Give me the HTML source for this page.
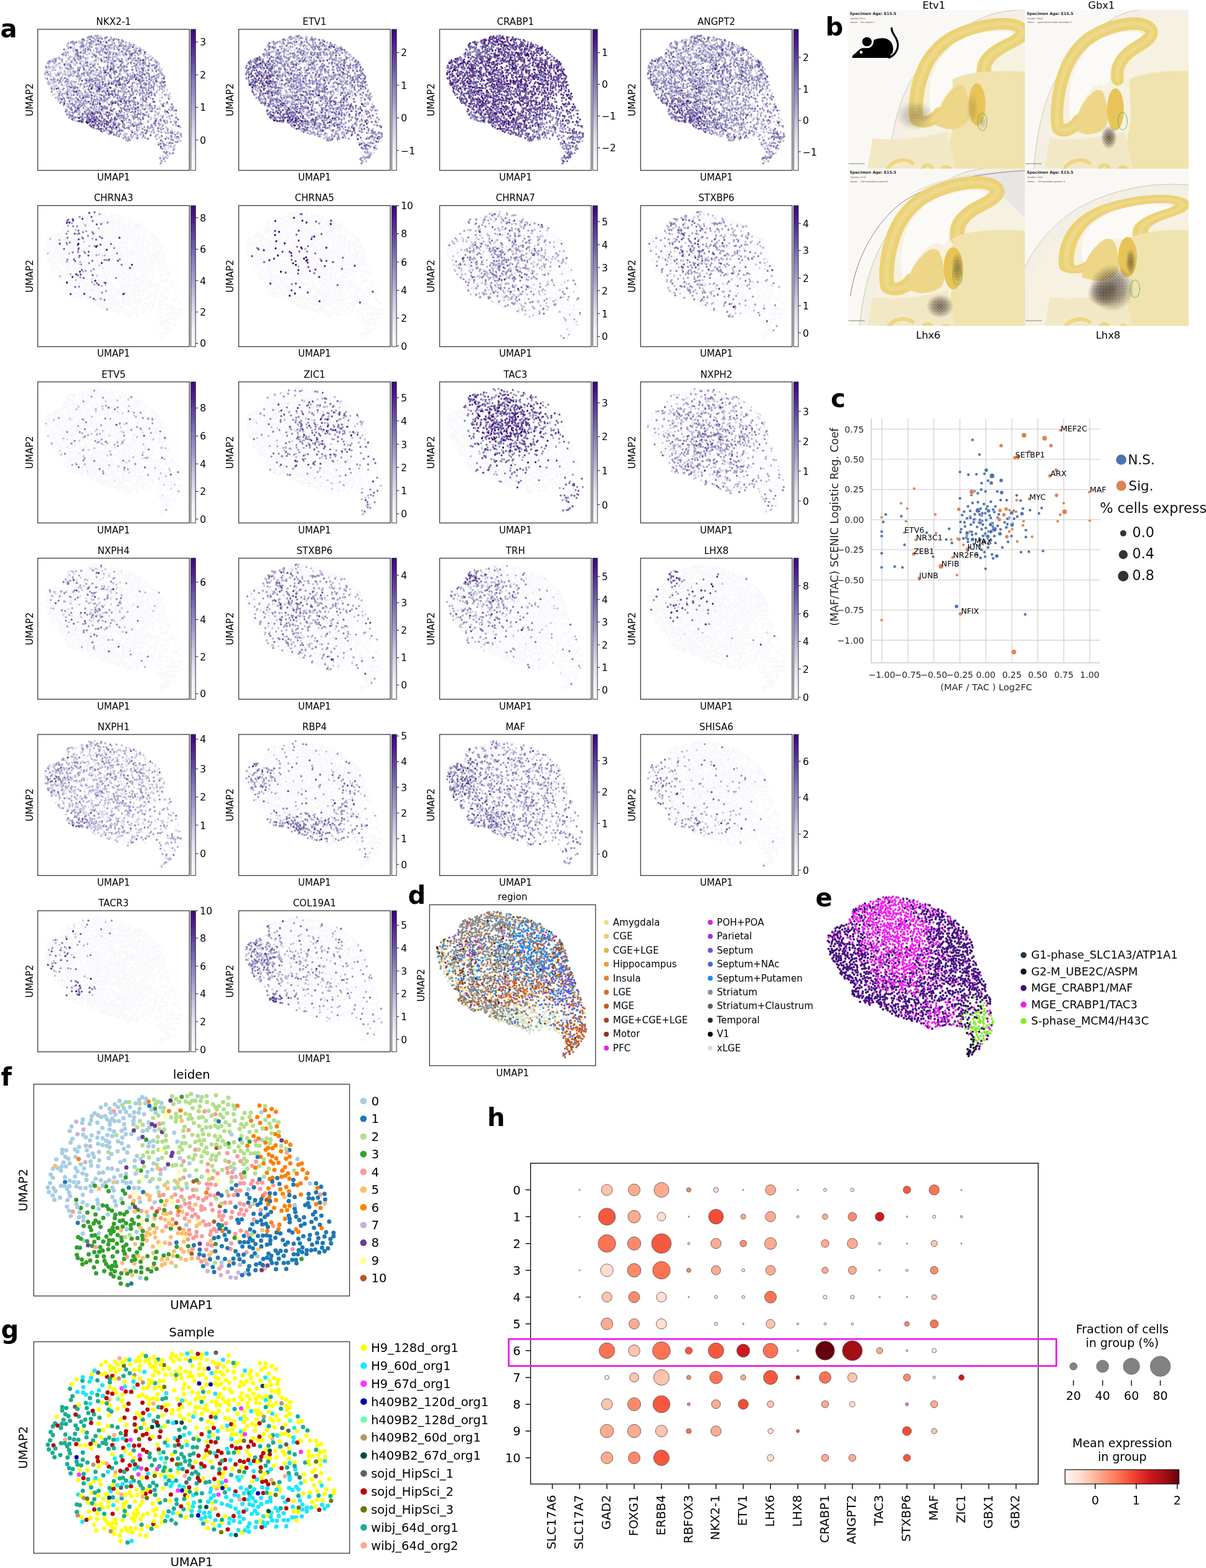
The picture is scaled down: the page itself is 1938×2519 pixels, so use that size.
<!DOCTYPE html><html><head><meta charset="utf-8"><style>html,body{margin:0;padding:0;background:#fff}svg{display:block}</style></head><body><svg width="1938" height="2519" viewBox="0 0 1938 2519" font-family="'DejaVu Sans', 'Liberation Sans', sans-serif"><rect width="100%" height="100%" fill="#fff"/><defs><linearGradient id="gP" x1="0" y1="1" x2="0" y2="0"><stop offset="0.000" stop-color="#fcfbfd"/><stop offset="0.125" stop-color="#efedf5"/><stop offset="0.250" stop-color="#dadaeb"/><stop offset="0.375" stop-color="#bcbddc"/><stop offset="0.500" stop-color="#9e9ac8"/><stop offset="0.625" stop-color="#807cba"/><stop offset="0.750" stop-color="#6950a3"/><stop offset="0.875" stop-color="#53268f"/><stop offset="1.000" stop-color="#3f007d"/></linearGradient><path id="cA" d="M173 23h0m10-2h0m4-1h0m2 3h0m5-2h0m9 2h0m91 21h0m-10-2h0m-10-3h0m-4-4h0m-2 8h0m-2 3h0m-4-1h0m0-4h0m-3-7h0m-6-2h0m-7 12h0m-1-13h0m-2 3h0m-4 7h0m-1-9h0m-1 4h0m-2-10h0m-3 6h0m-3 4h0m-5 10h0m-2-20h0m-2 16h0m-2-6h0m-1-8h0m0 4h0m-1-8h0m-4 16h0m-5-9h0m0 11h0m-4-14h0m-1 16h0m-1-4h0m-2-13h0m-2 12h0m0-9h0m-1 17h0m-2-10h0m-3-8h0m-1 18h0m-1-13h0m-3 7h0m-2-7h0m-2-6h0m0 11h0m-1 5h0m-3-17h0m-1 13h0m-3-10h0m-1 6h0m-1 11h0m-1-21h0m-2 16h0m-1-10h0m-3-8h0m0 20h0m-3-12h0m0 7h0m-1-12h0m-2 11h0m-1 6h0m0-10h0m-8 1h0m-4-3h0m0 4h0m-1 11h0m-1-5h0m-2-8h0m-1 13h0m-1-6h0m-4 4h0m-1-9h0m-3 4h0m-9 2h0m-5 3h0m-2-4h0m-3 3h0m-1-4h0m-5 2h0m-9 3h0m-13 19h0m4 5h0m4-18h0m1 5h0m2-8h0m1 16h0m1-8h0m1 4h0m3-5h0m4 4h0m4 12h0m0-15h0m3 5h0m0 5h0m1-18h0m2 15h0m0 8h0m1-14h0m1-7h0m5 15h0m1 6h0m3-5h0m6-10h0m4 7h0m1-5h0m2-4h0m0 17h0m2-14h0m4-5h0m1 16h0m0-5h0m1-5h0m1-6h0m4 17h0m1-17h0m0 11h0m2-15h0m3 9h0m0 13h0m2-5h0m4-3h0m2-6h0m1-5h0m0 14h0m2 4h0m3-13h0m3-6h0m4 0h0m0 18h0m5-7h0m3-11h0m1 11h0m1 5h0m1 4h0m5-6h0m2-10h0m2-4h0m2 19h0m2-10h0m1-10h0m0 17h0m3-11h0m1-4h0m0 20h0m2-8h0m2-12h0m2 7h0m3-4h0m1 8h0m2 3h0m3-11h0m2 12h0m0-17h0m2 9h0m3-6h0m1 8h0m2-3h0m1-7h0m2 13h0m1-4h0m2-11h0m0 8h0m2 10h0m3-10h0m1 3h0m0 5h0m3-12h0m4 4h0m3 4h0m2-10h0m1 7h0m0 8h0m4 3h0m0-14h0m1 10h0m0-14h0m4 4h0m4-5h0m1 16h0m1-4h0m3-8h0m1 13h0m2-4h0m2-7h0m1 9h0m0-15h0m3 21h0m3-3h0m1-5h0m1-5h0m1-7h0m3 21h0m1-11h0m0-11h0m0 5h0m4-5h0m0 4h0m5 4h0m4-8h0m1 16h0m3-4h0m1 9h0m1-16h0m3 15h0m0-7h0m5-2h0m2 3h0m0 6h0m3-6h0m1-5h0m1 10h0m3-3h0m7 1h0m28 26h0m-7-5h0m-6-6h0m-1 11h0m-5-19h0m-1 20h0m-2-4h0m0-10h0m-3-6h0m-2 9h0m-9-6h0m-4 1h0m0 16h0m-5 0h0m0-10h0m-4-6h0m-6-3h0m-1 10h0m0 8h0m-4 2h0m-2-17h0m-3-4h0m-1 12h0m0-5h0m-3 13h0m-1-13h0m-1 5h0m-1 5h0m-2-15h0m-1 3h0m-2 16h0m-5-8h0m-1-6h0m-3 13h0m0-16h0m-1 6h0m-4-3h0m0 4h0m-3-10h0m-1 7h0m-3-9h0m-4 19h0m-1-13h0m-2 4h0m-1-7h0m-2 4h0m-1 12h0m-2-5h0m-1-4h0m-2 9h0m0-16h0m-1 9h0m-2-5h0m-3 9h0m-1-13h0m-3 0h0m-2 6h0m-1 9h0m-2-6h0m-3-9h0m-2 7h0m-2 9h0m0-18h0m0 6h0m-4 4h0m0 9h0m-1-3h0m-2-8h0m-2-7h0m-3 11h0m0 6h0m0-14h0m-4-4h0m-2 17h0m-1 4h0m-1-21h0m0 9h0m-4 5h0m0-9h0m-3 5h0m0 8h0m-3 3h0m-2-18h0m-1-3h0m0 8h0m-4-7h0m-1 18h0m-2-12h0m-2 14h0m0-10h0m-1-10h0m-3 13h0m0-5h0m0 12h0m-5-9h0m-1-4h0m-1 10h0m-1-14h0m-2 4h0m0 4h0m-1 4h0m-2-11h0m-6 11h0m-1-11h0m-2 16h0m-2-7h0m-2 6h0m-1-12h0m-4 1h0m-1 11h0m-1-3h0m-1-18h0m-2 5h0m-2 13h0m-2-13h0m-1-5h0m0 14h0m-4 2h0m-2 7h0m-2-21h0m0 18h0m-1-5h0m-3-12h0m0 19h0m-1-5h0m-1-9h0m-1-3h0m-1 8h0m-1-12h0m-2 18h0m0-11h0m-2 8h0m-2-9h0m-1 6h0m0 9h0m-1-19h0m-1 15h0m-3 4h0m0-12h0m-6 8h0m-5-17h0m0 15h0m-4 5h0m-2-15h0m-1 5h0m-1-9h0m-4 17h0m-1-13h0m-1 6h0m-1-9h0m-6 7h0m-1-5h0m-1 11h0m-3-7h0m-9 12h0m-4-3h0m-5 3h0m-4 1h0m-6 1h0m-25 22h0m5-8h0m2-3h0m2 5h0m3-12h0m1 8h0m0-4h0m2 12h0m5-13h0m3 16h0m1-14h0m4 4h0m1-7h0m2 3h0m0-7h0m0 17h0m4 3h0m0-20h0m0 16h0m4-1h0m3-14h0m0 18h0m1-6h0m1-8h0m5 5h0m1 8h0m0-15h0m2 4h0m1-7h0m3 11h0m4 9h0m0-5h0m4-4h0m2-5h0m3 9h0m1-8h0m3 11h0m0-18h0m2 12h0m1 10h0m2-4h0m2-13h0m3 4h0m1 9h0m2-16h0m2 10h0m1 10h0m2-8h0m1-8h0m2-3h0m0 14h0m4 3h0m0-13h0m1 4h0m3 2h0m2-14h0m2 12h0m2-9h0m3 5h0m0 6h0m4 6h0m2-14h0m3 3h0m2 6h0m1 5h0m3-13h0m2 5h0m2 9h0m1-19h0m1 15h0m1-12h0m1 6h0m1 10h0m0-20h0m6 11h0m1 4h0m4-7h0m1 7h0m2-6h0m3 12h0m1-5h0m3-12h0m1 10h0m2 4h0m2-6h0m0-9h0m6 12h0m2-9h0m1-6h0m3 4h0m1 8h0m5-9h0m2 4h0m3-5h0m4 6h0m2 13h0m2-16h0m3 5h0m3-7h0m0 12h0m1-6h0m2-9h0m3 17h0m2-14h0m2 8h0m0 11h0m2-18h0m0 12h0m2-5h0m3-2h0m1-10h0m1 4h0m0 11h0m0 5h0m2-13h0m2 16h0m3-18h0m2 11h0m2-15h0m5 0h0m3 6h0m1-6h0m4 18h0m1-12h0m1 7h0m2-14h0m1 5h0m1 5h0m2 10h0m6 1h0m4-17h0m2 13h0m2-12h0m2 8h0m8 7h0m1-5h0m0-14h0m0 10h0m3-3h0m3-6h0m3 10h0m1 9h0m0-18h0m4 20h0m0-4h0m1-15h0m1 12h0m2 3h0m2-7h0m1-6h0m3 3h0m1-7h0m3 16h0m0-7h0m3-8h0m1 13h0m5 4h0m2-18h0m0 10h0m1-5h0m0 9h0m5-2h0m0-5h0m0-8h0m3 19h0m6 2h0m4-18h0m1 15h0m0-6h0m0 10h0m6-21h0m3 18h0m2-15h0m4 14h0m0-11h0m2 14h0m1-5h0m0-15h0m1 4h0m2 4h0m2 11h0m1-6h0m2-6h0m3 10h0m1-4h0m10 18h0m-1 13h0m-3-7h0m-1 6h0m-2-13h0m0-6h0m-2 10h0m-4-2h0m-6 5h0m0-14h0m0 10h0m-4-6h0m-2 17h0m-2-4h0m-4-5h0m0-12h0m-2 5h0m-7-2h0m-2 19h0m-2-12h0m-2-7h0m0 12h0m-3 4h0m-3-7h0m-5-8h0m-2 18h0m-1-23h0m-1 13h0m-1-4h0m-1 11h0m-1-15h0m-3 12h0m-2-14h0m-2 19h0m-1-6h0m-1-16h0m-1 8h0m-1 4h0m-2-10h0m-1 17h0m-3-6h0m0-12h0m-2 5h0m-10 4h0m-1 9h0m-1-18h0m-2 9h0m-12 2h0m-1-12h0m-1 19h0m-2 4h0m0-10h0m-1-12h0m-3 14h0m-1-3h0m-2 7h0m-1-3h0m-1-4h0m0-12h0m0 8h0m-6-5h0m-1-3h0m-2 8h0m0 4h0m-4 7h0m-1-5h0m0-14h0m-1 9h0m-4-6h0m-4 9h0m-1 6h0m-1 5h0m-2-8h0m-4 6h0m0-14h0m-1 10h0m-1-14h0m-1 9h0m-3-5h0m-1 12h0m0-16h0m-4 0h0m0 6h0m-2 4h0m-1-6h0m-5 14h0m-2-21h0m0 6h0m-3 16h0m0-11h0m-4 0h0m0 6h0m-3-4h0m-2 7h0m-2-9h0m0-8h0m-8 16h0m-2-14h0m0 10h0m-1 8h0m-2-22h0m-2 20h0m0-11h0m-5 0h0m-1 7h0m-3-5h0m-2 6h0m-1-14h0m-2 6h0m-3 4h0m-2 9h0m-2-14h0m0-7h0m-2 11h0m-1 3h0m-2 7h0m0-20h0m-1 16h0m-2-14h0m-1 5h0m-3-10h0m-2 17h0m0 4h0m-4-2h0m-2-9h0m-4 6h0m-2-6h0m-1-4h0m0-4h0m0 19h0m-4-21h0m-2 22h0m-7-14h0m0-6h0m-3 15h0m0-6h0m-1-8h0m-1 19h0m-1-9h0m0-7h0m-3 10h0m-6-4h0m-1 5h0m-3 5h0m-1-7h0m-1-9h0m-4 16h0m0-5h0m-2-16h0m-1 4h0m0 5h0m-2 8h0m-2-4h0m0-6h0m0-4h0m-4 3h0m-1 4h0m-1 5h0m-2 3h0m0-13h0m-2-5h0m-3 4h0m-2 15h0m-1-6h0m-2 5h0m-4-14h0m-2 5h0m-1-7h0m-3-3h0m0 18h0m-2-11h0m-3 16h0m0-21h0m0 13h0m-4 2h0m-2 3h0m-3-18h0m-2 15h0m-2-6h0m-1-9h0m-2 20h0m-2-19h0m-2 9h0m-2-5h0m-2-5h0m-1 9h0m-3 4h0m-2 7h0m-1-20h0m-3-2h0m0 6h0m-3 10h0m-2-9h0m-1 12h0m-2-17h0m-2 12h0m-2-10h0m0 17h0m0 4h0m1 12h0m6 1h0m1-4h0m2 12h0m0-21h0m6 8h0m1-7h0m2 16h0m2-12h0m2 13h0m3-1h0m0-6h0m4 11h0m1-7h0m2-16h0m1 7h0m2 13h0m1-15h0m3 14h0m2-17h0m0 10h0m6 8h0m2-15h0m0 10h0m3-5h0m4-5h0m0-5h0m1 20h0m1-5h0m4-2h0m2-11h0m1 21h0m1-16h0m1 6h0m3 4h0m2-12h0m1 18h0m1-21h0m0 17h0m2-8h0m1 12h0m0-16h0m4-5h0m0 7h0m4 7h0m0 7h0m0-19h0m3 2h0m3-1h0m5 8h0m3-9h0m2 4h0m0 8h0m4-5h0m0-6h0m3 18h0m1-17h0m1 11h0m0-15h0m2 10h0m2 7h0m2-15h0m2 17h0m6-18h0m3 5h0m1 10h0m4 2h0m0-6h0m2-12h0m2 20h0m1-6h0m2-11h0m1-5h0m1 21h0m1-7h0m2-6h0m1 9h0m2 6h0m2-5h0m2-12h0m0 17h0m2-11h0m2 10h0m0-20h0m4 12h0m1-12h0m1 19h0m2-6h0m1-13h0m0 7h0m1 10h0m2-4h0m3-11h0m2 15h0m0-6h0m3-6h0m0 16h0m5-14h0m0-4h0m1 11h0m3-3h0m5-7h0m1 10h0m1-6h0m1 12h0m3-19h0m7 16h0m3 3h0m2-19h0m0 4h0m0 3h0m4 3h0m0-9h0m1 16h0m8-11h0m0 14h0m2-22h0m1 11h0m1 6h0m0 4h0m5 1h0m1-14h0m3-6h0m0 19h0m1-15h0m3 11h0m1-18h0m1 14h0m2-6h0m1-6h0m3 14h0m3-6h0m1 6h0m1 3h0m4-9h0m0 12h0m4-8h0m3 6h0m1-12h0m0 5h0m2-11h0m2 3h0m3 13h0m2-10h0m1-8h0m3 14h0m0-4h0m2-4h0m2 9h0m0-4h0m3-11h0m0 5h0m3 6h0m2-5h0m0-5h0m4 16h0m1-6h0m1-10h0m4 11h0m1 8h0m1-18h0m1 4h0m0 10h0m4 1h0m1-11h0m2 2h0m3-6h0m0 10h0m1 7h0m3-11h0m1 6h0m1 7h0m2-19h0m6 9h0m0-11h0m1 20h0m2-14h0m6 0h0m0 11h0m1-5h0m5 8h0m2-8h0m2-3h0m0 8h0m5 4h0m1-15h0m1 4h0m2 4h0m1 4h0m2 5h0m1-14h0m0-5h0m1 15h0m0-4h0m4-12h0m1 6h0m1-9h0m3 4h0m2 11h0m6-12h0m1 11h0m2 5h0m1-16h0m2 11h0m2-6h0m5 26h0m-4 2h0m0-11h0m-1 21h0m-1-5h0m-1-14h0m-6-3h0m0 16h0m-1-12h0m-1 8h0m-1-5h0m-2-3h0m-2 19h0m0-6h0m-2-5h0m-2-11h0m-4 14h0m-2-13h0m0 9h0m-8-5h0m0 5h0m-2 6h0m-1-15h0m0 19h0m-6-9h0m0 5h0m-2 4h0m-1-17h0m-4 4h0m0-6h0m-1 13h0m0 6h0m-8-12h0m-2 12h0m0-15h0m-1 6h0m0-11h0m-4 4h0m-1 15h0m-5-9h0m-1-11h0m-1 19h0m-2-3h0m0-6h0m-2-4h0m-1 14h0m-1-20h0m-2 8h0m-4-1h0m-2 8h0m-1-6h0m0 14h0m-3-20h0m-1 18h0m-6-19h0m-2 15h0m-2-11h0m-2 7h0m-1 10h0m-1-7h0m-6 2h0m-2-18h0m-4 4h0m-5 19h0m-2-9h0m0-4h0m-4 9h0m-1-14h0m-1 17h0m0-11h0m-3-3h0m0 8h0m-1-4h0m-3 10h0m-3-13h0m-1 10h0m-2-14h0m0-4h0m-2 10h0m-1-9h0m-1 16h0m-2-9h0m-4 7h0m0 5h0m-1-15h0m-1 6h0m-1 7h0m-6-16h0m-1 5h0m-3-7h0m-2 6h0m-2-4h0m-2 17h0m-5-15h0m-1 12h0m0-16h0m-2 7h0m-5 8h0m0-10h0m-4 3h0m-2 5h0m-1-8h0m-3 14h0m-2-18h0m-1 7h0m-1-9h0m-1 20h0m0-3h0m-3-9h0m-1 12h0m-2-6h0m-2-11h0m0 6h0m-1 9h0m-3-14h0m-1 12h0m-2 4h0m0-11h0m-1-8h0m-3 13h0m0 5h0m-3 3h0m0-17h0m-1 5h0m-3 13h0m-2-9h0m-3 3h0m0-7h0m-2 13h0m-3-6h0m0-10h0m-3 5h0m-1-11h0m-1 16h0m-3-14h0m-3 11h0m-4-9h0m-4 2h0m-1 9h0m-3-5h0m0 11h0m-8-14h0m0 13h0m-3-8h0m-3 8h0m-3-13h0m-2 12h0m-5-19h0m-1 19h0m-2-9h0m0 6h0m-2 5h0m-1-8h0m0-13h0m0 18h0m-1-13h0m-3-3h0m-2 15h0m-1-7h0m-2-4h0m-2 11h0m-1-14h0m-3 10h0m-3-7h0m-1 10h0m-2-11h0m-2 5h0m0 5h0m-2-11h0m-1 16h0m-3-20h0m-2 10h0m-2 11h0m-2-8h0m-2-8h0m0 15h0m-3-21h0m0 11h0m-1-4h0m-2 10h0m0-15h0m-4-2h0m-3 22h0m0-16h0m-1 11h0m-5 6h0m-2-11h0m-1-12h0m-3 18h0m-2-6h0m-1-8h0m-4 12h0m-1-6h0m-1-8h0m-1 21h0m-2-6h0m-1-14h0m0 4h0m-3 4h0m-1-7h0m-2 3h0m-1 4h0m-1-9h0m-1 4h0m11 24h0m1 3h0m3 4h0m2 6h0m3-18h0m3 15h0m3-11h0m4 4h0m6 12h0m0-6h0m1-11h0m1 7h0m1-3h0m4 11h0m3-4h0m1 8h0m1-21h0m5 12h0m4 1h0m1-7h0m2 5h0m2 8h0m1-3h0m0-18h0m0 6h0m4 8h0m1-7h0m0 16h0m1-22h0m3 9h0m1 6h0m2 5h0m1-15h0m2 6h0m3-12h0m0 7h0m1 12h0m3-6h0m1-4h0m3-3h0m1 9h0m2-6h0m2-6h0m1 16h0m2-6h0m3-8h0m2 9h0m1 7h0m0-14h0m5 7h0m3 6h0m6-1h0m1-9h0m1-5h0m2 13h0m2-7h0m1 10h0m4-6h0m1-14h0m2 21h0m2-20h0m1 6h0m5 3h0m0 7h0m2 3h0m3 2h0m0-16h0m3 6h0m1 8h0m4-2h0m1-8h0m1-8h0m3 4h0m2 9h0m0-13h0m1 7h0m4-4h0m0-6h0m2 17h0m4-17h0m1 19h0m1-13h0m4 3h0m0 11h0m3-16h0m4 17h0m0-12h0m2 4h0m0-13h0m2 19h0m1-3h0m2-11h0m1-5h0m2 9h0m2 10h0m1-6h0m2-7h0m4 11h0m4-11h0m0 9h0m1 4h0m3-19h0m3 5h0m0 8h0m0-3h0m2-8h0m2 14h0m1 3h0m3-13h0m0 15h0m3-19h0m1 18h0m0-6h0m1-9h0m0 5h0m6-4h0m3 2h0m4-8h0m1 4h0m1 5h0m0 13h0m3-6h0m0-14h0m3 8h0m5 6h0m2-5h0m5-4h0m2 5h0m3 5h0m0-9h0m3 13h0m2-16h0m2 14h0m1-9h0m3 5h0m4-14h0m1 6h0m5 10h0m0-12h0m4 5h0m6 8h0m0-14h0m1 9h0m3-1h0m3 2h0m1-14h0m1 6h0m1 16h0m1-13h0m3 4h0m4 7h0m1-17h0m4 8h0m0 5h0m5-12h0m1 13h0m2-5h0m4-6h0m2 6h0m1 7h0m7-18h0m1 15h0m2 5h0m6-12h0m3-6h0m5 1h0m1 13h0m6 3h0m3-8h0m0-12h0m5 5h0m3 12h0m3 5h0m3-4h0m1-15h0m0 5h0m5 14h0m3-7h0m3 9h0m-4 10h0m-1-4h0m-2-3h0m-3 2h0m-1 14h0m-9-9h0m0 12h0m-7-18h0m-6 9h0m0-8h0m-18 12h0m-4-1h0m-1-8h0m-7-4h0m-7-3h0m-5 20h0m-2-18h0m-1 6h0m-1 7h0m-4-15h0m-2 13h0m-2-3h0m-1-5h0m-1 13h0m-4-7h0m-1-5h0m-3 7h0m-1 4h0m-6 5h0m-2-5h0m-6-14h0m-2 15h0m-2-7h0m-1-7h0m-2 12h0m-5-4h0m-4-11h0m-1 13h0m-2 3h0m-1-17h0m-1 6h0m0 15h0m-1-8h0m-5 0h0m-3-8h0m0 12h0m0 4h0m-1-21h0m-3 5h0m-1 8h0m0 8h0m-1-22h0m-4 4h0m-1 16h0m-1-11h0m-3-6h0m-1 13h0m0-8h0m-4 6h0m-1-14h0m0 5h0m-4 9h0m-2-6h0m-1 13h0m0-17h0m-4 13h0m-2 3h0m-2-4h0m-1-15h0m-4 0h0m0 19h0m-4 2h0m0-8h0m-5 4h0m-1-11h0m-2-5h0m-4 2h0m-1 5h0m-2 12h0m-1-5h0m-1-8h0m-5 5h0m0-8h0m-3 13h0m-1-12h0m0 6h0m0-10h0m-4 19h0m-1-7h0m-3-2h0m-1-5h0m-4 6h0m0-10h0m-1 17h0m-4-10h0m-3 3h0m0 6h0m-1-10h0m-1-7h0m-3 9h0m-3 4h0m-1-14h0m-1 9h0m-2 4h0m-2 4h0m-1-11h0m-4 12h0m0-13h0m-1 7h0m-2-11h0m-1 21h0m-5-20h0m-1 14h0m-4 4h0m-1-20h0m-1 14h0m-2 7h0m0-19h0m-3 12h0m0-6h0m-1-9h0m-3 23h0m0-7h0m-1-16h0m-2 4h0m-2 18h0m-2-11h0m-2 12h0m-1-5h0m0-13h0m-2 10h0m-1-14h0m-3 12h0m-2 6h0m-1-4h0m-1-7h0m-1 10h0m-3-14h0m-2 7h0m-1 4h0m-1 4h0m-2-10h0m-5-2h0m-1 7h0m-1 9h0m-3-13h0m-2 4h0m0-9h0m-4 4h0m-1 5h0m0 4h0m-1 5h0m-2-18h0m-3-2h0m0 20h0m-7-8h0m-2-6h0m-1 14h0m0-5h0m-2-13h0m-2 16h0m-3-13h0m-1 12h0m-1-3h0m-4-12h0m-1 15h0m0-9h0m-3 4h0m-1-4h0m-2-10h0m0 6h0m-8-3h0m27 24h0m7 13h0m2 3h0m0-13h0m4 3h0m1-6h0m4 6h0m3 5h0m0-15h0m3 12h0m2-6h0m0 13h0m4-14h0m4-2h0m0 5h0m2 13h0m1-10h0m2 8h0m0-19h0m3 5h0m2 7h0m0 6h0m2-12h0m1 7h0m1 8h0m3-20h0m1 8h0m1-4h0m4 15h0m1-15h0m5 7h0m1-9h0m1 13h0m2-10h0m2 16h0m2-11h0m1 9h0m4 0h0m1-6h0m3 4h0m2 4h0m0-14h0m3 11h0m2-7h0m0-10h0m3 3h0m1 6h0m3-10h0m0 16h0m3-12h0m1 16h0m0-7h0m2-3h0m1-10h0m3 15h0m1-7h0m1-8h0m5 14h0m2 7h0m2-7h0m0-15h0m1 8h0m3-1h0m2 11h0m2-9h0m2 5h0m4 4h0m0-11h0m0 5h0m4 2h0m1-5h0m4 7h0m1-4h0m4 10h0m3-21h0m4 11h0m1 9h0m0-4h0m2-8h0m1-6h0m2 20h0m1-4h0m4-3h0m14-15h0m2 4h0m2 18h0m2-12h0m3 7h0m0-16h0m2 13h0m4-2h0m4-2h0m0 7h0m3-12h0m1 15h0m2-2h0m0-16h0m4 14h0m2-9h0m0 11h0m4-5h0m0 4h0m1-15h0m3 2h0m3 8h0m3 3h0m3-6h0m0-8h0m1 16h0m2-18h0m3 18h0m0-15h0m1 11h0m4-2h0m0 4h0m1-15h0m4 20h0m0-11h0m3 7h0m4-9h0m0 14h0m0-19h0m2 12h0m3-10h0m2-3h0m0 12h0m2-8h0m4 11h0m3-2h0m1-10h0m2 7h0m3-9h0m3 13h0m2-7h0m3 6h0m0-11h0m1-4h0m1 23h0m2-16h0m3 15h0m0-11h0m1 5h0m8-3h0m0-7h0m1 17h0m7-7h0m7-7h0m1 6h0m4 6h0m0-21h0m4 4h0m2 3h0m1-6h0m5 7h0m1 12h0m3-19h0m5-1h0m4 17h0m6-7h0m0 10h0m3-19h0m1 9h0m0 7h0m3-9h0m2 4h0m3 9h0m6 0h0m-1 23h0m-1-12h0m-12 4h0m-7 10h0m-2-7h0m-2-10h0m-4-4h0m0 17h0m-4-10h0m-3-7h0m-7 14h0m-1 5h0m-5-6h0m-6-10h0m-4 10h0m0-6h0m-5-7h0m-3 6h0m-1 6h0m-3 7h0m-9-2h0m-8-2h0m-1-7h0m-5 5h0m0-12h0m-4 2h0m-3 7h0m-3 2h0m-2-5h0m-1 12h0m-6-15h0m-2 8h0m-1-5h0m-1 14h0m-5-14h0m0-5h0m-1 19h0m-2-5h0m-1-6h0m-5-11h0m-1 9h0m0 10h0m-2-6h0m-2 9h0m-1-17h0m-1 12h0m-2-16h0m-3 21h0m0-10h0m-2-10h0m-6-2h0m0 13h0m-4-7h0m0 11h0m-2 4h0m-1-11h0m0-10h0m-6 22h0m-2-3h0m-1-7h0m0-7h0m-1 10h0m-3 5h0m-3-7h0m-2-13h0m-1 19h0m-1-6h0m-1-9h0m-2 17h0m-2-8h0m-2 8h0m-1-14h0m0 8h0m-3 7h0m-2-13h0m0 6h0m-2-12h0m-3 16h0m-1 3h0m-5-20h0m-2 8h0m-4 12h0m-2-13h0m-3 3h0m-2-8h0m-2 9h0m-1 8h0m-4-19h0m-1 13h0m-2-5h0m-1-7h0m-6 6h0m-4-8h0m0 22h0m-2-7h0m-1 5h0m-2-11h0m-2-3h0m-2-5h0m-1 14h0m-3-12h0m-3 1h0m0 18h0m-3-23h0m0 19h0m-3-4h0m-1-14h0m-2 21h0m0-17h0m-2 3h0m-2 11h0m0-8h0m-1-7h0m-3 3h0m-2-5h0m0 13h0m0 6h0m-4-9h0m0-3h0m-2-5h0m-1 12h0m-3 4h0m-1-11h0m0-5h0m-3 19h0m0-7h0m-1-5h0m-2-3h0m-1 11h0m-1-17h0m-1 6h0m-3-7h0m-2 19h0m-2-12h0m-3-1h0m-1 4h0m0 4h0m-1 6h0m-4-5h0m-2-14h0m-2 10h0m-1-6h0m0 15h0m-2-11h0m-4 9h0m-1-14h0m-1-4h0m-4 17h0m-3-16h0m-1 20h0m-2-5h0m0-11h0m-4 12h0m0-6h0m0-9h0m-3 13h0m-2-3h0m-1 7h0m-2-10h0m-1-9h0m-2 17h0m0 4h0m-2-16h0m-3 5h0m-3-3h0m-3-8h0m22 25h0m2 3h0m7 0h0m4 3h0m6-1h0m3 2h0m2-3h0m5 3h0m0-4h0m4 6h0m0-5h0m1-4h0m12 9h0m0-5h0m3 8h0m2-6h0m2-5h0m1 9h0m3-9h0m0 17h0m0-12h0m4-5h0m0 12h0m4-5h0m1 11h0m2-9h0m1-10h0m1 20h0m2-16h0m1 5h0m2 5h0m0-13h0m1 6h0m3 13h0m2-13h0m1 11h0m3-18h0m1 4h0m0 8h0m3 4h0m3-11h0m0 5h0m1 11h0m3-5h0m2-6h0m1-5h0m5-4h0m0 6h0m0 7h0m6-8h0m0 7h0m2-4h0m0 9h0m4 0h0m2-7h0m3-3h0m1-4h0m3-3h0m0 8h0m1 7h0m3-11h0m1 17h0m0-21h0m3 10h0m0 5h0m0 4h0m3-14h0m1-4h0m0 11h0m1 4h0m4 4h0m0-20h0m3 12h0m4 9h0m0-4h0m1-4h0m3 2h0m5-12h0m3 13h0m0-10h0m1 4h0m0 10h0m3-18h0m0-4h0m1 17h0m2 4h0m3-16h0m3-4h0m1 11h0m5 10h0m1-11h0m1-8h0m4 6h0m1 5h0m1 8h0m1-18h0m5 14h0m3-15h0m0 20h0m1-9h0m4-3h0m0-7h0m2 16h0m1-5h0m2 8h0m0-5h0m5-16h0m1 17h0m0-5h0m3 3h0m3-14h0m0 8h0m2 5h0m5 1h0m2-17h0m5 12h0m10-5h0m1 4h0m6-7h0m2-4h0m3 20h0m7-4h0m3-6h0m1-9h0m2 20h0m0-7h0m1-8h0m2-6h0m6 15h0m1-7h0m1 15h0m2-4h0m3-17h0m1 4h0m0 11h0m7 3h0m3-16h0m2 4h0m4 7h0m0-11h0m3 2h0m2 5h0m11-1h0m8 9h0m4-11h0m2 5h0m3 7h0m1-10h0m5-8h0m2 21h0m4 0h0m4 23h0m-3-19h0m-1 19h0m-6-3h0m-3 3h0m-9-4h0m-3 4h0m-4-14h0m0 8h0m0 5h0m-4-2h0m-1 4h0m0-11h0m-8 9h0m-1-13h0m-1 5h0m-5-10h0m0 18h0m-6-3h0m-2-10h0m-4-6h0m-3 17h0m-1-9h0m-2-4h0m-2 11h0m-5-3h0m0-9h0m-14 14h0m-1-11h0m0-4h0m-1 9h0m-3-6h0m0-6h0m-3 17h0m-2-17h0m-3 5h0m-2 9h0m-4-14h0m-1 4h0m-3 17h0m0-5h0m0-4h0m-4 9h0m-2-11h0m-1-9h0m-5 18h0m-1-12h0m-3 10h0m-1-18h0m-1 21h0m-7-18h0m0 7h0m-4 4h0m-2-10h0m-1 6h0m-3 7h0m-4 0h0m-7 2h0m0-7h0m-5 2h0m-6-5h0m-1-5h0m-6 0h0m-6 3h0m-1 15h0m-1-19h0m-3 10h0m0-11h0m-4 0h0m0 12h0m-3-4h0m-1 5h0m-2 5h0m-1-8h0m-3 3h0m0-9h0m-3-3h0m-3 16h0m-1-8h0m-2-8h0m-1 4h0m-4 0h0m-2 15h0m-3-19h0m-2 16h0m-1-9h0m-1-5h0m-2 13h0m0 5h0m-3-22h0m-1 19h0m-1-4h0m-2-13h0m-2 10h0m-5 8h0m0-17h0m-1 8h0m-2-5h0m-2 4h0m-1-7h0m-2 10h0m-1-14h0m-2 11h0m-2-4h0m0 10h0m-6-9h0m0 6h0m-6-5h0m-2-9h0m0 4h0m-3 3h0m-6 1h0m-8-4h0m-7-4h0m57 24h0m17 2h0m5 1h0m4-2h0m2 7h0m5-5h0m0 5h0m5-7h0m9 0h0m0 13h0m3-9h0m4 6h0m1-11h0m1 20h0m0-13h0m3 8h0m0-15h0m2 22h0m3-11h0m1 6h0m3 3h0m3-13h0m1-4h0m0 13h0m2-5h0m3-1h0m3-3h0m4-7h0m3 12h0m2 6h0m1-18h0m2 14h0m1-9h0m0 5h0m2 6h0m7-14h0m5 10h0m4-9h0m1 4h0m4 6h0m10 3h0m9-11h0m1-4h0m15 7h0m3 9h0m1-14h0m3 2h0m6 7h0m4 8h0m2-13h0m13 9h0m4-5h0m4 4h0m3-5h0m4-2h0m2 10h0m2-11h0m0 5h0m5 8h0m2-8h0m2-12h0m3 2h0m0 8h0m4 4h0m2-4h0m3 0h0m1 6h0m5-4h0m2 10h0m1-20h0m1 5h0m-12 18h0m-3 2h0m-3 20h0m-1-22h0m-2 20h0m0-8h0m-3 2h0m-1 6h0m-3-15h0m-4 0h0m-1 10h0m-3-13h0m-2 2h0m0 11h0m-3 5h0m-2-8h0m-2-8h0m-4 7h0m-4 4h0m0 4h0m-2-8h0m-1-5h0m-2 8h0m-2-10h0m-1-4h0m-4 16h0m-1-9h0m0 12h0m-6-15h0m0 5h0m11 14h0m1 23h0m4-13h0m3-10h0m2 14h0m3-7h0m1-5h0m0 17h0m1-8h0m3 11h0m1-5h0m3-8h0m1 12h0m0-7h0m4 2h0m7-2h0m3-11h0m-17 24h0m-5 3h0m-2-3h0m-3 13h0m-2-12h0m-3 5h0m-3-6h0m-3 14h0m-2-12h0m-1 9h0m-1 9h0m-2-17h0m-3 4h0"/><radialGradient id="gSt"><stop offset="0" stop-color="#4a3c36" stop-opacity=".6"/><stop offset=".6" stop-color="#6a5a48" stop-opacity=".3"/><stop offset="1" stop-color="#8a7a60" stop-opacity="0"/></radialGradient><radialGradient id="gW"><stop offset="0" stop-color="#fff"/><stop offset=".5" stop-color="#fff" stop-opacity=".8"/><stop offset="1" stop-color="#fff" stop-opacity="0"/></radialGradient><mask id="mSp" maskContentUnits="objectBoundingBox"><rect width="1" height="1" fill="url(#gW)"/></mask><pattern id="pSp" width="5" height="5" patternUnits="userSpaceOnUse"><path d="M1 1h.9M3.4 2.2h.9M.6 3.6h.9M2.6 4.3h.8M4 .2h.8" stroke="#2a1e1c" stroke-width="1" stroke-linecap="round"/></pattern><linearGradient id="gR" x1="0" y1="0" x2="1" y2="0"><stop offset="0.000" stop-color="#fff5f0"/><stop offset="0.125" stop-color="#fee0d2"/><stop offset="0.250" stop-color="#fcbba1"/><stop offset="0.375" stop-color="#fc9272"/><stop offset="0.500" stop-color="#fb694a"/><stop offset="0.625" stop-color="#ee3a2c"/><stop offset="0.750" stop-color="#ca181d"/><stop offset="0.875" stop-color="#a30f15"/><stop offset="1.000" stop-color="#67000d"/></linearGradient></defs><g transform="scale(.5)" fill="none" stroke-width="6.6" stroke-linecap="round"><path stroke="#fcfbfd" d="M284 133h0m-53 33h0m124-15h0m-28 34h0m-13-10h0m-31 16h0m-92 5h0m5 6h0m41 11h0m114-5h0m69 2h0m-116 14h0m-79-6h0m-22 1h0m-22 12h0m-27 17h0m33 3h0m45 3h0m86-3h0m-123 28h0m-31-14h0m5 34h0m282 25h0m-227-5h0m-25 12h0m255 18h0m-20 37h0m84 121h0"/><path stroke="#f7f5f9" d="M338 126h0m-43-2h0m-72 25h0m75-5h0m83 29h0m-46 15h0m-6-16h0m-146 20h0m14 22h0m7-12h0m27 7h0m263 24h0m-311-17h0m211 71h0m-133-4h0m-59-15h0m-22 23h0m273 7h0m83-4h0m-19 61h0m43 75h0m-48 82h0"/><path stroke="#f1f0f6" d="M279 128h0m167 30h0m-68 23h0m-37-2h0m-55 9h0m-3-7h0m-28-12h0m-93 40h0m27 1h0m9-1h0m19-11h0m32 6h0m48-4h0m24-5h0m1 8h0m21-2h0m67 14h0m38 0h0m42 0h0m-44 11h0m-46 8h0m-27 3h0m-148-9h0m-37 3h0m-43-13h0m50 25h0m17 2h0m2 6h0m14-4h0m15 4h0m224 12h0m48-10h0m18 20h0m-21 2h0m-277-10h0m-22 2h0m-1 17h0m-11 0h0m-41-11h0m-4 0h0m76 25h0m143-6h0m162 23h0m-72 79h0m82 44h0m-7 57h0m4 4h0"/><path stroke="#eae8f1" d="M215 150h0m172 35h0m-27-7h0m-26-2h0m-4 5h0m-19-3h0m-14 1h0m-9 4h0m-46-14h0m-22 3h0m-6 13h0m-11-3h0m-17 24h0m49-3h0m4-6h0m14 5h0m25-10h0m214 3h0m3 42h0m-56-21h0m-207 15h0m-26 2h0m-31 3h0m-8 8h0m57 17h0m36-3h0m98 1h0m9-12h0m20-1h0m73 1h0m-80 33h0m-6 3h0m-50-12h0m-86-3h0m34 37h0m35-8h0m212 9h0m8 14h0m-173-3h0m-110 4h0m44 21h0m61 15h0m74 23h0m-7-9h0m-35 8h0m-133-16h0m285 23h0m-43 27h0m-84 24h0m33 11h0m6-2h0m119 32h0m-21 9h0m-2 18h0"/><path stroke="#e1e1ed" d="M345 140h0m-34-12h0m-55 2h0m-39 12h0m2 17h0m7 8h0m28-17h0m79 17h0m26-10h0m3-7h0m2 10h0m16-16h0m70 8h0m20 15h0m7 8h0m-75 2h0m-16-5h0m-6 13h0m-69 3h0m-11-3h0m-3-10h0m-20 1h0m-3 8h0m-36-8h0m-48 16h0m55 19h0m22-12h0m18 16h0m4-13h0m20 1h0m7-6h0m22 15h0m161-16h0m-24 35h0m-100-5h0m-58-2h0m-89 1h0m-28-1h0m-33-8h0m2 42h0m10-13h0m66-3h0m11-2h0m17 6h0m25-2h0m110 2h0m20-3h0m96 14h0m-76 13h0m-8 15h0m-3-2h0m-66-2h0m-116 2h0m-17-6h0m-34-1h0m-35-3h0m47 35h0m82 2h0m1-17h0m79-5h0m135 15h0m28 11h0m-8 21h0m-19-20h0m-109 2h0m-107 1h0m-70 6h0m-26 8h0m-9-11h0m38 20h0m61-5h0m137 16h0m70 13h0m-47 6h0m-87-11h0m-109 10h0m173 15h0m149 20h0m-25 9h0m-5 5h0m-62 12h0m-50-8h0m-14 24h0m5-7h0m117 0h0m14 2h0m20 0h0m-33 29h0m-10 9h0"/><path stroke="#d7d7e8" d="M325 117h0m33 13h0m-10 13h0m-41-8h0m-5 3h0m-91 25h0m28-11h0m20 5h0m22 8h0m20-20h0m18 4h0m2-5h0m93 0h0m10 23h0m13-19h0m-23 25h0m-6 7h0m-32-10h0m-21 6h0m-37 15h0m-24-19h0m-48 10h0m-3 6h0m-3-4h0m-8 0h0m-13-7h0m-72 34h0m31-2h0m36 6h0m67-20h0m12 4h0m7 8h0m32-14h0m21 1h0m9 6h0m48-5h0m35 4h0m50-1h0m4 9h0m11 2h0m-22 11h0m-8-2h0m-6 0h0m-4 20h0m-19-21h0m-8 16h0m-34 0h0m-23 0h0m-2-10h0m-72 9h0m-13 5h0m-2-13h0m-1-8h0m-8 3h0m-35 13h0m-6-1h0m-16 5h0m-15-2h0m-16-17h0m-9 13h0m-13-14h0m-9 6h0m-3 3h0m-3 4h0m-6-9h0m-5 2h0m29 36h0m18 4h0m3-19h0m19 14h0m1-8h0m25 6h0m65 8h0m40-3h0m28-19h0m17 17h0m100-10h0m3 8h0m9 7h0m20 21h0m-72-11h0m-92 13h0m-29-17h0m-21-3h0m-14 19h0m-9-6h0m-48 3h0m-2-9h0m-34 0h0m-38 5h0m-7-9h0m14 34h0m45-3h0m5-3h0m12 2h0m6 3h0m123-3h0m47 0h0m92-9h0m25 18h0m16 3h0m-5 9h0m-4 14h0m-90-5h0m-119 3h0m-70 1h0m-39 0h0m-31-8h0m57 14h0m16 15h0m27 0h0m122-1h0m39-11h0m62 2h0m16-2h0m-21 30h0m-21 5h0m-76-13h0m-2 15h0m-182-1h0m134 10h0m16 8h0m77 11h0m28-21h0m96 42h0m-17-4h0m-33 0h0m-14-1h0m-35-2h0m-8 7h0m-39-5h0m-7-5h0m-25 10h0m-8-19h0m-48 18h0m52 5h0m41 10h0m70-7h0m54 40h0m-19 1h0m-13-2h0m0 4h0m-6 23h0m17-1h0m-16 6h0"/><path stroke="#cbcce1" d="M304 116h0m34 3h0m67 24h0m-22-4h0m-44-9h0m-10 6h0m-9-15h0m-17 12h0m-19-7h0m-64 24h0m11 1h0m3 4h0m1 5h0m2-3h0m25 8h0m4 1h0m51-8h0m13-9h0m10 7h0m35-6h0m5 1h0m4 11h0m1-4h0m16-2h0m33-1h0m10-1h0m11 5h0m6 2h0m-39 30h0m-18-4h0m-29-2h0m-6-16h0m-12 0h0m-10 6h0m-26-4h0m-13 17h0m-6-9h0m-22-4h0m-13 5h0m-6 10h0m-13-4h0m-35-13h0m-61 30h0m7-9h0m23 17h0m1-4h0m14-13h0m15 9h0m1-6h0m7 12h0m18-3h0m8-8h0m18-2h0m42 13h0m88-14h0m2 15h0m25-5h0m10-11h0m4 15h0m62 4h0m8-8h0m8 11h0m-12 9h0m-140-7h0m-1 16h0m-7-13h0m-44 6h0m-2 6h0m-21 5h0m-9-14h0m-5 6h0m-30-3h0m-23-2h0m-1 5h0m-9 4h0m-7 4h0m-23 1h0m-33 13h0m9 8h0m7-13h0m41 11h0m1-5h0m14-9h0m13-2h0m7 2h0m44 16h0m2-6h0m15-4h0m7-10h0m20 3h0m12 17h0m10-2h0m9-16h0m5 21h0m26-23h0m59 4h0m15 8h0m12-8h0m20 15h0m10-1h0m9-16h0m-7 36h0m-2-14h0m0 9h0m-67-7h0m-4 21h0m-91-18h0m-33 12h0m-3 3h0m-7-7h0m-78-8h0m-24 0h0m-10 11h0m-12-6h0m-7-10h0m-2 28h0m5 13h0m13-10h0m7-5h0m21 4h0m11 15h0m7-17h0m79-3h0m4 13h0m77-8h0m4-4h0m12 12h0m12-7h0m93-5h0m26-1h0m-20 45h0m-45-3h0m-18-9h0m-13 13h0m-50-22h0m-46 18h0m-9-3h0m-23-5h0m-12 1h0m-9-11h0m-42 12h0m-11-6h0m-6 5h0m-4-4h0m-14 21h0m43-2h0m13 12h0m63 2h0m25-10h0m89 8h0m22-5h0m6 4h0m73 5h0m16 11h0m-28 10h0m-4-10h0m-16 6h0m-6-10h0m-15 17h0m-52-18h0m-69 12h0m-99-13h0m-11 9h0m-28 6h0m-18-11h0m22 22h0m4 3h0m113 11h0m4 5h0m13-1h0m19-4h0m6 3h0m7-8h0m6 9h0m8-18h0m9 10h0m7 2h0m22 1h0m40-15h0m12 21h0m71 24h0m-34 0h0m-27-21h0m-28 3h0m-40 17h0m-6-12h0m-38 14h0m-13-10h0m-6-4h0m-2 5h0m-2 5h0m-47-9h0m-1-7h0m-22 0h0m104 28h0m147 7h0m-9 25h0m-18-2h0m-3-9h0m-8 11h0m-7-11h0m-12 0h0m25 26h0"/><path stroke="#bebfda" d="M416 138h0m-22 5h0m-6-2h0m-27-5h0m-7-10h0m-21 8h0m-15-1h0m-7 8h0m-8-19h0m-10-1h0m-13 18h0m-2 3h0m-10-11h0m-7 4h0m-3 4h0m-5-5h0m-18 8h0m-20 3h0m22 20h0m2-21h0m29 14h0m3-12h0m4 1h0m26 15h0m6-7h0m24-10h0m3 0h0m25 9h0m8-4h0m28 10h0m10-2h0m12-4h0m4-6h0m1-4h0m17 19h0m44 18h0m-21-4h0m-13 10h0m-31-8h0m-3-10h0m-20-1h0m-1 7h0m-9 2h0m-2-8h0m-7 22h0m-2-13h0m-75-7h0m-18 16h0m-26 1h0m-3-14h0m-64 10h0m-27 17h0m9 11h0m1-13h0m62-5h0m9 15h0m13-15h0m4 4h0m3 12h0m3 4h0m4-8h0m5-9h0m5 10h0m16-1h0m50-11h0m10 18h0m3-18h0m16 12h0m50-9h0m30 8h0m5 4h0m2-13h0m0 17h0m50-9h0m9 18h0m-7-1h0m-94 16h0m-12-1h0m-40-16h0m-24 15h0m-25-1h0m-66-18h0m-56 16h0m-2-12h0m-23 5h0m-10 10h0m-13-8h0m29 26h0m57-10h0m18 5h0m2 12h0m8-18h0m28 4h0m20-6h0m11 20h0m10-10h0m54 12h0m41-9h0m63 2h0m13-9h0m5-6h0m12 25h0m-1 3h0m-35-3h0m-30 6h0m-11 6h0m-2-7h0m-12 8h0m-29-12h0m-2 6h0m-4 1h0m-7 7h0m-46 5h0m-7-4h0m-50-17h0m-15 19h0m-39-15h0m-14 4h0m-20-8h0m-14 10h0m-5 5h0m-11 0h0m-5-14h0m-4-2h0m-2 4h0m38 30h0m19 3h0m11-8h0m2-5h0m4 14h0m20-12h0m8 10h0m19 4h0m3-7h0m9-9h0m16 19h0m23-14h0m16 13h0m10-14h0m24 15h0m3-6h0m142-3h0m15 6h0m9-3h0m-17 31h0m-44-17h0m-20-3h0m-6 17h0m-39-17h0m-4 20h0m-71-6h0m-49 3h0m-15 2h0m-28-2h0m-4-1h0m-4 6h0m-21-6h0m-7 5h0m-30-16h0m90 28h0m20-6h0m9 6h0m25 14h0m76-22h0m9 11h0m7-1h0m38-7h0m8-1h0m6-2h0m5 6h0m19 14h0m50-13h0m-46 16h0m-30 12h0m-3-10h0m-69 8h0m0 7h0m-23 3h0m-88-5h0m-67 5h0m13 7h0m169 0h0m14 4h0m16 2h0m12 3h0m64-6h0m7 9h0m20-11h0m20 13h0m15 24h0m-38-16h0m-41 6h0m-38 9h0m-8-15h0m-8 21h0m-18-10h0m-46-3h0m-9 11h0m-15-18h0m-19 7h0m-2 7h0m-23-10h0m70 24h0m52-1h0m14 4h0m14 1h0m79-1h0m27-1h0m11 7h0m-12 20h0m-5 8h0m-10-18h0m-22 12h0m12 39h0m-6 10h0m-2-12h0"/><path stroke="#b2b1d1" d="M359 126h0m-2-6h0m-31 23h0m-46-11h0m-17-4h0m-1 13h0m-25-6h0m-3 3h0m35 14h0m17 4h0m25 4h0m1 4h0m11-1h0m29-17h0m16 12h0m31 2h0m13-9h0m19 9h0m38 27h0m-15-17h0m-20 8h0m-5 10h0m-31-9h0m0-4h0m-49 3h0m-23-1h0m-11 9h0m-28-14h0m-20 0h0m-4 10h0m-9 1h0m-11-10h0m0 6h0m-23 12h0m-16-20h0m-22 17h0m-4 0h0m-6 2h0m-16 15h0m19-2h0m1-8h0m32 16h0m8-4h0m6-3h0m6-8h0m42 14h0m33-14h0m43 11h0m9-5h0m3 5h0m6-13h0m21 20h0m17-3h0m4-17h0m3 13h0m19-15h0m7 22h0m2-8h0m5-3h0m5-11h0m32 2h0m1 20h0m19-21h0m7 6h0m10 30h0m-1 6h0m-4-8h0m-43 0h0m-14 4h0m-5 5h0m-3-14h0m-3-6h0m-15 22h0m-1-5h0m-25-7h0m-4 0h0m-58-1h0m-8 0h0m-50 6h0m-26-9h0m-19 14h0m-11-4h0m-2-9h0m-4-2h0m-9-2h0m-3 9h0m-16 9h0m-6-2h0m-8-10h0m-5-7h0m-12-1h0m-7 13h0m-9 9h0m17 2h0m10 9h0m3 12h0m4 1h0m3-20h0m16 5h0m22-8h0m3 5h0m8 16h0m47-8h0m9 10h0m15-23h0m8 14h0m1-7h0m2 6h0m24-4h0m32-9h0m26 14h0m6-6h0m21 1h0m21 1h0m2-10h0m1 14h0m75-13h0m0 11h0m3-11h0m-10 44h0m-29-1h0m-6-7h0m-48-13h0m-9 14h0m-22 3h0m-3 4h0m-47-5h0m-46-8h0m-31-3h0m-5 4h0m-10 3h0m-6-6h0m-25-4h0m-8 13h0m-1 7h0m-1-18h0m-2 10h0m-6-14h0m-21 4h0m-15-2h0m-15 4h0m36 24h0m3 11h0m5 4h0m5-9h0m23 7h0m28-14h0m8 13h0m27-2h0m14 2h0m8-10h0m22 11h0m28 4h0m31-16h0m2-6h0m1 21h0m9-13h0m21 4h0m10 2h0m4-7h0m18-1h0m12 7h0m12-9h0m41-1h0m16 16h0m-21 6h0m-7 10h0m-61-7h0m-22 5h0m-37 9h0m-16-13h0m0 13h0m-31-12h0m-9-3h0m-3 0h0m-19 4h0m-4-8h0m-4 9h0m-2 4h0m-21-12h0m-9 19h0m-11 0h0m-6-17h0m-1 10h0m-24-8h0m-46 4h0m-2-9h0m-7 2h0m33 37h0m7-13h0m4 6h0m49-4h0m3 17h0m3-3h0m18-8h0m3 5h0m4 4h0m0-7h0m14 1h0m4 0h0m18-6h0m16 3h0m1 5h0m59 7h0m14-22h0m23 20h0m15-7h0m15 0h0m31 0h0m8-11h0m35 4h0m-10 38h0m-48-9h0m-13 11h0m-41-1h0m-14-18h0m-6 8h0m-18 12h0m-7-20h0m-2 19h0m-24-21h0m-11 7h0m-87-2h0m-6 1h0m-12-7h0m-43 6h0m143 27h0m5-9h0m7 5h0m44 4h0m27 7h0m4-16h0m5 16h0m26-11h0m1 4h0m37 8h0m20-4h0m28-7h0m18 19h0m-22 19h0m-4-6h0m-20 5h0m-18-15h0m-29 12h0m-81 6h0m-22-18h0m-3-3h0m-12 4h0m-6 12h0m20 8h0m18 2h0m5 15h0m3-5h0m5-4h0m5 10h0m42-18h0m44 0h0m0 14h0m9-5h0m38 0h0m12 13h0m17-2h0m3-15h0m-47 59h0m9-5h0m3 2h0m-14 11h0m-16 11h0"/><path stroke="#a4a2c8" d="M308 115h0m3 3h0m4-3h0m103 28h0m-13-7h0m-22-1h0m-22 8h0m-36-21h0m-13 1h0m-46 18h0m-46-2h0m39 13h0m4-1h0m6 11h0m12-10h0m8 7h0m22-4h0m10 12h0m4-13h0m2 6h0m3 5h0m16-17h0m2 12h0m2-8h0m17 2h0m10 0h0m33 7h0m7-12h0m22 7h0m11 1h0m40 29h0m-23-13h0m0 18h0m0-8h0m-17-11h0m-5 5h0m-65 14h0m-2-15h0m-9 6h0m-4-13h0m-2 21h0m-1-6h0m-8 1h0m-5 1h0m-28-11h0m-11-7h0m-3 9h0m-11 6h0m-21 5h0m-3-17h0m-3 13h0m-43-2h0m-4 5h0m-11-18h0m-54 45h0m43-16h0m90 9h0m14-1h0m11 0h0m4 9h0m9-17h0m11-2h0m25 9h0m4 8h0m16-21h0m6 13h0m1 9h0m21-11h0m13 12h0m7-4h0m17-10h0m13 5h0m8 5h0m10-2h0m29 29h0m-2-14h0m-45 13h0m-35-13h0m-24 6h0m-3 0h0m-2-8h0m-5-5h0m-4 5h0m-4 6h0m-21-2h0m-20-1h0m-19 8h0m-2-14h0m-2 18h0m-16-19h0m-15 15h0m-12 0h0m-28-6h0m0-7h0m-15 0h0m-7 0h0m-36-4h0m-46 19h0m45 28h0m19-23h0m28 23h0m13-20h0m34 0h0m6 12h0m3 6h0m8-1h0m5 0h0m20-13h0m1 15h0m7-18h0m14 19h0m5-15h0m16 8h0m6-9h0m28 5h0m5-1h0m47 11h0m6-3h0m18-9h0m7 0h0m11 3h0m5-11h0m24 37h0m-6 7h0m-2-12h0m-24 0h0m-2 9h0m-1-19h0m-23 19h0m-11 3h0m-14-17h0m-38 17h0m-2-9h0m-30-9h0m-10 2h0m-6-5h0m-15 13h0m-15 4h0m-1-3h0m-3 7h0m-1-4h0m-4-11h0m-7 0h0m-21-2h0m-11 7h0m-36-12h0m-8 23h0m-13-10h0m-18 7h0m-6-11h0m-25 14h0m-8 8h0m78-2h0m7 6h0m6 8h0m6-7h0m10 10h0m1-19h0m5 16h0m3-5h0m19-3h0m30 8h0m54 3h0m10-2h0m24-5h0m84-7h0m27 8h0m-88 25h0m-34-5h0m-2 8h0m-5-15h0m-21 7h0m-11 3h0m-16-15h0m-5 2h0m-18 10h0m-3-2h0m-6-9h0m-15 22h0m-27-9h0m-5-6h0m-5 6h0m-6-5h0m-4 7h0m-16-2h0m-1 3h0m-16 5h0m-19-15h0m-14-3h0m26 28h0m21-1h0m5 10h0m9 2h0m4-12h0m11-6h0m40 14h0m2-8h0m10-1h0m75 5h0m7 8h0m5 3h0m9-21h0m3 3h0m19 10h0m0-4h0m13-9h0m6 11h0m25 9h0m3-16h0m2 4h0m9 2h0m34 8h0m21-10h0m5 1h0m-13 27h0m-41 9h0m-26-14h0m-24-5h0m-32-2h0m-31 16h0m-9-12h0m-46 2h0m-4 14h0m-13-19h0m-1 21h0m-12-3h0m-21-18h0m-7 15h0m-23-13h0m-25 10h0m37 13h0m154 17h0m0-8h0m16 6h0m102-9h0m32 36h0m-30-2h0m-1-13h0m-20 11h0m-27-6h0m-7-11h0m-3 4h0m-42-2h0m-25 5h0m-19-7h0m-9 23h0m-37 0h0m-8-12h0m-11-5h0m92 27h0m19-6h0m9-3h0m15 11h0m56 12h0m19-10h0m26 12h0m-12 3h0m-6 10h0m-16-4h0m-13 53h0"/><path stroke="#9895c0" d="M391 129h0m-1 8h0m-16-11h0m-7 12h0m0-13h0m-44 13h0m-17-10h0m-6-6h0m-6 9h0m0 10h0m-12-20h0m-11 8h0m-6 7h0m-26 3h0m-19 15h0m54 9h0m0 4h0m1-10h0m13-7h0m1-5h0m2 18h0m4-12h0m58 3h0m17-8h0m20 2h0m6 7h0m38 31h0m-14 1h0m-3-3h0m-25 6h0m-43-7h0m-14 1h0m-11 5h0m-73 1h0m0-19h0m-33-3h0m-6 10h0m-7-2h0m-5 15h0m-8-3h0m-37 12h0m36 4h0m33 9h0m22-11h0m36 10h0m26-18h0m28 5h0m11 1h0m84 3h0m11-7h0m7 12h0m17-9h0m1 6h0m13-2h0m15 6h0m25 27h0m-57-17h0m-14 11h0m-12-10h0m-26 6h0m-65-6h0m-13-2h0m-10 11h0m-23-1h0m-6-1h0m0 4h0m-3 6h0m-4-13h0m-5 12h0m-13-20h0m-12 1h0m-21 12h0m-81 11h0m64 22h0m36-18h0m1 11h0m3-5h0m11-8h0m4 14h0m7-16h0m17 22h0m14-5h0m16-2h0m8-1h0m17-13h0m13 20h0m4-11h0m10-4h0m32-3h0m6 3h0m8 3h0m28-2h0m18 12h0m13-1h0m18-5h0m6-5h0m12 14h0m7-16h0m-15 33h0m-27-5h0m-7-10h0m-27 4h0m-1 14h0m-27-7h0m-30 4h0m-3 6h0m-12-14h0m-4 7h0m-9-13h0m-46 0h0m-7 17h0m-27-3h0m-54 1h0m-1-7h0m-31 28h0m2-13h0m15 5h0m39 18h0m17-15h0m13 12h0m18 3h0m17-7h0m12-13h0m5 4h0m1 4h0m9-4h0m20 1h0m1 15h0m2-9h0m9-6h0m7-3h0m29 18h0m10-6h0m8-12h0m15-3h0m1 9h0m9 10h0m9-3h0m1-17h0m25-1h0m-11 46h0m-51 0h0m-8-11h0m-9-6h0m-15 15h0m-4-17h0m-62 7h0m-13 1h0m-7 6h0m-2-10h0m-19 4h0m-17-10h0m-2 12h0m-20-2h0m-9-9h0m-29-1h0m-7 12h0m-12 2h0m18 28h0m11-5h0m42-4h0m13 8h0m2-6h0m2 4h0m3 4h0m15-16h0m15 16h0m16-10h0m10 4h0m15-13h0m3 16h0m25-7h0m2-10h0m1 16h0m1 6h0m1-9h0m8-3h0m6 7h0m3-2h0m16-1h0m4-6h0m15 11h0m14-19h0m48 14h0m24 9h0m13-7h0m17 3h0m-36 18h0m-2 5h0m-14-12h0m-36-6h0m-10 11h0m-11-4h0m-2 13h0m-15-13h0m-1 4h0m-22 4h0m-2-7h0m-6 12h0m-5-6h0m-11-12h0m-2 18h0m-28-13h0m-16-6h0m-32 13h0m-3-11h0m-15 7h0m-2-8h0m-10 4h0m-8 12h0m-6-5h0m-12-5h0m-5 9h0m-12-13h0m-3 12h0m-10-16h0m-1 16h0m-6-7h0m41 18h0m36-2h0m1 11h0m7-3h0m23 0h0m6 0h0m24-2h0m16 5h0m11 9h0m1-8h0m3 2h0m10 5h0m3-18h0m53 7h0m49 10h0m24 0h0m42 0h0m1-11h0m-28 27h0m-14-5h0m-7 2h0m-9 5h0m-14 5h0m-5-18h0m-15 3h0m-10 7h0m-1-10h0m-22 12h0m-3-4h0m-38-3h0m-26 18h0m-3-18h0m-15 16h0m-8-10h0m23 15h0m25 10h0m24-11h0m79 5h0m50 10h0m13-15h0m18 0h0m-49 59h0m-16 33h0"/><path stroke="#8b88b9" d="M287 118h0m51 5h0m-10 2h0m-10-1h0m-1 18h0m-30-4h0m-54-4h0m-5 2h0m21 31h0m104 0h0m3-22h0m30 0h0m12 3h0m14 8h0m18-12h0m5 20h0m41 22h0m-35-15h0m-13 0h0m-64 4h0m-11-2h0m-5 18h0m-3-23h0m-28 0h0m-117 7h0m-32 21h0m11-4h0m0 6h0m47 11h0m3 6h0m1-15h0m48 11h0m86-1h0m20-13h0m10 4h0m108 28h0m-12-2h0m-18 7h0m-14 0h0m-34-10h0m-17 3h0m-23 11h0m-19-21h0m-8 0h0m-88 3h0m-18 16h0m-35-16h0m-64 13h0m12 23h0m8 0h0m21 3h0m3-6h0m31-13h0m62 12h0m29 5h0m3-11h0m21-5h0m59 20h0m10-21h0m5 16h0m5-3h0m3-9h0m9-4h0m6 9h0m1-9h0m10 16h0m20-6h0m19-3h0m41 16h0m-9 15h0m-28 1h0m-14-9h0m0 13h0m-12-9h0m-73-4h0m-13-6h0m-60 12h0m-7 2h0m-6-2h0m-11-4h0m-20-5h0m-35 12h0m-52 28h0m0-6h0m46-8h0m18-2h0m15 19h0m24-13h0m18-3h0m8-1h0m11 2h0m12 7h0m14 1h0m14-15h0m11 4h0m17 10h0m29-5h0m12-6h0m10 14h0m7-5h0m7-1h0m15 4h0m9 3h0m11 1h0m26 28h0m-32-8h0m-22-13h0m-7 10h0m-29 5h0m-16-4h0m-5-1h0m-20-5h0m-9-4h0m-7-1h0m-17 11h0m-4 4h0m-13-11h0m-31 17h0m-56 0h0m-29-20h0m-21 13h0m-1-13h0m-12 16h0m12 7h0m30 1h0m4-2h0m13 3h0m56 19h0m17-18h0m36 16h0m21-18h0m52 13h0m22-13h0m34 11h0m63 1h0m-12 12h0m-100 6h0m-13 6h0m-32 3h0m-7-7h0m-5 0h0m-31-1h0m-12-2h0m-16 0h0m-4-8h0m-21 3h0m-19 18h0m-22-6h0m-17 2h0m-2-17h0m-2 20h0m-6-19h0m29 26h0m18 0h0m4 2h0m26 1h0m2 13h0m2-13h0m8 9h0m11-10h0m4 1h0m22-6h0m32 3h0m9 13h0m40 5h0m13-20h0m23 22h0m12-5h0m8-4h0m2-6h0m3 4h0m10 1h0m7-9h0m10-1h0m22 5h0m15 3h0m-11 33h0m-81-5h0m-13 3h0m-1-12h0m-25 16h0m-25-19h0m-32 14h0m-32-15h0m-9 10h0m48 18h0m20 3h0m8 11h0m4-5h0m156 8h0m2-15h0m-22 20h0m-25 2h0m-4 16h0m-5-3h0m10 13h0m31-6h0m-32 29h0m-11-3h0"/><path stroke="#7f7cb2" d="M294 117h0m102 16h0m-53-13h0m-44 14h0m-8 3h0m-2-11h0m-44 10h0m-39 23h0m40 6h0m15-17h0m48-4h0m23 14h0m5-6h0m5 7h0m49 7h0m13-17h0m3 15h0m9 1h0m28 22h0m-10-18h0m-11 10h0m-20-8h0m-30 2h0m-71 3h0m-43 11h0m-1-6h0m-11-7h0m-9 14h0m-78 9h0m81-3h0m17 10h0m18-2h0m5-1h0m86-4h0m4-1h0m17 13h0m19 6h0m14-14h0m16-7h0m2 15h0m47-17h0m3 18h0m13-10h0m2 12h0m-2 4h0m-24 21h0m-39-10h0m-50-1h0m-22 9h0m-5-13h0m-8 6h0m-19 6h0m-23-10h0m-20-7h0m-22 18h0m-6 2h0m-23-5h0m-89 21h0m34 4h0m23-6h0m3 10h0m4-6h0m31-9h0m59 6h0m10-10h0m42 9h0m12 9h0m21-6h0m41-5h0m25-9h0m1 18h0m22-14h0m0 11h0m50 19h0m-15-8h0m-19 2h0m-9 12h0m-16-9h0m-3-3h0m-5 0h0m0 14h0m-7-1h0m-30-13h0m-23 4h0m-57 14h0m-74-7h0m-12-9h0m-20 14h0m-2-3h0m-50 3h0m-22 1h0m49 14h0m22 6h0m12 0h0m31 6h0m8-17h0m91 12h0m23-10h0m2 15h0m9-18h0m8 14h0m3-16h0m34 1h0m14 5h0m24 5h0m56 33h0m-9-18h0m-83 4h0m-1-5h0m-31 11h0m-39-8h0m-16 8h0m-35-4h0m-18 7h0m-17-10h0m-13 13h0m-21 0h0m-46-9h0m-3-9h0m-9 43h0m18-11h0m13-1h0m4 13h0m4-7h0m13-13h0m49 20h0m18-11h0m5-7h0m4 7h0m28 2h0m59 9h0m9-22h0m53 20h0m10-17h0m54 31h0m-74 4h0m-12-6h0m-7 9h0m-24-1h0m-5 4h0m-37-10h0m-23 6h0m-12 3h0m-44 1h0m-12-11h0m-11-3h0m-11 3h0m-17 9h0m-30-8h0m-6 0h0m-3-3h0m81 24h0m60 7h0m1 4h0m3-18h0m12 16h0m34-16h0m30 16h0m71-17h0m13 7h0m20 34h0m-150-16h0m-14 9h0m-22-9h0m-3 7h0m6 17h0m75 11h0m20-7h0m59 0h0m31 0h0m5 13h0m13-10h0m-25 20h0m-16 6h0m-12-4h0m-6 3h0m26 24h0m20 3h0"/><path stroke="#7569a8" d="M381 128h0m-16 1h0m-15 1h0m-27 4h0m-56-8h0m-23 34h0m4 1h0m19-14h0m16 12h0m101-11h0m67 15h0m-32 11h0m-6 15h0m-7-14h0m-65-3h0m-4-4h0m-78 1h0m100 34h0m40 11h0m77-2h0m22 7h0m-21 6h0m-17 2h0m-80-10h0m-6 15h0m-2-3h0m-5 2h0m-19 4h0m-12-8h0m-66-3h0m-121-8h0m39 24h0m99 19h0m98-7h0m9-4h0m57-4h0m6 6h0m8-10h0m30 5h0m-42 33h0m-29 7h0m-39-18h0m-37 4h0m-9 0h0m-2 5h0m-7-5h0m-41 3h0m-5 13h0m-35-5h0m77 24h0m46-1h0m105-15h0m1 21h0m3-13h0m6 0h0m50 31h0m-46-11h0m-23 8h0m-24 7h0m-14-18h0m-45 9h0m-5 11h0m-15-5h0m-31-18h0m-34 16h0m-5-12h0m-63 17h0m-1 20h0m18-7h0m43 0h0m36-2h0m16 2h0m7-10h0m49 16h0m2-12h0m9 2h0m5 10h0m19 7h0m29-7h0m17-14h0m85 40h0m-106 4h0m0-16h0m-15 0h0m-4 10h0m-93 3h0m-4-6h0m-16 1h0m-1 5h0m-23-13h0m-3 17h0m-16-5h0m-1-11h0m-12-7h0m-6 32h0m19-8h0m39 5h0m2 15h0m22-3h0m17-7h0m10-10h0m20 10h0m59 4h0m118-14h0m-64 28h0m-36 7h0m-58-9h0m-22 10h0m-10 1h0m-29 1h0m-40-9h0m162 33h0m9-11h0m33 16h0m15-5h0"/><path stroke="#6b579e" d="M339 148h0m42 12h0m66 4h0m-23 10h0m-82 11h0m-34-4h0m-57-2h0m-44 28h0m93 5h0m26-18h0m63 3h0m63-3h0m8 8h0m-1 21h0m-3-3h0m-202 6h0m10 33h0m14 0h0m18-3h0m58-11h0m22 16h0m3-1h0m4-3h0m24 1h0m7 4h0m19-18h0m17 18h0m77-10h0m-111 28h0m-29-8h0m-36-4h0m-20-4h0m-13 17h0m-12-14h0m-10 13h0m-69 1h0m-10 23h0m23-9h0m55 12h0m19-17h0m36 10h0m10-7h0m0 8h0m2 4h0m5-13h0m129 35h0m-26-8h0m-35-5h0m-19 14h0m-45 3h0m-46-14h0m-83 39h0m142 1h0m51-9h0m131 7h0m-215 8h0m-2 8h0m-29 3h0m-9 3h0m-15-4h0m-1-13h0m-14 14h0m-16-8h0m-33 17h0m54 10h0m3 8h0m18-4h0m7 4h0m3 6h0m1-11h0m10 3h0m8-15h0m6 5h0m84 11h0m42 28h0m-109-17h0m-5 16h0m-13-14h0m176 58h0"/><path stroke="#614594" d="M315 131h0m-88 22h0m200-2h0m38 17h0m-119 46h0m99 44h0m81 7h0m-116 2h0m-27 6h0m-11 1h0m-13-5h0m-177 16h0m223 44h0m-106 6h0m-14-8h0m-35-8h0m-43 14h0m-8-14h0m128 34h0m29 2h0m88-10h0m80-4h0m-144 32h0m-5-6h0m-30-6h0m-22 4h0m-9-2h0m-12 14h0m-7 3h0m-43 9h0m3 1h0m11-6h0m24 5h0m13 14h0m5-19h0m11 3h0m17 11h0m6-1h0m2 4h0m6-7h0m5-7h0m15 13h0m23-10h0m108-2h0m73 17h0m-149 20h0m-100-11h0m0 7h0m-6-6h0"/><path stroke="#58348b" d="M342 136h0m160 125h0m-256 34h0m99-3h0m5 13h0m50 19h0m-133-9h0m-14 33h0m284 11h0m-168 22h0m-107 10h0m27-7h0m10 18h0m36 4h0m10-14h0m9 15h0m76-2h0m-72 19h0m-58-14h0"/><path stroke="#4e2382" d="M460 193h0m-121 39h0m98 23h0m-48 71h0m-28 6h0m-68 74h0m11-19h0"/><path stroke="#44137a" d="M356 223h0m-62 62h0m3 80h0m-43 14h0"/><path stroke="#3b0472" d="M355 282h0m-36 4h0m2 48h0m-43 58h0m3 3h0m16-4h0m77 18h0"/></g><rect x="60.7" y="47.1" width="243.6" height="226.6" fill="none" stroke="#3a3a3a" stroke-width="1.3"/><rect x="306.7" y="47.1" width="7.6" height="226.6" fill="url(#gP)" stroke="#3a3a3a" stroke-width="1"/><text x="321.3" y="73.2" font-size="15.5">3</text><text x="321.3" y="126" font-size="15.5">2</text><text x="321.3" y="178.4" font-size="15.5">1</text><text x="321.3" y="230.8" font-size="15.5">0</text><path d="M314.3 67.4h4M314.3 120.2h4M314.3 172.6h4M314.3 225h4" stroke="#222" stroke-width="1"/><text x="182.5" y="40.2" font-size="15" text-anchor="middle">NKX2-1</text><text x="182.5" y="290.1" font-size="15" text-anchor="middle">UMAP1</text><text transform="translate(52.5 160.4) rotate(-90)" text-anchor="middle" font-size="15">UMAP2</text><g transform="scale(.5)" fill="none" stroke-width="6.6" stroke-linecap="round"><path stroke="#fcfbfd" d="M929 133h0m6 12h0m36 9h0m78 33h0m-54-9h0m-3-3h0m48 26h0m-97 23h0m65 181h0m165 19h0m-8 13h0"/><path stroke="#f7f5f9" d="M940 131h0m-27 16h0m83 5h0m-1 34h0m61 9h0m-83 52h0m170 1h0m4 13h0m-78 24h0m-20-13h0m-141 28h0m248 97h0m-101 33h0m134 57h0"/><path stroke="#f1f0f6" d="M970 117h0m-13 24h0m-55-11h0m-19 5h0m32 17h0m5 15h0m23-23h0m78 47h0m-97 1h0m229 32h0m-271 63h0m133 40h0m154 46h0m-151 61h0"/><path stroke="#eae8f1" d="M957 128h0m-8-6h0m42 26h0m51 7h0m11 9h0m9 1h0m-54 19h0m-33-3h0m-15-6h0m-52 7h0m137 32h0m47-22h0m32 45h0m-111-2h0m-218-19h0m235 47h0m3-17h0m92 37h0m-161-2h0m-50 3h0m45 18h0m20-11h0m56 35h0m-160 21h0m168 35h0m79 11h0m-37 23h0m82 39h0"/><path stroke="#e1e1ed" d="M940 117h0m111 26h0m-17-2h0m-14-15h0m-36-3h0m-10 2h0m-2 18h0m-8-10h0m-15 0h0m-19-7h0m-13 20h0m20 17h0m62-9h0m84-6h0m12 24h0m-142 5h0m-24 4h0m-12-10h0m71 30h0m3-6h0m10 18h0m54-6h0m23 4h0m48 3h0m29 24h0m-61-8h0m-41 7h0m-95-5h0m-6 1h0m-13 28h0m64-19h0m18 19h0m64-12h0m57 19h0m-29 6h0m-185 28h0m85-6h0m72 7h0m87-11h0m-83 41h0m-65-15h0m-13 12h0m-60-5h0m-61 28h0m30 4h0m60-4h0m78 0h0m3-1h0m14-8h0m-34 60h0m1 16h0m-10 6h0m-28-2h0m159 27h0m32-3h0m0 22h0m7 22h0"/><path stroke="#d7d7e8" d="M989 120h0m-28 11h0m-3-8h0m-45 8h0m-32 29h0m2-3h0m26-6h0m12 6h0m11-1h0m3 3h0m20-15h0m17 16h0m10-8h0m20-7h0m51 35h0m-38-11h0m-32-1h0m-61 8h0m-18-7h0m-20 19h0m0-12h0m0 30h0m11-2h0m18-5h0m14 2h0m16-1h0m24 3h0m17 9h0m19-17h0m45 16h0m33 3h0m14-13h0m17 4h0m26-10h0m-32 32h0m-11 9h0m-7-3h0m-23 5h0m-12-11h0m-40 4h0m-13-3h0m-22-3h0m-76 15h0m0 15h0m8 4h0m26-12h0m143-3h0m18 0h0m48 12h0m20 10h0m-51 17h0m-31 0h0m-13-8h0m-69 7h0m-26-11h0m-16 11h0m-1-11h0m-100 13h0m-52-18h0m115 38h0m18 0h0m22-8h0m45 5h0m55 10h0m14-10h0m14-5h0m41 19h0m-14-1h0m-30 21h0m-9-13h0m-54-8h0m-34 4h0m-93 7h0m-11 12h0m57 2h0m113 12h0m20 1h0m6-15h0m122 9h0m-35 32h0m-20-18h0m-18 22h0m-12-10h0m-44 3h0m-19-7h0m112 40h0m-31 0h0m-91 27h0m6 2h0m46-5h0m112 8h0m17 13h0m-38 23h0m-25-5h0m18 14h0m1 12h0"/><path stroke="#cbcce1" d="M950 116h0m25 20h0m-51 6h0m-16-1h0m-1-6h0m-3 4h0m-30-3h0m9 29h0m2-21h0m7 21h0m13-13h0m2 13h0m20-13h0m1 7h0m19 3h0m10-7h0m0 5h0m28-12h0m45 0h0m0 14h0m1-17h0m10 15h0m27-16h0m40 33h0m-33 11h0m-6-9h0m-21-2h0m-4 2h0m-6 11h0m-6-18h0m-6 13h0m-39-6h0m-34 9h0m-10-9h0m-12 9h0m-43-9h0m-2 5h0m-36-13h0m115 44h0m45-10h0m25-8h0m31 13h0m4-12h0m55-4h0m31 11h0m-34 20h0m-5 9h0m-107-8h0m-4-8h0m-38 11h0m-18-5h0m-5 13h0m-6-6h0m-11 0h0m-13-15h0m-38 15h0m-3-6h0m10 19h0m43-4h0m3 14h0m22-14h0m15 6h0m32-5h0m55 5h0m38 8h0m4 2h0m8 2h0m2-11h0m19 8h0m42 31h0m-37-2h0m-5-7h0m-63 3h0m-23-6h0m-7 7h0m-22-11h0m-18 16h0m-19-7h0m-70-3h0m1 17h0m121 8h0m34-8h0m13 12h0m8-12h0m15-3h0m12 5h0m26 3h0m46 37h0m-61-4h0m-92-7h0m0 11h0m-46-19h0m-9 1h0m-5 13h0m-40 1h0m-88-10h0m20 30h0m258-5h0m18 11h0m-23 12h0m-16 11h0m-26-9h0m-8 0h0m-32 0h0m-3-6h0m-5 2h0m-58 16h0m-11-20h0m147 35h0m22 9h0m73 22h0m-67-17h0m-10 16h0m-46-3h0m-10-10h0m-10 15h0m31 12h0m64-4h0m62 29h0m-22 28h0m18-13h0"/><path stroke="#bebfda" d="M954 115h0m75 20h0m-33-5h0m-48 8h0m-7-14h0m-16 4h0m-45 10h0m-19 12h0m12 3h0m22 14h0m12-19h0m58 1h0m13 9h0m20-12h0m28-2h0m11 22h0m12-17h0m8 7h0m2-12h0m33 20h0m21 9h0m-26-2h0m-21 16h0m-51-5h0m-21 9h0m-6-6h0m-25 6h0m-20-16h0m-39 12h0m-7-8h0m-40-10h0m-20 27h0m32 17h0m3-4h0m64-2h0m14-1h0m4-12h0m39 6h0m21 13h0m16-21h0m4 17h0m60 6h0m14-9h0m4-7h0m23 16h0m10-19h0m2 29h0m-7 8h0m-6-13h0m-49-4h0m-11 22h0m-26-12h0m-2 8h0m-29-5h0m-15-6h0m-32 10h0m-15-6h0m-21-8h0m-32-2h0m-4 0h0m-1 19h0m-33-6h0m-18-6h0m-9 6h0m-19 26h0m82 5h0m31-18h0m2 20h0m4-8h0m20 2h0m2-4h0m56-3h0m40 1h0m36 7h0m17 1h0m2-19h0m56 1h0m9 33h0m-11 0h0m-23 0h0m-42-2h0m-1-4h0m-11 10h0m-1 7h0m-56-18h0m-3-3h0m-16 22h0m-18-15h0m-8 15h0m-2-10h0m-66 3h0m-53 7h0m-62-22h0m28 31h0m27 6h0m10-1h0m44 6h0m7-1h0m0 5h0m1-14h0m25-3h0m10-4h0m29 18h0m8-15h0m23 19h0m26-21h0m4 12h0m6 9h0m2-9h0m33-11h0m29-2h0m10 14h0m9 3h0m24-16h0m25 14h0m1-15h0m14 46h0m-15-6h0m-12 6h0m-3-21h0m-25 13h0m-96 5h0m-4-17h0m-2 16h0m-1-12h0m-46 0h0m-17 5h0m-4-2h0m-12 7h0m-1-6h0m-14 5h0m-1-10h0m-5 5h0m-8-10h0m-34 16h0m-10 0h0m-23 15h0m8 6h0m62 6h0m73 1h0m1-4h0m22 4h0m60-2h0m99-3h0m9-1h0m-44 21h0m-36-12h0m-32 9h0m-7 2h0m-22-7h0m-34 16h0m-19 0h0m-7-17h0m-16 4h0m13 34h0m33 0h0m53-8h0m63-1h0m39-4h0m2 5h0m29-1h0m-7 38h0m-20-3h0m-32-15h0m-66 8h0m-10 3h0m-45 8h0m-33-4h0m-4-17h0m-2 9h0m29 19h0m46 3h0m3-1h0m39 3h0m71-2h0m25 34h0m-39 26h0m9-9h0m17 2h0"/><path stroke="#b2b1d1" d="M984 119h0m7 21h0m-12-6h0m-16 8h0m-12-14h0m-5-6h0m-6 19h0m-2-20h0m-10 0h0m-2 11h0m-63 10h0m-3 3h0m12 22h0m5-1h0m13-6h0m30 3h0m27-18h0m30 0h0m2 22h0m15-7h0m5 7h0m6-13h0m0 3h0m9 1h0m49-4h0m17 1h0m12 3h0m5 5h0m19 4h0m12 14h0m-6 5h0m-27 1h0m-5 0h0m-25-13h0m-21 1h0m-4 0h0m-7 10h0m-6-12h0m-1 18h0m-2-10h0m-15 9h0m-19-22h0m-9 16h0m-14-9h0m-19 4h0m-22-4h0m-5 13h0m-8-16h0m-13 11h0m-40 2h0m-11-3h0m-6 32h0m45-5h0m17-11h0m16 4h0m5-7h0m23 1h0m23-2h0m10 5h0m10 15h0m64 1h0m26-21h0m6 9h0m0-7h0m11 10h0m27-3h0m15 6h0m18 13h0m-45 5h0m-5-8h0m-36 5h0m-41 9h0m-21-16h0m-12 4h0m-10 15h0m-4-4h0m-4 2h0m-43-17h0m-15 7h0m-7 11h0m-17-9h0m-3 1h0m-8 0h0m-7-7h0m-4 16h0m-62-14h0m41 18h0m17 7h0m25 2h0m7 1h0m53 13h0m6-12h0m3 10h0m7-6h0m25-7h0m13 13h0m17-4h0m8-3h0m4 0h0m12 4h0m4-18h0m3 22h0m7-13h0m3-5h0m8 5h0m11 1h0m13 0h0m0 12h0m5-10h0m28-5h0m5 12h0m15 4h0m12-11h0m12 21h0m-20 6h0m-45-11h0m-11 5h0m-60 0h0m-10-1h0m-13 6h0m-9-13h0m-61 7h0m-13-3h0m-5 10h0m-34-9h0m-21 3h0m-12 6h0m-37 6h0m-28-17h0m26 23h0m36 17h0m1-4h0m13-12h0m47 5h0m2 10h0m9-13h0m10 16h0m28-17h0m41-1h0m52 11h0m2 4h0m5-10h0m30 3h0m2-8h0m19-2h0m41 16h0m30 5h0m-8 3h0m-2 20h0m-10-2h0m-14-8h0m-51 0h0m-21 5h0m-12-14h0m-22 9h0m-3 5h0m-28 2h0m-24-19h0m-63 21h0m-5-6h0m-11-2h0m-1-5h0m-16 5h0m-13 9h0m-35-9h0m14 19h0m64-2h0m3 12h0m21 5h0m24-18h0m71-4h0m2 21h0m18 1h0m27-10h0m76-7h0m35 24h0m-47 6h0m-49-10h0m-9 16h0m-53 5h0m-25-4h0m-6-6h0m-26-2h0m-1 8h0m-7-18h0m-40 22h0m-48-15h0m30 21h0m71 2h0m65 5h0m1 8h0m17-6h0m9-2h0m3 4h0m51-4h0m1-8h0m9 2h0m1 15h0m46-4h0m6-6h0m15 10h0m-25 9h0m-38-2h0m-1 11h0m-21-8h0m-34 11h0m-1-12h0m-3 10h0m-19-1h0m-40-15h0m-7 8h0m-7 5h0m-7-4h0m-2-8h0m-7 19h0m-3-19h0m-3 7h0m-10 15h0m-32-16h0m64 18h0m14 11h0m7-3h0m10 0h0m7-3h0m131 4h0m16 15h0m-9 13h0m-4-10h0m-8-3h0m-9 2h0m-15 0h0m-12 0h0m30 41h0m5-8h0m-8 16h0m-6 10h0m-5-7h0m-2-5h0m-4 13h0m-2-12h0"/><path stroke="#a4a2c8" d="M1064 143h0m-13-7h0m-41-7h0m-4 7h0m-21-6h0m-21-6h0m-47 5h0m-61 34h0m10-9h0m3-5h0m71 2h0m18 13h0m8 3h0m1-23h0m13 1h0m6 11h0m2 3h0m24-9h0m35 6h0m9 5h0m34-7h0m-20 20h0m-10-1h0m-40 5h0m-2-5h0m-24 10h0m-14-7h0m-10 13h0m-13-11h0m0 10h0m-3-7h0m-20 2h0m-14 1h0m-5 0h0m-14-15h0m-3 5h0m-1 16h0m-4-16h0m-1 8h0m-3-9h0m-51 15h0m-33 6h0m8 2h0m30-2h0m16 3h0m17 3h0m9-3h0m2-3h0m4 17h0m10-17h0m9 2h0m18 16h0m2 3h0m30-9h0m44 1h0m6 3h0m0-16h0m9 13h0m64-1h0m8-7h0m58 13h0m7-3h0m-64 13h0m-43 8h0m-4 0h0m-10-4h0m-5 12h0m0-10h0m-9-2h0m-2 11h0m-29-12h0m-22-6h0m-22 9h0m-10 5h0m-18-3h0m-9 7h0m-16-6h0m-31-11h0m-7 14h0m-13-1h0m-17 6h0m-25-9h0m8 11h0m36 21h0m5-4h0m17-1h0m35-13h0m52 16h0m3-6h0m27-5h0m1 11h0m13 0h0m3-15h0m3 6h0m19-4h0m9 5h0m3-12h0m12 21h0m12-18h0m13 6h0m22-5h0m24 15h0m24-14h0m7 2h0m-19 19h0m-4 4h0m-8 1h0m-20 11h0m-3-12h0m-26 8h0m-28-8h0m0 17h0m-36-22h0m-7 3h0m-9 1h0m-3 2h0m-15 0h0m-1 11h0m-9-4h0m-6-2h0m-7 9h0m-5-5h0m-2 5h0m-5-11h0m-12-7h0m-33 15h0m-27-14h0m-10 5h0m-19 11h0m-14 3h0m-5 12h0m8 4h0m20 2h0m25 4h0m2-21h0m8 10h0m3-5h0m1 12h0m7-12h0m6 12h0m7-5h0m1 7h0m11 3h0m5-19h0m20 6h0m37 10h0m9-8h0m2 7h0m7-11h0m16 16h0m7-9h0m4-10h0m6 0h0m3 18h0m2-17h0m15 3h0m7 1h0m7 2h0m9-8h0m39 8h0m17-1h0m4-5h0m19 3h0m11 19h0m-60 7h0m-1-5h0m-39 15h0m-25-13h0m-28 13h0m-7-15h0m-33 6h0m0-10h0m-9 22h0m-11-11h0m-32 2h0m-7-5h0m-35-6h0m-8 0h0m-20 4h0m-6-3h0m-3 9h0m21 33h0m47-19h0m11-2h0m2 14h0m68-8h0m16 3h0m12 4h0m24-1h0m4-2h0m5-1h0m15 12h0m7-11h0m12 5h0m24-16h0m23 13h0m49 6h0m18 0h0m4-10h0m14 10h0m-20 25h0m-95-13h0m-10 9h0m-56 4h0m-104 1h0m-9-21h0m-32 0h0m-7 16h0m-1 7h0m-10-3h0m-6-11h0m95 34h0m25-19h0m14 10h0m4 13h0m16-7h0m5 4h0m2-8h0m16-6h0m10-3h0m12-2h0m14 0h0m5 1h0m25 13h0m41 4h0m27-16h0m55 42h0m-108-18h0m-21 17h0m-14 2h0m-26-20h0m-12 3h0m-19-1h0m-6 13h0m-17-14h0m-2 18h0m-5-7h0m-28-1h0m-25-11h0m97 22h0m18 15h0m28-12h0m3 11h0m137-8h0m-18 40h0m-38-16h0"/><path stroke="#9895c0" d="M961 115h0m76 14h0m-2 8h0m-22 1h0m-6 5h0m-5-23h0m-8 23h0m-25-9h0m-3-13h0m-30 16h0m-24 4h0m-1-5h0m-12-2h0m-14 5h0m-4 3h0m24 15h0m7 9h0m14-1h0m8-15h0m41-1h0m26 2h0m30 7h0m5-10h0m27 1h0m13-5h0m9 12h0m38 19h0m-10 8h0m-1 8h0m-39-20h0m-9 8h0m-1 5h0m-2-15h0m-9 6h0m-3-4h0m-28-1h0m-15 8h0m-3-9h0m-2 7h0m-14-4h0m-6 16h0m-8-3h0m-12 1h0m-19-3h0m-39-2h0m-15 7h0m0-19h0m-24-1h0m-5 5h0m-1 5h0m-7-2h0m-5 15h0m-48 12h0m10 6h0m49-6h0m22-9h0m32 20h0m5-4h0m4-13h0m4 14h0m11-9h0m10 10h0m9-9h0m31-7h0m6 11h0m8-13h0m14 3h0m54 8h0m6-13h0m3 11h0m1-9h0m4 15h0m26 5h0m0-17h0m9 14h0m16-19h0m11 21h0m5-13h0m3 5h0m11 24h0m-1 6h0m-18-16h0m-2 18h0m-33 0h0m-11-20h0m-14 3h0m-26 6h0m-19-9h0m-3 5h0m-6 1h0m-3-6h0m-6 15h0m-7-11h0m-5 1h0m-26 5h0m-3-9h0m-12 19h0m-9-13h0m-26 14h0m-33-6h0m-16 4h0m-1-7h0m-10 3h0m-32-11h0m-11-5h0m-5 0h0m-26 37h0m29 5h0m23-5h0m12 2h0m18-11h0m13 2h0m26 0h0m5 13h0m9 0h0m9-3h0m30-13h0m10 11h0m13 9h0m9-4h0m4 4h0m5-16h0m12 13h0m15-12h0m10 4h0m17 1h0m4 1h0m15-14h0m13 7h0m50-5h0m24 37h0m-21-1h0m-13 5h0m-7-3h0m-7-16h0m-16 4h0m0 14h0m-8-1h0m-2-3h0m-22-14h0m-3 15h0m-38 6h0m-11-14h0m-7 3h0m-1 7h0m-28-3h0m-15 4h0m-9-11h0m-13-4h0m-46 16h0m-16-19h0m-6 13h0m-23 1h0m-20-13h0m-14 10h0m-18-6h0m29 29h0m10 11h0m20-16h0m18 2h0m14-4h0m2 20h0m39-4h0m6-8h0m3 12h0m7-17h0m2-4h0m6 3h0m49 6h0m82 0h0m22-2h0m35-7h0m25 18h0m-49 26h0m-15-8h0m-33-12h0m-11 9h0m-51 4h0m-13-2h0m-57-5h0m-4 15h0m-5-6h0m-15-3h0m-34-12h0m-11 3h0m-8 17h0m-5-1h0m-5 0h0m-11-18h0m-6 16h0m-2-4h0m8 11h0m26 3h0m20-1h0m1 8h0m16-2h0m8-1h0m23 6h0m4 4h0m13-6h0m2 7h0m9-3h0m3-5h0m0 11h0m8-11h0m6 2h0m12 1h0m3-14h0m28 9h0m2-10h0m2 22h0m8-6h0m12-10h0m5-5h0m19 11h0m16 8h0m5-17h0m4 1h0m8-1h0m21 11h0m8-3h0m44 16h0m-63 12h0m-18 7h0m-25-5h0m-46 0h0m0-6h0m-24-11h0m-22 13h0m-12 8h0m-6-13h0m-2-3h0m-2-5h0m-18 6h0m-6-1h0m-6 2h0m-7 0h0m-15 0h0m-27 10h0m13 13h0m10 2h0m1-8h0m27 12h0m14 1h0m1-7h0m20 9h0m2-6h0m27 0h0m18-9h0m22 2h0m24 0h0m18 19h0m26-11h0m17-8h0m5 16h0m12-18h0m18 15h0m0-11h0m55-4h0m-2 45h0m-10-5h0m-3 4h0m-8-3h0m-10-11h0m-21 11h0m-9-4h0m-16-10h0m-73 9h0m-28-11h0m-24 4h0m-25 14h0m-1-8h0m-17-5h0m41 19h0m44 19h0m11-19h0m20 11h0m19-11h0m1 4h0m14 9h0m32-11h0m49 15h0m7-17h0m7 22h0m3-8h0m5-5h0m3-9h0m-37 38h0m0-11h0m-17 28h0m8-8h0m9 19h0m-15 7h0m-12 10h0m-3-8h0"/><path stroke="#8b88b9" d="M1062 138h0m-49-13h0m-9 5h0m-17 6h0m-17-14h0m-25 12h0m-10-8h0m-9 13h0m-13-13h0m-34 8h0m5 18h0m16-2h0m14 12h0m0-4h0m39-3h0m54-5h0m2 10h0m7-14h0m4 4h0m24-2h0m6 10h0m20 9h0m7-7h0m8 3h0m11-11h0m-5 25h0m-11 9h0m-12 5h0m-38-14h0m-19-8h0m-39 8h0m-9-9h0m-7 0h0m-9 8h0m-1 9h0m-1-14h0m-16 20h0m-16-11h0m-7 10h0m-28-6h0m-12-12h0m-48 18h0m-11 11h0m22-9h0m6 18h0m8-1h0m34 0h0m4-6h0m2 10h0m9-11h0m0-4h0m33 9h0m21 0h0m55-5h0m7-2h0m9-4h0m14 18h0m5-9h0m16 10h0m6-12h0m86-10h0m3 23h0m-31 22h0m-61-5h0m-92 2h0m-12-17h0m-11 9h0m-25-7h0m-13 2h0m-32-4h0m-24-1h0m-29 9h0m-5-1h0m-18 3h0m43 35h0m4-10h0m37 1h0m19-11h0m19-1h0m8 11h0m4 7h0m15-16h0m2 6h0m11-3h0m31-6h0m29 19h0m47-14h0m11-3h0m5-3h0m23 0h0m14 10h0m3-6h0m7 6h0m18 3h0m5 0h0m1 5h0m3-17h0m7 12h0m6 9h0m3-5h0m1-16h0m5 43h0m-11-15h0m-3-3h0m-11 7h0m-1-9h0m-10 15h0m-67-11h0m-27-1h0m-19 13h0m-44-11h0m-4 13h0m-8 4h0m-5-21h0m-1 21h0m-3-20h0m-10 18h0m-6-7h0m-3-5h0m-12 15h0m-4-11h0m-12-3h0m-13 10h0m-16 1h0m-1-3h0m-3-16h0m-3 15h0m-3-11h0m-59 9h0m-4 7h0m5 20h0m80-6h0m29 12h0m6-3h0m1-20h0m63 12h0m22 5h0m6-17h0m17 20h0m4 2h0m50-5h0m10 4h0m39-2h0m32-3h0m6-10h0m5 14h0m3-7h0m-1 16h0m-6-2h0m-77 6h0m-10 3h0m-37 0h0m-8-7h0m-4 0h0m-57 9h0m-68 6h0m-7 1h0m-10-5h0m-10-9h0m-1 9h0m-15-4h0m-6 0h0m-3-5h0m-2 5h0m-20 8h0m-16-15h0m-8-3h0m36 27h0m17 12h0m15 6h0m3-7h0m9-9h0m34 3h0m11-6h0m18 2h0m37 1h0m24-4h0m24 14h0m22-17h0m7 23h0m4-13h0m9 5h0m3-14h0m7 11h0m6 4h0m21-11h0m21 9h0m15-12h0m2 3h0m25 3h0m12 11h0m6 23h0m-29-2h0m-38-11h0m-3 14h0m-10-2h0m-24-6h0m-2-5h0m-7-3h0m-10 18h0m-44-18h0m-7 8h0m-19-10h0m-20 9h0m-8-9h0m-4 7h0m-39 9h0m-22-7h0m-15-4h0m-6 9h0m-4-5h0m-7 7h0m-12-13h0m0 11h0m25 12h0m17 5h0m3 3h0m8 6h0m29-5h0m3 3h0m10-10h0m3 17h0m10-5h0m38-4h0m3 2h0m14 1h0m31-4h0m6 6h0m9-1h0m30-12h0m38 12h0m61 4h0m-2 20h0m-19-3h0m-5-3h0m-15 8h0m-38-1h0m-9-2h0m-14-1h0m-7-5h0m-19-9h0m-46 19h0m-12-7h0m-3-3h0m-13-5h0m-10 12h0m-27-5h0m-19-10h0m89 40h0m3-5h0m9 6h0m22-3h0m3-7h0m127-1h0m-40 34h0m-1-8h0m8 23h0m-2 16h0m-22 7h0"/><path stroke="#7f7cb2" d="M933 118h0m96 21h0m-24-13h0m-5 0h0m-16 0h0m-52 12h0m-23-10h0m-18 8h0m-39 23h0m12 0h0m16-4h0m89 8h0m7 2h0m37-11h0m10 0h0m3 6h0m0-9h0m55 13h0m15-7h0m40 29h0m-26-18h0m-10 2h0m-20-1h0m-21 20h0m-30-20h0m-6 7h0m-13-1h0m-43-4h0m-27 1h0m-7 0h0m-6 15h0m-27 1h0m-3-17h0m-29 16h0m-2 4h0m-42-3h0m-31 23h0m10 3h0m3-17h0m11 2h0m8-1h0m3 13h0m4-5h0m10-4h0m7 0h0m17 7h0m2-5h0m31-2h0m5 2h0m4 6h0m58-15h0m129 13h0m3-14h0m24 18h0m13-2h0m6-12h0m11 1h0m14 24h0m-40-5h0m-6 13h0m0-13h0m-18 2h0m-3 11h0m-7-5h0m-3-10h0m-4 11h0m-16-3h0m-25 2h0m-38 8h0m-3-17h0m-9 18h0m-61-11h0m-5 12h0m-32-16h0m-30 1h0m-18 17h0m-21-7h0m-18-2h0m-3-12h0m-3 3h0m-5 13h0m-6 2h0m-1 4h0m1 13h0m9 8h0m47-17h0m10 18h0m31-10h0m4 4h0m27 1h0m27-16h0m4 12h0m5-11h0m8 16h0m62-11h0m36 10h0m34 6h0m29-18h0m34-2h0m16 21h0m-89 8h0m-3-5h0m-34 11h0m-6 8h0m-3-6h0m-20 4h0m-15-14h0m-28-5h0m-10 12h0m-80 3h0m0-6h0m-3-5h0m-12-2h0m-11 7h0m-14 11h0m0-16h0m-2 5h0m-12 7h0m-11 0h0m-11 12h0m25 9h0m22-7h0m34 1h0m61 11h0m43-1h0m2-13h0m9 13h0m9-17h0m5 19h0m21-12h0m98-7h0m18 15h0m31 17h0m-51 7h0m-1-9h0m-27-6h0m-45 0h0m-34 12h0m-1-9h0m-46 8h0m-4-1h0m0-10h0m-4 20h0m-18-13h0m0-7h0m-18 4h0m-18-3h0m-9 2h0m-7 18h0m-1-18h0m-16 11h0m-11 7h0m-3-13h0m-13-7h0m-10 15h0m-13 3h0m-5-10h0m47 18h0m37 1h0m20-4h0m4 10h0m9-1h0m4 6h0m19-7h0m6 2h0m14 11h0m67-9h0m5-8h0m19 10h0m5-5h0m29-8h0m15 8h0m10 12h0m14-13h0m18 15h0m7 0h0m18-17h0m-48 24h0m-104 14h0m-5-6h0m-18-1h0m-11 8h0m-58-4h0m-2-3h0m-9-11h0m-9 7h0m-2 5h0m-60-1h0m-10-10h0m-5 2h0m47 25h0m25 2h0m6 13h0m32-13h0m12 5h0m6-1h0m12-10h0m4 13h0m4-16h0m7 12h0m12 9h0m13-5h0m6 3h0m13 1h0m5-13h0m26-7h0m7 9h0m1-8h0m64-1h0m50 19h0m12 25h0m-25 0h0m-15-9h0m-4-10h0m-48 22h0m-7-10h0m-12 7h0m-3-20h0m-18 8h0m-13 14h0m-53-21h0m-42 8h0m-1-7h0m45 28h0m47-1h0m115 3h0m3-2h0m11 4h0m15-2h0m-22 20h0m-22 18h0m0-8h0m-4-1h0m-4 9h0m20 27h0m-25 20h0"/><path stroke="#7569a8" d="M956 118h0m70 10h0m-57 10h0m-16-3h0m-87 4h0m-1 11h0m12 1h0m44-4h0m42 11h0m82 2h0m55-1h0m7 2h0m-66 7h0m-41 17h0m-1-12h0m-24-1h0m-103 10h0m-7-5h0m-19-2h0m-44 30h0m19-2h0m4-11h0m3 15h0m34 0h0m77-8h0m2 7h0m33-8h0m63 16h0m3-19h0m2 15h0m29 5h0m14-6h0m41 0h0m19-2h0m20 29h0m-8-9h0m-9 2h0m-13-2h0m-91-5h0m-52-2h0m-50-4h0m-72 12h0m0-5h0m-5 2h0m-3 9h0m-5-15h0m-5 14h0m-3-14h0m-11 18h0m-17-1h0m-30-18h0m16 29h0m3 9h0m24-16h0m32 0h0m11 21h0m7 2h0m24-20h0m40 17h0m14-18h0m14 9h0m18 7h0m22-2h0m31-8h0m44-8h0m22 23h0m18-5h0m2-8h0m2 6h0m39-10h0m-14 39h0m-2-10h0m-54 11h0m-14-17h0m-11 18h0m-23-20h0m-11 14h0m-17-8h0m-32 7h0m-41 1h0m-18-2h0m-8-14h0m-11 4h0m-12 1h0m-33 11h0m-22 3h0m-38-20h0m-4 1h0m27 42h0m4-13h0m34 8h0m17 0h0m3-12h0m54 17h0m5-10h0m23-2h0m26 8h0m24-7h0m18-7h0m20 6h0m35 3h0m20 4h0m4 9h0m44-13h0m-89 36h0m-16-6h0m-10 4h0m-6-8h0m-62-8h0m-22 4h0m-10 15h0m-67-16h0m-16 9h0m-16-9h0m33 24h0m2 13h0m7-10h0m4 9h0m28-1h0m4-2h0m18-4h0m7-5h0m11 6h0m4-8h0m100 9h0m26-8h0m16 7h0m9 1h0m37-1h0m39 22h0m-9 2h0m-10-7h0m-89-5h0m-10 6h0m-5-4h0m-29 14h0m0-7h0m-4 8h0m-34-10h0m-60 2h0m-13-8h0m-14 4h0m-11 7h0m-38 5h0m-3-18h0m33 27h0m29-3h0m4 0h0m24 6h0m1 11h0m5-14h0m23 2h0m2 3h0m17-4h0m4 15h0m3-14h0m1-4h0m60 20h0m25 2h0m41-9h0m29 5h0m9-17h0m16 6h0m12-2h0m-36 24h0m-8 2h0m-32-8h0m-45 2h0m-33 1h0m-32 20h0m-32-21h0m-3 3h0m-10 1h0m0 10h0m183 18h0m27 3h0m11-8h0m-12 31h0m-23 7h0"/><path stroke="#6b579e" d="M1042 133h0m-2 10h0m-146 18h0m173-13h0m48 39h0m-281-3h0m-33 16h0m21-5h0m2 14h0m29-2h0m7 8h0m13-19h0m42 10h0m47-9h0m35 11h0m8-5h0m24-6h0m38 4h0m39-8h0m0 9h0m53 14h0m-55 7h0m-118 2h0m-23-1h0m-39 9h0m-8-9h0m-30 8h0m-49-16h0m-3 15h0m-3 4h0m-7-10h0m-11-9h0m-14 32h0m15 10h0m4-8h0m4 4h0m3 9h0m6-6h0m24-6h0m9-7h0m4 5h0m5-9h0m4 2h0m58 10h0m9 10h0m37-18h0m34-4h0m11 1h0m57 14h0m90-3h0m-1 13h0m-34-1h0m-243 18h0m-26-5h0m-35-9h0m-28 5h0m6 22h0m34 6h0m39-2h0m81 5h0m17-9h0m5 7h0m125 4h0m60 14h0m-58-1h0m-11 10h0m-9 0h0m-16 0h0m-15-4h0m-3-8h0m-25-4h0m-19 18h0m-16-2h0m-19-1h0m-15 6h0m-13-13h0m-17-8h0m-37 10h0m-11-2h0m-57-9h0m61 27h0m104-3h0m52 19h0m76-12h0m4 14h0m15-17h0m5 42h0m-5-11h0m-46 0h0m-31-10h0m-12 18h0m-39-2h0m-43 2h0m-7-5h0m-3-12h0m-40 15h0m-12-8h0m-2 10h0m-6-19h0m-3 4h0m-16 16h0m-11-9h0m14 15h0m48 3h0m8 2h0m1 11h0m2-9h0m5-1h0m3-8h0m18 20h0m39-5h0m25-12h0m5 7h0m12 1h0m33 5h0m139 9h0m-87 10h0m-20 0h0m-47-1h0m-26-9h0m-67 8h0m-19-4h0m143 29h0m28-7h0m20-2h0m28 13h0m31 9h0m-6 20h0m-24-9h0m-17-4h0"/><path stroke="#614594" d="M1058 151h0m22 27h0m-59 7h0m-128 1h0m-58 6h0m10 6h0m30 17h0m103-22h0m74 1h0m53 16h0m-2 24h0m-31-1h0m-135 4h0m-63-17h0m-20 8h0m-35-10h0m6 27h0m8 6h0m11-3h0m21 14h0m26-20h0m15 16h0m68 4h0m180-14h0m-22 26h0m-81 12h0m-32-18h0m-178 11h0m-21-5h0m-18-1h0m35 17h0m11-2h0m5 12h0m10-7h0m173 1h0m105 8h0m-67 25h0m-80-13h0m-3 17h0m-89 4h0m-49-2h0m7 22h0m49-16h0m14 15h0m125-14h0m79-2h0m-4 30h0m-66 7h0m-24-13h0m-31 5h0m-42 14h0m0-18h0m-18 10h0m-1 7h0m0-20h0m-11 2h0m-3 12h0m-3-8h0m-2-6h0m-22 19h0m-22-18h0m0 10h0m-8-3h0m-2 8h0m95 31h0m41-23h0m7 10h0m61 6h0m103-9h0m4 6h0m-43 16h0m-183 1h0m115 33h0m145-2h0m-57 20h0"/><path stroke="#58348b" d="M828 188h0m-12 24h0m38-1h0m9-13h0m89 11h0m-154 13h0m3 18h0m11 4h0m16-1h0m11 16h0m19-14h0m2 6h0m9-6h0m173 13h0m124 20h0m-300-9h0m-7-2h0m-16 2h0m-24-3h0m-5 7h0m-10-3h0m57 29h0m12-2h0m2 10h0m96-1h0m-60 26h0m-46 6h0m23 8h0m21 8h0m44 5h0m37-13h0m12 9h0m33-3h0m128 3h0m-6 7h0m-67 4h0m-14 15h0m-7-1h0m-95-6h0m-23 6h0m-60 9h0m7 0h0m13-2h0m71 3h0m56 30h0m112 27h0"/><path stroke="#4e2382" d="M1073 151h0m-266 85h0m14 26h0m20-19h0m29 18h0m-15 3h0m-6 12h0m-38 4h0m195 13h0m99 23h0m-174 62h0m-38-15h0m46 22h0m120 8h0"/><path stroke="#44137a" d="M837 204h0m326 130h0m-235 14h0m-12 30h0m32 25h0m22-14h0"/><path stroke="#3b0472" d="M1025 306h0m-144 81h0m44 0h0m25 0h0"/></g><rect x="383.6" y="47.1" width="243.6" height="226.6" fill="none" stroke="#3a3a3a" stroke-width="1.3"/><rect x="629.6" y="47.1" width="7.6" height="226.6" fill="url(#gP)" stroke="#3a3a3a" stroke-width="1"/><text x="644.2" y="90.3" font-size="15.5">2</text><text x="644.2" y="142.7" font-size="15.5">1</text><text x="644.2" y="195.1" font-size="15.5">0</text><text x="644.2" y="247.5" font-size="15.5">−1</text><path d="M637.2 84.5h4M637.2 136.9h4M637.2 189.3h4M637.2 241.7h4" stroke="#222" stroke-width="1"/><text x="505.4" y="40.2" font-size="15" text-anchor="middle">ETV1</text><text x="505.4" y="290.1" font-size="15" text-anchor="middle">UMAP1</text><text transform="translate(375.4 160.4) rotate(-90)" text-anchor="middle" font-size="15">UMAP2</text><g transform="scale(.5)" fill="none" stroke-width="6.6" stroke-linecap="round"><path stroke="#d7d7e8" d="M1836 499h0"/><path stroke="#cbcce1" d="M1540 377h0m-14 10h0m277 125h0"/><path stroke="#bebfda" d="M1746 159h0m-243 10h0m251 155h0m42 109h0m40 38h0"/><path stroke="#b2b1d1" d="M1615 163h0m-59 206h0m-38 9h0m-13-12h0m300 35h0m16-10h0m-43 33h0m-21-6h0m-23 2h0m-9 10h0m-41-10h0m175 25h0m13 8h0m-36 7h0m-34 5h0m24 20h0m-20 23h0"/><path stroke="#a4a2c8" d="M1600 115h0m-98 48h0m24-8h0m15 12h0m68 24h0m-75-3h0m-64 21h0m11 1h0m179 30h0m88 10h0m-225 23h0m20 26h0m-45 34h0m36 13h0m79-4h0m156 26h0m-85 3h0m-160 5h0m-11 0h0m177 24h0m15-7h0m32 8h0m6-16h0m7 14h0m40-15h0m19 32h0m-9-4h0m-19 1h0m-8-1h0m-10 7h0m0 9h0m-30 16h0m24-1h0m42-8h0m10 16h0m12 19h0m-2-4h0m-10 5h0m-1 4h0m10 13h0m0 23h0"/><path stroke="#9895c0" d="M1529 135h0m-11 32h0m5-1h0m49-14h0m81-2h0m106 33h0m-18 4h0m-34-18h0m-12 18h0m-88-1h0m-2-11h0m-46-3h0m-20 14h0m-27-14h0m-64 33h0m234 0h0m1 9h0m95-22h0m27 24h0m-140 21h0m-2-8h0m-65 4h0m-15-16h0m-73 13h0m-27 33h0m252-13h0m52-5h0m26 41h0m-122-5h0m-67 1h0m-72-12h0m-53 3h0m50 20h0m25 9h0m43 4h0m125-7h0m47 8h0m-104 12h0m-80 4h0m-40 2h0m-32 4h0m0 27h0m103-10h0m222 9h0m-14 16h0m-66 6h0m-106-4h0m-148 10h0m-3-9h0m56 10h0m17 19h0m5-6h0m74 4h0m38-5h0m10-11h0m22 8h0m2 5h0m29-12h0m5 16h0m7-4h0m63 3h0m21 27h0m-18 2h0m-27-21h0m-8 5h0m-10-2h0m-7 9h0m-14 5h0m-15-5h0m-5-10h0m-3 12h0m-32-7h0m0 14h0m-82-6h0m-25-7h0m97 20h0m9 11h0m6-2h0m17-9h0m71 9h0m4-5h0m15-4h0m12 3h0m0-7h0m-2 42h0m-4 0h0m-24-9h0m-9 3h0m11 28h0m8-10h0m5 7h0m7-2h0m-37 15h0"/><path stroke="#8b88b9" d="M1596 116h0m6 2h0m48 12h0m-114 6h0m-9 6h0m-12 7h0m14 16h0m17-15h0m12 16h0m1-19h0m82 5h0m55 6h0m-78 27h0m-72-16h0m-9 13h0m-2-9h0m-6 3h0m-32 0h0m-14 12h0m0 8h0m36 0h0m3 4h0m37-1h0m12 8h0m104-10h0m42 18h0m11-21h0m61 19h0m-94 17h0m-19-2h0m-41 8h0m-11-18h0m-15 6h0m-61-2h0m-19 14h0m-61 18h0m9 3h0m19-4h0m27 8h0m51-1h0m15 2h0m21-11h0m18 3h0m64-6h0m25 1h0m67 34h0m-87 3h0m-55-18h0m-138 16h0m-25-4h0m-19-7h0m3 32h0m19 2h0m1-17h0m2 4h0m46 5h0m128-7h0m37 19h0m11-12h0m24-8h0m104 29h0m-16 12h0m-179-18h0m-13 14h0m-32-8h0m-70 4h0m-10-5h0m-4 19h0m4 6h0m21 9h0m59-5h0m0 7h0m56-18h0m7 13h0m33-4h0m27 13h0m38-7h0m33-12h0m26 1h0m29 4h0m8 10h0m-76 27h0m-12-22h0m-19 3h0m-23 18h0m-31-11h0m-135 3h0m-40-5h0m-3 12h0m24 9h0m9 1h0m2-3h0m5 4h0m17-4h0m125 0h0m23 13h0m28 7h0m21 0h0m22-15h0m3 11h0m0-7h0m1-8h0m8 9h0m7-13h0m63 25h0m-22 19h0m-9 1h0m-27-21h0m-29 11h0m-28-11h0m-6 6h0m-3 10h0m-9-8h0m-32-1h0m-64-5h0m-13 0h0m-2 10h0m42 18h0m26 3h0m17-3h0m1-5h0m35 9h0m19 4h0m38-4h0m34-4h0m9 12h0m17-3h0m-12 20h0m-3 3h0m-29 4h0m-3-12h0m-16-3h0m48 23h0m-22 26h0m-13-2h0"/><path stroke="#7f7cb2" d="M1709 143h0m-12-7h0m-62-16h0m-41 18h0m-19-5h0m-6 9h0m-16-7h0m-22 4h0m-21 20h0m16 1h0m4-8h0m7 13h0m23-3h0m21-17h0m5 6h0m16 4h0m11-11h0m24 4h0m8 6h0m77-10h0m40 23h0m-26 20h0m-11-1h0m-55-5h0m-3 4h0m-13-1h0m-5-15h0m-4 4h0m-12 12h0m-47-13h0m-14 3h0m-18 7h0m-4-13h0m-7 2h0m-10-2h0m-19 18h0m-2 4h0m-17-9h0m-3-7h0m-43 39h0m3-17h0m15 6h0m7-11h0m7 0h0m18 19h0m15-7h0m14 9h0m5-4h0m5-7h0m96-1h0m20-1h0m2-6h0m0 11h0m9 2h0m48-2h0m55 20h0m-130-5h0m-10 7h0m-28 0h0m-8 1h0m-31 7h0m-33-6h0m-36-5h0m-25 12h0m-23-14h0m-5 6h0m-2-10h0m50 25h0m42 1h0m10 11h0m4-12h0m34 0h0m25-2h0m0 6h0m41 13h0m59-20h0m11 13h0m23 5h0m2-14h0m3 18h0m38-12h0m22 13h0m12-11h0m7 32h0m-9-18h0m-33 8h0m-19 0h0m-10 12h0m-7-4h0m-26-7h0m-119 9h0m-64-11h0m0 6h0m-6 8h0m-6-18h0m-14 4h0m-41 1h0m-18-1h0m55 28h0m16 1h0m22 3h0m77-12h0m4 14h0m17-12h0m5-3h0m8 9h0m7-2h0m1 12h0m16-1h0m50-17h0m15-3h0m45-2h0m9 8h0m18 2h0m-30 20h0m-23 8h0m-38-11h0m-16 17h0m-14-8h0m-62-1h0m-9 1h0m-45 3h0m-50-10h0m-7 7h0m-29 7h0m-10-10h0m17 17h0m24 9h0m43-7h0m5 14h0m4 0h0m15-8h0m34 2h0m13 2h0m43-4h0m25-4h0m4 6h0m20 11h0m54-9h0m9 7h0m15-8h0m39 2h0m-30 27h0m-11-16h0m-4 4h0m-9 5h0m-20 4h0m-10-13h0m-17 9h0m-7-10h0m-10 16h0m-19-6h0m-6 8h0m-20-2h0m-4 3h0m-4-1h0m-37-18h0m-14 20h0m-13-19h0m-3 19h0m-3-4h0m-6-14h0m-10-3h0m-4 7h0m-2-5h0m-14 4h0m-10 0h0m-11 13h0m-22-8h0m0-10h0m-5 10h0m-4-11h0m-4 4h0m32 25h0m30 6h0m2-6h0m6 12h0m9 1h0m50-1h0m14 4h0m3-6h0m4-14h0m1 15h0m11 5h0m40-19h0m8 19h0m16-9h0m3 4h0m28-7h0m34-3h0m1 15h0m22-19h0m5 7h0m29-1h0m7 13h0m-5 24h0m-16-7h0m-14-8h0m-12 10h0m-9 1h0m-33 6h0m-1-23h0m-17 20h0m-14 0h0m-17-5h0m-11-5h0m-37 3h0m-1 10h0m-5-19h0m-29 15h0m-11-8h0m-2-6h0m56 19h0m3 3h0m6 15h0m16-3h0m2-6h0m19 0h0m77-4h0m21 8h0m18-3h0m12 13h0m2-15h0m-5 17h0m-30 2h0m-8 19h0m-7-19h0m-1 19h0"/><path stroke="#7569a8" d="M1687 133h0m-2 10h0m-13-15h0m-6-2h0m-29 14h0m-19 3h0m-8-10h0m-23-9h0m-9 14h0m-24 3h0m-5-2h0m-4-5h0m-34 16h0m8 3h0m4-2h0m6 6h0m7 3h0m14-3h0m17 0h0m11-1h0m15-11h0m5 10h0m61 3h0m7-8h0m17 16h0m8-6h0m11 1h0m1-5h0m5 9h0m10-14h0m20 13h0m5-1h0m31 18h0m-6-6h0m-1 11h0m-46 2h0m-6-14h0m-2 17h0m-2-17h0m-7 15h0m-18-14h0m-10 2h0m-15 5h0m-4-13h0m-2 6h0m-17 0h0m-2-7h0m-9 16h0m-1 4h0m-1-12h0m-13-1h0m-9 13h0m-1-20h0m-13 7h0m-9 8h0m-19 1h0m-11 3h0m-6-13h0m-12 10h0m-21-7h0m-1-9h0m-6 10h0m-30 10h0m-15 8h0m9-1h0m2 3h0m0-6h0m18 22h0m20-7h0m4 2h0m18-3h0m3-12h0m4 17h0m0-13h0m4 6h0m15-8h0m36 11h0m16-10h0m55-1h0m35 19h0m2-8h0m2 8h0m2-12h0m48-10h0m9 18h0m10-17h0m12 1h0m7 12h0m3-7h0m-12 27h0m-2-7h0m-30 14h0m-8 2h0m-3-14h0m-3-6h0m-6 4h0m-30 17h0m-5-11h0m-4-4h0m-9 4h0m-5 12h0m-1-15h0m-17 8h0m-32 3h0m-2-9h0m-44-6h0m-1 5h0m-18-8h0m-13 1h0m-3 9h0m-3 1h0m-10 5h0m-32-4h0m-6-9h0m-8 2h0m-7 10h0m-2 4h0m-5-4h0m-3-15h0m-10 0h0m4 34h0m41-5h0m8-5h0m11 14h0m11-3h0m13-7h0m3 6h0m2 8h0m27 1h0m8-3h0m18-3h0m8 8h0m32-16h0m4-3h0m22-1h0m6 11h0m6 2h0m3-6h0m20 14h0m1-6h0m2-10h0m22-6h0m7 14h0m10 8h0m45-1h0m2-3h0m4-17h0m16 16h0m-30 22h0m-1-15h0m-13 0h0m-28 4h0m-11 3h0m-4 12h0m-50-2h0m-59-2h0m-3-8h0m-25 6h0m-13 2h0m-3 8h0m-44-3h0m-16-7h0m-6 9h0m-54-21h0m21 30h0m33 9h0m4-4h0m8 7h0m36-1h0m3 4h0m7-6h0m3 3h0m9-19h0m27 8h0m28 6h0m7 3h0m1-5h0m10-7h0m9-5h0m6 19h0m3-19h0m1 18h0m1-14h0m21 4h0m25 1h0m34-2h0m7 11h0m5-9h0m5 14h0m59-22h0m5 19h0m6 3h0m-33 13h0m-22 3h0m-32-6h0m-1-5h0m-6 1h0m-4 12h0m-8 0h0m-1 6h0m-9-13h0m-13 3h0m-4-8h0m-6 7h0m-28 0h0m-28-12h0m-61 1h0m-31 20h0m-7-10h0m-11 3h0m-23-11h0m-15 0h0m-18-3h0m28 43h0m4-11h0m17-5h0m4-2h0m8 2h0m5 9h0m1 7h0m15-9h0m1-9h0m18 19h0m12-5h0m12 8h0m15-6h0m8-7h0m24-3h0m3 14h0m23 0h0m15-5h0m16 6h0m13-22h0m7 12h0m4-2h0m5 9h0m7 1h0m5-17h0m4 1h0m18 3h0m5 14h0m5-12h0m33-7h0m36 8h0m-16 17h0m-4 13h0m-30-4h0m-5-12h0m-7 19h0m-30-10h0m-37 6h0m-7-14h0m-10 14h0m-3-7h0m-6 12h0m-2-3h0m-3 5h0m-20-2h0m-2-7h0m-35-12h0m-12 13h0m-1 5h0m-26 4h0m-6-3h0m-7-5h0m-11 2h0m-7 1h0m-11-3h0m-17 2h0m-6-2h0m5 11h0m24 6h0m0-5h0m1-3h0m38 3h0m10 14h0m48-17h0m3 19h0m4-7h0m5-12h0m11 15h0m9 5h0m18 0h0m2-19h0m20 8h0m2 9h0m29-8h0m10-5h0m42 10h0m16-2h0m20 31h0m-15-9h0m-25 4h0m-67-14h0m-6 1h0m-15 15h0m-5-5h0m-13-9h0m-7 17h0m-8-19h0m-6 17h0m-4-5h0m-10-8h0m-4 0h0m-5-4h0m-4 2h0m-2 18h0m-14-2h0m-13-13h0m-31-4h0m83 23h0m26 12h0m34-10h0m18-2h0m24 2h0m16 3h0m3 9h0m66-7h0m9 2h0m3-9h0m-27 27h0m-4 0h0m-9 16h0m-2-8h0m-8 24h0m4-12h0m1 9h0m5 16h0m-10 13h0m-15 7h0"/><path stroke="#6b579e" d="M1607 115h0m100 23h0m-26-1h0m-2 4h0m-28-15h0m-47-3h0m-1 18h0m-17-10h0m-2-10h0m-2 16h0m-11-9h0m-12-2h0m-34 8h0m-5 2h0m-22 23h0m14-5h0m28 7h0m13 4h0m2-14h0m5 7h0m12 7h0m2-6h0m6-9h0m38 10h0m4 5h0m6-13h0m4 4h0m12-10h0m1 21h0m2-16h0m3 6h0m1-3h0m25 8h0m14-14h0m9 16h0m6-20h0m23 4h0m3 15h0m5-9h0m23 19h0m-1 18h0m-22-14h0m-4-6h0m-7 7h0m-10 1h0m-5 0h0m-37-6h0m-18 17h0m-8-14h0m-6 2h0m-12-10h0m-8 4h0m-22 5h0m-8-6h0m-12 1h0m-6 15h0m-5-11h0m-1 12h0m-1-4h0m-3-13h0m-5 9h0m-12 8h0m-1-5h0m-3-4h0m-8 0h0m-11 5h0m-18-11h0m-26 11h0m-40 27h0m50-17h0m0 15h0m10-2h0m22 8h0m29-11h0m4 6h0m13-8h0m14 5h0m19-4h0m0-9h0m6 12h0m6-11h0m15 4h0m11 15h0m13-11h0m5 7h0m25-13h0m9 17h0m4-3h0m22-13h0m7-4h0m0 17h0m4-2h0m6-6h0m1-7h0m11 10h0m7-4h0m6 3h0m14 9h0m9-4h0m6-1h0m14 0h0m6 26h0m-2-13h0m-43 16h0m-17-7h0m-25 7h0m-2-5h0m-15-7h0m-36 0h0m-1 6h0m-10-6h0m-8-3h0m-2 5h0m-11-3h0m-31-1h0m-1 8h0m-29-1h0m-58-8h0m-13-4h0m-5 14h0m-7-16h0m-3 16h0m-5 4h0m-9-21h0m-31 17h0m-2-17h0m12 31h0m10 9h0m16-16h0m6 19h0m2-6h0m15-13h0m12 9h0m1 12h0m0-16h0m15 18h0m13-14h0m3 12h0m24-8h0m2-13h0m7 23h0m12-13h0m2-10h0m5 0h0m10 2h0m2 15h0m9-2h0m3-4h0m11-10h0m12 7h0m4 3h0m18 10h0m4-1h0m9-20h0m7 14h0m9-2h0m4-1h0m20-8h0m5 1h0m18 0h0m2 3h0m3-7h0m5 12h0m3-12h0m7 19h0m2-15h0m6 11h0m15 4h0m2-11h0m2 5h0m1 3h0m3-9h0m27 27h0m-9 4h0m-3-9h0m-2-3h0m-2 13h0m-10-6h0m-8-5h0m-12-2h0m-5 17h0m-10-15h0m-5 0h0m-1 14h0m-7-1h0m-33-3h0m-19-6h0m-13 13h0m-3-13h0m-9-1h0m-4 12h0m-1-15h0m-9 2h0m-15 10h0m-11-9h0m-8-7h0m-3 18h0m-8-11h0m-1 10h0m0 5h0m-3-20h0m-3 5h0m0 11h0m-4-1h0m-28-5h0m-9 3h0m-3 5h0m-25-2h0m-5-1h0m0-4h0m-12-11h0m-6 3h0m-19 15h0m-4-15h0m-2 10h0m-15-4h0m-4 5h0m-2 7h0m-5-9h0m-2-14h0m-12 0h0m-1 4h0m11 24h0m1 3h0m3 4h0m8 4h0m13-2h0m10 0h0m1 8h0m16-16h0m5 0h0m0 16h0m4-12h0m4-5h0m10 3h0m16 5h0m1 7h0m22 4h0m6-3h0m13 2h0m3-11h0m1 8h0m2 4h0m3-14h0m1-8h0m10 4h0m21 6h0m2 7h0m15-3h0m5 2h0m14-13h0m5 4h0m38-1h0m3 12h0m2-16h0m2 14h0m14-2h0m33-1h0m14-4h0m20-8h0m34 24h0m-4 15h0m-3 6h0m-37-8h0m-14 7h0m-18-22h0m-36 15h0m-9-15h0m-14 17h0m-16-10h0m0 7h0m-12-12h0m-8 13h0m-9-2h0m-26-9h0m-14 18h0m-7-5h0m-2 6h0m-5 0h0m-1-10h0m-7-7h0m-8 15h0m-10-2h0m-4-18h0m0 19h0m-7 1h0m-12-8h0m-12-11h0m-13 19h0m-10-5h0m-23-9h0m-2 8h0m-5 4h0m18 27h0m21-5h0m15 6h0m28-2h0m16-3h0m15-9h0m2 14h0m2-8h0m30-8h0m17 12h0m35-6h0m4-2h0m10 6h0m6 0h0m8-13h0m9 4h0m6-7h0m5 13h0m8 1h0m4-14h0m0 5h0m22-5h0m12 4h0m20 9h0m12 5h0m12-13h0m1 17h0m12-7h0m13-10h0m-10 38h0m-2-7h0m-10-7h0m-34-1h0m-37 6h0m-3 7h0m-9-11h0m-7 14h0m-2-5h0m-35 7h0m-7-20h0m-1 11h0m-25-13h0m-11 7h0m-42 6h0m-19 3h0m0-7h0m-6 3h0m-4-3h0m-7-3h0m-3 14h0m-3-15h0m-6-6h0m-15 0h0m-10 3h0m-9 17h0m-2-16h0m53 25h0m8 2h0m3 2h0m7-9h0m4 19h0m2-13h0m5 6h0m3 3h0m10-10h0m27 11h0m32-13h0m4 7h0m13 1h0m27-9h0m3 12h0m7-14h0m92 4h0m27 7h0m15 10h0m4 24h0m-10-4h0m-19-11h0m-4 11h0m-9 2h0m-7 0h0m-40-12h0m0-4h0m-4-3h0m-85 22h0m-8-22h0m-7 8h0m-4 2h0m-10-1h0m-14 8h0m-9-3h0m-9-12h0m23 23h0m5 1h0m34 3h0m5 15h0m7-1h0m134-9h0m12 13h0m19-17h0m-18 40h0m-18-21h0m-30 5h0m6 39h0m18-6h0m4-3h0m-10 13h0m-5 1h0m-12 10h0"/><path stroke="#614594" d="M1578 118h0m38-1h0m13 2h0m46 20h0m0-4h0m-16 3h0m-3-9h0m-8-9h0m-3 6h0m-12 10h0m-3-10h0m0-3h0m-5 11h0m-15-10h0m-3 7h0m-16-9h0m-28 7h0m-5 12h0m-51 9h0m44 2h0m2-4h0m8 4h0m4 15h0m1-4h0m1-16h0m14 12h0m8-15h0m23 23h0m5-13h0m7 4h0m1 9h0m14-7h0m16 0h0m4-6h0m3-8h0m7 8h0m2-10h0m1 16h0m5-2h0m0-13h0m4 3h0m6 7h0m6 1h0m16-2h0m4-10h0m0 4h0m3 19h0m7-7h0m58 26h0m-25-18h0m-37 3h0m-10 13h0m-19-5h0m-12-7h0m-6 19h0m-3-15h0m-2-6h0m0 21h0m-27-8h0m-7-4h0m-20-8h0m-5-3h0m-9 13h0m0 7h0m-7-3h0m-3-6h0m-1 4h0m-11 5h0m-2-7h0m-23 9h0m-3-9h0m-10-7h0m-21 8h0m-26 9h0m-18 20h0m4-5h0m17-4h0m11 13h0m17-6h0m2-15h0m2 9h0m4-6h0m16-3h0m10 20h0m17-2h0m6-10h0m43-9h0m14 14h0m1-7h0m5 8h0m33 6h0m10-13h0m2 9h0m34-7h0m15-4h0m4 9h0m0-7h0m17-2h0m9 13h0m5-9h0m9 12h0m6-17h0m3-5h0m13 34h0m-2 11h0m-2-14h0m-29 13h0m-7-3h0m-3-7h0m-5-8h0m-7 1h0m-17 7h0m0-11h0m-21 22h0m-9-5h0m-2-6h0m-7 7h0m-15-1h0m-6-16h0m-14 0h0m-17 18h0m-9-3h0m-17-3h0m-1 8h0m-4-2h0m-21-19h0m-3 15h0m-2 6h0m-1-4h0m-4 5h0m-10-14h0m-4 6h0m-2-6h0m-7 13h0m-10-5h0m-1-15h0m-21 14h0m0 5h0m-3-11h0m-8-4h0m-29 9h0m0-14h0m-13 23h0m-5-21h0m-12 18h0m-1-19h0m-8 36h0m3 7h0m9-4h0m4 2h0m7 4h0m23 0h0m5-4h0m5-7h0m8 4h0m4 2h0m11-15h0m16 4h0m15-3h0m11 3h0m10 8h0m5-2h0m9-8h0m4 16h0m4-8h0m2 8h0m2-6h0m12-8h0m5 1h0m2 15h0m7-18h0m18-3h0m13 20h0m3-11h0m7-3h0m24 14h0m7-3h0m38-18h0m12 18h0m28 0h0m4-11h0m19 1h0m4-6h0m8-1h0m6 11h0m7 21h0m-6 6h0m-9-5h0m-15-10h0m-50 14h0m-13 7h0m-10-21h0m-32 3h0m-4 3h0m-1 4h0m0 13h0m-9-20h0m-4 13h0m-9 1h0m-14-16h0m-10 6h0m-8 15h0m-3-10h0m-12 10h0m-1-4h0m-2-6h0m-7 2h0m-13 7h0m-29-16h0m-21 1h0m-7-6h0m-10 1h0m-19 13h0m-20-13h0m-13 20h0m-9-19h0m-9 14h0m-5-14h0m38 39h0m5-17h0m10 6h0m2 5h0m9-11h0m12 5h0m58 11h0m0-7h0m2 10h0m38-16h0m4 16h0m7-15h0m20 19h0m3-15h0m4 6h0m15-9h0m8-3h0m4 12h0m1 8h0m7-8h0m2-5h0m41 8h0m4-7h0m3 2h0m21-10h0m1 13h0m2-5h0m4-5h0m3 13h0m42-2h0m6 0h0m16 31h0m-24-15h0m-7-6h0m-48 17h0m-18-9h0m-23 12h0m-15-6h0m-11-11h0m-4 0h0m-1 15h0m-5-17h0m-1 16h0m-17 0h0m-6 0h0m-7-1h0m-4 2h0m-5-3h0m-11-3h0m-10-4h0m0-10h0m-4 20h0m-4-10h0m-1-5h0m-4 6h0m-10-11h0m-3 9h0m-30 5h0m-5-6h0m-7-5h0m-16 10h0m-24 9h0m-4-10h0m-1 9h0m-5 0h0m-9-14h0m-1 9h0m-17-3h0m-3-8h0m-8-3h0m34 37h0m14-1h0m23-4h0m14-7h0m24 3h0m15-2h0m8 3h0m6 6h0m22-1h0m13-12h0m5 15h0m33 1h0m14 3h0m2-18h0m3 21h0m1-7h0m6 1h0m7-5h0m3 3h0m9 2h0m19-3h0m5-13h0m12 10h0m6 4h0m5-1h0m0-11h0m7 19h0m49 2h0m28 19h0m-42-5h0m-51-1h0m-12-6h0m0 16h0m-11-2h0m-5-14h0m-12 5h0m-3-8h0m-41 8h0m-13-4h0m-5 10h0m-1 4h0m-13-14h0m-15 1h0m-24 15h0m-12-3h0m-20-2h0m-1-16h0m-4 8h0m-4-10h0m-13 19h0m-8-9h0m-3-2h0m-36 1h0m89 23h0m11 15h0m2-20h0m6 2h0m1 15h0m11-14h0m0-6h0m14 10h0m3-3h0m1-4h0m7 1h0m7 1h0m14 8h0m11 3h0m37-4h0m97-9h0m22 5h0m-90 34h0m-27-3h0m-19-13h0m-14-1h0m-3 11h0m-17-11h0m-3 16h0m-1 6h0m-9-3h0m-17 3h0m-1-12h0m-32-9h0m-3 3h0m69 25h0m31 3h0m1 6h0m12-7h0m123 8h0m0 22h0m-10 30h0m-19 19h0"/><path stroke="#58348b" d="M1696 143h0m-13-14h0m-30 14h0m-1-7h0m-21-6h0m-11 6h0m0-11h0m-5 13h0m-6 4h0m-7-14h0m-7 5h0m0-11h0m-5 12h0m-5 7h0m-4-15h0m-6 0h0m-4 13h0m-23-9h0m-22 8h0m-15 1h0m-2 3h0m-3 3h0m56 1h0m39-2h0m10 5h0m23 10h0m38-8h0m4-3h0m33 1h0m17 6h0m1 9h0m26-3h0m8 26h0m-63-12h0m-11-7h0m-8 17h0m-4-16h0m-30 16h0m-4 1h0m-20-5h0m-28-5h0m-64 12h0m-33-17h0m-26 17h0m-18 13h0m2 8h0m8 3h0m12-5h0m35-9h0m6 15h0m46-7h0m1 4h0m10-15h0m13 4h0m6 13h0m5-6h0m2 3h0m13 6h0m9-17h0m11-2h0m6-1h0m8-1h0m2 19h0m2-18h0m0 12h0m11 6h0m16-21h0m4 17h0m22-14h0m11 6h0m6-9h0m19 0h0m1 23h0m5-21h0m9 3h0m38-1h0m4 16h0m1-7h0m6 0h0m-17 28h0m-19-2h0m-13 6h0m-3-14h0m-7-6h0m-24 7h0m-29 2h0m-6-9h0m-31 5h0m-8-1h0m-55 16h0m-20-4h0m-28-13h0m-9 7h0m-15 5h0m-2-4h0m0-10h0m-5 7h0m-3 9h0m0-14h0m-14 18h0m-24-13h0m-15 4h0m-6-9h0m-12 19h0m1 13h0m9-12h0m7 1h0m4 3h0m13 19h0m8-12h0m11-3h0m13 13h0m2-10h0m14-4h0m0-7h0m18 2h0m19 17h0m10-3h0m4 3h0m13-4h0m2 6h0m18-4h0m59-1h0m0 4h0m14 3h0m12-5h0m12-12h0m25-6h0m17 16h0m17 7h0m3-13h0m10 0h0m23 3h0m11 0h0m6 9h0m4-21h0m4 5h0m1 17h0m-3 2h0m-13 20h0m-2-10h0m-16-1h0m-11 10h0m-5-14h0m-1 7h0m-10 6h0m-11-10h0m-4-1h0m-12 6h0m-15-10h0m-3 17h0m-7-5h0m-22-1h0m-12-6h0m-17-8h0m-1 21h0m-5-17h0m-4 13h0m-20-13h0m-27 7h0m-3-9h0m-11 18h0m-3-6h0m0-10h0m-8-4h0m-7 2h0m-22 16h0m-17-15h0m-20 0h0m-4-1h0m-8 17h0m-2-8h0m-2-8h0m-3 5h0m-10-5h0m-28 5h0m20 18h0m12 7h0m15 2h0m9 8h0m20-3h0m7-12h0m1 9h0m18-2h0m9 5h0m1 5h0m0-14h0m16-2h0m10-1h0m13 1h0m2 8h0m7 2h0m10-9h0m42 10h0m17-11h0m6 14h0m0-13h0m20 16h0m44-2h0m4-10h0m48-9h0m7 16h0m18-12h0m6 23h0m-4 17h0m-21 0h0m-3-19h0m-30 0h0m-26 14h0m-15 4h0m-8-19h0m-22 10h0m-8 8h0m-15-19h0m-6 2h0m-41 3h0m-23 12h0m-4-10h0m-4-1h0m-11 5h0m-2 4h0m-5-12h0m-46 12h0m-5-7h0m-14-1h0m-2-5h0m-18 10h0m-7 7h0m-9-16h0m-1 5h0m22 20h0m17 0h0m18 11h0m8-9h0m25 5h0m10-12h0m3 3h0m25 10h0m10 10h0m25-13h0m7 7h0m20-14h0m7-3h0m1 22h0m26-21h0m13 15h0m38-3h0m1-10h0m80 16h0m-45 27h0m-63-13h0m-17 11h0m-12-16h0m-16 14h0m-8-16h0m-7 3h0m-59-5h0m-7 3h0m-6 11h0m-8-11h0m-32 4h0m10 25h0m8 1h0m7 3h0m15-6h0m16 3h0m10 13h0m2-8h0m6-9h0m12 18h0m3-14h0m8 1h0m12 2h0m20-10h0m3 17h0m18-12h0m21 9h0m0 5h0m85-2h0m42 0h0m6-19h0m-12 40h0m-12-5h0m-147-6h0m-41 3h0m-22 1h0m-8 7h0m-6-10h0m72 30h0m40-2h0m15-10h0m70 23h0m22-15h0"/><path stroke="#4e2382" d="M1586 117h0m72 8h0m-19 18h0m-23-21h0m-4-1h0m-15 7h0m-23-7h0m-2 11h0m-13-1h0m-2 5h0m-2-8h0m-24 16h0m62 18h0m11 2h0m17-15h0m5-4h0m5 3h0m17-3h0m10 5h0m37-1h0m9 2h0m27 5h0m23 21h0m-9-7h0m-4 2h0m-15-3h0m-20 4h0m-7 7h0m-4-9h0m-5 4h0m-6 15h0m-18-12h0m-14 0h0m-19-6h0m-15 5h0m-3 12h0m-21-10h0m-20 12h0m-31-1h0m-37-5h0m-60 15h0m5-6h0m12 5h0m42-2h0m12 12h0m28-7h0m5-4h0m19 13h0m4-10h0m3 14h0m10-9h0m2-6h0m7-4h0m23-2h0m40 3h0m27-2h0m13-1h0m29 20h0m2-8h0m23 8h0m46-15h0m14 24h0m-4 6h0m-15 0h0m-6 8h0m-21-19h0m-15 9h0m-11 3h0m-3-4h0m-78 9h0m0-14h0m-11-4h0m-32 16h0m-2-14h0m-26 5h0m-27-4h0m-18 16h0m-42-2h0m-43-9h0m-12 5h0m-9 5h0m8 13h0m26-3h0m2 13h0m1-15h0m20 0h0m16 1h0m1 18h0m15-18h0m22-4h0m0 15h0m14-13h0m20 5h0m58 11h0m18-11h0m14-1h0m32-3h0m9 6h0m10 0h0m6 6h0m1-6h0m24 10h0m27-3h0m13-14h0m3 36h0m-58-8h0m-19 9h0m-18-12h0m-13 6h0m0 12h0m-52 1h0m-26-21h0m-23 15h0m-8-6h0m-20-1h0m-8 10h0m-3-7h0m-25 4h0m-23-16h0m-43 21h0m-9-15h0m91 20h0m8 21h0m21-14h0m29 9h0m7-16h0m24 5h0m42 6h0m34-8h0m30 3h0m15-4h0m10-3h0m27 13h0m17 1h0m14-11h0m-2 43h0m-74-11h0m-27-1h0m-43 12h0m-2-17h0m-5 9h0m-19-10h0m-16-1h0m-17-3h0m-22 22h0m-5-6h0m-1-6h0m-29 9h0m-2-11h0m-6 14h0m-5-6h0m-2-10h0m-10 0h0m-23-6h0m23 30h0m19-4h0m18 6h0m16 1h0m26 10h0m6-15h0m10 12h0m0-12h0m124 7h0m39-1h0m15-3h0m52 22h0m-47 6h0m-83-5h0m-51 4h0m-32-8h0m-3 16h0m-5-6h0m-20-8h0m-42 9h0m8 10h0m3 22h0m1-21h0m51 7h0m0 9h0m13-17h0m17 20h0m143-16h0m44 2h0m-153 40h0m-84-9h0m-17-7h0"/><path stroke="#44137a" d="M1614 134h0m-15 1h0m-16 28h0m20-3h0m6-2h0m13-13h0m64 15h0m52-2h0m4-6h0m-30 35h0m-40-2h0m-8-12h0m-4-4h0m-20 22h0m-37-13h0m-139 12h0m39 13h0m62-6h0m5-5h0m43 11h0m16 9h0m18-10h0m65 8h0m19-1h0m19 1h0m3-4h0m19 3h0m39 27h0m-18-20h0m0 9h0m-4-6h0m-17-1h0m-38 15h0m-19-9h0m-24 6h0m-94-12h0m-2 6h0m-75-4h0m-57 6h0m-2-4h0m142 41h0m15-20h0m35 20h0m99-16h0m19-3h0m7 36h0m-16-9h0m-33-5h0m-34 11h0m-22-13h0m-7 14h0m-45-7h0m-25 1h0m-55 10h0m-22-1h0m-8-2h0m-56-10h0m69 29h0m14-3h0m152-6h0m20 14h0m126-2h0m-75 18h0m-36 10h0m-86-10h0m-2 12h0m-76-5h0m-10-11h0m0 13h0m-15 6h0m7 6h0m19 11h0m15 1h0m117-12h0m42 5h0m86 10h0m18-11h0m-125 27h0m-59-11h0m-11 10h0m-4 1h0m-15-4h0m-31-1h0m-6-1h0m-43-1h0m-15-4h0m22 27h0m67 12h0m92 5h0m-47 5h0m-55 6h0"/><path stroke="#3b0472" d="M1642 130h0m99 27h0m-47 20h0m-250 26h0m38 1h0m6-2h0m3-4h0m190 24h0m-29 12h0m0-16h0m-21 7h0m-45 2h0m-12 9h0m-35-5h0m-12-11h0m102 29h0m1 11h0m11 3h0m9-4h0m25-2h0m4-11h0m36-2h0m2 10h0m18 15h0m-10 18h0m-61-13h0m-30 4h0m0-9h0m-46 3h0m-108 12h0m66 7h0m19 0h0m156 10h0m103 7h0m5 7h0m-67-1h0m-85 10h0m-100-11h0m-23 41h0m66-10h0m20 13h0m10 23h0m-33-12h0m5 25h0m12 4h0m51-7h0"/></g><rect x="706.5" y="47.1" width="243.6" height="226.6" fill="none" stroke="#3a3a3a" stroke-width="1.3"/><rect x="952.5" y="47.1" width="7.6" height="226.6" fill="url(#gP)" stroke="#3a3a3a" stroke-width="1"/><text x="967.1" y="90.3" font-size="15.5">1</text><text x="967.1" y="141.2" font-size="15.5">0</text><text x="967.1" y="192.2" font-size="15.5">−1</text><text x="967.1" y="243.3" font-size="15.5">−2</text><path d="M960.1 84.5h4M960.1 135.4h4M960.1 186.4h4M960.1 237.5h4" stroke="#222" stroke-width="1"/><text x="828.3" y="40.2" font-size="15" text-anchor="middle">CRABP1</text><text x="828.3" y="290.1" font-size="15" text-anchor="middle">UMAP1</text><text transform="translate(698.3 160.4) rotate(-90)" text-anchor="middle" font-size="15">UMAP2</text><g transform="scale(.5)" fill="none" stroke-width="6.6" stroke-linecap="round"><path stroke="#fcfbfd" d="M2248 141h0m-40 5h0m-47 115h0m233-21h0m-229 62h0m229-2h0m-223 24h0m242 122h0"/><path stroke="#f7f5f9" d="M2298 136h0m-111 31h0m145-7h0m24 19h0m-73 28h0m152 12h0m-70 5h0m-228 0h0m226 30h0m110 50h0"/><path stroke="#f1f0f6" d="M2290 173h0m-55 2h0m-31 5h0m-9 1h0m-16-12h0m165 25h0m54-1h0m-42 45h0m-86-20h0m-32 10h0m-30-4h0m-62 27h0m161 5h0m-210 10h0m319 37h0m-30 26h0m-7 0h0m44 12h0m12 6h0m35 19h0m-57 23h0m26-1h0m77 40h0m-86-9h0m-60 11h0m-57-13h0m181 33h0m-40 25h0"/><path stroke="#eae8f1" d="M2250 123h0m-24 3h0m-60 10h0m-10 23h0m27 6h0m156-9h0m2 31h0m-77-2h0m-15 3h0m-74 0h0m-59 0h0m323 37h0m-289 20h0m10 0h0m12-1h0m157 10h0m53 4h0m76 20h0m-122-11h0m-5 12h0m-152-6h0m-61 2h0m237 20h0m115 13h0m4 21h0m-65 2h0m-12-15h0m-82 15h0m61 15h0m1 54h0m61 3h0m-104 41h0m0-12h0m145 44h0m-14-10h0m13 29h0m-23 21h0"/><path stroke="#e1e1ed" d="M2262 117h0m23 26h0m-67-11h0m0 33h0m11-2h0m98-15h0m100 38h0m-56-8h0m-56-2h0m-12-7h0m-107 0h0m-11 5h0m-34-1h0m-24 19h0m30 17h0m89-15h0m76-2h0m69 14h0m36 21h0m-12 10h0m-272-4h0m-6-16h0m-17-1h0m79 27h0m46 17h0m23-9h0m91-2h0m2-5h0m97-3h0m-1 25h0m-66 6h0m-20 15h0m-280-19h0m27 23h0m3 4h0m211-5h0m49 6h0m17-1h0m20 3h0m4-5h0m37 5h0m-39 36h0m-13-15h0m-135-3h0m-76 23h0m98 16h0m46 0h0m17-15h0m59 3h0m3-5h0m39 0h0m22 14h0m-26 20h0m-14-12h0m-16 17h0m-52 0h0m-2-6h0m-47 9h0m184 49h0m-56-6h0m-5-2h0m-34-10h0m-10-3h0m43 27h0m14 20h0m3 14h0m34 13h0"/><path stroke="#d7d7e8" d="M2258 121h0m-43 21h0m-15-14h0m-5 11h0m-13-3h0m-13 30h0m3-6h0m60-9h0m17 9h0m21-2h0m6-10h0m23 2h0m45 14h0m34 7h0m-60 20h0m-93-8h0m0-11h0m-2 16h0m-10 0h0m-6-4h0m-2-12h0m-22 10h0m-74 17h0m11 8h0m15 2h0m14-6h0m12 10h0m9-19h0m45-2h0m164 11h0m53 34h0m-56-21h0m-55 7h0m-9 9h0m-11-6h0m-52 6h0m-76-12h0m-12 3h0m-21-4h0m-30-1h0m-12-1h0m8 41h0m83-15h0m19-1h0m2 4h0m34-6h0m4 1h0m66 6h0m127 11h0m23-6h0m-5 34h0m-7-20h0m-3 9h0m-20-11h0m-12 0h0m-1 13h0m-15-9h0m-12 0h0m-27 7h0m-54 6h0m-156 18h0m43-6h0m28 15h0m45-1h0m17-12h0m20 1h0m5 9h0m77-15h0m76 2h0m17 25h0m-9 18h0m-119-18h0m-62-5h0m-32 1h0m-17 7h0m-10 3h0m-77-10h0m-20 14h0m209 10h0m30 22h0m4-9h0m109-6h0m-3 36h0m-96 0h0m-47 0h0m-28 24h0m55 1h0m127-4h0m16-17h0m-83 24h0m-8 4h0m-90-3h0m-3 12h0m-31 3h0m14 10h0m148 3h0m17 4h0m-7 33h0m-13-3h0"/><path stroke="#cbcce1" d="M2331 143h0m-35-17h0m-5 0h0m-9 14h0m-16-4h0m-25-3h0m-24-5h0m-8 1h0m-4-3h0m-53 19h0m40 5h0m8 1h0m6 1h0m18 4h0m15-11h0m16 13h0m3-14h0m0 23h0m13 0h0m22-16h0m43-3h0m22 0h0m6 3h0m44 16h0m-50 20h0m-6-14h0m-11-2h0m-28 14h0m0-15h0m-31-2h0m-31 7h0m-61-1h0m-5 12h0m-5 2h0m0-9h0m-37-3h0m-6-1h0m-45 25h0m6 1h0m47 6h0m22 8h0m6-12h0m6-9h0m29 16h0m10-15h0m23 1h0m3 13h0m31 3h0m20-5h0m31-10h0m5-2h0m43-1h0m50-2h0m33 31h0m-26 10h0m-6-13h0m-13 11h0m-16-8h0m-102 0h0m-51-5h0m-14-1h0m-39 0h0m-3 3h0m-9 12h0m-3 4h0m-13-18h0m-28 15h0m-9-2h0m-9-6h0m-10-3h0m-12-2h0m-5 13h0m104 11h0m32 19h0m22-9h0m8 3h0m9-14h0m1 12h0m38 6h0m23-21h0m15 12h0m50-5h0m49 0h0m6 16h0m12-1h0m-34 18h0m-8-10h0m-39 1h0m-12 8h0m-34 8h0m-21-13h0m-17 8h0m-17-11h0m-11 11h0m-9 4h0m-92-20h0m51 31h0m16 0h0m84-9h0m3 4h0m38 11h0m45-4h0m9 3h0m14-4h0m9 4h0m23 4h0m17-12h0m9 7h0m-27 33h0m-55-10h0m-35 3h0m-8-15h0m-6 12h0m-8 8h0m-5-8h0m-22-6h0m-40-2h0m0 7h0m-44-7h0m-32 5h0m72 20h0m25-4h0m43 3h0m7 11h0m6 7h0m10 1h0m26-22h0m37 8h0m24-1h0m52 22h0m-42 12h0m-24-13h0m-38 17h0m-40-21h0m-23 21h0m-5-11h0m-23 10h0m-25-20h0m9 30h0m28 6h0m52-4h0m25 6h0m52 6h0m7-6h0m7 4h0m5-12h0m20 1h0m25 13h0m-26 20h0m-9-11h0m-12 10h0m-13-12h0m-20 14h0m-59-3h0m-3 0h0m-7 2h0m-26-16h0m-67 8h0m50 21h0m32 9h0m12-7h0m16-5h0m2 11h0m96-1h0m4 26h0m-16-1h0m-3-8h0m6 30h0m24 0h0m-35 27h0"/><path stroke="#bebfda" d="M2275 119h0m58 14h0m-54 3h0m-17-14h0m-32-1h0m-6 17h0m-3-12h0m-16 5h0m-33 7h0m-28 21h0m9-9h0m7-1h0m36 3h0m7 14h0m9-3h0m6-11h0m2 7h0m15-15h0m12 0h0m44 23h0m14-13h0m37 4h0m9-14h0m3 5h0m13-5h0m2 16h0m36 23h0m-5-6h0m-29 9h0m-27-11h0m-46 3h0m-3-9h0m-28 3h0m-13-4h0m-33 13h0m-10 3h0m-2-13h0m-34 5h0m-18 15h0m-9-22h0m-11 22h0m-21 18h0m4 2h0m8-7h0m5-2h0m34-2h0m2 9h0m14 2h0m8-9h0m13-3h0m12 8h0m14-8h0m11 7h0m5-3h0m10 12h0m21-19h0m18-1h0m26 2h0m13 13h0m25-5h0m14 9h0m10-15h0m4 2h0m42-6h0m18 14h0m-60 27h0m-26-12h0m-20 6h0m-6-4h0m-9-4h0m-32-5h0m-35 20h0m-13-10h0m-56 5h0m-107-14h0m33 27h0m2 13h0m7-18h0m23 0h0m3 11h0m14-4h0m4-5h0m7 21h0m4-12h0m5 4h0m12 3h0m51-11h0m8 4h0m8-4h0m27-6h0m34 5h0m6 2h0m32 1h0m3-6h0m101 31h0m-51 9h0m-10-15h0m0 15h0m-6-1h0m-7-1h0m-8-11h0m-42 16h0m-8-13h0m-3-3h0m-15 10h0m-14-15h0m-33 17h0m-3-11h0m-43 8h0m-10-12h0m-9 17h0m-13-1h0m-13-4h0m-3-2h0m-23 1h0m0-5h0m-3 11h0m-5-11h0m-38 5h0m-13-5h0m10 22h0m3 4h0m20 2h0m26 7h0m2-15h0m4 7h0m52-9h0m5 16h0m9-13h0m39-1h0m11 14h0m18-4h0m6 2h0m18-9h0m0 10h0m10-12h0m9 16h0m14-17h0m13 12h0m28-7h0m14 8h0m69-17h0m-40 38h0m-53 6h0m-25-8h0m-3 3h0m-10 1h0m-5 3h0m-11-6h0m-21 1h0m-4 3h0m-4-5h0m-14-6h0m-11 9h0m-60-15h0m-31 21h0m-3 22h0m7-10h0m91-3h0m19 0h0m53 10h0m17-9h0m16 11h0m6-13h0m33 15h0m40-16h0m29 10h0m14 4h0m-1 23h0m-58-12h0m-4 16h0m-6-11h0m-20 4h0m-5-3h0m0-12h0m-4 2h0m-35 5h0m-25 1h0m-3 15h0m-19-21h0m-154 9h0m-10-11h0m146 29h0m26 15h0m24-13h0m18 11h0m3 3h0m43-19h0m17 10h0m11-6h0m69 19h0m-26 13h0m-20-13h0m-16 7h0m-53 2h0m-11 10h0m-14-12h0m-39 12h0m-25 3h0m7 2h0m26 12h0m20-8h0m32-4h0m5 10h0m18-8h0m30 7h0m33 15h0m-10 2h0m-2 21h0m1 17h0m9-5h0"/><path stroke="#b2b1d1" d="M2248 118h0m79 19h0m-23 1h0m-8-8h0m-41-6h0m-1 18h0m-10-7h0m-24-14h0m-20 20h0m-1-6h0m-41 19h0m10-3h0m14 9h0m16-12h0m7 10h0m21-13h0m18 10h0m18-1h0m2 6h0m4-15h0m0 20h0m6-13h0m15-6h0m5-1h0m11 13h0m16-10h0m7 18h0m33 1h0m13-19h0m2 8h0m7 2h0m1 6h0m21 9h0m-1 18h0m-2-23h0m-11 2h0m-4 17h0m-26-13h0m-2 17h0m-52-9h0m-6 8h0m0-15h0m-15 11h0m-7-7h0m-7 5h0m0 4h0m-1-12h0m-26 1h0m-5 2h0m-3-8h0m-4 12h0m-41-14h0m-1 14h0m-3 7h0m-28-3h0m-31 1h0m-31 9h0m2 12h0m24-3h0m2 4h0m3-14h0m8 2h0m17 9h0m39-13h0m6 16h0m8-4h0m4-9h0m8 4h0m19 6h0m16-10h0m19 2h0m7 2h0m3 13h0m21-17h0m40 18h0m25-4h0m48-8h0m31 2h0m5 24h0m-3-7h0m-42 16h0m-43 0h0m-1-5h0m-59-12h0m-1 10h0m-20-11h0m-3 16h0m-4-4h0m-33 1h0m-10-17h0m-6 21h0m-4 1h0m-58-18h0m-43 15h0m-25 1h0m14 26h0m2-8h0m6-11h0m5 8h0m32 11h0m0-22h0m18 4h0m36 12h0m15-4h0m3 3h0m6-11h0m39 10h0m2 6h0m3-19h0m12 7h0m4 3h0m43-3h0m6 10h0m11-12h0m14 3h0m29-2h0m4-7h0m15 4h0m9 12h0m1-9h0m12 14h0m23-20h0m-12 38h0m-19 0h0m-43 3h0m-20-18h0m-9 14h0m-24 7h0m-4-11h0m-8 7h0m-3-8h0m-4-2h0m-4 7h0m-24-10h0m-3 3h0m-2 15h0m-6 0h0m-3-10h0m-6-12h0m-11 7h0m-5 7h0m-6-2h0m-40-3h0m-17-3h0m-24 11h0m-27 3h0m-27-18h0m-7 19h0m25 13h0m21-4h0m11-6h0m3 9h0m6 1h0m4 7h0m2-6h0m60-6h0m22 11h0m17-9h0m31 16h0m10-10h0m80-9h0m54 11h0m24 12h0m-9 5h0m-60 6h0m-32-12h0m-4 8h0m-30-5h0m-6-2h0m-1 16h0m-5-12h0m-18 12h0m-51-1h0m-9 5h0m-45-20h0m-25 14h0m-15 5h0m-41-17h0m64 35h0m8-9h0m59 6h0m68 8h0m5-21h0m2 13h0m8-3h0m11-4h0m24-5h0m13 14h0m6-2h0m7-9h0m4 12h0m3-3h0m76 24h0m-33-11h0m-26 20h0m-33-11h0m-23 4h0m-18 0h0m0-11h0m-15 14h0m-25-1h0m-22-6h0m-18 10h0m-33-16h0m-17 5h0m-64-1h0m40 18h0m32-3h0m36 9h0m12-9h0m12 17h0m13-13h0m19 13h0m10-14h0m4 7h0m12 1h0m6 9h0m7-8h0m25-12h0m4 16h0m49-8h0m12 5h0m23 0h0m39 28h0m-33-6h0m-13-5h0m-7 11h0m-10-13h0m-15-1h0m-26 17h0m-9-14h0m-17 6h0m-16-2h0m-5 2h0m-7-10h0m-12 3h0m-10 7h0m-30 5h0m-1-9h0m-7 11h0m-13-14h0m-5 7h0m31 13h0m11 5h0m28-1h0m8 4h0m23 1h0m2 6h0m125 7h0m17-2h0m1-20h0m-17 45h0m-4-3h0m-3-5h0m-24-4h0m-17-4h0m-7-3h0m13 42h0m17-1h0m4-1h0m-32 13h0"/><path stroke="#a4a2c8" d="M2232 117h0m66 26h0m-57-21h0m-1 16h0m-12-1h0m-11 2h0m-13 2h0m-14-7h0m-13 5h0m-20 11h0m7 3h0m11 12h0m0-8h0m1-5h0m10 9h0m13 4h0m12 2h0m86-13h0m20-10h0m19 16h0m14-9h0m21 4h0m10-1h0m39 27h0m-6-6h0m-64 14h0m-5-9h0m-14-5h0m-31 9h0m-8-8h0m-34-1h0m-11-7h0m-2 20h0m-10-9h0m-15 12h0m-2-16h0m-18 7h0m-4 5h0m-8-8h0m-10 5h0m-21-7h0m-16 5h0m-56 29h0m23 1h0m5-9h0m3-5h0m43 6h0m4 5h0m11 4h0m22-15h0m56 8h0m7-3h0m5-9h0m29 8h0m4 1h0m3-3h0m36 14h0m12-19h0m11 6h0m10-7h0m7 15h0m41 0h0m10 1h0m9-17h0m-27 41h0m-14 0h0m-12-12h0m-8-2h0m-30 7h0m-6-1h0m-2 8h0m-16 4h0m-24-4h0m-16-9h0m-49 2h0m-1 4h0m-24-15h0m-19 11h0m-30-6h0m-42 18h0m-3-3h0m-12-7h0m-2 18h0m1-6h0m9 9h0m14 7h0m6 6h0m2-4h0m2-6h0m2-5h0m7 5h0m12 2h0m1-11h0m10-4h0m31 10h0m25 4h0m16-4h0m17-8h0m20 7h0m21 10h0m18 2h0m4-1h0m5 3h0m37-10h0m11-9h0m5 11h0m1-6h0m11 13h0m37-12h0m16-8h0m31 31h0m-8-8h0m-8 4h0m-22-1h0m-3 15h0m-22-12h0m-13 15h0m-5-8h0m-11 0h0m-18 7h0m-8-5h0m-16 1h0m-25 2h0m-1-15h0m-31 10h0m-18 8h0m-9-20h0m-10 1h0m-9 13h0m-24-11h0m-35 12h0m0-13h0m-2 19h0m-12-10h0m-25-4h0m-34 7h0m13 23h0m40 1h0m13-12h0m16 3h0m19 11h0m14 5h0m24 0h0m3-5h0m19 0h0m8-15h0m6 8h0m27-7h0m18 18h0m24-13h0m7 2h0m6 8h0m5-10h0m3 4h0m20-2h0m27-9h0m10 16h0m8-18h0m3 19h0m44 1h0m-1 6h0m-2 20h0m-24-19h0m-30 0h0m-31 7h0m-13 13h0m-9-1h0m-8-11h0m-30-4h0m-38 10h0m-2-12h0m-20-5h0m-4 20h0m-4-15h0m-4 6h0m-6-3h0m-2 3h0m-2-11h0m-12 23h0m-10-2h0m-14-1h0m-2-12h0m-14 8h0m-6-5h0m-2 6h0m-22 18h0m10-10h0m30 0h0m7 8h0m6 3h0m10-12h0m11 12h0m2-3h0m4 6h0m46-5h0m11 4h0m23 2h0m6-5h0m13 11h0m7-10h0m6-1h0m7-11h0m0 16h0m5 0h0m18 4h0m7-8h0m15-11h0m15 20h0m9 0h0m16-8h0m4 6h0m11-13h0m9 17h0m14-14h0m-28 28h0m-64-7h0m-16 15h0m0-20h0m-3 8h0m-61 4h0m-4-6h0m-59 16h0m-15-6h0m-43-2h0m-24 12h0m52 6h0m28 8h0m2 6h0m14-14h0m13 8h0m57 2h0m53-5h0m60 3h0m14-14h0m11 6h0m2 34h0m-7 0h0m-47-3h0m-2-16h0m-13 11h0m-17 5h0m-46 6h0m-21 1h0m-1-5h0m-5-5h0m-2-12h0m-13 19h0m-7-17h0m-2 18h0m-7-19h0m-2 9h0m-5-9h0m-1 9h0m-4-2h0m-20-2h0m99 36h0m3-13h0m30-6h0m50 6h0m3 9h0m70 0h0m-19 13h0m-32-1h0m-1 19h0m13 7h0m2 4h0m6-2h0"/><path stroke="#9895c0" d="M2325 141h0m-4-2h0m-3-11h0m-6-2h0m-10 3h0m-8-9h0m-6 10h0m-8-10h0m-4 10h0m-5 4h0m-15-1h0m-13-5h0m-50 2h0m-19 5h0m-1 7h0m-3-8h0m-15 8h0m-7 21h0m78-4h0m12 3h0m10-7h0m8-6h0m16-4h0m24 12h0m12-11h0m10 14h0m15-5h0m21 10h0m5-21h0m47 43h0m-19-15h0m-6 15h0m-16-16h0m-11 13h0m-18-9h0m-6 15h0m-5-5h0m-1-13h0m-6 13h0m-2-4h0m-10-12h0m-20 14h0m-2-8h0m-6-3h0m-4-4h0m-10 9h0m-3 12h0m-3-18h0m-27 1h0m-33 18h0m-6-2h0m-23-4h0m-17 1h0m-43 5h0m-15 24h0m40 0h0m42-17h0m0 9h0m7-8h0m4 6h0m16 10h0m12-3h0m5 1h0m2 3h0m15-3h0m46-17h0m19 10h0m3 8h0m53-3h0m14-1h0m2-3h0m6-10h0m18 1h0m0 5h0m9 9h0m11 3h0m9 1h0m17-16h0m13 37h0m-4-1h0m-14-6h0m-25-4h0m-8 2h0m-5-8h0m-2 18h0m-2-10h0m-8-10h0m-9 16h0m-33 0h0m-43 2h0m-13-7h0m-17-1h0m-2 7h0m-18-10h0m-27 9h0m-1-14h0m-10 14h0m-2-9h0m-7 11h0m-38-4h0m-14-1h0m-8 4h0m-1-6h0m-17-12h0m0 21h0m-40-15h0m-4 6h0m-3 11h0m2 13h0m6 1h0m11 3h0m3-12h0m36-1h0m9 18h0m9-4h0m11-3h0m14-12h0m2 4h0m6 15h0m25-2h0m4 1h0m2-17h0m6 4h0m3 14h0m2-5h0m54 7h0m8-21h0m9 5h0m2-7h0m11 1h0m17 17h0m12-7h0m42 5h0m7 2h0m4-6h0m12-8h0m11 14h0m24-10h0m6 5h0m9 4h0m5 27h0m-1-5h0m-22-1h0m-21 6h0m-27-11h0m-67 12h0m-26 1h0m-15-6h0m-26 2h0m-3-6h0m-1-11h0m-14 19h0m-1-12h0m-8 0h0m-3 13h0m-10 2h0m-4-11h0m-30 6h0m-15-17h0m-37 4h0m-3-4h0m-7 19h0m19 16h0m37-7h0m1 9h0m5 3h0m6-5h0m1 11h0m12-1h0m4-14h0m30 11h0m11-17h0m17 5h0m11 7h0m0 4h0m10-14h0m18-4h0m17 5h0m9 2h0m3 7h0m6 9h0m19-20h0m11 2h0m34-4h0m42 1h0m41 45h0m-24-3h0m-36-5h0m-27-15h0m-4 9h0m-3 8h0m-5-12h0m-2 7h0m-20-9h0m-16 17h0m-7-8h0m-17-11h0m-13 1h0m-113 18h0m-15-13h0m-26 0h0m-16 0h0m-2 9h0m-7 3h0m12 27h0m8-20h0m17 1h0m50 13h0m11-6h0m6-6h0m5 19h0m44-23h0m31 3h0m8 19h0m9-6h0m17-15h0m39 2h0m12 0h0m63 16h0m18 0h0m4 16h0m-45 1h0m-12 7h0m-42-16h0m-12 13h0m-26-5h0m-6 8h0m-10-9h0m0 7h0m-1-14h0m-1 11h0m-21 6h0m-12-20h0m-6 20h0m-17-12h0m-1-7h0m-6 6h0m-10 1h0m-33-1h0m-21 11h0m-6-9h0m-37 2h0m-1 7h0m25 11h0m3 1h0m39 6h0m4-5h0m7 1h0m57 13h0m4-11h0m11 2h0m22 4h0m30-15h0m2 11h0m15 0h0m6-3h0m3 14h0m10-13h0m11 13h0m0-14h0m40-9h0m2 4h0m19 0h0m25 2h0m5 13h0m15 26h0m-25-1h0m-3 0h0m-60-13h0m-8 16h0m-14-8h0m-12 3h0m-20-16h0m-35 20h0m-19-12h0m-9 7h0m-3-16h0m-1 4h0m-23 18h0m-6-4h0m67 25h0m11-5h0m83-14h0m28 13h0m19-9h0m21 3h0m6 2h0m-11 15h0m-17 3h0m-7 0h0m-14 18h0m5 27h0m-3 13h0m-6-7h0m-2-5h0"/><path stroke="#8b88b9" d="M2246 115h0m109 28h0m-12-7h0m-1 7h0m-79 0h0m-2-5h0m-1-4h0m-55 13h0m8 0h0m67 12h0m3-11h0m4 4h0m14 8h0m11-10h0m11-5h0m18 4h0m6 12h0m2-5h0m23 8h0m4-1h0m11-11h0m-21 36h0m-13-19h0m-14 8h0m-3 2h0m-3-11h0m-12 1h0m-3 4h0m-5 18h0m-26-13h0m-42 3h0m-6-5h0m-1 9h0m-19 2h0m-5-11h0m-26-5h0m-32-3h0m-6 10h0m-60 25h0m30-11h0m32 23h0m2-17h0m25 11h0m23-13h0m30 10h0m26-11h0m33-1h0m18 2h0m13 18h0m10-13h0m7 10h0m9 4h0m1-12h0m14 12h0m2-23h0m31 18h0m2 4h0m1-8h0m4-7h0m1 6h0m9 7h0m19-14h0m1 11h0m18 7h0m-57 4h0m-17 7h0m-28-1h0m-12 4h0m-10-4h0m-14 0h0m-2 11h0m-8-20h0m-17 18h0m-9-10h0m-7 0h0m-10 4h0m-5 6h0m-6-11h0m-43-4h0m-5 17h0m-10-11h0m-18 3h0m-4 7h0m-7-8h0m-13-9h0m-21 11h0m-13-14h0m-11 9h0m13 38h0m107-4h0m15 1h0m4-8h0m6 11h0m10-2h0m6 1h0m24-2h0m10 3h0m9-3h0m25-6h0m5 7h0m14 1h0m25-22h0m6 14h0m11 8h0m6-3h0m7-9h0m2 9h0m8-9h0m15 9h0m1-14h0m3 8h0m1 3h0m4-3h0m9-11h0m17 21h0m-11 11h0m-5 11h0m-10-21h0m0 9h0m-21-7h0m-43 19h0m-3-2h0m-73-13h0m-21-1h0m-18 2h0m-36 3h0m-28 9h0m-21 1h0m-8-11h0m-11-4h0m-3 17h0m-4-19h0m-8 17h0m-2-8h0m-2-8h0m-13 0h0m-1 12h0m-24-11h0m-8-5h0m46 45h0m1-21h0m37 7h0m11 4h0m32 3h0m11 2h0m4 6h0m16-8h0m5-9h0m26-1h0m16 9h0m15 6h0m20 1h0m6-12h0m123 39h0m-11-11h0m-108-7h0m-21-2h0m-41 3h0m-9 4h0m-22-3h0m-11 5h0m-17-11h0m0 14h0m-6-1h0m-21-1h0m-9 3h0m-16 5h0m-17 0h0m-23-12h0m-6-9h0m19 26h0m9 17h0m4-11h0m24 2h0m20 8h0m12 3h0m13-15h0m0 14h0m31 0h0m2-7h0m4-8h0m9 5h0m0 7h0m28 0h0m25-7h0m39 4h0m10-2h0m9-3h0m14-9h0m12 10h0m6 4h0m29 0h0m35 13h0m-63 5h0m-27-1h0m-6-1h0m-21 14h0m-34-3h0m-1-6h0m-8 8h0m0-14h0m-28 5h0m-31-10h0m-13 14h0m-3-11h0m-20 15h0m-1-11h0m-8-7h0m-24 8h0m-15 12h0m-1-5h0m-12-7h0m-3 8h0m77 26h0m2-9h0m7-9h0m11 3h0m3 12h0m10-10h0m5 1h0m6 7h0m12 10h0m4-7h0m11-15h0m0 11h0m16 3h0m12-13h0m6 1h0m10 6h0m1-8h0m6 19h0m1-18h0m5 14h0m7-14h0m3 12h0m50 4h0m8-4h0m73-6h0m11 13h0m-18 19h0m-121 6h0m-87-8h0m-28-1h0m-9-11h0m89 40h0m17-17h0m125 5h0m5 4h0m19 13h0m-60 10h0m26 43h0m-7-2h0m-14 19h0"/><path stroke="#7f7cb2" d="M2241 116h0m80 19h0m-17-10h0m-28 1h0m-11-1h0m-12 6h0m-21 0h0m-1 10h0m-10-8h0m-64 6h0m7 28h0m12-23h0m30 18h0m7-5h0m13-7h0m35 13h0m6-14h0m10 7h0m8 4h0m5-6h0m24 0h0m4-3h0m37 3h0m33 9h0m25 23h0m-31-9h0m-60 0h0m-43 8h0m-24 6h0m-7-13h0m-68-5h0m-55 11h0m-9 8h0m18 2h0m31 2h0m19 6h0m42 0h0m1 5h0m39-9h0m18 2h0m4 8h0m5 5h0m9-19h0m9 13h0m17-2h0m18 2h0m15-9h0m23-6h0m1 23h0m1-7h0m31-14h0m18 19h0m7-8h0m7 22h0m-4-3h0m-6-8h0m-48 15h0m-8-5h0m-2-10h0m-36 21h0m-15-20h0m-32 1h0m-36 15h0m-21-9h0m-7 0h0m-9 0h0m-6 12h0m0-5h0m-9-1h0m-21 6h0m-10-9h0m-13-2h0m-12 9h0m-1-14h0m-13 18h0m-22-7h0m-9-5h0m-4-10h0m-18 0h0m46 27h0m7 15h0m29 3h0m20-12h0m13 10h0m47-2h0m2-4h0m34 5h0m22-8h0m41-10h0m1 3h0m21-3h0m11 10h0m13 0h0m23 5h0m17-7h0m-2 26h0m-8 0h0m-19 0h0m-83-7h0m-4-3h0m-21 5h0m-47 2h0m-21 8h0m-20 0h0m-12-9h0m-27 10h0m-13-1h0m-2-11h0m-8-4h0m-34 16h0m-1-6h0m-6-1h0m-1-9h0m-10 6h0m14 35h0m20-15h0m6 15h0m3-4h0m22 8h0m26-19h0m14 10h0m9 5h0m4-1h0m36-10h0m38 11h0m11-12h0m38-4h0m8 13h0m33-11h0m10 14h0m10 4h0m18 2h0m70 0h0m-5 9h0m-22-6h0m-50 0h0m-37 15h0m-49-5h0m-4 0h0m-7 3h0m-13 5h0m-16-6h0m-31 3h0m-8 6h0m-14-22h0m-47 1h0m-1 7h0m-4-2h0m-10 1h0m-2-5h0m0 9h0m-6 9h0m-2-18h0m-15 0h0m-5 4h0m-7 12h0m-5-10h0m59 18h0m5 1h0m21 0h0m19 6h0m4-7h0m15 4h0m28 5h0m17 3h0m6 6h0m54-5h0m66-3h0m16-9h0m33 19h0m26-13h0m-127 17h0m-54 10h0m-24-10h0m-29 2h0m-28 15h0m-18-3h0m-2-11h0m-9 0h0m-8-6h0m-15 17h0m-13-3h0m-8 6h0m-8-14h0m64 26h0m4 3h0m61-6h0m2 3h0m13-8h0m5 0h0m2 15h0m1 4h0m5-3h0m23-10h0m52 11h0m53-17h0m50 35h0m-59-6h0m-10 8h0m-8 7h0m-25-12h0m-51-8h0m7 33h0m39 3h0m116-2h0m5-2h0m1-7h0m5 7h0m-7 27h0m-35 21h0m22 6h0m-8 11h0m-22 2h0"/><path stroke="#7569a8" d="M2224 118h0m13 4h0m-1 12h0m-3-10h0m-62 31h0m25 2h0m54 7h0m54-14h0m68 19h0m-15 5h0m-66 11h0m-5 6h0m-19-10h0m-148 7h0m-25 17h0m20-10h0m31 16h0m89-11h0m35-7h0m57 16h0m42-6h0m21-9h0m47 13h0m1-11h0m9 42h0m-28-20h0m-7 0h0m-94-1h0m-27 4h0m-54 16h0m-52-6h0m-53-10h0m-40 9h0m-8 5h0m26 21h0m27 6h0m23-13h0m34 6h0m22-2h0m3-13h0m99 6h0m4 11h0m2-5h0m23-6h0m42-2h0m57-3h0m-64 28h0m-17-1h0m-17-1h0m-6 10h0m-46-12h0m-31 14h0m-14 3h0m-22-13h0m-7-4h0m-26 11h0m-13-12h0m-1 18h0m-14-13h0m-34 10h0m-22 8h0m-8 5h0m24 15h0m4-13h0m28-1h0m8 14h0m43 3h0m15-22h0m7 19h0m56-7h0m25-8h0m40 19h0m24-8h0m33-6h0m31-1h0m3-6h0m23 14h0m-39 14h0m-111 17h0m-32-21h0m-21 8h0m-6 12h0m-13-13h0m-9-3h0m-29 15h0m-10-18h0m-10 10h0m-47 7h0m-24-18h0m34 37h0m50-12h0m15 15h0m12 0h0m22 5h0m15-6h0m3-5h0m19 9h0m141-7h0m66-8h0m5 13h0m-101 23h0m-30 3h0m-6-10h0m-40 0h0m-21-3h0m-14 11h0m-31-17h0m-14 4h0m-2 4h0m-7-10h0m-6 2h0m-5 0h0m-5 4h0m-24-2h0m-22 19h0m-1-22h0m-12 3h0m22 22h0m24 1h0m24 14h0m0-12h0m4-4h0m11 2h0m9 3h0m14 9h0m8-1h0m15-4h0m7-1h0m17-9h0m6 21h0m13-5h0m58-15h0m81 1h0m21 28h0m-5 15h0m-27-21h0m-75 1h0m-32 6h0m-7-4h0m-40 2h0m-30-3h0m-13 4h0m-25-4h0m100 25h0m57 7h0m60 9h0m27-11h0m6 8h0m18-3h0m15-7h0m-26 37h0m-7-5h0m-10-2h0"/><path stroke="#6b579e" d="M2253 115h0m100 23h0m-77-15h0m-28 5h0m-45 8h0m184 21h0m12 4h0m-38 18h0m-51-6h0m-57 13h0m-95-14h0m-62 22h0m55 3h0m45 7h0m17-2h0m116 12h0m7 8h0m-13 11h0m-1-5h0m-62-9h0m-103 6h0m-66 23h0m2 12h0m101-20h0m41 22h0m24-16h0m14-2h0m80 12h0m30-16h0m21 23h0m-29 3h0m-35 6h0m-15 0h0m-70 9h0m-9 0h0m-9-4h0m-117 8h0m-22-12h0m51 28h0m24-8h0m22 14h0m50-10h0m1-8h0m6 7h0m50 15h0m7-9h0m-42 22h0m-24 1h0m-71-8h0m-25 8h0m-16-9h0m30 28h0m2 6h0m5 3h0m9-10h0m7 16h0m6-11h0m16-2h0m2 5h0m29 0h0m3 4h0m19-13h0m6 2h0m3 15h0m75-6h0m131 23h0m-71-7h0m-3 2h0m-106-4h0m-13 6h0m-15 1h0m-1 5h0m-26 4h0m-2-20h0m-11 12h0m-20-8h0m-5 12h0m-8-9h0m-1 9h0m-18-15h0m29 28h0m1-8h0m26 22h0m10-3h0m6-13h0m2 13h0m14-14h0m10 17h0m20-19h0m35 29h0m-26-7h0m-50 4h0m-6 1h0m135 27h0m18-4h0m54 71h0"/><path stroke="#614594" d="M2329 129h0m-7 33h0m-11 16h0m-148 4h0m-22-11h0m300 41h0m-55 18h0m-77-1h0m-115-7h0m-31 10h0m128 13h0m93-1h0m75 8h0m-186 17h0m-172-4h0m137 34h0m67 0h0m-68 29h0m-5 1h0m-14 2h0m-21 2h0m-17-7h0m-36 7h0m-17-8h0m25 16h0m67 13h0m63-8h0m29 15h0m-53 13h0m-6 7h0m-24-11h0m-18-10h0m-8 13h0m-32 3h0m29 11h0m0 4h0m22-2h0m35 7h0m7 8h0m238-9h0m-3 35h0m-165-10h0m-13-8h0m-52 2h0"/><path stroke="#58348b" d="M2322 158h0m-217 38h0m36 6h0m53 15h0m-102 23h0m147 0h0m227 6h0m-228 39h0m-47 6h0m92 40h0m-123-3h0m0-4h0m22 29h0m9 2h0m90-5h0m-30 13h0m-8 17h0m-57-3h0m-1-14h0m-3 26h0m40-5h0m23 13h0m22 27h0"/><path stroke="#4e2382" d="M2392 159h0m47 41h0m-270 141h0m64 32h0m-15 8h0m0-7h0m-41-14h0m39 27h0m145 54h0"/><path stroke="#44137a" d="M2301 210h0m-2 12h0m-92 104h0m-14 9h0"/><path stroke="#3b0472" d="M2211 325h0m38 52h0"/></g><rect x="1029.4" y="47.1" width="243.6" height="226.6" fill="none" stroke="#3a3a3a" stroke-width="1.3"/><rect x="1275.4" y="47.1" width="7.6" height="226.6" fill="url(#gP)" stroke="#3a3a3a" stroke-width="1"/><text x="1290" y="97.8" font-size="15.5">2</text><text x="1290" y="148.7" font-size="15.5">1</text><text x="1290" y="199.1" font-size="15.5">0</text><text x="1290" y="249.6" font-size="15.5">−1</text><path d="M1283 92h4M1283 142.9h4M1283 193.3h4M1283 243.8h4" stroke="#222" stroke-width="1"/><text x="1151.2" y="40.2" font-size="15" text-anchor="middle">ANGPT2</text><text x="1151.2" y="290.1" font-size="15" text-anchor="middle">UMAP1</text><text transform="translate(1021.2 160.4) rotate(-90)" text-anchor="middle" font-size="15">UMAP2</text><use href="#cA" transform="translate(60.7 330.3) scale(.5)" fill="none" stroke="#f8f7fb" stroke-width="6.6" stroke-linecap="round"/><g transform="scale(.5)" fill="none" stroke-width="6.6" stroke-linecap="round"><path stroke="#f1f0f6" d="M439 722h0m-113 38h0m-66 139h0"/><path stroke="#eae8f1" d="M330 862h0m-33 70h0m12-15h0"/><path stroke="#e1e1ed" d="M269 719h0m59 102h0"/><path stroke="#d7d7e8" d="M330 716h0m-115-4h0m40 137h0m40 47h0"/><path stroke="#cbcce1" d="M270 777h0m69 138h0"/><path stroke="#bebfda" d="M243 739h0m-82 29h0m-7 46h0m164 4h0m1 35h0m-7 33h0m-68 14h0m63 64h0"/><path stroke="#b2b1d1" d="M317 734h0m-126 37h0m96 20h0m-65 24h0m36 27h0m-31 39h0m-34 7h0m110 26h0m24 5h0"/><path stroke="#a4a2c8" d="M219 743h0m0-18h0m56-1h0m22 43h0m-49-15h0m-32 34h0m54 22h0m-16 19h0m56-7h0m26 1h0m-70 51h0m27-2h0m42 38h0m-39-2h0m-6 49h0"/><path stroke="#9895c0" d="M320 688h0m-89 29h0m46 26h0m27 47h0m63 7h0m-19 40h0m-87 13h0m-46-10h0m60 30h0m-17 21h0m83 44h0m-17 25h0m20 34h0"/><path stroke="#8b88b9" d="M346 715h0m-90-18h0m-36 8h0m15 22h0m13 0h0m16 36h0m-50-12h0m37 52h0m0 7h0m-34 24h0m119 1h0m6 0h0m43-2h0m-99 13h0m15 19h0m72 28h0m-119 28h0m146 22h0m-72-3h0"/><path stroke="#7f7cb2" d="M298 710h0m23 51h0m-21-10h0m-3-5h0m-14 12h0m-16-12h0m0 20h0m-53 15h0m10-2h0m152 35h0m-103-1h0m-39-2h0m157 40h0"/><path stroke="#7569a8" d="M304 682h0m-52 59h0m73-21h0m-108 44h0m92 6h0m48 14h0m-115 55h0m55-1h0m-47 47h0m13-18h0m48 43h0m-69 12h0m94 42h0"/><path stroke="#6b579e" d="M294 697h0m-77 12h0m94 12h0m17 44h0m-74-15h0m-14 1h0m83 35h0m-38 23h0m-32-11h0m-47 2h0m32 34h0m18-12h0m28-1h0m67 13h0m-53 50h0m-29 9h0m32 67h0"/><path stroke="#614594" d="M235 709h0m15 78h0m3-18h0m59 21h0m67 48h0m-120 44h0m58 33h0"/><path stroke="#58348b" d="M287 684h0m-22 19h0m-31 2h0m-42 78h0m226 78h0m-91-16h0m-82 36h0m12-8h0m82 36h0m-112 36h0"/><path stroke="#4e2382" d="M215 716h0m169 48h0m40 87h0m-191 39h0m163 55h0m-125-1h0"/><path stroke="#44137a" d="M223 715h0m120 88h0m-34-10h0m-3 109h0"/><path stroke="#3b0472" d="M252 783h0m-37 125h0"/></g><rect x="60.7" y="330.3" width="243.6" height="226.6" fill="none" stroke="#3a3a3a" stroke-width="1.3"/><rect x="306.7" y="330.3" width="7.6" height="226.6" fill="url(#gP)" stroke="#3a3a3a" stroke-width="1"/><text x="321.3" y="355.6" font-size="15.5">8</text><text x="321.3" y="406.2" font-size="15.5">6</text><text x="321.3" y="456.5" font-size="15.5">4</text><text x="321.3" y="507" font-size="15.5">2</text><text x="321.3" y="557.3" font-size="15.5">0</text><path d="M314.3 349.8h4M314.3 400.4h4M314.3 450.7h4M314.3 501.2h4M314.3 551.5h4" stroke="#222" stroke-width="1"/><text x="182.5" y="323.4" font-size="15" text-anchor="middle">CHRNA3</text><text x="182.5" y="573.3" font-size="15" text-anchor="middle">UMAP1</text><text transform="translate(52.5 443.6) rotate(-90)" text-anchor="middle" font-size="15">UMAP2</text><use href="#cA" transform="translate(383.6 330.3) scale(.5)" fill="none" stroke="#f8f7fb" stroke-width="6.6" stroke-linecap="round"/><g transform="scale(.5)" fill="none" stroke-width="6.6" stroke-linecap="round"><path stroke="#a4a2c8" d="M981 800h0m-22 56h0"/><path stroke="#9895c0" d="M1026 718h0m-23 43h0m27 72h0"/><path stroke="#8b88b9" d="M938 913h0"/><path stroke="#7f7cb2" d="M987 808h0"/><path stroke="#7569a8" d="M966 688h0m4 0h0m-17 66h0m37 37h0m23 23h0m-58-21h0m-128 4h0m110 38h0m165-7h0m-92 50h0m89-14h0"/><path stroke="#6b579e" d="M1016 712h0m17 40h0m-71 56h0m-12 31h0m41 19h0m-142-16h0m109 37h0m127 37h0"/><path stroke="#614594" d="M1064 709h0m-156 100h0m-77-8h0m-21 22h0m239 15h0m21 4h0m-152 34h0m78-5h0m-45 40h0m13 12h0m234 14h0"/><path stroke="#58348b" d="M884 742h0m76-1h0m0 32h0m10 26h0m-39 10h0m-50 22h0m56-9h0m96 16h0m11 17h0m-55-11h0m25 22h0m-77 67h0m52 7h0m168 32h0"/><path stroke="#4e2382" d="M972 709h0m-87 1h0m116 58h0m-65 45h0m52 22h0m152 19h0m-114 36h0m-157 21h0"/><path stroke="#44137a" d="M985 715h0m-40-15h0m-48 45h0m-13 10h0m4 20h0m-40 29h0m18 32h0m76 10h0m17 22h0m-11 75h0m79 25h0"/><path stroke="#3b0472" d="M1063 720h0m-53 40h0m-95 22h0m134 14h0m-81-1h0m-82 3h0m7 23h0m84 10h0m7-4h0m1 11h0m-34 13h0m-48 22h0m28 77h0"/></g><rect x="383.6" y="330.3" width="243.6" height="226.6" fill="none" stroke="#3a3a3a" stroke-width="1.3"/><rect x="629.6" y="330.3" width="7.6" height="226.6" fill="url(#gP)" stroke="#3a3a3a" stroke-width="1"/><text x="644.2" y="336.3" font-size="15.5">10</text><text x="644.2" y="381.2" font-size="15.5">8</text><text x="644.2" y="426.8" font-size="15.5">6</text><text x="644.2" y="472.2" font-size="15.5">4</text><text x="644.2" y="516.8" font-size="15.5">2</text><text x="644.2" y="561.5" font-size="15.5">0</text><path d="M637.2 330.5h4M637.2 375.4h4M637.2 421h4M637.2 466.4h4M637.2 511h4M637.2 555.7h4" stroke="#222" stroke-width="1"/><text x="505.4" y="323.4" font-size="15" text-anchor="middle">CHRNA5</text><text x="505.4" y="573.3" font-size="15" text-anchor="middle">UMAP1</text><text transform="translate(375.4 443.6) rotate(-90)" text-anchor="middle" font-size="15">UMAP2</text><use href="#cA" transform="translate(706.5 330.3) scale(.5)" fill="none" stroke="#f8f7fb" stroke-width="6.6" stroke-linecap="round"/><g transform="scale(.5)" fill="none" stroke-width="6.6" stroke-linecap="round"><path stroke="#f1f0f6" d="M1616 688h0m-26 12h0m126 33h0m-144 28h0m-25-1h0m-24-9h0m-15 22h0m252 20h0m-9 1h0m-38 21h0m-86-4h0m-173-4h0m-16 11h0m77 9h0m37-3h0m163 27h0m-191-5h0m-6 17h0m-5 3h0m243 12h0m57-14h0m3 38h0m-51 2h0m-225-10h0m55 39h0m136-20h0m-70 34h0m-137-4h0m60 29h0m166 9h0m66 55h0"/><path stroke="#eae8f1" d="M1597 695h0m-52 5h0m102 43h0m94 11h0m-138 1h0m-120 8h0m28 28h0m187-9h0m83-1h0m-44 26h0m16 12h0m10 6h0m-283 63h0m88 24h0m8 22h0m141-18h0m-45 24h0m-50 8h0m64 12h0m159 21h0m-114 16h0m-31-1h0m-32-4h0m-52-5h0"/><path stroke="#e1e1ed" d="M1648 711h0m-39-3h0m-23-11h0m83 23h0m15 37h0m-75 33h0m129 21h0m-86-11h0m-24-6h0m-109 19h0m-21-13h0m91 28h0m81 10h0m59-6h0m6 3h0m6-6h0m30 2h0m16 4h0m31-4h0m-15 10h0m-151 18h0m-143 0h0m-37-1h0m250 24h0m-30 8h0m-141 5h0m-37 0h0m-30 2h0m31 29h0m47-9h0m12-2h0m147 15h0m84-15h0m-37 44h0m-119 0h0m5 12h0m-20 14h0m222 59h0"/><path stroke="#d7d7e8" d="M1672 718h0m-19-1h0m-27-5h0m-51-12h0m46 38h0m46 13h0m-93 7h0m-3 16h0m148 16h0m36-4h0m-35 24h0m-19-10h0m-99 7h0m-147 29h0m95-19h0m2 20h0m51-7h0m159 7h0m-95 21h0m-3-18h0m-74 19h0m-132-8h0m24 23h0m72-7h0m23 13h0m79-2h0m51 0h0m63-8h0m45 38h0m-202 0h0m-89 20h0m42-5h0m4 9h0m25-10h0m88-7h0m24 10h0m7-11h0m130 23h0m-109 10h0m-119 8h0m-33-18h0m148 29h0m134 47h0m-12 20h0m-30 25h0"/><path stroke="#cbcce1" d="M1584 687h0m23-6h0m-18 29h0m-30-13h0m-33 24h0m87 16h0m59-11h0m21-4h0m51 38h0m-6-2h0m-28-12h0m-40 1h0m-16 20h0m-20 0h0m-19-12h0m-49-4h0m-35 13h0m-61 11h0m29-2h0m0 4h0m16 2h0m1 10h0m5-7h0m67 0h0m3-4h0m58-4h0m132 3h0m-71 28h0m-7-12h0m-1 13h0m-22 1h0m-14-8h0m-17 9h0m-16 0h0m-69-11h0m-10 12h0m-11-6h0m-20-6h0m-52 15h0m41 12h0m9 12h0m121-2h0m50-7h0m37-6h0m3 16h0m6-16h0m37 12h0m36-1h0m8 14h0m-94 8h0m-216-2h0m-12-2h0m-31 4h0m-5 12h0m21 2h0m59 17h0m22-14h0m135-2h0m29 12h0m15-15h0m64 15h0m-29 26h0m-17-1h0m-130-17h0m-33 22h0m-11-15h0m-52 16h0m120 22h0m105-19h0m50 40h0m-58-10h0m-18-3h0m-64 5h0m-3 4h0m-21-14h0m-132 9h0m68 22h0m53-5h0m23 2h0m17 13h0m112-14h0m-27 31h0m-2-11h0m-90 14h0m35 20h0m11-5h0m119-2h0"/><path stroke="#bebfda" d="M1602 695h0m2-6h0m41 4h0m13-2h0m23 13h0m-10 7h0m-61-12h0m-32 6h0m-73 34h0m32-8h0m6 6h0m102-17h0m74 18h0m17 5h0m23-3h0m-25 22h0m-25-12h0m-71 17h0m-39-13h0m-29 4h0m-3-4h0m-17 11h0m-7-9h0m-55 12h0m1 7h0m31 16h0m24-8h0m56-13h0m131 12h0m68 25h0m-46-3h0m-107-10h0m-1 13h0m-31-12h0m-95 11h0m-36-3h0m-27 20h0m56 13h0m11-8h0m78-8h0m4-1h0m15 9h0m86 0h0m33 8h0m45-6h0m-14 13h0m-16 6h0m-7-1h0m-31-6h0m-27 9h0m-17 11h0m-33 0h0m-29-15h0m-10 0h0m-3 4h0m-64-6h0m-3 2h0m-67 24h0m21-7h0m12 17h0m13-11h0m59 9h0m54-6h0m11-1h0m9-6h0m2 13h0m23-5h0m50-2h0m28 11h0m91-15h0m-11 34h0m-125-12h0m-28 0h0m-20 8h0m-21 11h0m-82 0h0m-7-18h0m-7-3h0m101 24h0m22 5h0m84 16h0m10 0h0m4-15h0m6-5h0m37 19h0m-105 14h0m-40 4h0m-4-4h0m-10-1h0m-6 10h0m-78-16h0m-5 2h0m-11 2h0m80 22h0m108 4h0m3 2h0m7 11h0m18-8h0m29 7h0m-22 5h0m-79 0h0m-5 11h0m-2-13h0m11 26h0m125 12h0m-10 57h0m25-4h0"/><path stroke="#b2b1d1" d="M1574 687h0m55-2h0m61 29h0m-11-7h0m-2 4h0m-62-7h0m-4 11h0m-39 3h0m-9-22h0m-6 7h0m-3 5h0m-25 34h0m10-2h0m66 1h0m10-12h0m42 6h0m2-15h0m5 19h0m12-10h0m62 1h0m-10 31h0m-26 0h0m-30-4h0m-193-6h0m-16 14h0m-9 11h0m13-7h0m53 17h0m18-17h0m16 7h0m7 11h0m35-15h0m63 15h0m21-12h0m14 3h0m10-8h0m108 37h0m-31-14h0m-29 20h0m-12-16h0m-15 14h0m-65-5h0m-68-12h0m-20 12h0m-29 9h0m-11-17h0m-20 8h0m-18-2h0m24 28h0m15 7h0m31-3h0m16-17h0m30 4h0m46 13h0m9-1h0m11-6h0m26 4h0m40-11h0m7 2h0m28 1h0m14-2h0m4 16h0m0-20h0m10 27h0m-64 10h0m-6 6h0m-20-5h0m-7-10h0m-8 16h0m-34-18h0m-3 2h0m-22-1h0m-31 7h0m-4 10h0m-6-8h0m-12-9h0m-3 17h0m-5-3h0m-2-14h0m-13 11h0m-19-8h0m-72 2h0m-4 30h0m15 1h0m34-14h0m22 4h0m23 4h0m32 1h0m3-13h0m18 19h0m29 1h0m64-15h0m3 5h0m23 37h0m-16-17h0m-28 4h0m-65-3h0m-34-5h0m-8 0h0m-13 8h0m-2-6h0m-47 15h0m-15-8h0m75 34h0m18-16h0m32 18h0m58-17h0m9 6h0m45 5h0m-13 7h0m-55 10h0m-31 7h0m-1 4h0m-25-17h0m-27-4h0m-16 8h0m29 23h0m49 8h0m2-14h0m5 6h0m163-4h0m-26 39h0m-65-1h0m-46-3h0m-25 2h0m183 26h0"/><path stroke="#a4a2c8" d="M1587 690h0m108 26h0m-58-9h0m-68 1h0m-16 7h0m-41 24h0m38-16h0m41 14h0m11-3h0m43-1h0m0 7h0m53 1h0m64-8h0m-106 27h0m-2-10h0m-62 1h0m-19 16h0m-114 15h0m115-4h0m2 3h0m99 8h0m54-2h0m0-15h0m4-3h0m-38 27h0m-3 19h0m-25-23h0m-9 22h0m0-17h0m-55 1h0m-64-1h0m-16 11h0m0-6h0m-21 5h0m-1-6h0m-12 35h0m102-20h0m6 3h0m2 7h0m23 5h0m40-4h0m13-4h0m4 15h0m4-17h0m126 15h0m1 5h0m-61 11h0m-21-3h0m-33-6h0m-5 12h0m-9 6h0m-20-7h0m-24-2h0m-18-3h0m-6-7h0m-9 6h0m-21-3h0m-31 5h0m-17 9h0m-4-8h0m-38-1h0m-3-10h0m-11 6h0m69 32h0m17 8h0m20-16h0m41 12h0m38-10h0m44 23h0m-105 6h0m-5 1h0m-1-11h0m-72-1h0m52 28h0m4 10h0m10-11h0m17-2h0m2 8h0m7 11h0m19-7h0m17-4h0m44-4h0m84-3h0m47 38h0m-121-17h0m-34 8h0m-50 10h0m-23-15h0m-30 14h0m-8-10h0m126 30h0m11-13h0m58-1h0m22 8h0m2 11h0m74-17h0m-110 32h0m-28-3h0m-5-5h0m-34 7h0m140 35h0"/><path stroke="#9895c0" d="M1630 689h0m21 3h0m67 26h0m-42-4h0m-118-7h0m-47-2h0m-5 7h0m-14 30h0m68-14h0m123 5h0m15 28h0m-12 6h0m-46-9h0m-9 5h0m-102-8h0m-1 24h0m120 11h0m54-9h0m48-4h0m17 2h0m-58 34h0m-10-19h0m-40 7h0m-41 9h0m-5-6h0m-24 7h0m-6-7h0m-6 5h0m-3-7h0m-64-5h0m-14 22h0m7 8h0m6 7h0m17-3h0m95 6h0m22-10h0m6-10h0m8 15h0m14-6h0m6-7h0m53-3h0m18 12h0m21 29h0m-19 1h0m-57 5h0m-46-14h0m-32-1h0m-22 4h0m-36 20h0m37 1h0m45 13h0m20-20h0m17 10h0m86 4h0m81 21h0m-118-5h0m-28 3h0m-46 4h0m-75-10h0m-15 7h0m-7-12h0m-64 9h0m-9-5h0m23 25h0m27 9h0m5-7h0m24-7h0m0 21h0m62-8h0m4-13h0m22 5h0m43 13h0m45-8h0m113-9h0m10 45h0m-50-20h0m-129-1h0m-52 14h0m-25 19h0m29 10h0m10-20h0m62 11h0m46-5h0m35 11h0m-51 30h0m-110-23h0m188 102h0"/><path stroke="#8b88b9" d="M1581 692h0m47 26h0m-10-9h0m-24-5h0m-63 1h0m-24 11h0m179 10h0m1-4h0m16 0h0m8 19h0m20-19h0m12 7h0m-110 23h0m-189 36h0m170-2h0m33-7h0m5 5h0m38-4h0m63-8h0m35 42h0m-47-11h0m-10 3h0m-60 1h0m-6-4h0m-30 0h0m-90-11h0m-6 21h0m-5 5h0m70 20h0m6-20h0m6 19h0m11-2h0m26-6h0m5-2h0m28 10h0m9 1h0m60-4h0m66-5h0m-199 33h0m-19-2h0m-17-9h0m-11 2h0m-60-10h0m0 11h0m-39 7h0m-10-21h0m48 36h0m1 10h0m28-20h0m34 9h0m9 8h0m27-4h0m4-7h0m9 7h0m3-5h0m5-6h0m77 11h0m40 4h0m23 17h0m-59-11h0m-68 6h0m-11-2h0m-45 9h0m-12 7h0m-18-5h0m-55 4h0m-9-3h0m8 28h0m98-8h0m64 8h0m147 12h0m-99 1h0m-55 9h0m-61-4h0m-24 5h0m-5 3h0m-15-13h0m-12 9h0m-13-8h0m116 26h0m5 4h0m18-14h0m195 43h0m-117-15h0"/><path stroke="#7f7cb2" d="M1591 688h0m46 27h0m-6 0h0m-6-14h0m-95 17h0m10 9h0m85 7h0m42 2h0m2 7h0m-14 13h0m-150 7h0m63 27h0m43-9h0m26-8h0m44 16h0m19-16h0m105 10h0m-85 22h0m-28-5h0m-11-7h0m-41 8h0m-27 11h0m-20-5h0m-3-3h0m-5-7h0m-11 1h0m11 29h0m11 12h0m7-15h0m10 4h0m9-11h0m95-1h0m0 4h0m-30 41h0m-28-3h0m-110-16h0m-17 20h0m-2-19h0m44 25h0m16 16h0m5 2h0m10-18h0m3 19h0m62-2h0m1-13h0m16 9h0m-15 21h0m-16-6h0m-107-5h0m30 32h0m69-2h0m28 2h0m146 3h0m-20 30h0m-90 14h0m36 38h0"/><path stroke="#7569a8" d="M1583 730h0m84 28h0m-119 25h0m33-10h0m75-1h0m62 27h0m-110 9h0m-75-15h0m-23 17h0m-20 18h0m21 0h0m35-1h0m42 11h0m46-3h0m42-2h0m122 23h0m-167-3h0m-3-11h0m-10 17h0m-60 22h0m25-2h0m58-8h0m22-3h0m30 15h0m-169 17h0m85 28h0"/><path stroke="#6b579e" d="M1653 709h0m-15 32h0m103-18h0m-134 30h0m-80 34h0m129-10h0m-58 22h0m115 20h0m-108 37h0m-125-6h0m172 41h0m-40 9h0m-93-9h0m176 31h0m-108 18h0"/><path stroke="#614594" d="M1677 891h0m-72 5h0m60 32h0m-24 10h0"/><path stroke="#58348b" d="M1542 745h0m-55 86h0m135 67h0"/></g><rect x="706.5" y="330.3" width="243.6" height="226.6" fill="none" stroke="#3a3a3a" stroke-width="1.3"/><rect x="952.5" y="330.3" width="7.6" height="226.6" fill="url(#gP)" stroke="#3a3a3a" stroke-width="1"/><text x="967.1" y="361.9" font-size="15.5">5</text><text x="967.1" y="398.8" font-size="15.5">4</text><text x="967.1" y="435.7" font-size="15.5">3</text><text x="967.1" y="472.6" font-size="15.5">2</text><text x="967.1" y="509.5" font-size="15.5">1</text><text x="967.1" y="546.4" font-size="15.5">0</text><path d="M960.1 356.1h4M960.1 393h4M960.1 429.9h4M960.1 466.8h4M960.1 503.7h4M960.1 540.6h4" stroke="#222" stroke-width="1"/><text x="828.3" y="323.4" font-size="15" text-anchor="middle">CHRNA7</text><text x="828.3" y="573.3" font-size="15" text-anchor="middle">UMAP1</text><text transform="translate(698.3 443.6) rotate(-90)" text-anchor="middle" font-size="15">UMAP2</text><use href="#cA" transform="translate(1029.4 330.3) scale(.5)" fill="none" stroke="#f8f7fb" stroke-width="6.6" stroke-linecap="round"/><g transform="scale(.5)" fill="none" stroke-width="6.6" stroke-linecap="round"><path stroke="#f1f0f6" d="M2317 711h0m-35-4h0m19 34h0m-195 47h0m101-6h0m138 12h0m-114 69h0m-5-23h0m67 77h0m43 13h0"/><path stroke="#eae8f1" d="M2262 688h0m-6 11h0m-104 13h0m44 23h0m62 7h0m125-18h0m65 47h0m-107 25h0m-24 16h0m-11-6h0m-44-7h0m132 29h0m65 24h0m-78 10h0m-241-8h0m319 10h0m-197 44h0m-77 21h0m71 52h0m242 9h0"/><path stroke="#e1e1ed" d="M2244 701h0m143 53h0m-21 1h0m-53 3h0m-137 6h0m215 34h0m-236 36h0m146 2h0m37-9h0m-181 18h0m262 60h0m-155 14h0m99-3h0m-98 49h0"/><path stroke="#d7d7e8" d="M2287 718h0m-111-8h0m-16 5h0m90 15h0m53 5h0m68-14h0m21 5h0m-151 36h0m-53-6h0m115 27h0m32 9h0m-166 16h0m-40 21h0m151 6h0m187 6h0m-98 47h0m-126 23h0m24 4h0m213 3h0m-172 25h0m-34 8h0m-104-8h0m285 39h0m-75 25h0"/><path stroke="#cbcce1" d="M2298 702h0m-66-5h0m-4 6h0m-55 6h0m-25 26h0m148-11h0m53-2h0m33 21h0m22 15h0m-102 2h0m-135 7h0m-26-18h0m-41 27h0m53 10h0m50-5h0m23 5h0m191-11h0m-140 23h0m-3-4h0m-46 19h0m-119-20h0m8 36h0m80-5h0m98 8h0m2 4h0m160-4h0m-16 30h0m-177-17h0m-12 0h0m-6 10h0m-37-10h0m-55 35h0m185 3h0m-91 27h0m-97 23h0m108-6h0m35 7h0m8-7h0m22-15h0m48 31h0m-51-6h0m-40 3h0m-95 3h0m73 23h0m105 41h0"/><path stroke="#bebfda" d="M2200 695h0m50-6h0m3-8h0m38 12h0m-147 32h0m20 8h0m7-12h0m32 11h0m68 2h0m146 26h0m-19-1h0m-39-2h0m-9-2h0m-39-10h0m-13-1h0m-53 10h0m-85-1h0m62 28h0m136-4h0m87 14h0m-68 15h0m-64-14h0m-168 47h0m52-2h0m79-10h0m83-8h0m16 2h0m83 24h0m-28 5h0m-184-3h0m-65 12h0m-14 27h0m20-1h0m48-9h0m36 3h0m16-8h0m29 14h0m43-11h0m38 9h0m-45 15h0m-94 2h0m-99-1h0m-16 6h0m63 7h0m87 1h0m44-1h0m-183 24h0m138 37h0m104 8h0m27 17h0m-128-7h0m53 27h0"/><path stroke="#b2b1d1" d="M2243 695h0m33-6h0m49 18h0m-2 4h0m-2-9h0m-118 1h0m-3 15h0m-23-13h0m-24 11h0m19 11h0m16 10h0m11-5h0m13-3h0m50-9h0m48 19h0m51 1h0m38-13h0m-1 36h0m-68-6h0m-169 22h0m15-7h0m94 12h0m11 7h0m18-3h0m12-15h0m10 16h0m15-1h0m8-6h0m52-5h0m39 8h0m18 11h0m-84 19h0m-48-10h0m-10-2h0m-103 5h0m-53 2h0m-46 6h0m49 8h0m9 12h0m82-12h0m50 5h0m42-10h0m6 14h0m16-17h0m32 8h0m-16 20h0m-24 17h0m-243-21h0m81 26h0m29 14h0m19-3h0m4-13h0m4 15h0m9-9h0m35-1h0m63 0h0m124 18h0m-15 12h0m-56-2h0m-30-2h0m-136 7h0m-12-12h0m-34 5h0m-53 5h0m4 25h0m20-6h0m67 13h0m12-15h0m11-1h0m24-4h0m126 1h0m96 9h0m-163 32h0m-13-1h0m-42-8h0m-47-2h0m-72-2h0m121 35h0m63 0h0m12 15h0m-17 21h0"/><path stroke="#a4a2c8" d="M2246 681h0m72 37h0m-25-1h0m-88-20h0m-1 10h0m-36 10h0m-2-14h0m-29 39h0m11-13h0m35 2h0m41-8h0m15 19h0m5-21h0m5 6h0m15-1h0m20 15h0m37-5h0m32-1h0m35-6h0m-23 29h0m-7-4h0m-2-8h0m-38 11h0m-18 10h0m-46-3h0m-29-14h0m-10 8h0m-32-9h0m-46 16h0m0 26h0m109-21h0m59 9h0m63-10h0m26 17h0m19-7h0m28-1h0m5 36h0m-19-1h0m-100-20h0m-10 14h0m-13-6h0m-13 10h0m-72-13h0m-1 8h0m-27-14h0m-3 2h0m-70 31h0m31 2h0m40 10h0m44-14h0m24 8h0m11 0h0m5 4h0m3 3h0m35-3h0m7-5h0m4 3h0m11-13h0m3 13h0m17-11h0m69 3h0m-79 27h0m-11 5h0m-4-6h0m-15 7h0m-15 1h0m-123-12h0m-48 27h0m93-6h0m30 18h0m29-18h0m30 0h0m48 11h0m33 4h0m18-3h0m54 22h0m-122 5h0m-44 3h0m-51-22h0m-2 3h0m-32 1h0m-32 4h0m31 30h0m4-14h0m11 11h0m16-9h0m63 3h0m42 18h0m64-8h0m-84 10h0m-40 1h0m-58-1h0m-2 13h0m-8-9h0m-19 16h0m73 16h0m55 9h0m2-7h0m48 1h0m50 3h0m-72 38h0m86-4h0m55 35h0m-10 13h0"/><path stroke="#9895c0" d="M2205 693h0m122 22h0m-137-15h0m-33 17h0m28 23h0m184-14h0m37 27h0m-1-4h0m-2 17h0m-19-8h0m-58 5h0m-25-7h0m-28 9h0m-73-16h0m-20-3h0m-28 5h0m-28 21h0m25-3h0m20 7h0m4-7h0m41 21h0m46-4h0m24 1h0m4-12h0m38 14h0m33-17h0m13 4h0m2-4h0m27 14h0m-24 8h0m-7 12h0m-9 4h0m-23 5h0m-12-8h0m-22-10h0m-119 16h0m-93-7h0m104 11h0m71 20h0m21-3h0m94-10h0m3 12h0m19-7h0m2 5h0m37 10h0m-131 1h0m-7 17h0m-18-16h0m-4 6h0m-13-3h0m-15-2h0m-21-1h0m-9 14h0m-4-7h0m-4-11h0m-74 8h0m-16 18h0m2-4h0m16 21h0m10-15h0m49 11h0m6-5h0m13-1h0m58 9h0m24-18h0m5 6h0m6-5h0m11 18h0m46-4h0m113 29h0m-51-4h0m-24-2h0m-147-15h0m-15 12h0m-12 1h0m-5-6h0m17 29h0m13 9h0m140-16h0m18 35h0m-54-2h0m-71 0h0m-21 5h0m-56-20h0m34 31h0m16 13h0m89-18h0m39 4h0m42 39h0"/><path stroke="#8b88b9" d="M2299 717h0m-127-12h0m-21 34h0m7 0h0m100-2h0m24-3h0m15-14h0m9 16h0m-39 11h0m-158 18h0m-22 18h0m65-2h0m31-4h0m30-9h0m7 10h0m50 13h0m28-7h0m63 6h0m4 0h0m18-1h0m11 17h0m-24 5h0m-56 3h0m-13-21h0m-37 21h0m-10-6h0m-6 5h0m-17-16h0m-3 7h0m-39-1h0m-20-6h0m-44 10h0m14 27h0m12-16h0m18 21h0m78-19h0m40 10h0m16-3h0m26-6h0m108 2h0m37 32h0m-137-7h0m-66 9h0m-42-12h0m-18 12h0m-100-3h0m63 17h0m39-1h0m0 9h0m19-6h0m53 7h0m32-8h0m5 4h0m11 5h0m63 21h0m-114-9h0m-49 13h0m-77-2h0m35 17h0m25 11h0m38-17h0m4 25h0m-88 9h0m61 13h0m101 9h0m159 10h0m-35 10h0m-93-6h0m-26 17h0m-42-7h0m47 21h0"/><path stroke="#7f7cb2" d="M2241 682h0m71 35h0m-64-10h0m-16 10h0m-76 8h0m8-5h0m32 3h0m15 10h0m27-5h0m67-8h0m27 6h0m9 12h0m-83 23h0m-62 4h0m-17-4h0m232 49h0m-132-2h0m-33-15h0m-2 14h0m-22 2h0m-49-14h0m2 39h0m68 0h0m2-8h0m130 6h0m-14 25h0m-130-6h0m146 19h0m25 8h0m65-8h0m-124 34h0m-182 7h0m13 19h0m13-11h0m25 14h0m7-13h0m152-1h0m-28 30h0m-36-2h0m-41-7h0m-4 15h0m-6 7h0"/><path stroke="#7569a8" d="M2158 720h0m32 21h0m61 0h0m3-7h0m-16 17h0m-40 5h0m-7-6h0m-29 34h0m54-10h0m9 17h0m69-1h0m3-21h0m-87 67h0m5-17h0m40 4h0m162 8h0m-21 27h0m-198-8h0m-3 23h0m82-7h0m-77 40h0m0 15h0m145 56h0"/><path stroke="#6b579e" d="M2215 708h0m-35 31h0m11 30h0m43 13h0m10-7h0m84-4h0m-37 44h0m-43-8h0m-29-5h0m-25 5h0m-16-9h0m79 40h0m38-21h0m-59 42h0m-41 0h0m-4-2h0m162 21h0m-42 50h0m154 104h0"/><path stroke="#614594" d="M2226 711h0m8 56h0m-38-14h0m126 28h0m-63 23h0m-66 6h0m42 18h0m82 19h0m-74 4h0m239 17h0"/><path stroke="#58348b" d="M2195 706h0m48 79h0m-50 37h0"/><path stroke="#3b0472" d="M2358 986h0"/></g><rect x="1029.4" y="330.3" width="243.6" height="226.6" fill="none" stroke="#3a3a3a" stroke-width="1.3"/><rect x="1275.4" y="330.3" width="7.6" height="226.6" fill="url(#gP)" stroke="#3a3a3a" stroke-width="1"/><text x="1290" y="364.8" font-size="15.5">4</text><text x="1290" y="408.4" font-size="15.5">3</text><text x="1290" y="452.7" font-size="15.5">2</text><text x="1290" y="496.9" font-size="15.5">1</text><text x="1290" y="540.5" font-size="15.5">0</text><path d="M1283 359h4M1283 402.6h4M1283 446.9h4M1283 491.1h4M1283 534.7h4" stroke="#222" stroke-width="1"/><text x="1151.2" y="323.4" font-size="15" text-anchor="middle">STXBP6</text><text x="1151.2" y="573.3" font-size="15" text-anchor="middle">UMAP1</text><text transform="translate(1021.2 443.6) rotate(-90)" text-anchor="middle" font-size="15">UMAP2</text><use href="#cA" transform="translate(60.7 613.5) scale(.5)" fill="none" stroke="#f8f7fb" stroke-width="6.6" stroke-linecap="round"/><g transform="scale(.5)" fill="none" stroke-width="6.6" stroke-linecap="round"><path stroke="#f1f0f6" d="M347 1333h0m-53 27h0m27 10h0m192 42h0m-274 20h0m300 35h0"/><path stroke="#eae8f1" d="M229 1348h0m239 91h0m-203 63h0"/><path stroke="#e1e1ed" d="M380 1324h0m-165 87h0m216-14h0m-59 41h0m-155-1h0m37 19h0m-12 32h0m39 26h0m87 32h0m154 46h0"/><path stroke="#d7d7e8" d="M458 1390h0m-152-5h0m-37 58h0m191 30h0m91 97h0"/><path stroke="#cbcce1" d="M340 1289h0m-10 25h0m159 29h0m-58-8h0m-37-7h0m-170 18h0m176 17h0m-9 24h0m-3-14h0m-57 11h0m-177 17h0m197-1h0m49 14h0m-10 13h0m-60 1h0m-75-12h0m-62 32h0m92-2h0m175 8h0m-54 32h0m-61-22h0m199 42h0m2 7h0m-131 5h0m96 20h0m17 19h0m33 0h0"/><path stroke="#bebfda" d="M412 1284h0m-35 3h0m-131 28h0m6-8h0m77-2h0m85 0h0m-106 16h0m-13 18h0m-147 22h0m25-11h0m224 40h0m-193 19h0m90-15h0m146 10h0m53 8h0m-32 16h0m-135-3h0m-129 35h0m106-20h0m51 10h0m178-9h0m-3 34h0m-100-6h0m-14 12h0m-146-15h0m112 32h0m19 12h0m98-6h0m35 26h0m-16-9h0"/><path stroke="#b2b1d1" d="M308 1314h0m129 25h0m-168 10h0m86-3h0m99 33h0m-143 1h0m-43 26h0m53-12h0m198 45h0m-125-16h0m-26 6h0m-23-5h0m-26-5h0m32 76h0m223 84h0"/><path stroke="#a4a2c8" d="M294 1274h0m47 30h0m90 22h0m-242 17h0m76 4h0m60 19h0m82-6h0m83 0h0m-5 31h0m-5-14h0m-29 0h0m-29 4h0m-171-12h0m13 23h0m19 6h0m29-2h0m15 16h0m67 7h0m-16 2h0m-212 4h0m190 36h0m118 9h0m-6 2h0m-236 22h0m40-2h0m139 16h0m65 18h0m-145-12h0m203 124h0"/><path stroke="#9895c0" d="M303 1255h0m28 23h0m-63 12h0m110 19h0m81 34h0m-7-17h0m-12 46h0m-184 16h0m143 12h0m-20 33h0m-65-11h0m-8-5h0m-39 30h0m191 15h0m-186 11h0m-26 19h0"/><path stroke="#8b88b9" d="M422 1276h0m-9 45h0m-136 36h0m61-12h0m47 16h0m91-16h0m14 3h0m25 38h0m-299 2h0m57 14h0m-33 15h0m-10 8h0m-21 33h0m187 22h0m-128-1h0m167 12h0m-103 30h0"/><path stroke="#7f7cb2" d="M369 1315h0m-96 64h0m67 40h0m181 52h0m-218 10h0m17 26h0m80-4h0m172 14h0"/><path stroke="#7569a8" d="M349 1310h0m181 97h0m-52 37h0m-225 57h0m213 1h0m83 23h0"/><path stroke="#6b579e" d="M374 1365h0m89 35h0"/></g><rect x="60.7" y="613.5" width="243.6" height="226.6" fill="none" stroke="#3a3a3a" stroke-width="1.3"/><rect x="306.7" y="613.5" width="7.6" height="226.6" fill="url(#gP)" stroke="#3a3a3a" stroke-width="1"/><text x="321.3" y="661.2" font-size="15.5">8</text><text x="321.3" y="706.4" font-size="15.5">6</text><text x="321.3" y="751" font-size="15.5">4</text><text x="321.3" y="795.3" font-size="15.5">2</text><text x="321.3" y="839.7" font-size="15.5">0</text><path d="M314.3 655.4h4M314.3 700.6h4M314.3 745.2h4M314.3 789.5h4M314.3 833.9h4" stroke="#222" stroke-width="1"/><text x="182.5" y="606.6" font-size="15" text-anchor="middle">ETV5</text><text x="182.5" y="856.5" font-size="15" text-anchor="middle">UMAP1</text><text transform="translate(52.5 726.8) rotate(-90)" text-anchor="middle" font-size="15">UMAP2</text><use href="#cA" transform="translate(383.6 613.5) scale(.5)" fill="none" stroke="#f8f7fb" stroke-width="6.6" stroke-linecap="round"/><g transform="scale(.5)" fill="none" stroke-width="6.6" stroke-linecap="round"><path stroke="#f1f0f6" d="M1153 1357h0m-26 125h0m-16 68h0m95 13h0"/><path stroke="#eae8f1" d="M1034 1273h0m-89 110h0m-87 101h0m23 35h0m113 33h0"/><path stroke="#e1e1ed" d="M1092 1296h0m-7 64h0m76 8h0m-135 6h0m-50 10h0m64 39h0"/><path stroke="#d7d7e8" d="M926 1297h0m77 53h0m101 40h0m-67-3h0m-86-2h0m-14 60h0m168-4h0m11 38h0m-31 0h0m-54 53h0m-20 4h0m178 84h0m-12 5h0"/><path stroke="#cbcce1" d="M1096 1290h0m-76-7h0m-2 23h0m73 4h0m-53 13h0m-84 4h0m-57-4h0m-73 35h0m267 15h0m-78-5h0m-122 7h0m173 52h0m-124-9h0m100 45h0m-13 49h0m39 58h0m108 29h0m11 1h0m-4 18h0"/><path stroke="#bebfda" d="M902 1263h0m76 27h0m49 16h0m13 2h0m12-1h0m99 31h0m-74-12h0m-19 10h0m-37-12h0m-1 41h0m128-3h0m-7 7h0m-210 7h0m-58-3h0m-46 34h0m36-6h0m27 14h0m68-19h0m6 17h0m201-14h0m8 13h0m-182 12h0m-78 23h0m187 8h0m-65 14h0m-84 9h0m130 32h0m-28 33h0m13 10h0m26-4h0m132 12h0m-59 9h0"/><path stroke="#b2b1d1" d="M1076 1276h0m-40 5h0m8 26h0m82 29h0m-71 4h0m-140 9h0m69-4h0m27 5h0m61 16h0m17-17h0m77 7h0m-41 32h0m-23-5h0m-128 4h0m-2-11h0m-7 28h0m9 11h0m4 0h0m154-8h0m8-15h0m-98 36h0m-22-12h0m-4 5h0m-105 18h0m-44-6h0m84 25h0m31 3h0m-30 7h0m-52 29h0m99 6h0m155 2h0m-62 24h0m71 75h0m20-12h0m-19 48h0m2 12h0"/><path stroke="#a4a2c8" d="M883 1268h0m65 3h0m22-16h0m1 31h0m-111-8h0m-11 37h0m150-15h0m74 4h0m32 39h0m-111-19h0m-65 0h0m-80 11h0m136 29h0m59-5h0m9 1h0m109 2h0m-205 28h0m25 11h0m11 2h0m75 8h0m6 1h0m3-15h0m76 25h0m-23 3h0m-12 5h0m-94-9h0m-48 18h0m-6-20h0m-17 19h0m-35 0h0m-27-4h0m40 26h0m150-13h0m48 20h0m-51 0h0m-30 6h0m-20-1h0m-47 2h0m-113 35h0m161-5h0m128-9h0m26 14h0m-55 10h0m-107-2h0m84 42h0"/><path stroke="#9895c0" d="M926 1265h0m2-11h0m21 1h0m14 46h0m58 1h0m59 17h0m32 5h0m-24 5h0m-22-9h0m-30 17h0m-2 5h0m-26-9h0m-38-12h0m-19 30h0m7 13h0m98-17h0m38 0h0m65 8h0m-9 35h0m-48-17h0m-35 8h0m-12 3h0m-42-4h0m-10 4h0m-4-10h0m-12 0h0m-51 5h0m-95 18h0m98-3h0m21 17h0m25-7h0m75-9h0m98 12h0m-126 18h0m-19 4h0m-7-4h0m-10 13h0m-32-19h0m-11 11h0m-8 31h0m13-16h0m66 6h0m106-4h0m30 9h0m-63 14h0m-29 10h0m-6-10h0m-86 11h0m-104-14h0m70 39h0m69-13h0m-23 29h0m-64 3h0m276 68h0m-10 39h0"/><path stroke="#8b88b9" d="M964 1257h0m56 2h0m29 23h0m-4 11h0m-133-19h0m-34 43h0m117-7h0m117 27h0m-60-10h0m-80 0h0m-12 12h0m-8 3h0m-17-7h0m-98-6h0m32 17h0m33 3h0m40 0h0m8 8h0m18-5h0m22 6h0m130-7h0m-13 34h0m-14-8h0m-1 10h0m-1 4h0m-8-3h0m-53-17h0m-15 1h0m-48 6h0m-3 6h0m-8-4h0m-36 9h0m-22-7h0m25 18h0m94 14h0m10-17h0m72 14h0m3-16h0m6-3h0m18 39h0m-19-3h0m-3-9h0m-18-1h0m-60 11h0m-8 9h0m-88-18h0m-34 38h0m29 0h0m37-5h0m73 6h0m44 3h0m-66 21h0m-123 3h0m31 13h0m28 0h0m199-7h0m64 43h0m-22 38h0m-27 10h0m29 7h0m12 24h0m-22 16h0"/><path stroke="#7f7cb2" d="M1013 1258h0m-91 51h0m65-5h0m34 14h0m8-16h0m27 26h0m-103-7h0m-51 34h0m90-8h0m18 12h0m35-12h0m29 24h0m-21 20h0m-27-13h0m-10 11h0m-138-2h0m-62 24h0m138-2h0m21-5h0m14 7h0m7 1h0m29-19h0m5 7h0m-34 32h0m-11 0h0m-13-7h0m-40 16h0m58 18h0m71-15h0m49 0h0m74 23h0m-15 7h0m-59 10h0m-39-1h0m-63 3h0m-86-21h0m202 42h0m59-15h0m-72 35h0m102 50h0m-31 45h0m-1-9h0"/><path stroke="#7569a8" d="M1037 1262h0m48 27h0m-95 12h0m72-3h0m8 9h0m78 26h0m-42 2h0m-103-7h0m-99 9h0m-40 26h0m99-6h0m50 7h0m70-11h0m5 13h0m11-2h0m-13 8h0m-23 7h0m-30 0h0m-29 12h0m-37-21h0m16 39h0m28-11h0m7 9h0m28-14h0m130 43h0m-18 0h0m-145-12h0m-19 4h0m-75-4h0m-40 33h0m162-16h0m74 11h0m86 23h0m-155-10h0m-91 18h0m-49-17h0m300 22h0m-274 38h0m270 57h0m-30 61h0"/><path stroke="#6b579e" d="M1005 1290h0m102 40h0m-15-5h0m-25 13h0m-93-7h0m-61 1h0m-110 15h0m165 15h0m2 4h0m65-7h0m20 7h0m42 11h0m-165-6h0m154 33h0m63-7h0m-113 20h0m-117 35h0m91-8h0m9 16h0m55 0h0m-98 4h0m-2 12h0m-71 17h0m88 0h0m16-3h0"/><path stroke="#614594" d="M1044 1280h0m-50 13h0m-90 26h0m169 6h0m-33 8h0m95 55h0m-64-6h0m-31-1h0m-67-1h0m-15 24h0m43 11h0m19-4h0m163 11h0m-139 13h0m-8-8h0m26 34h0m37-11h0m24-6h0m-93 46h0m169 57h0m-24 60h0"/><path stroke="#58348b" d="M895 1300h0m62 11h0m134 21h0m-38 38h0m-76 27h0m-28 84h0m3 15h0"/><path stroke="#4e2382" d="M1116 1371h0m-66 14h0m-56-17h0"/><path stroke="#44137a" d="M1031 1347h0m21 1h0m26 34h0m51 17h0"/></g><rect x="383.6" y="613.5" width="243.6" height="226.6" fill="none" stroke="#3a3a3a" stroke-width="1.3"/><rect x="629.6" y="613.5" width="7.6" height="226.6" fill="url(#gP)" stroke="#3a3a3a" stroke-width="1"/><text x="644.2" y="644.7" font-size="15.5">5</text><text x="644.2" y="681.9" font-size="15.5">4</text><text x="644.2" y="719.5" font-size="15.5">3</text><text x="644.2" y="756.7" font-size="15.5">2</text><text x="644.2" y="793.9" font-size="15.5">1</text><text x="644.2" y="831.3" font-size="15.5">0</text><path d="M637.2 638.9h4M637.2 676.1h4M637.2 713.7h4M637.2 750.9h4M637.2 788.1h4M637.2 825.5h4" stroke="#222" stroke-width="1"/><text x="505.4" y="606.6" font-size="15" text-anchor="middle">ZIC1</text><text x="505.4" y="856.5" font-size="15" text-anchor="middle">UMAP1</text><text transform="translate(375.4 726.8) rotate(-90)" text-anchor="middle" font-size="15">UMAP2</text><use href="#cA" transform="translate(706.5 613.5) scale(.5)" fill="none" stroke="#f8f7fb" stroke-width="6.6" stroke-linecap="round"/><g transform="scale(.5)" fill="none" stroke-width="6.6" stroke-linecap="round"><path stroke="#e1e1ed" d="M1504 1311h0m101 75h0"/><path stroke="#d7d7e8" d="M1675 1302h0m-167 86h0m168 8h0m-28 40h0m0 52h0"/><path stroke="#cbcce1" d="M1727 1342h0m-47 0h0m29 37h0m-87 18h0m14 62h0m24 87h0"/><path stroke="#bebfda" d="M1746 1292h0m-191-8h0m168 98h0m-182 69h0m1 7h0m34 42h0m17 16h0m223 86h0"/><path stroke="#b2b1d1" d="M1687 1266h0m-63 24h0m-50 2h0m-29 24h0m96-6h0m45-2h0m30 23h0m-4-11h0m-45 4h0m-94-4h0m-29 30h0m124 30h0m110 27h0m20 15h0m-249 18h0m51 14h0m13-8h0m-100 20h0m60 41h0m16 17h0m249 66h0"/><path stroke="#a4a2c8" d="M1709 1287h0m-14-5h0m-115 1h0m-29 2h0m-15 7h0m-39 17h0m9 9h0m33 0h0m10-4h0m23-17h0m97 12h0m85 0h0m-26 18h0m-16 16h0m-116-5h0m-22 26h0m14-15h0m70 15h0m17-8h0m40 1h0m16 3h0m37-2h0m13 22h0m-10-3h0m-18-7h0m-126 7h0m-98-1h0m23 27h0m121-6h0m-39 38h0m-34-13h0m131 57h0m-50-10h0m-3 9h0m-65-3h0m-5 7h0m33 22h0m15-11h0m-59 32h0m8 21h0m226 1h0m-32 21h0"/><path stroke="#9895c0" d="M1525 1267h0m1 4h0m27-3h0m38-14h0m11-4h0m57 21h0m7-12h0m47 17h0m-187 12h0m42 21h0m26 3h0m39 0h0m50-13h0m46 40h0m-7-4h0m-9 3h0m-9-2h0m-53-1h0m-13-2h0m-38-6h0m-30-2h0m-8 18h0m-29-16h0m-4-6h0m119 29h0m146 30h0m-49-1h0m-7-2h0m-36-4h0m-22 0h0m-77 17h0m-29-22h0m-12 6h0m-23 13h0m24 24h0m47 2h0m5 2h0m1-12h0m132-8h0m6-3h0m33 43h0m-131-16h0m-4 6h0m-67 5h0m-33-14h0m-6 8h0m31 22h0m58 5h0m11-1h0m23-3h0m31 10h0m45-7h0m-108 14h0m63 37h0m141 24h0m32 40h0m-62 5h0m-3 37h0m13 4h0"/><path stroke="#8b88b9" d="M1563 1262h0m23-12h0m66 18h0m57 13h0m-37 11h0m-3-5h0m-18-1h0m-19 3h0m-72 1h0m89 12h0m58 0h0m4 5h0m34-4h0m13 34h0m-70 6h0m-16-19h0m-60 4h0m-39 6h0m-68-4h0m16 18h0m43 15h0m36-4h0m66 6h0m28-21h0m5 16h0m3-13h0m15 1h0m0 34h0m-13-6h0m-4 3h0m-38 10h0m-12 2h0m-31-4h0m-32 2h0m-10-13h0m-34-7h0m-38 15h0m10 25h0m142-11h0m35-5h0m83 6h0m22 11h0m4-14h0m27 26h0m-87 15h0m-26-13h0m0-6h0m-5 9h0m-40-6h0m-11 11h0m-28 0h0m-21-7h0m-5 10h0m-38 2h0m-3 6h0m23-3h0m9 4h0m21 6h0m59-7h0m44 17h0m22-3h0m9-16h0m93 43h0m-208-5h0m-16-3h0m-8 6h0m-33-7h0m-46 13h0m11 13h0m147 2h0m1 7h0m65-8h0m42-3h0m-138 30h0m-15-9h0m-1 4h0m-22-3h0m232 44h0m-5 10h0m-29 32h0m38-17h0m-38 49h0"/><path stroke="#7f7cb2" d="M1594 1271h0m16-5h0m5 5h0m10-4h0m5-8h0m12 4h0m81 29h0m-48-20h0m-3 12h0m-13 2h0m-22-5h0m-9 4h0m-10 8h0m-29-16h0m-43 6h0m-31-1h0m-5 9h0m22 26h0m5-19h0m35 10h0m11-12h0m16 18h0m13-14h0m1 3h0m9-5h0m3 11h0m2 8h0m33-15h0m56-2h0m46 0h0m-1 43h0m-20-2h0m-28-7h0m-31 3h0m-7-7h0m-20-7h0m-18 4h0m-11-6h0m-13 15h0m-4-12h0m-9 12h0m-86-16h0m-11 15h0m-9 17h0m22 9h0m4-4h0m13 2h0m29-2h0m29-12h0m7 20h0m6-8h0m12 9h0m47-4h0m71 4h0m4-11h0m47 10h0m10 21h0m-16-3h0m-7 0h0m-24-10h0m-5 4h0m-23-6h0m-13 18h0m-11-4h0m-8 5h0m-78-6h0m-20-14h0m-7 0h0m-62 32h0m2-8h0m0 12h0m33-14h0m19 6h0m29 6h0m85 2h0m25 5h0m-28 12h0m-8 2h0m-6-1h0m-1 15h0m-53-14h0m-13-3h0m-2 4h0m-84 9h0m-6-2h0m45 14h0m35 10h0m54 4h0m5-4h0m172-16h0m-155 23h0m-19 12h0m-7-8h0m-55 10h0m52 34h0m0 22h0m-110-21h0m80 35h0m64-3h0m58-2h0m93 56h0m11-7h0"/><path stroke="#7569a8" d="M1545 1267h0m62-3h0m41-11h0m74 23h0m-74 1h0m-67 1h0m-9 6h0m-11 1h0m-30-8h0m-2 13h0m-10-4h0m-12-3h0m-1-5h0m28 34h0m1-6h0m18-8h0m5 1h0m3 18h0m5-21h0m25 8h0m8 5h0m46-3h0m21 5h0m7-5h0m14-5h0m12-4h0m14 27h0m-93 7h0m-49 9h0m-38 1h0m-14-12h0m4 35h0m25-15h0m38 11h0m11-9h0m14-3h0m15 19h0m5-9h0m21-8h0m1 4h0m23-7h0m113 5h0m4 6h0m12-3h0m-203 18h0m-30 0h0m-2 12h0m-4 4h0m-5-21h0m-52 33h0m59-1h0m11-4h0m24 0h0m18 8h0m20-8h0m6 19h0m20-21h0m11 20h0m7-7h0m5-7h0m81-3h0m42 22h0m-95 10h0m-36-12h0m-23 7h0m-74 13h0m-10-17h0m-11 9h0m-10 25h0m106-10h0m31-1h0m-44 36h0m-17 2h0m-4 4h0m-65-15h0m0-4h0m11 36h0m4-7h0m105 15h0m149 42h0m29 25h0m-57 15h0m12 0h0m5 7h0m34 1h0m2-12h0m-45 52h0"/><path stroke="#6b579e" d="M1620 1258h0m61 12h0m26 1h0m-48 20h0m-48-10h0m-9 7h0m-44-14h0m-18 19h0m-28-6h0m-1-4h0m-19 25h0m4-4h0m47 0h0m16 0h0m20 1h0m1 11h0m9-8h0m40-8h0m26 8h0m6 7h0m54-3h0m83 20h0m-26 10h0m-34-17h0m-82 2h0m-19 12h0m-6-10h0m-16-8h0m-35 14h0m-28-13h0m-24 24h0m48 1h0m52 13h0m20-4h0m4 10h0m8-20h0m7 13h0m4-9h0m5 11h0m5-6h0m10 8h0m3-4h0m57 1h0m9 0h0m-35 12h0m-42 15h0m-7-16h0m-16 1h0m-11 3h0m-36 3h0m0-8h0m-5 5h0m-85 0h0m37 31h0m20 1h0m13-14h0m3 12h0m3-13h0m29 17h0m2-16h0m0 11h0m26-1h0m8 4h0m54-6h0m21 2h0m6 2h0m-47 30h0m-8 0h0m-38-1h0m-8-9h0m-2 7h0m-115-6h0m41 20h0m29 12h0m8-2h0m13-1h0m8-6h0m13 3h0m47 11h0m7-14h0m14-5h0m18 18h0m2-15h0m-136 37h0m-35-19h0m-22 44h0m138-3h0m144 29h0m-127-16h0m-35-2h0m165 40h0m22 1h0m29-20h0m-25 22h0m1 33h0m-6 34h0m-9 6h0"/><path stroke="#614594" d="M1520 1269h0m16 0h0m19-8h0m128 1h0m-33 28h0m-19-9h0m-62-6h0m-38-3h0m-13 28h0m32 1h0m0 18h0m16-2h0m20-12h0m3 7h0m16-5h0m10-11h0m6 9h0m31 6h0m2 6h0m10-11h0m15 12h0m16-14h0m14 13h0m18-20h0m11-1h0m34 40h0m-19-6h0m-30-4h0m-21 2h0m-18-5h0m-8 1h0m-20 19h0m-7-3h0m-22-8h0m-9-5h0m-23 1h0m-10 4h0m-67 33h0m14-1h0m13-6h0m16-9h0m7 8h0m1-13h0m11 8h0m8 4h0m7 1h0m14 0h0m22 7h0m7-11h0m9-7h0m37 4h0m6 9h0m0-4h0m60 1h0m-30 20h0m-34 5h0m-15-7h0m-10 9h0m-21 7h0m-11-9h0m-20-13h0m-16 5h0m-13 12h0m-16 17h0m25-8h0m24 15h0m11 6h0m34-21h0m4-1h0m9 0h0m24 16h0m114-7h0m-84 18h0m-18 11h0m-2-5h0m-20-7h0m-4 8h0m-40 11h0m-31-19h0m-17 13h0m-55-4h0m-3-3h0m77 38h0m177 17h0m-27-1h0m-167 2h0m-45-9h0m186 27h0m109 56h0m-18 58h0m-1 25h0"/><path stroke="#58348b" d="M1620 1269h0m25 18h0m-122-4h0m-13 18h0m19-3h0m73 3h0m6 0h0m13 13h0m19 2h0m1 3h0m142 9h0m-38 11h0m-26-14h0m-63 13h0m-11-11h0m-37 3h0m-5-9h0m-17 18h0m-12-15h0m-13 14h0m-24-7h0m8 33h0m38-14h0m9 11h0m22 1h0m15-17h0m9 2h0m18 12h0m21 7h0m13-19h0m5 15h0m3-14h0m40 39h0m-39 4h0m-22-6h0m-18-17h0m-1 12h0m-13-6h0m-12 0h0m-15 2h0m-20-3h0m-9 4h0m-11-6h0m-13 8h0m-11-4h0m-17 0h0m51 37h0m0-7h0m31 7h0m15-1h0m8-11h0m1-7h0m20 21h0m2-13h0m63 15h0m-41 12h0m-48 0h0m-49 14h0m66 2h0m14 7h0m-73 45h0m46-1h0m19 15h0m-109 9h0m114 31h0m-4 16h0"/><path stroke="#4e2382" d="M1612 1254h0m21 15h0m72 8h0m-64 8h0m-2 8h0m-5-1h0m-8-14h0m-5 4h0m-94-7h0m106 29h0m24-2h0m77 27h0m-3 13h0m-45-9h0m-5-3h0m-18-2h0m-20 13h0m-116 12h0m10-9h0m66 20h0m21-6h0m21-4h0m1 6h0m35-1h0m11 7h0m9 0h0m22-22h0m72 46h0m-78-4h0m-38-7h0m-30 5h0m-4-6h0m0 3h0m-5-13h0m-5 1h0m-63 40h0m47 6h0m20-12h0m147-11h0m-31 40h0m-162-14h0m-33 25h0m31 18h0m96-14h0m34 38h0m-152 25h0"/><path stroke="#44137a" d="M1511 1272h0m28 35h0m36 7h0m17 4h0m78-5h0m6-4h0m60 1h0m-82 23h0m-5-5h0m-26-2h0m-42 13h0m-35-18h0m-5 16h0m16 10h0m25 19h0m3-3h0m39-13h0m111-1h0m1 42h0m-64-13h0m-50 6h0m-20-4h0m-50 10h0m27 2h0m4 20h0m8-3h0m50 3h0m12-16h0m107 20h0m-97 19h0m4 5h0m55 8h0m-25 38h0"/><path stroke="#3b0472" d="M1603 1274h0m0 19h0m-77 0h0m77 18h0m103-6h0m-11 15h0m-30 19h0m-7-9h0m-59-9h0m-27 7h0m-34 7h0m36 9h0m40 8h0m21 6h0m22-8h0m30 37h0m-12 2h0m-10-19h0m-37 17h0m-18 3h0m-19-7h0m-9-4h0m-12 12h0m-36-7h0m15 24h0m64-14h0m14 7h0m7 0h0m42-1h0m-59 38h0m23 9h0"/></g><rect x="706.5" y="613.5" width="243.6" height="226.6" fill="none" stroke="#3a3a3a" stroke-width="1.3"/><rect x="952.5" y="613.5" width="7.6" height="226.6" fill="url(#gP)" stroke="#3a3a3a" stroke-width="1"/><text x="967.1" y="653" font-size="15.5">3</text><text x="967.1" y="707.2" font-size="15.5">2</text><text x="967.1" y="761.8" font-size="15.5">1</text><text x="967.1" y="816.5" font-size="15.5">0</text><path d="M960.1 647.2h4M960.1 701.4h4M960.1 756h4M960.1 810.7h4" stroke="#222" stroke-width="1"/><text x="828.3" y="606.6" font-size="15" text-anchor="middle">TAC3</text><text x="828.3" y="856.5" font-size="15" text-anchor="middle">UMAP1</text><text transform="translate(698.3 726.8) rotate(-90)" text-anchor="middle" font-size="15">UMAP2</text><use href="#cA" transform="translate(1029.4 613.5) scale(.5)" fill="none" stroke="#f8f7fb" stroke-width="6.6" stroke-linecap="round"/><g transform="scale(.5)" fill="none" stroke-width="6.6" stroke-linecap="round"><path stroke="#f1f0f6" d="M2220 1254h0m179 39h0m-30-1h0m-57-9h0m-32 9h0m-67-13h0m-38 30h0m4-7h0m69 9h0m23-2h0m35-7h0m7 22h0m-22 3h0m-32 9h0m25 17h0m10 3h0m-14 55h0m56 10h0m-122 72h0m85 45h0m157 20h0m-110 5h0m117 31h0"/><path stroke="#eae8f1" d="M2241 1266h0m115 46h0m-198 42h0m114 13h0m-154 40h0m99 2h0m39 16h0m-120 38h0m166-19h0m126 7h0m30-4h0m20-1h0m-87 36h0m-199 15h0m45-2h0m140 38h0m-58-3h0m-20 28h0"/><path stroke="#e1e1ed" d="M2327 1281h0m-43 27h0m160 24h0m-7-3h0m-191-2h0m-111 15h0m90 15h0m4-7h0m228 19h0m-12 5h0m-97-1h0m-69 1h0m-125 14h0m-21-2h0m4 65h0m254 4h0m9 2h0m-63 28h0m-61-4h0m-87-8h0m313 26h0m-195 30h0m-108-6h0m134 18h0m18 33h0"/><path stroke="#d7d7e8" d="M2332 1292h0m-18-5h0m-106-8h0m-64 12h0m52 10h0m18 8h0m4-1h0m73 10h0m63-1h0m7-5h0m53-4h0m-30 17h0m-25-1h0m-10 12h0m-21 1h0m-87 1h0m-62 21h0m58-14h0m100 21h0m10 0h0m30-6h0m6-5h0m12 12h0m46-23h0m16 12h0m-150 27h0m-43-3h0m-21 5h0m-54-3h0m-43 2h0m118 28h0m23 0h0m10-10h0m75 24h0m-5 8h0m-55-18h0m-163 18h0m16 14h0m72 13h0m81-4h0m162-8h0m-99 17h0m-127 16h0m86 6h0m75 12h0m-92 12h0m-78 5h0m-10 7h0m-4 5h0m-15-9h0m-22 0h0m59 23h0m71 16h0m117 21h0m52 45h0m-30 19h0"/><path stroke="#cbcce1" d="M2166 1269h0m16 0h0m130-10h0m9 22h0m-25 9h0m-121 8h0m8 17h0m38-1h0m14-2h0m66-4h0m10 3h0m22-10h0m103 39h0m-53-8h0m-57-2h0m-31 10h0m-34-19h0m-6 3h0m-25 8h0m-12-4h0m-48-2h0m-33-2h0m53 40h0m37 2h0m33-4h0m10-4h0m33-8h0m19 11h0m43-4h0m16 26h0m-28 6h0m-79-8h0m-1-4h0m-58 8h0m-60-9h0m-15 15h0m-24-13h0m113 34h0m107-12h0m88 31h0m-29-12h0m-77 5h0m-55 14h0m-19 0h0m-8-12h0m-5-8h0m-44 20h0m-10-10h0m-48-5h0m25 23h0m6-4h0m162 1h0m0 14h0m97 14h0m-37 6h0m-19 6h0m-136-17h0m-8 21h0m-11-4h0m-13 10h0m17-4h0m48 9h0m68-7h0m50 11h0m76 3h0m49 6h0m-112 20h0m-73-19h0m-36 13h0m-28-9h0m-9 14h0m-19-13h0m-67-4h0m71 26h0m65 18h0m28-6h0m194-9h0m-79 29h0m-58-3h0m-43 0h0m-3-4h0m114 33h0"/><path stroke="#bebfda" d="M2392 1292h0m-18-11h0m-69 10h0m-28-2h0m-7 1h0m-22-2h0m-48-4h0m-4 1h0m-4-2h0m-40 35h0m6-13h0m5 10h0m28 1h0m8-18h0m46 16h0m19-4h0m10-10h0m36 6h0m15 12h0m51-22h0m-18 24h0m-8 1h0m-6 6h0m-14-4h0m-72 5h0m-32 7h0m-69-11h0m-6 6h0m15 27h0m41-8h0m90 17h0m1-16h0m43 12h0m3-14h0m1 12h0m86 5h0m30 25h0m-46-20h0m-13 3h0m-41 4h0m-66 14h0m-9-23h0m-57 20h0m-8-1h0m-52 0h0m-4-14h0m-82-5h0m-1 4h0m35 23h0m15 2h0m35 5h0m12 10h0m18-9h0m27-11h0m1 4h0m1 11h0m2-5h0m37 13h0m55-9h0m2-6h0m3 4h0m37 4h0m2-7h0m11-3h0m12-3h0m2 6h0m6 5h0m44-12h0m28 2h0m-37 20h0m-8 9h0m-26 0h0m-61-8h0m-122 20h0m-25-5h0m-24-3h0m8 21h0m59 6h0m1 6h0m19 0h0m31-3h0m24-15h0m7-4h0m3 11h0m26-7h0m1 17h0m8-4h0m128-16h0m-102 42h0m-30 1h0m-48 2h0m-18-3h0m-58 2h0m-21-20h0m-15 20h0m-5-18h0m-29-1h0m-1 21h0m73 2h0m10 9h0m51 6h0m8-4h0m6 1h0m46 0h0m7-10h0m26 17h0m19 7h0m-90 18h0m-8-16h0m-4-4h0m-5 11h0m-60-7h0m-52 2h0m198 30h0m94-7h0m-112 24h0m95 38h0"/><path stroke="#b2b1d1" d="M2232 1250h0m59 9h0m50 23h0m-73-4h0m-14-4h0m-22 9h0m-75-11h0m43 43h0m58-12h0m28 13h0m0 3h0m1-9h0m26-8h0m3 11h0m97 6h0m-10 13h0m-102 11h0m-24-14h0m-36-1h0m-42 15h0m-8-8h0m-7 0h0m-55-6h0m-20-7h0m45 44h0m8-15h0m12-5h0m9-2h0m7 6h0m4 5h0m28-8h0m12 2h0m47 9h0m41-11h0m5 12h0m2-12h0m19 0h0m15 1h0m90 14h0m-36 21h0m-35 8h0m-26-20h0m-15 14h0m-16-6h0m-4-8h0m-17 9h0m-57 6h0m-8-13h0m-64-4h0m-69 21h0m41 6h0m23 17h0m21-19h0m59 10h0m43 11h0m18-14h0m7-4h0m61 13h0m2-8h0m24 5h0m11 3h0m1-13h0m15 23h0m-51 9h0m-4-5h0m-34-6h0m-19 7h0m-9-4h0m-8 0h0m-2 11h0m-26 6h0m-2-6h0m-6-9h0m-15-4h0m-25 18h0m-81-21h0m-7 1h0m-4 25h0m21 15h0m26 4h0m21-2h0m28-17h0m1 8h0m45 1h0m41-3h0m9 4h0m14 5h0m24-2h0m125 24h0m-32-11h0m-42-1h0m-15 5h0m-81 6h0m-75-10h0m-16 4h0m-33 15h0m-10-7h0m-10-2h0m-17 4h0m11 15h0m47-2h0m30 1h0m11 5h0m51 5h0m9-16h0m24 1h0m24 13h0m21-8h0m87 0h0m-41 33h0m-78-10h0m-12-7h0m-12 7h0m-4 14h0m-28-6h0m-47-7h0m-20 15h0m-4-23h0m97 41h0m8-11h0m26 16h0m10-2h0m51 1h0m14-21h0m25 11h0m11 27h0m-104-11h0m-24 15h0m-12-1h0m-19-6h0m167 54h0m-4 13h0"/><path stroke="#a4a2c8" d="M2236 1267h0m14-11h0m83 10h0m26 10h0m-5 5h0m-7 13h0m-54-10h0m-26-2h0m-87 30h0m78-12h0m40 11h0m59-4h0m34 32h0m-25-18h0m-82 12h0m-20-6h0m-49-2h0m-11 7h0m-17 5h0m-71-16h0m33 31h0m54-5h0m29 13h0m14-1h0m3 5h0m21-14h0m39 12h0m60-18h0m45 14h0m26 22h0m-53-11h0m-10 3h0m-28 4h0m-16 11h0m-10-2h0m-6-7h0m-3 2h0m-3-10h0m-131 14h0m-51-14h0m-25 7h0m41 29h0m4-12h0m2 6h0m36 15h0m55-10h0m8 10h0m12-12h0m11-2h0m12 2h0m18-9h0m7 13h0m81-2h0m3-10h0m63 4h0m6 25h0m-57-2h0m-5 10h0m-10-1h0m-4-8h0m-16-3h0m-38 8h0m-23 10h0m-23 0h0m-62-11h0m-4-7h0m-16-3h0m-35 14h0m-5 4h0m-40 19h0m35 7h0m11-4h0m26 4h0m7-14h0m9-1h0m19-6h0m21 13h0m5 10h0m27-16h0m21 12h0m5 1h0m22-19h0m89 6h0m64 30h0m-25-3h0m-102 6h0m-66-1h0m-22 0h0m-31-7h0m-26 6h0m-37-8h0m-4 2h0m6 16h0m17 19h0m6-1h0m12 4h0m64-16h0m21-4h0m34 21h0m25-18h0m48 2h0m98 40h0m-37-12h0m-100-10h0m-6 0h0m-21 0h0m-170 3h0m200 40h0m39 0h0m8-2h0m5-14h0m9 7h0m15-3h0m-48 22h0m-58 8h0m8 11h0m139 18h0m-28 8h0"/><path stroke="#9895c0" d="M2221 1266h0m77 2h0m69 8h0m-31 4h0m-125 19h0m14 6h0m66-5h0m31 9h0m76 21h0m-129-4h0m-42 13h0m-29-17h0m-22 16h0m-1-17h0m-10 8h0m-31-2h0m0 20h0m54 13h0m89 4h0m103 2h0m29 25h0m-10-21h0m-40 15h0m-52 4h0m-3-21h0m-13 6h0m-6 16h0m-4-21h0m-44 14h0m-27-4h0m-2-5h0m-39-5h0m-34 33h0m41 7h0m5 6h0m28-4h0m5-11h0m20 5h0m15-9h0m4 3h0m4 5h0m31-4h0m15-2h0m10-4h0m19 9h0m20-8h0m1 18h0m40 1h0m65-3h0m-52 5h0m-45 2h0m-17 17h0m-27-6h0m-8 6h0m-10 3h0m-6-2h0m-5-4h0m-5-13h0m-25 17h0m-43-6h0m-5-1h0m-28 5h0m-27-9h0m12 15h0m27 4h0m17 14h0m28-1h0m2-4h0m10 3h0m64-9h0m17 16h0m54-2h0m2-4h0m47-17h0m-86 46h0m-20-4h0m-2-13h0m-10-1h0m-21 8h0m-19 0h0m-43 2h0m-65-5h0m-7 28h0m3 3h0m9 4h0m11-12h0m5 5h0m32-1h0m24 6h0m26-6h0m131 2h0m18-12h0m84 35h0m-35 5h0m-88-13h0m-70 0h0m-6 5h0m-11-5h0m-73 0h0m-23 2h0m91 36h0m55-12h0m133 35h0m-55-14h0m-29 11h0m65 13h0"/><path stroke="#8b88b9" d="M2255 1257h0m11 12h0m10-14h0m13 24h0m-13 2h0m-70 14h0m-30-18h0m12 35h0m59-11h0m97-4h0m21 7h0m-43 20h0m-13 4h0m-5 2h0m-52 9h0m-6-3h0m-26-12h0m-7 11h0m-5 8h0m-29-16h0m-12 6h0m-57 17h0m52 11h0m76 0h0m22-9h0m121-3h0m28 18h0m40-8h0m-61 18h0m-5 10h0m-45-6h0m-70 3h0m-3 3h0m-10-19h0m-1 7h0m-5 15h0m-25-19h0m-5-3h0m26 24h0m78 22h0m106-17h0m-19 38h0m-57-4h0m-14-2h0m-3 6h0m-19 4h0m-72-9h0m-141-2h0m87 28h0m9-2h0m6-11h0m5 9h0m21-3h0m31 1h0m9-1h0m37 14h0m19-17h0m24 4h0m7-10h0m31 10h0m62-2h0m-79 33h0m-4-14h0m-102-3h0m-9 18h0m-90 4h0m-7-9h0m84 15h0m4-1h0m45-3h0m73 8h0m4 4h0m17-1h0m57 6h0m-43 22h0m-15-14h0m-21 5h0m-31-3h0m-21 14h0m-7-16h0m-51 15h0m-81-15h0m92 43h0m1-10h0m251 19h0m-194-1h0m137 38h0m30-9h0m-20 20h0"/><path stroke="#7f7cb2" d="M2294 1253h0m-9 23h0m-2 5h0m-59 8h0m7 16h0m48 7h0m16-10h0m87 8h0m16 25h0m-40 8h0m-12-3h0m-20 2h0m-43-3h0m-29-9h0m-43 0h0m-82-10h0m91 24h0m23 7h0m1 14h0m50-15h0m11 4h0m113-3h0m46 34h0m-120 6h0m-13-10h0m-67-5h0m-75 0h0m-25 23h0m60 13h0m44-15h0m2 18h0m10-14h0m28-8h0m69 11h0m8-1h0m5 8h0m11-11h0m40 28h0m-64-10h0m-27 8h0m-52 8h0m-13-6h0m-33 1h0m-1 6h0m-53-19h0m69 41h0m4-12h0m4-5h0m15 5h0m46-2h0m30 42h0m-14-20h0m-70 14h0m-39-1h0m-18-3h0m-39 4h0m17 19h0m25 5h0m15-7h0m110 8h0m15 25h0m-61-11h0m-92 7h0m55 25h0m31-8h0m37-6h0m54 21h0m27-12h0m97 30h0m-47 50h0"/><path stroke="#7569a8" d="M2322 1295h0m-4-11h0m-69 9h0m-112 15h0m130 6h0m101 21h0m-185-4h0m79 35h0m42-2h0m8 1h0m114 23h0m-81-18h0m-80 25h0m11 9h0m19-6h0m22 15h0m20 1h0m27 15h0m-115-3h0m-11-8h0m-7 12h0m-70-10h0m84 34h0m59 29h0m-94 9h0m31 7h0m-20 23h0m155 59h0m-67-15h0m-5-5h0"/><path stroke="#6b579e" d="M2278 1304h0m139 73h0m-19 2h0m-155 21h0m56-4h0m13 15h0m-37 17h0m-7 11h0m-138 24h0m223-2h0m-5 14h0m-90-8h0m-50 44h0m4-12h0m170 0h0"/><path stroke="#614594" d="M2210 1402h0m45 11h0m4-19h0m57 10h0m-27 21h0m-51 7h0m-43-6h0"/><path stroke="#58348b" d="M2315 1309h0m-50 203h0"/></g><rect x="1029.4" y="613.5" width="243.6" height="226.6" fill="none" stroke="#3a3a3a" stroke-width="1.3"/><rect x="1275.4" y="613.5" width="7.6" height="226.6" fill="url(#gP)" stroke="#3a3a3a" stroke-width="1"/><text x="1290" y="666.6" font-size="15.5">3</text><text x="1290" y="714.6" font-size="15.5">2</text><text x="1290" y="762.6" font-size="15.5">1</text><text x="1290" y="810.6" font-size="15.5">0</text><path d="M1283 660.8h4M1283 708.8h4M1283 756.8h4M1283 804.8h4" stroke="#222" stroke-width="1"/><text x="1151.2" y="606.6" font-size="15" text-anchor="middle">NXPH2</text><text x="1151.2" y="856.5" font-size="15" text-anchor="middle">UMAP1</text><text transform="translate(1021.2 726.8) rotate(-90)" text-anchor="middle" font-size="15">UMAP2</text><use href="#cA" transform="translate(60.7 896.7) scale(.5)" fill="none" stroke="#f8f7fb" stroke-width="6.6" stroke-linecap="round"/><g transform="scale(.5)" fill="none" stroke-width="6.6" stroke-linecap="round"><path stroke="#f1f0f6" d="M269 1861h0m-21-1h0m68 37h0m-65 46h0m67-8h0m140-2h0m-88 23h0m-42 117h0"/><path stroke="#eae8f1" d="M219 1858h0m13 25h0m5 29h0m-62 24h0m137 35h0m36-1h0m-104 51h0m48 14h0m104 42h0"/><path stroke="#e1e1ed" d="M352 1845h0m38-9h0m-67 26h0m35 45h0m-132 24h0m68-1h0m134 13h0m-43 19h0m-83-3h0m-70 20h0m82-2h0m73 15h0m-88 0h0m-6 4h0m11 91h0m80-17h0"/><path stroke="#d7d7e8" d="M220 1838h0m69-13h0m40 10h0m57 36h0m-54-14h0m-86 7h0m35 30h0m7-12h0m51 13h0m-82 21h0m-57-18h0m-22 10h0m99 15h0m14 14h0m65-14h0m20 23h0m-41-2h0m-114 13h0m37 18h0m75 7h0m85 108h0"/><path stroke="#cbcce1" d="M228 1835h0m11 8h0m55-13h0m12-3h0m3 17h0m2-16h0m-52 28h0m-46 16h0m38 17h0m4-2h0m14-4h0m80 3h0m27 4h0m-76 16h0m-36-10h0m-9 47h0m39-17h0m22 15h0m5-5h0m36 5h0m-63 19h0m-130-5h0m40 20h0m87-7h0m6 3h0m4 13h0m20-9h0m9-5h0m6-2h0m14 11h0m-129 53h0m180-16h0"/><path stroke="#bebfda" d="M339 1829h0m11 22h0m-69 13h0m-58-16h0m38 41h0m66-5h0m8 4h0m10 6h0m13 0h0m16-16h0m93 26h0m-112-3h0m-46 2h0m-9 8h0m-4 4h0m-43-14h0m-44 32h0m18 6h0m90-16h0m180 24h0m-5 16h0m-101-9h0m-130 29h0m139-2h0m-32 14h0m-15 17h0m-65-19h0m-16 11h0m-21-5h0m-29 0h0m172 31h0m-92 46h0"/><path stroke="#b2b1d1" d="M325 1821h0m-91 16h0m11-2h0m89 9h0m-23 10h0m-37 8h0m-39-2h0m-17 8h0m117 15h0m29-9h0m27 39h0m-17-7h0m-146 13h0m-16-17h0m74 36h0m14-11h0m6 12h0m38-15h0m42 8h0m2 7h0m-3 27h0m-58-20h0m-12 19h0m-4-19h0m-5 6h0m-134 3h0m40 28h0m111-2h0m1 4h0m-5 7h0m-21 17h0m40 13h0m86 0h0m-63 34h0m-98 23h0m203 64h0"/><path stroke="#a4a2c8" d="M367 1837h0m1 20h0m-4 2h0m-110-10h0m-20 5h0m-23 8h0m47 19h0m19-5h0m49 17h0m185 11h0m-222-3h0m-54 1h0m-39-1h0m-21 1h0m-8 13h0m-7-19h0m3 32h0m43 4h0m72 0h0m24 8h0m108 26h0m-58-6h0m-120-6h0m-9 22h0m66-3h0m41 22h0m-64 10h0m-50 8h0m133 43h0m-48 26h0"/><path stroke="#9895c0" d="M261 1834h0m38-1h0m-73 33h0m71 9h0m14 12h0m95-13h0m43 26h0m-103 13h0m-121 4h0m-33-1h0m-31-15h0m81 25h0m94 0h0m39-1h0m-63 38h0m-38-8h0m-65 8h0m20 6h0m65 15h0m2-5h0m63-11h0m25 47h0m-8-8h0m-16-15h0m-4 10h0m-71 10h0m-16 20h0m39-11h0m112 82h0m35 20h0"/><path stroke="#8b88b9" d="M325 1817h0m32 52h0m-137 3h0m88 15h0m-13 18h0m-56-8h0m-32 9h0m177 31h0m59 13h0m-63-5h0m-49 5h0m-13 6h0m-12 11h0m-107-6h0m81 14h0m19 1h0m29 5h0m14-13h0m52 18h0m-55 12h0m-24-2h0m-40 7h0m-63-9h0m67 31h0m64-8h0m-32 26h0m-19 2h0m183 65h0"/><path stroke="#7f7cb2" d="M311 1840h0m-107 30h0m43 3h0m39 15h0m46 4h0m-28 13h0m-116 25h0m62-10h0m96 0h0m43 2h0m-82 37h0m136 36h0m-174 31h0m56-10h0m81 16h0m-109 32h0"/><path stroke="#7569a8" d="M283 1890h0m-1 21h0m39 49h0m-91 31h0m30-22h0m49 11h0m-72 24h0m66 35h0"/><path stroke="#6b579e" d="M237 1864h0m-18 12h0m-40 62h0m94 31h0m0 27h0m43 24h0m65 58h0m-31 15h0"/><path stroke="#614594" d="M317 1841h0m-12 77h0m-59-21h0"/><path stroke="#58348b" d="M364 1893h0"/></g><rect x="60.7" y="896.7" width="243.6" height="226.6" fill="none" stroke="#3a3a3a" stroke-width="1.3"/><rect x="306.7" y="896.7" width="7.6" height="226.6" fill="url(#gP)" stroke="#3a3a3a" stroke-width="1"/><text x="321.3" y="941" font-size="15.5">6</text><text x="321.3" y="1001.2" font-size="15.5">4</text><text x="321.3" y="1060.7" font-size="15.5">2</text><text x="321.3" y="1120.4" font-size="15.5">0</text><path d="M314.3 935.2h4M314.3 995.4h4M314.3 1054.9h4M314.3 1114.6h4" stroke="#222" stroke-width="1"/><text x="182.5" y="889.8" font-size="15" text-anchor="middle">NXPH4</text><text x="182.5" y="1139.7" font-size="15" text-anchor="middle">UMAP1</text><text transform="translate(52.5 1010) rotate(-90)" text-anchor="middle" font-size="15">UMAP2</text><use href="#cA" transform="translate(383.6 896.7) scale(.5)" fill="none" stroke="#f8f7fb" stroke-width="6.6" stroke-linecap="round"/><g transform="scale(.5)" fill="none" stroke-width="6.6" stroke-linecap="round"><path stroke="#f1f0f6" d="M991 1840h0m35 3h0m-16 31h0m-95 41h0m-100 6h0m238 6h0m-118 46h0m4 23h0m106 67h0m-43-13h0"/><path stroke="#eae8f1" d="M970 1821h0m-110 24h0m104-13h0m128 25h0m-188 11h0m63 6h0m189 30h0m-186 28h0m45 7h0m34-10h0m53 32h0m-76-16h0m-178 42h0m319-2h0m0 12h0m-78-2h0m-118 45h0m-78 22h0m71 52h0m242 9h0"/><path stroke="#e1e1ed" d="M953 1834h0m68 56h0m54-2h0m20-2h0m-210 11h0m214 33h0m-53 30h0m-183 7h0m2 11h0m145-9h0m117 69h0m-56 11h0m-98 3h0m1 46h0"/><path stroke="#d7d7e8" d="M885 1843h0m215 16h0m-20-5h0m-69 14h0m-15-17h0m-38 12h0m-89-15h0m28 41h0m52 6h0m62 21h0m-134 25h0m167-16h0m-207 37h0m151 6h0m187 6h0m-98 47h0m112 30h0m-213-3h0m-25-4h0m-72 31h0m103 8h0m34-7h0m147 39h0m-75 25h0"/><path stroke="#cbcce1" d="M881 1842h0m55-6h0m4-6h0m66 5h0m51 20h0m-52 1h0m-148 12h0m-8 14h0m161 11h0m81-17h0m21 14h0m14 18h0m-192 10h0m-23-5h0m-35-13h0m-14 19h0m-54-11h0m9 18h0m165 0h0m3 5h0m180 34h0m-161 0h0m-68-19h0m-30 11h0m-81 5h0m92 16h0m37 10h0m6-11h0m13 1h0m32-10h0m144 27h0m-287 18h0m185 3h0m-14 29h0m-22 14h0m-44 1h0m-11-17h0m-96 22h0m34 11h0m95-3h0m13-6h0m27 3h0m52 6h0m-114 23h0m105 40h0"/><path stroke="#bebfda" d="M961 1814h0m-3 8h0m-49 6h0m91-2h0m-21 41h0m-67-2h0m-32-11h0m-8 12h0m-20-8h0m16 28h0m85 1h0m53-10h0m14 1h0m39 10h0m9 2h0m38 2h0m19 1h0m-59 17h0m-136 4h0m91 11h0m65 14h0m67-15h0m-70 30h0m-16-2h0m-83 8h0m-131 12h0m53-3h0m49 11h0m184 2h0m27-4h0m-99 29h0m-71-3h0m-16 8h0m-36-3h0m-55-17h0m-38 46h0m16-6h0m8-13h0m20-1h0m72 15h0m57-15h0m36 13h0m45-15h0m-59 29h0m-45 1h0m-87-1h0m-52 23h0m138 38h0m4 18h0m100-11h0m28 17h0m-76 21h0"/><path stroke="#b2b1d1" d="M984 1822h0m-99 16h0m26-3h0m40-8h0m78 7h0m2 10h0m3-4h0m73 20h0m-136-7h0m-51 9h0m-11-12h0m-2 14h0m-10 6h0m-16-10h0m-20-11h0m157 23h0m20 18h0m32-17h0m73 45h0m-36-22h0m-2 13h0m-53 5h0m-33-8h0m-40 11h0m-95-12h0m-15 7h0m-5 31h0m52-2h0m74-17h0m18-3h0m11 15h0m10-14h0m1 15h0m14-16h0m118 8h0m-58 28h0m-26-9h0m-7 0h0m-15 18h0m-6-14h0m-42 10h0m-51-5h0m-91 0h0m-48-8h0m2 24h0m55-4h0m212 8h0m-22 25h0m-1-8h0m-62 8h0m-36 1h0m-8 8h0m-5-15h0m-3 14h0m-19 2h0m-29-13h0m-49 34h0m52-6h0m34-5h0m13 12h0m136-6h0m30 2h0m56 2h0m15-12h0m23 35h0m-96-10h0m-126 0h0m-23 4h0m-12 1h0m-78 2h0m-20 5h0m18 16h0m68-9h0m5 12h0m46 2h0m42 8h0m13 1h0m10 22h0m-63 0h0m75 15h0m-17 20h0"/><path stroke="#a4a2c8" d="M954 1814h0m-80 21h0m38 5h0m1-10h0m184 32h0m-36 6h0m-32 0h0m-3-18h0m-25 0h0m-29 9h0m-15 1h0m-4-6h0m-21 2h0m-40 8h0m-15-14h0m-21 12h0m-10 13h0m46 7h0m32 9h0m10-9h0m13-7h0m45-1h0m34 16h0m38-11h0m2 8h0m7 4h0m76 20h0m-27 1h0m-20 7h0m-26-17h0m-62 10h0m-6-12h0m-46-3h0m-8 6h0m-109-5h0m1 25h0m50 4h0m3-2h0m28 14h0m1-9h0m85 4h0m13 6h0m9-14h0m119 21h0m-19-1h0m-4 12h0m-69-3h0m-17 11h0m-4-13h0m-11 13h0m-3-3h0m-27-19h0m-23 19h0m-12 1h0m-23-9h0m-84 5h0m-31-3h0m57 23h0m14-10h0m84-2h0m3 3h0m34-3h0m2 23h0m15-7h0m4 5h0m11-4h0m65 28h0m-51-2h0m-48-10h0m-11-9h0m-18 9h0m-60 0h0m-92 5h0m51 23h0m33-5h0m31 0h0m3-3h0m4-2h0m141-3h0m71 18h0m-52 25h0m-70-19h0m-35 10h0m-9-7h0m-55 4h0m-15 9h0m-12-11h0m-4 14h0m9 15h0m8 9h0m2-13h0m58 0h0m40 0h0m20-2h0m31 41h0m-48-1h0m-58-2h0m-73-16h0m128 25h0m101-3h0m14 34h0m-87 4h0m141 31h0m-10 13h0"/><path stroke="#9895c0" d="M899 1833h0m14-8h0m123 22h0m41 12h0m-212-9h0m-5 34h0m28-6h0m5-5h0m15 8h0m101 8h0m83 2h0m21-9h0m2 4h0m-3 12h0m-3 21h0m-26-14h0m-2 4h0m-14-5h0m-32-8h0m-38 12h0m-15-10h0m-14 21h0m-87-17h0m-4 6h0m-20-6h0m-25 3h0m-31 34h0m122-16h0m69-3h0m21 10h0m21 9h0m1-17h0m35 21h0m9-4h0m6-12h0m29 40h0m-1-5h0m-22-5h0m-44-9h0m-50 19h0m-92-18h0m-12-3h0m-42 37h0m75-8h0m4 11h0m12-7h0m22 1h0m11-10h0m3 12h0m14 3h0m4-6h0m24-1h0m74-9h0m58 8h0m-71 36h0m-56-13h0m-7 5h0m-4-6h0m-1-4h0m-79-2h0m-2 14h0m-14 2h0m-5 5h0m-50-11h0m-25-6h0m-2 4h0m17 17h0m87 11h0m5 6h0m13-1h0m14-13h0m17-4h0m46 1h0m84 19h0m25 2h0m50 4h0m-84 8h0m-153 7h0m-31 11h0m45-2h0m33 17h0m71 0h0m53 2h0m-23 12h0m-40-3h0m-83-6h0m-22 11h0m16 13h0m170 24h0"/><path stroke="#8b88b9" d="M880 1837h0m135 31h0m-8-18h0m-2 3h0m-15 14h0m-23 3h0m-108 2h0m7 0h0m109 8h0m31 37h0m-78-6h0m-7-10h0m-30 9h0m-31 4h0m-43-16h0m-22 18h0m39 24h0m43-10h0m20 6h0m40 1h0m2-7h0m23 11h0m16-17h0m32 1h0m59-2h0m4 0h0m19-1h0m10 17h0m43 16h0m-66-11h0m-42 10h0m-15-8h0m-10 14h0m-17 3h0m-22-17h0m-17 7h0m0-7h0m-96 5h0m-13 16h0m-27 19h0m57-14h0m42 18h0m18-12h0m42 12h0m66-9h0m138 7h0m-141 26h0m-12-5h0m-5-4h0m-31 8h0m-53-7h0m-19 6h0m-1-9h0m-39 1h0m-17 33h0m77 1h0m48-13h0m114 10h0m-142 13h0m-63 6h0m-21 28h0m46-17h0m42 8h0m75 30h0m-102-8h0m64 33h0m42 6h0m26-16h0m93 6h0m35-11h0m-148 36h0"/><path stroke="#7f7cb2" d="M950 1815h0m7 25h0m92 30h0m-8-11h0m-21-9h0m-7 3h0m-66 8h0m-7-11h0m-20 16h0m-15-10h0m-32-4h0m-9 6h0m23 35h0m79 1h0m-61 3h0m-23 31h0m49 14h0m21-3h0m3-13h0m32 15h0m132 2h0m-36 22h0m-130-6h0m-1 8h0m-68 0h0m56 17h0m130 6h0m106 13h0m-66 8h0m-25-9h0m-33 34h0m28 16h0m-153 1h0m-32-2h0m-13 12h0m-13-20h0m52 22h0m53 8h0m41 7h0m37 2h0m-82 6h0m-6 7h0"/><path stroke="#7569a8" d="M963 1867h0m-97-14h0m32 21h0m2 8h0m6 7h0m40-5h0m14-10h0m45 28h0m-80 5h0m-55 10h0m63 6h0m69 0h0m123 40h0m-161-7h0m-40-4h0m-18 31h0m12-14h0m186 22h0m-119 7h0m-82 8h0m6 32h0m0 16h0m144 56h0"/><path stroke="#6b579e" d="M924 1841h0m-35 31h0m147 32h0m-84 4h0m-10 7h0m-43-14h0m-13 30h0m16 9h0m26-5h0m28 5h0m47 10h0m-4-2h0m-99 42h0m65-20h0m96 41h0m-117-19h0m-40 0h0m115 68h0m155 105h0"/><path stroke="#614594" d="M935 1844h0m-31 42h0m127 27h0m-88-14h0m-42 44h0m66-7h0m-23 25h0m7 23h0m75-4h0m164 21h0"/><path stroke="#58348b" d="M904 1839h0m47 79h0m-49 36h0"/><path stroke="#3b0472" d="M1066 2119h0"/></g><rect x="383.6" y="896.7" width="243.6" height="226.6" fill="none" stroke="#3a3a3a" stroke-width="1.3"/><rect x="629.6" y="896.7" width="7.6" height="226.6" fill="url(#gP)" stroke="#3a3a3a" stroke-width="1"/><text x="644.2" y="929.9" font-size="15.5">4</text><text x="644.2" y="974.2" font-size="15.5">3</text><text x="644.2" y="1018.3" font-size="15.5">2</text><text x="644.2" y="1062.4" font-size="15.5">1</text><text x="644.2" y="1106.4" font-size="15.5">0</text><path d="M637.2 924.1h4M637.2 968.4h4M637.2 1012.5h4M637.2 1056.6h4M637.2 1100.6h4" stroke="#222" stroke-width="1"/><text x="505.4" y="889.8" font-size="15" text-anchor="middle">STXBP6</text><text x="505.4" y="1139.7" font-size="15" text-anchor="middle">UMAP1</text><text transform="translate(375.4 1010) rotate(-90)" text-anchor="middle" font-size="15">UMAP2</text><use href="#cA" transform="translate(706.5 896.7) scale(.5)" fill="none" stroke="#f8f7fb" stroke-width="6.6" stroke-linecap="round"/><g transform="scale(.5)" fill="none" stroke-width="6.6" stroke-linecap="round"><path stroke="#f1f0f6" d="M1571 1838h0m-10 82h0m133 5h0m-65 23h0m-182 15h0m286 14h0m-202 60h0m16 33h0"/><path stroke="#eae8f1" d="M1572 1831h0m119 28h0m-131-2h0m-13 36h0m52-17h0m56 13h0m-118 8h0m64 56h0m34 64h0m-38 62h0m25 14h0"/><path stroke="#e1e1ed" d="M1603 1840h0m150 20h0m-178 21h0m138 23h0m-75 9h0m-110-1h0m51 46h0m-83-6h0m45 29h0m83 1h0m-37 56h0m104 31h0m-134 22h0"/><path stroke="#d7d7e8" d="M1591 1821h0m-36 29h0m-41 36h0m30-12h0m2 13h0m21 0h0m1-11h0m73 1h0m-14 21h0m-89 3h0m-18 18h0m-50 6h0m42-5h0m27 10h0m22 5h0m13-5h0m78 3h0m129 13h0m-89 2h0m-49 12h0m-64 2h0m-61 3h0m-52 21h0m2-6h0m145-5h0m143 36h0m-248 2h0m-30 4h0m63 1h0m45 11h0m9-10h0m-49 60h0m188 40h0m68 45h0"/><path stroke="#cbcce1" d="M1549 1839h0m14-11h0m34-1h0m-4 34h0m-2 9h0m-31-9h0m-6 20h0m12 2h0m27-8h0m186 44h0m-123-10h0m-43-7h0m-32 4h0m-12 4h0m-48 5h0m-9-7h0m-29 8h0m-13-8h0m128 24h0m183 23h0m-151 5h0m-101 7h0m-24 0h0m-20-9h0m-2 4h0m-12 0h0m48 18h0m12 4h0m44 2h0m97-6h0m98 22h0m-129 2h0m-156 11h0m98 51h0m194 64h0m88 16h0"/><path stroke="#bebfda" d="M1527 1842h0m72-8h0m59 15h0m-27-1h0m-70 3h0m-10 0h0m-46 21h0m1 12h0m6 6h0m91-3h0m49-10h0m11 18h0m-89 16h0m-29-10h0m-4 2h0m-8 5h0m-59 7h0m20 22h0m22-15h0m12 6h0m9 13h0m11-20h0m16 9h0m6 2h0m7 10h0m23-16h0m46 1h0m145 28h0m-169-5h0m-17 2h0m-30 2h0m-5-2h0m-113 39h0m55-23h0m60 7h0m21 9h0m35-9h0m16 37h0m-4 1h0m-91-21h0m-8 13h0m-27 3h0m-32-2h0m37 18h0m146 2h0m77-3h0m107 22h0m-199-2h0m-44 19h0m-52-8h0m-26 9h0m-24-13h0m52 22h0m4-6h0"/><path stroke="#b2b1d1" d="M1629 1818h0m-84 15h0m41 38h0m-7 0h0m-1-15h0m-11 0h0m-8 15h0m-76 16h0m6 6h0m22-17h0m12 7h0m6-8h0m10-2h0m10 8h0m50 6h0m1 6h0m5-19h0m129 21h0m-142 11h0m-1 5h0m-72-15h0m-5 7h0m-6 16h0m-17-21h0m-54 36h0m42-4h0m7-9h0m2 11h0m10 0h0m21 7h0m49-16h0m45 13h0m3-4h0m8-8h0m14-4h0m21 0h0m43 19h0m18 4h0m-118 3h0m-20 0h0m-8 13h0m-6 7h0m-18-17h0m-97-3h0m-8 1h0m29 37h0m50-5h0m115-9h0m-70 27h0m-21 2h0m-59 5h0m-4-11h0m-7 18h0m20 16h0m237 5h0m38 6h0m0 11h0m-122 61h0"/><path stroke="#a4a2c8" d="M1511 1838h0m172 28h0m-62 5h0m-8-1h0m-1-4h0m-49 4h0m-17-21h0m-10 10h0m-10 1h0m-45 31h0m31-19h0m38 14h0m90-4h0m1 4h0m117 12h0m-134 19h0m-27 1h0m-14-2h0m-3-15h0m-30 3h0m-23-2h0m-4 6h0m-3 16h0m3 11h0m19-15h0m46 3h0m4 4h0m10 13h0m1-9h0m28-7h0m89 14h0m10 11h0m-34 3h0m-78-6h0m-11 19h0m-10-13h0m-63-2h0m-39 7h0m-36 7h0m-3-9h0m0 24h0m27 11h0m4-12h0m12-6h0m10 13h0m13 6h0m8-15h0m16 6h0m96 17h0m-81 37h0m33 3h0m106-16h0m152 32h0m-145-8h0m-189 2h0m65 21h0m70 17h0m156 0h0m-181 10h0m233 42h0"/><path stroke="#9895c0" d="M1525 1833h0m46-6h0m114 15h0m-9 19h0m-178-3h0m34 26h0m5-2h0m33 9h0m45-3h0m3-4h0m43-3h0m4 25h0m-57-9h0m-35 3h0m-14-2h0m-107 3h0m6 23h0m75 2h0m12 5h0m9 11h0m24-4h0m4-6h0m32-4h0m95 18h0m-68 17h0m-52-2h0m-24-16h0m-57 9h0m-5 6h0m-16 4h0m76 14h0m42 11h0m8 23h0m-39-11h0m-43-3h0m-32 1h0m-1 34h0m28-16h0m101 10h0m83-3h0m-166 23h0m-5 15h0m-37-5h0m68 8h0m79 19h0m-7 9h0"/><path stroke="#8b88b9" d="M1506 1845h0m25-2h0m5-8h0m71-5h0m4 18h0m-9 19h0m-4-13h0m-17 4h0m-51-7h0m-11 1h0m-27 23h0m42 3h0m46 4h0m14-3h0m1 16h0m8-18h0m24 6h0m63-5h0m-43 34h0m-10-6h0m-93 10h0m-92 0h0m71 14h0m95 12h0m59 9h0m-49 3h0m-9 0h0m-39-2h0m-132 20h0m32 11h0m60 6h0m57-5h0m19-14h0m66 14h0m13-13h0m-90 30h0m-15 8h0m-19 2h0m-22-5h0m-57-6h0m98 17h0m27-1h0m-55 34h0m-57 15h0m62 0h0m273 53h0m-143 18h0m139 62h0"/><path stroke="#7f7cb2" d="M1509 1842h0m22-4h0m59-5h0m91 14h0m-45 20h0m-90 1h0m-20-14h0m-3-4h0m-49 37h0m23-11h0m76 10h0m19-2h0m75 6h0m-61 16h0m-10-1h0m-16 13h0m-23-5h0m-42-1h0m-53-1h0m-13 2h0m52 20h0m78-10h0m74-2h0m37 0h0m-41 29h0m-137 7h0m-22 4h0m62 22h0m26-5h0m94 13h0m38 11h0m-51-3h0m-110 25h0m2 3h0m130-9h0m16-2h0m24 47h0m-95-18h0m74 99h0"/><path stroke="#7569a8" d="M1562 1846h0m-22 14h0m-22 6h0m-48 25h0m181 11h0m-3 15h0m-140-11h0m-14 13h0m8 20h0m235-14h0m-140 42h0m3 21h0m233 19h0m-250 5h0m-38 10h0m285 70h0"/><path stroke="#6b579e" d="M1529 1864h0m-14-16h0m-5 20h0m-6 9h0m95 3h0m-34 16h0m9 39h0m-22 34h0m113-1h0m-36 26h0m-39-2h0m-79 23h0"/><path stroke="#614594" d="M1559 1846h0m-26 22h0m-10-3h0m-11-12h0m-1-3h0m-20 67h0m118 6h0m-143 50h0m45 5h0m69-5h0m-66 55h0m77 22h0"/><path stroke="#58348b" d="M1510 1858h0m-3-9h0m-5 13h0"/><path stroke="#4e2382" d="M1585 1930h0"/><path stroke="#44137a" d="M1529 1857h0m-33 13h0m181 154h0"/></g><rect x="706.5" y="896.7" width="243.6" height="226.6" fill="none" stroke="#3a3a3a" stroke-width="1.3"/><rect x="952.5" y="896.7" width="7.6" height="226.6" fill="url(#gP)" stroke="#3a3a3a" stroke-width="1"/><text x="967.1" y="931.9" font-size="15.5">5</text><text x="967.1" y="968.8" font-size="15.5">4</text><text x="967.1" y="1005" font-size="15.5">3</text><text x="967.1" y="1041.8" font-size="15.5">2</text><text x="967.1" y="1078" font-size="15.5">1</text><text x="967.1" y="1113.8" font-size="15.5">0</text><path d="M960.1 926.1h4M960.1 963h4M960.1 999.2h4M960.1 1036h4M960.1 1072.2h4M960.1 1108h4" stroke="#222" stroke-width="1"/><text x="828.3" y="889.8" font-size="15" text-anchor="middle">TRH</text><text x="828.3" y="1139.7" font-size="15" text-anchor="middle">UMAP1</text><text transform="translate(698.3 1010) rotate(-90)" text-anchor="middle" font-size="15">UMAP2</text><use href="#cA" transform="translate(1029.4 896.7) scale(.5)" fill="none" stroke="#f8f7fb" stroke-width="6.6" stroke-linecap="round"/><g transform="scale(.5)" fill="none" stroke-width="6.6" stroke-linecap="round"><path stroke="#eae8f1" d="M2314 1946h0"/><path stroke="#e1e1ed" d="M2178 1931h0m121 31h0m-40-2h0"/><path stroke="#d7d7e8" d="M2223 1888h0m-23 150h0m265-6h0"/><path stroke="#cbcce1" d="M2183 1882h0m-3 68h0"/><path stroke="#bebfda" d="M2155 1842h0m167 34h0m-93 40h0m-89 21h0m67-2h0m51 98h0"/><path stroke="#b2b1d1" d="M2157 1838h0m9-3h0m17 106h0m27 4h0m143 106h0"/><path stroke="#a4a2c8" d="M2186 1860h0m-30 8h0m78 47h0m-23-19h0m-38 6h0m-20 17h0m16 35h0m76 67h0m176 36h0"/><path stroke="#9895c0" d="M2199 1864h0m-30 1h0m70 10h0m61 25h0m-121 8h0m60 51h0m-37 0h0m8 10h0m69 36h0"/><path stroke="#8b88b9" d="M2177 1838h0m222 22h0m-207 8h0m-35-18h0m58 60h0m-114 18h0m175 43h0"/><path stroke="#7f7cb2" d="M2308 1845h0m-47 17h0m-78 2h0m-27-6h0m4 28h0m9-3h0m-14 60h0m93 3h0m-23 47h0m264 51h0"/><path stroke="#7569a8" d="M2158 1853h0m0 19h0m17 3h0m91 23h0m-6 21h0m-99-7h0m-15 38h0m-53 9h0m62 26h0m9 11h0m173 112h0"/><path stroke="#6b579e" d="M2164 1866h0m0-14h0m-54 65h0m78 10h0m20-4h0m20 14h0m48 23h0"/><path stroke="#614594" d="M2305 1853h0m-123 6h0m-68 35h0m169 12h0m-75 35h0m19-9h0m-55 12h0m5 40h0m268 87h0"/><path stroke="#58348b" d="M2152 1845h0m20-8h0m100 96h0m19 7h0m-98 14h0m-28-8h0"/><path stroke="#4e2382" d="M2175 1857h0m-27 5h0m139 15h0m4 7h0m-65 17h0m28 22h0m14 83h0"/><path stroke="#44137a" d="M2254 1897h0m-78 66h0"/><path stroke="#3b0472" d="M2158 1968h0"/></g><rect x="1029.4" y="896.7" width="243.6" height="226.6" fill="none" stroke="#3a3a3a" stroke-width="1.3"/><rect x="1275.4" y="896.7" width="7.6" height="226.6" fill="url(#gP)" stroke="#3a3a3a" stroke-width="1"/><text x="1290" y="946.6" font-size="15.5">8</text><text x="1290" y="992" font-size="15.5">6</text><text x="1290" y="1036.3" font-size="15.5">4</text><text x="1290" y="1080.6" font-size="15.5">2</text><text x="1290" y="1126" font-size="15.5">0</text><path d="M1283 940.8h4M1283 986.2h4M1283 1030.5h4M1283 1074.8h4M1283 1120.2h4" stroke="#222" stroke-width="1"/><text x="1151.2" y="889.8" font-size="15" text-anchor="middle">LHX8</text><text x="1151.2" y="1139.7" font-size="15" text-anchor="middle">UMAP1</text><text transform="translate(1021.2 1010) rotate(-90)" text-anchor="middle" font-size="15">UMAP2</text><use href="#cA" transform="translate(60.7 1179.9) scale(.5)" fill="none" stroke="#f8f7fb" stroke-width="6.6" stroke-linecap="round"/><g transform="scale(.5)" fill="none" stroke-width="6.6" stroke-linecap="round"><path stroke="#f1f0f6" d="M339 2396h0m-11-5h0m-89 18h0m14-9h0m41 7h0m151 36h0m-21-3h0m-33-8h0m-124 5h0m-16 8h0m-45-21h0m37 30h0m18 1h0m17 3h0m30 2h0m3-6h0m15 5h0m64 11h0m14-17h0m24 5h0m17 7h0m-153 17h0m-130 24h0m10 9h0m62-5h0m9 7h0m48-14h0m113 15h0m17 0h0m12-8h0m91 13h0m-5 17h0m-10-11h0m-30 6h0m-42-15h0m-40 18h0m-48-9h0m-30 8h0m-46-2h0m-100-3h0m-17-2h0m61 28h0m19-6h0m10 9h0m48-11h0m96 10h0m61-12h0m36 15h0m27-12h0m-90 37h0m-132-10h0m-17-9h0m-3 2h0m-22 19h0m-53-20h0m-4 11h0m95 27h0m134 5h0m12-18h0m1 19h0m4-2h0m53-20h0m41 9h0m-45 21h0m-37 10h0m-7-11h0m-79 5h0m-16-4h0m-40-6h0m-1 8h0m-20-2h0m-4 11h0m-61-8h0m349 24h0m-97 27h0m-100 7h0m-22 4h0m-36-15h0m40 22h0"/><path stroke="#eae8f1" d="M291 2402h0m128 38h0m-50-5h0m-5-9h0m-129 0h0m-22 12h0m111 16h0m143-6h0m10 42h0m-38-15h0m-78 8h0m-66-11h0m-39 16h0m-6 5h0m-14 2h0m-79-9h0m-12-2h0m42 32h0m60-20h0m51 14h0m149 0h0m65 30h0m-67-17h0m-168 9h0m-26 33h0m5 0h0m202-13h0m27-3h0m8-5h0m-9 36h0m-16 11h0m-114-8h0m-56-8h0m-69 11h0m-43-3h0m139 24h0m14 7h0m205 24h0m-100-11h0m-57 1h0m-52 5h0m-59-7h0m-13-6h0m79 42h0m27-12h0m29 2h0m46-6h0m31 9h0m-79 30h0m-2-19h0m-36-1h0m-9 20h0m-24-5h0m-4-15h0m145 44h0m81 13h0"/><path stroke="#e1e1ed" d="M223 2415h0m22-13h0m14 20h0m52-2h0m48 3h0m31-9h0m56 9h0m21 16h0m-2-6h0m-67 11h0m-45-5h0m-56 2h0m-16-11h0m-14 16h0m-19-20h0m-22 6h0m-66 31h0m8-1h0m65-3h0m18-4h0m30 6h0m22 0h0m32-11h0m164 12h0m5 15h0m-28 1h0m-30 10h0m-53-5h0m-8-3h0m-47-2h0m-29 14h0m-5-2h0m-8-8h0m-68 3h0m-10 24h0m14-12h0m46 21h0m21-15h0m7 3h0m47 1h0m34 5h0m122-9h0m-30 27h0m-11 3h0m-24 1h0m-123-7h0m-13 15h0m-25-11h0m-95 3h0m-28 5h0m22 12h0m30-2h0m30-4h0m67 1h0m37 6h0m14 6h0m8 7h0m12-3h0m18-8h0m2-7h0m70 32h0m-31-10h0m-126-1h0m-15 15h0m-5 6h0m0-20h0m-49 18h0m-17-6h0m-7 0h0m-11 10h0m-30-11h0m37 18h0m28 2h0m3 5h0m5-10h0m20 10h0m11 9h0m2-22h0m50 15h0m1-13h0m124 38h0m-115-6h0m-91-5h0m-6 8h0m61 27h0m49-6h0m39-2h0m38-6h0m6-1h0m19 7h0m-80 27h0m-48 8h0m-25-3h0m244 23h0"/><path stroke="#d7d7e8" d="M318 2390h0m-18-3h0m-5 3h0m-11 9h0m-69 12h0m46-10h0m25 21h0m2-6h0m19 4h0m27-9h0m3 6h0m79-13h0m-2 34h0m-40 6h0m-63-1h0m-9 2h0m-1-18h0m-12-2h0m-45 0h0m-25-1h0m-7 20h0m-40 11h0m20-2h0m54 15h0m12 2h0m5-22h0m23 6h0m22-1h0m61-5h0m15 9h0m63 1h0m5 1h0m9 3h0m19 6h0m-10 8h0m-8-4h0m-60 20h0m-3-13h0m-1 8h0m-33-4h0m-1-7h0m-9 3h0m-55-2h0m-80-2h0m-1 16h0m-73 10h0m101 11h0m12 4h0m22-11h0m26-7h0m28 12h0m13-10h0m6 14h0m13-13h0m13 10h0m32-2h0m42 3h0m16-9h0m33 16h0m25-7h0m-2 19h0m-30 3h0m-4-5h0m-25 11h0m0-11h0m-36 1h0m-24-6h0m-16-4h0m-8 19h0m-13-17h0m-76 5h0m-63 12h0m-10-16h0m-12 6h0m-1 9h0m-4 4h0m-11-18h0m-35 11h0m18 11h0m14 21h0m25-2h0m13 2h0m4-22h0m40-1h0m35 19h0m16-16h0m1 5h0m47-6h0m4-2h0m16 6h0m88-1h0m8-4h0m9 22h0m-26 18h0m-40-4h0m-11-12h0m-34 7h0m-23-5h0m-9 7h0m-6 7h0m-90-13h0m-58 24h0m41 12h0m2-13h0m23 3h0m56 10h0m7 1h0m2 5h0m121-6h0m70-5h0m20 25h0m-24 10h0m-19-1h0m-83-13h0m-12-3h0m-10 15h0m-44 1h0m-15-19h0m-4 7h0m-3-7h0m-13 11h0m-36-10h0m-7-3h0m-2 16h0m10 21h0m6-3h0m12 6h0m4 3h0m35-3h0m54-3h0m0-11h0m69 2h0m26 4h0m52-6h0m41 29h0m-83-7h0m-41 8h0m-9-5h0m-20 17h0m-40-19h0m-37 2h0m-17 12h0m-3-15h0m85 43h0m20-11h0m20-3h0m19-4h0m89 0h0m-33 43h0m4 25h0m12 7h0m-26 17h0"/><path stroke="#cbcce1" d="M304 2381h0m-39 21h0m2 10h0m13-8h0m37 3h0m50 12h0m37-4h0m33-2h0m2 9h0m22 4h0m-43 19h0m-11-15h0m-1 10h0m-22-12h0m-3-3h0m-32 18h0m-2-2h0m-6-4h0m0 8h0m-11-15h0m-4 13h0m-24-2h0m-65-10h0m-85 38h0m19-5h0m51-11h0m6 9h0m108 3h0m53-2h0m17-3h0m25-1h0m29 9h0m39-10h0m12 13h0m-4 19h0m-58-16h0m-24 7h0m-16-8h0m-13 3h0m-39 7h0m-3 10h0m-18 0h0m-19-3h0m-29-5h0m-9-12h0m-17 2h0m-46-3h0m-13 13h0m-6-5h0m-6 15h0m-22-8h0m72 10h0m80 6h0m14-3h0m19 10h0m13-13h0m6 6h0m13-4h0m36 15h0m38-2h0m18-10h0m37-1h0m6 27h0m-41-7h0m-77 17h0m-2-12h0m-2 6h0m-6 7h0m-54-2h0m-9 0h0m-12-15h0m-6 1h0m0 14h0m-13 5h0m-25-21h0m-30 8h0m-6 0h0m-21 4h0m-45-12h0m-4 9h0m-4 1h0m-4 1h0m10 12h0m4 9h0m27-4h0m83 3h0m2-7h0m28-1h0m4 2h0m1 12h0m20 7h0m9-4h0m48 0h0m28-4h0m19 5h0m7 3h0m6 1h0m16-3h0m71 19h0m-45-9h0m-80 17h0m-12-22h0m-13 17h0m-8 5h0m-6-18h0m-3 1h0m-34-2h0m-8 17h0m-21 1h0m-18-16h0m-29-1h0m-7 9h0m-9 3h0m-7 7h0m-19-6h0m-22-10h0m-12 16h0m3 5h0m30-2h0m26 18h0m9-7h0m5 0h0m13 6h0m35-2h0m33 2h0m15-8h0m2-5h0m21 6h0m33-7h0m34-3h0m19 11h0m45 4h0m24-14h0m28 37h0m-120 0h0m-4 3h0m-29-16h0m-37 19h0m-2-11h0m-12-4h0m-43 5h0m-94 6h0m-12-17h0m77 23h0m15 13h0m15-1h0m5 2h0m3-9h0m9 5h0m26-1h0m59 2h0m16 12h0m63-1h0m33 0h0m41 9h0m-8-3h0m-49-4h0m-45 21h0m-32-9h0m-20-7h0m-32 18h0m-20-8h0m-8 2h0m-25-9h0m-35 4h0m54 16h0m22-1h0m44 12h0m120-10h0m1 18h0m29-17h0m-35 57h0m-9 26h0"/><path stroke="#bebfda" d="M391 2395h0m-80-1h0m-17 2h0m-5-4h0m-72 16h0m3 8h0m43 1h0m26-7h0m86 6h0m5-6h0m6 0h0m19-1h0m0-7h0m13 6h0m21 20h0m-5 6h0m-58 1h0m-12 5h0m-4 3h0m-15-9h0m-18-9h0m-17 8h0m-3 9h0m-16-13h0m-22-2h0m-22 12h0m-9 3h0m-83 23h0m4-6h0m16 9h0m8-11h0m29 11h0m20-18h0m86 7h0m21 5h0m10-10h0m4 7h0m2 9h0m39-2h0m48 2h0m48-16h0m-22 41h0m-25-11h0m-19 8h0m-4-14h0m-31 16h0m-9-9h0m-13 3h0m-70 3h0m-89 5h0m-8-11h0m-6 4h0m-11-5h0m-5 0h0m0 9h0m-30 3h0m29 25h0m27-1h0m6-12h0m17 0h0m91-5h0m7-2h0m2 14h0m15-6h0m115 9h0m63-14h0m7 15h0m-23 6h0m-52 11h0m-4 1h0m-2-15h0m-59 17h0m-21-6h0m-24 3h0m-38 4h0m-17-9h0m-45 9h0m-4 4h0m-19-15h0m-6 6h0m-11 1h0m-33-11h0m-5-1h0m2 29h0m14 6h0m25-8h0m22-3h0m13 4h0m18 9h0m34-15h0m34 14h0m2-10h0m2 13h0m20-16h0m10 22h0m14-19h0m32 3h0m7 8h0m3-13h0m24 4h0m29-2h0m24 1h0m18 7h0m-38 12h0m-22 22h0m-2-20h0m-41 20h0m-7-8h0m-64-9h0m-11-2h0m-25 19h0m-27 1h0m-5-15h0m-38 30h0m29-7h0m8 12h0m1-12h0m23 3h0m4 3h0m3-4h0m1-7h0m73-2h0m5 4h0m2 5h0m22 5h0m54-1h0m11 9h0m61-16h0m29 14h0m-33 26h0m-126 1h0m-23-7h0m-24-4h0m-7-12h0m-23 10h0m-17 6h0m-13 4h0m-2-9h0m-23 26h0m17 2h0m11 7h0m8-20h0m5 21h0m6-7h0m4-7h0m1 12h0m6-2h0m34-13h0m19 0h0m38 4h0m8-4h0m21 4h0m78-6h0m15 9h0m-55 24h0m-33-12h0m-2 9h0m-33 2h0m-15-1h0m-7-1h0m-9 3h0m-1 10h0m-10-9h0m-31 1h0m-3-3h0m-22 0h0m28 17h0m28 6h0m49 0h0m11-11h0m28 10h0m102 34h0m-30-20h0m13 46h0m-5 2h0"/><path stroke="#b2b1d1" d="M358 2396h0m-20-8h0m-20 11h0m-31-16h0m-24 11h0m-35 8h0m6 2h0m3 19h0m65-19h0m21-4h0m10 0h0m117 18h0m-55 16h0m-78-10h0m-23 14h0m-11 9h0m-52-16h0m-26 11h0m-29 18h0m3-3h0m12 13h0m6-10h0m7 7h0m10-16h0m21 18h0m24-17h0m10-2h0m20 18h0m8-2h0m7 5h0m11-19h0m13 12h0m14-13h0m12 0h0m8 15h0m2-7h0m12-2h0m16-1h0m21-2h0m4-5h0m14 19h0m3-17h0m33 6h0m13 18h0m-17 10h0m-17 7h0m-14-15h0m-30 0h0m-13 11h0m-21-10h0m-22-6h0m-2 18h0m-25-9h0m-29-9h0m-3 18h0m-9-13h0m-9 4h0m-12 1h0m-15 10h0m-11-17h0m-17 5h0m-7-8h0m-29 2h0m-8 4h0m-24 39h0m8-4h0m25-9h0m17 15h0m6-10h0m0-5h0m7 13h0m22-15h0m7 7h0m17 1h0m9-8h0m6-1h0m40 5h0m11 5h0m10 6h0m27-1h0m53-11h0m13 5h0m2 5h0m0 4h0m23-23h0m8 9h0m15-5h0m32 30h0m-15-9h0m-18 15h0m-15-9h0m-6-6h0m-26 20h0m-30-5h0m-11-14h0m-7 5h0m-14 2h0m-47 2h0m-3-2h0m-14-2h0m-34-2h0m-4-2h0m-8 13h0m-29 6h0m-24-14h0m-13-5h0m-20 34h0m25-1h0m11-3h0m28 5h0m15 9h0m29-11h0m39-9h0m20 1h0m10-4h0m24 13h0m8 1h0m12 0h0m41-14h0m30 13h0m23 7h0m64 3h0m-15 2h0m-67 21h0m-50-1h0m-17-9h0m-16 10h0m-9-22h0m-21 2h0m-2 9h0m-10 2h0m-17-3h0m-26 4h0m-9-8h0m-6 3h0m-17 10h0m-29-4h0m-1 7h0m-10-1h0m-18-8h0m10 26h0m33-14h0m8 8h0m13-9h0m37 9h0m53 8h0m47-6h0m9 10h0m20-11h0m7-8h0m10 9h0m29 1h0m58-4h0m10 20h0m-6-3h0m-35 15h0m-25-9h0m-54-5h0m-3 6h0m-17-8h0m-10 13h0m-18 1h0m-14-14h0m-10 17h0m-13 6h0m-48 0h0m-5-7h0m-6-14h0m-13 7h0m-30-4h0m-15 16h0m-11-2h0m22 11h0m40 12h0m11-9h0m1 6h0m11-7h0m4 9h0m6-14h0m9-3h0m30 20h0m19-5h0m0-9h0m6 4h0m18 5h0m89-3h0m5-10h0m52 43h0m-18-11h0m-67-10h0m-62 21h0m-11-14h0m-30 4h0m-26 11h0m-11-20h0m36 30h0m27 8h0m136 4h0m23-1h0m12-13h0m3 14h0m2-15h0m10 13h0m19-12h0m-11 27h0m-160-4h0m118 55h0m-9 13h0"/><path stroke="#a4a2c8" d="M374 2392h0m-49-9h0m-10 14h0m-3-8h0m-33 5h0m40 20h0m26-8h0m53 7h0m3 8h0m49 2h0m-26 10h0m-16 13h0m-30-4h0m0 4h0m-25-13h0m-16 0h0m-14-5h0m-81 7h0m-38 2h0m-16 13h0m12 6h0m20 0h0m10 10h0m16-18h0m7 20h0m21-18h0m48 18h0m27-20h0m72 23h0m16-11h0m12-7h0m48 25h0m-7 3h0m-30 12h0m-69-14h0m-137 12h0m-29-7h0m-33-2h0m-3-6h0m-26 18h0m-2-12h0m-14-5h0m5 41h0m9-16h0m25-2h0m2 6h0m28-7h0m2-3h0m44 12h0m8-1h0m32-1h0m11 12h0m13-9h0m48-11h0m26 1h0m27-1h0m6 7h0m7 0h0m35-9h0m19 2h0m21 33h0m-9 12h0m-44-18h0m-9 12h0m-39-10h0m-35 10h0m-43-3h0m-8-14h0m-31 18h0m-8 2h0m-58-13h0m-2 8h0m-2-3h0m-46-8h0m-12 14h0m-13 1h0m32 11h0m4 13h0m48-2h0m8-6h0m30 8h0m28-13h0m5 9h0m57 2h0m13-4h0m21 5h0m22-11h0m9 2h0m20 10h0m11 14h0m-10 11h0m-49-6h0m-5 7h0m-16-8h0m-12-10h0m-16-3h0m-40 18h0m-86-13h0m9 30h0m3 8h0m11 2h0m139 1h0m36-21h0m30 21h0m25-14h0m13-7h0m17 22h0m11-14h0m28 35h0m-243 3h0m-12-8h0m-32 4h0m-15-17h0m-17 18h0m-1 12h0m25 5h0m2-13h0m3 16h0m4 1h0m15-17h0m4 4h0m10 1h0m10 1h0m77 17h0m96-23h0m39 14h0m12 2h0m24 31h0m-60-7h0m-8-7h0m-43 12h0m-34-9h0m-8-7h0m-4 4h0m-22 2h0m-35 8h0m-36-14h0m122 22h0m30-1h0m102 4h0m6 4h0m15-4h0m-23 31h0m-38-9h0m5 28h0m26 16h0"/><path stroke="#9895c0" d="M325 2387h0m-19 7h0m-13-8h0m28 23h0m19 13h0m2-20h0m19 6h0m6 8h0m-25 9h0m-13 12h0m-17-8h0m-112 12h0m-44 29h0m26-17h0m59 7h0m5 4h0m47 1h0m54 1h0m11-6h0m22-4h0m80 2h0m-6 14h0m-3 10h0m-3-2h0m-9 1h0m-116 4h0m-29 7h0m-42-9h0m-2 3h0m-34 0h0m-18-11h0m-16 1h0m-16 15h0m29 18h0m11-10h0m3 1h0m13 15h0m4-17h0m19 10h0m164 9h0m9-5h0m62-3h0m3 23h0m-79 10h0m-25-16h0m-58 15h0m-43-17h0m-66 3h0m-9-3h0m19 42h0m41 0h0m46-11h0m56-4h0m14 15h0m39-6h0m9 2h0m86 7h0m-122 10h0m-14 1h0m-12-3h0m-57 10h0m-63-7h0m-57 7h0m14 10h0m17 7h0m16 1h0m110-8h0m26-1h0m40 12h0m5-14h0m28 16h0m54-4h0m-32 28h0m-2-17h0m-102 2h0m-6 1h0m-3 16h0m-73-1h0m-15 4h0m-11-10h0m-8-4h0m-24 20h0m55-3h0m78 10h0m2 6h0m13 4h0m25-3h0m16-18h0m54 18h0m11 0h0m51-7h0m-12 25h0m-7 0h0m-29 10h0m-120-11h0m-15-10h0m79 41h0m4-1h0m145-15h0m-56 36h0m18 44h0"/><path stroke="#8b88b9" d="M354 2392h0m-134 12h0m135 12h0m-44 10h0m-56 8h0m80 20h0m94 0h0m27 31h0m-58 6h0m-10-16h0m-16 19h0m-16-5h0m-3-2h0m-7-1h0m-31-14h0m-45 4h0m-72 38h0m22-9h0m140-6h0m9 6h0m80-3h0m46 8h0m-42 33h0m-105-20h0m-10 3h0m-80 15h0m-59-2h0m-24 1h0m-21-6h0m53 31h0m66-3h0m41-7h0m120 4h0m22-12h0m65-3h0m27 32h0m-129 2h0m-163-1h0m-27 35h0m74-7h0m14 10h0m100-12h0m3 2h0m146 16h0m-186 18h0m-77-18h0m-28 11h0m0-10h0m-35 3h0m-21 4h0m35 16h0m7 7h0m20 8h0m61-5h0m92-3h0m119 28h0m-85 14h0m36 4h0m31 48h0"/><path stroke="#7f7cb2" d="M266 2407h0m164 2h0m-7 36h0m-201 24h0m18-19h0m8 1h0m11 13h0m176 11h0m-24 17h0m-105-18h0m-120-2h0m-34 26h0m10 14h0m13-10h0m13-5h0m4 6h0m151-1h0m170 6h0m-52 53h0m16-5h0m1 20h0m-83-3h0m-137 36h0m70 30h0m-95 3h0m15 0h0m84 12h0m107 42h0m119 51h0"/><path stroke="#7569a8" d="M280 2398h0m68 11h0m73 4h0m62 34h0m-153 0h0m-140 10h0m323 25h0m-106 21h0m-242 42h0m22 0h0m140-1h0m-74 90h0m-8 21h0m10 1h0m16-12h0m149 18h0"/><path stroke="#6b579e" d="M196 2467h0m-41 38h0m12 5h0m12 1h0m2-15h0m84 135h0m-13 23h0"/><path stroke="#614594" d="M218 2434h0m74 178h0"/><path stroke="#58348b" d="M235 2652h0"/></g><rect x="60.7" y="1179.9" width="243.6" height="226.6" fill="none" stroke="#3a3a3a" stroke-width="1.3"/><rect x="306.7" y="1179.9" width="7.6" height="226.6" fill="url(#gP)" stroke="#3a3a3a" stroke-width="1"/><text x="321.3" y="1193.3" font-size="15.5">4</text><text x="321.3" y="1240.8" font-size="15.5">3</text><text x="321.3" y="1286.2" font-size="15.5">2</text><text x="321.3" y="1331.5" font-size="15.5">1</text><text x="321.3" y="1377.2" font-size="15.5">0</text><path d="M314.3 1187.5h4M314.3 1235h4M314.3 1280.4h4M314.3 1325.7h4M314.3 1371.4h4" stroke="#222" stroke-width="1"/><text x="182.5" y="1173" font-size="15" text-anchor="middle">NXPH1</text><text x="182.5" y="1422.9" font-size="15" text-anchor="middle">UMAP1</text><text transform="translate(52.5 1293.2) rotate(-90)" text-anchor="middle" font-size="15">UMAP2</text><use href="#cA" transform="translate(383.6 1179.9) scale(.5)" fill="none" stroke="#f8f7fb" stroke-width="6.6" stroke-linecap="round"/><g transform="scale(.5)" fill="none" stroke-width="6.6" stroke-linecap="round"><path stroke="#f1f0f6" d="M975 2402h0m-166 92h0m91 95h0m117 7h0m26 56h0m33-6h0m87 70h0"/><path stroke="#eae8f1" d="M833 2516h0m64 49h0m235-20h0m-130 23h0m-179 0h0m104 51h0m-26 37h0m173-16h0m18 22h0m54 42h0"/><path stroke="#e1e1ed" d="M1026 2425h0m-153 87h0m46 0h0m-5 99h0m204-15h0m39 31h0m-88 9h0m-2 15h0m8 52h0m66-12h0"/><path stroke="#d7d7e8" d="M881 2426h0m245 57h0m-245 3h0m-78 0h0m269 12h0m53 11h0m1 7h0m-156 20h0m-145-8h0m65 20h0m243 15h0m27-12h0m-95 18h0m-203 10h0m96 22h0m169 14h0m-9 11h0m-24-10h0m-127 10h0m-43 5h0m-31-2h0m12 11h0m231 39h0m-65 12h0m117 50h0"/><path stroke="#cbcce1" d="M956 2433h0m-107 34h0m217 9h0m-239 20h0m46 10h0m70 4h0m29-1h0m178 14h0m-5-1h0m-279 13h0m-17-11h0m-43 8h0m318 37h0m-252 46h0m214-14h0m11 2h0m82 29h0m-27-16h0m-18 6h0m-49-6h0m-5 17h0m-13-7h0m-32 11h0m-2-9h0m-4 9h0m-10-10h0m-108 8h0m-21-16h0m-12 29h0m46 10h0m24-16h0m18-2h0m61 5h0m79 3h0m22 4h0m47 4h0m-83 18h0m-20-8h0m-66 15h0m-20-2h0m-27 0h0m223 76h0"/><path stroke="#bebfda" d="M913 2396h0m2 22h0m134-3h0m-160 24h0m177 14h0m-189 22h0m-31 15h0m-6-3h0m-3 8h0m-13-13h0m-17 30h0m18-1h0m232-6h0m76 11h0m8 23h0m-28 1h0m-23-6h0m-277-4h0m-4 5h0m19 16h0m6-1h0m7-6h0m6 5h0m112-2h0m26 18h0m155-12h0m-24 26h0m-3-7h0m-13 16h0m-46 2h0m-104-13h0m30 35h0m108-18h0m1 4h0m27 14h0m-108 22h0m-11-6h0m-8 11h0m-43-11h0m-5-2h0m-42-5h0m32 23h0m4 11h0m65-3h0m15 10h0m34-9h0m3-4h0m121 3h0m-10 12h0m-97 21h0m-66-13h0m197 54h0m-41 4h0"/><path stroke="#b2b1d1" d="M950 2381h0m-87 27h0m34 37h0m30 8h0m230 39h0m-259-9h0m-32-8h0m-67 38h0m26-9h0m19 10h0m11 3h0m219-8h0m23 1h0m41 19h0m-111 1h0m-2-4h0m-188 2h0m-23 10h0m59 8h0m12 4h0m155 2h0m65 30h0m-154 8h0m-134-19h0m258 38h0m6 5h0m48-14h0m45-2h0m32 23h0m-62 2h0m-26 14h0m-32-2h0m-7 1h0m-66-20h0m-112 20h0m-31-2h0m11 18h0m30 1h0m52-4h0m44 4h0m16-7h0m42 16h0m97-13h0m-31 24h0m-26-8h0m-10 0h0m-61 22h0m-6 0h0m-38-21h0m-6 17h0m19 11h0m1-4h0m8 8h0m85 0h0m68 5h0"/><path stroke="#a4a2c8" d="M941 2390h0m2 20h0m73 2h0m-215 53h0m202-5h0m68 21h0m-143-4h0m-116 14h0m-19-14h0m-1 24h0m20 9h0m30-12h0m8 20h0m33-16h0m269 41h0m-259-23h0m-75 1h0m15 24h0m268 2h0m71 10h0m-100 14h0m-2 17h0m32 17h0m-58 34h0m-36-20h0m-77-1h0m-63 24h0m59-2h0m19 19h0m1-11h0m13-2h0m48 3h0m31 6h0m25 2h0m56 19h0m-34 0h0m-4-8h0m-44 6h0m-12 1h0m-37 1h0m-26-4h0m-25 0h0m51 21h0m62 10h0m48-10h0m19-4h0m46 2h0m8 36h0"/><path stroke="#9895c0" d="M974 2391h0m-66 16h0m37-7h0m140 22h0m-165 10h0m-92 21h0m71 15h0m1-14h0m220 29h0m-116-10h0m-102 15h0m-30-13h0m-2 19h0m-8-22h0m-43 11h0m-4 4h0m-8 15h0m11 13h0m3-13h0m43 7h0m8-11h0m5-1h0m225 8h0m-236 18h0m-46 30h0m10 8h0m184 4h0m111-16h0m-15 28h0m-11 6h0m-128-1h0m103 20h0m32 3h0m29 10h0m-78 15h0m-2 4h0m-29 5h0m-24-6h0m-12-17h0m-16 23h0m-37-3h0m-37 9h0m7 11h0m0-4h0m2-7h0m7-1h0m38 12h0m16 3h0m18 3h0m27-12h0m20-8h0m20 2h0m28 19h0m17 9h0m-14-6h0m-1 4h0m-64-1h0m-3 9h0m-24-11h0m-16 16h0m-4-19h0m-3 16h0m-14-11h0m122 27h0m94 57h0m2-9h0"/><path stroke="#8b88b9" d="M822 2460h0m2-6h0m1 3h0m128-4h0m52 15h0m87 24h0m-292 3h0m8 11h0m26-9h0m14 12h0m0-5h0m7-4h0m29 9h0m271 20h0m-126-7h0m-208 5h0m149 25h0m132 14h0m37-17h0m-228 49h0m56 17h0m130-7h0m2 7h0m30 8h0m-31 14h0m-87-11h0m-24 8h0m-6-1h0m-39 6h0m-82-7h0m27 19h0m11 3h0m4-1h0m25 7h0m24-14h0m6-3h0m25 20h0m39-13h0m54 1h0m5 8h0m15-13h0m38 21h0m-86 11h0m-12 4h0m-8-11h0m-29 16h0m-50-18h0m80 30h0m18-5h0m42 6h0"/><path stroke="#7f7cb2" d="M984 2392h0m-127 76h0m82-3h0m174-17h0m-145 46h0m-136-22h0m293 70h0m-22-3h0m-1-12h0m-119 15h0m-128-13h0m259 62h0m-5-1h0m-228 15h0m41-7h0m173-4h0m-20 35h0m-118-5h0m-4 0h0m-5 11h0m-18-7h0m-8-2h0m-40 15h0m45 6h0m14-2h0m36 9h0m0-7h0m26 11h0m8 2h0m5-18h0m41-1h0m90 13h0m16 0h0m-22 10h0m-88 12h0m-73-4h0m38 27h0m33-4h0m54-3h0"/><path stroke="#7569a8" d="M995 2443h0m-114 26h0m241-17h0m-53 38h0m-40-1h0m-159-5h0m-10-4h0m-17-5h0m264 43h0m34-8h0m-302 14h0m-30 7h0m324 40h0m-149 10h0m-136-6h0m136 39h0m49-3h0m115 14h0m-42 7h0m-7-3h0m-178 3h0m14 17h0m24 7h0m5 5h0m18-11h0m33-4h0m54 0h0m21 4h0m64 27h0m-95-1h0m-50-1h0m-42-10h0"/><path stroke="#6b579e" d="M818 2455h0m25 25h0m-15-4h0m187 29h0m73-6h0m43 25h0m-278 14h0m35 73h0m133 21h0m-78 24h0m11-6h0m22 9h0m85-9h0m118 2h0m-148 13h0m-3 12h0m-17-12h0m-49 11h0m-2-10h0"/><path stroke="#614594" d="M831 2500h0m286 24h0m-191 18h0m-82-14h0m202 108h0m-52-14h0m-106 20h0m65 21h0m12-11h0m68 44h0"/><path stroke="#58348b" d="M1137 2584h0m-214 58h0m120 6h0"/><path stroke="#4e2382" d="M813 2462h0m263 119h0"/></g><rect x="383.6" y="1179.9" width="243.6" height="226.6" fill="none" stroke="#3a3a3a" stroke-width="1.3"/><rect x="629.6" y="1179.9" width="7.6" height="226.6" fill="url(#gP)" stroke="#3a3a3a" stroke-width="1"/><text x="644.2" y="1188.1" font-size="15.5">5</text><text x="644.2" y="1229.4" font-size="15.5">4</text><text x="644.2" y="1270.7" font-size="15.5">3</text><text x="644.2" y="1312" font-size="15.5">2</text><text x="644.2" y="1353.3" font-size="15.5">1</text><text x="644.2" y="1394.6" font-size="15.5">0</text><path d="M637.2 1182.3h4M637.2 1223.6h4M637.2 1264.9h4M637.2 1306.2h4M637.2 1347.5h4M637.2 1388.8h4" stroke="#222" stroke-width="1"/><text x="505.4" y="1173" font-size="15" text-anchor="middle">RBP4</text><text x="505.4" y="1422.9" font-size="15" text-anchor="middle">UMAP1</text><text transform="translate(375.4 1293.2) rotate(-90)" text-anchor="middle" font-size="15">UMAP2</text><use href="#cA" transform="translate(706.5 1179.9) scale(.5)" fill="none" stroke="#f8f7fb" stroke-width="6.6" stroke-linecap="round"/><g transform="scale(.5)" fill="none" stroke-width="6.6" stroke-linecap="round"><path stroke="#f1f0f6" d="M1550 2422h0m21-18h0m155 17h0m-20 17h0m-80 16h0m97 5h0m30 13h0m-147 0h0m-129 28h0m60 8h0m206 2h0m27-8h0m25 37h0m-18-15h0m-251 7h0m48 36h0m173-20h0m-198 43h0m-30 0h0m150 6h0m39-2h0m72 17h0m-101 17h0m-87 0h0m184 20h0m54 11h0m-99 7h0m-67 12h0m24 19h0m111 4h0"/><path stroke="#eae8f1" d="M1545 2400h0m35 16h0m67 26h0m-6 1h0m-189 20h0m85-15h0m261 16h0m-355 34h0m179 19h0m43-14h0m52 16h0m83-6h0m-45 20h0m-56-9h0m-169 18h0m117 6h0m-21 30h0m-148 5h0m113 18h0m40 7h0m89-6h0m53 2h0m40-1h0m-109 67h0m-5 6h0"/><path stroke="#e1e1ed" d="M1560 2423h0m214 24h0m-12-14h0m-123-8h0m-147 16h0m100 10h0m23 3h0m23 12h0m75 1h0m18 8h0m-139-2h0m-30 3h0m-20 17h0m-14 2h0m-47-19h0m15 42h0m47-16h0m278 38h0m0-11h0m-86 5h0m-49 2h0m-206 14h0m98-5h0m7 18h0m141-4h0m-28 9h0m-177 5h0m-43 4h0m56 34h0m93-17h0m147 6h0m14-7h0m2 30h0m-95-2h0m-151 13h0m145 14h0m39 20h0m-68 11h0m-44 1h0m33 10h0m153 40h0"/><path stroke="#d7d7e8" d="M1607 2397h0m-29-14h0m-67 21h0m42 10h0m102 26h0m-46-16h0m-46 13h0m-89 16h0m15 7h0m6-12h0m34 6h0m116-3h0m142 13h0m14 11h0m-35 8h0m-11 2h0m-174-13h0m-118 20h0m135 14h0m125 9h0m88-13h0m1 26h0m-41 7h0m-22-12h0m-66-3h0m-32 15h0m-38 6h0m-74-21h0m-76 1h0m51 37h0m10 6h0m0-19h0m59-1h0m103 0h0m66 17h0m24-12h0m-83 33h0m-11-3h0m-34-11h0m-50 33h0m54-3h0m54-1h0m141 11h0m-67 14h0m-53 2h0m-134 11h0m-4-4h0m-46 23h0m183-2h0m64-3h0m5-2h0m71 24h0m-193-4h0m-92 0h0m134 40h0m81-9h0m-99 18h0"/><path stroke="#cbcce1" d="M1604 2389h0m-8-8h0m-67 19h0m24 1h0m46 0h0m23 10h0m23 8h0m3-9h0m3 9h0m90 18h0m-25-4h0m-5 7h0m-215-3h0m-26 20h0m21 7h0m70 7h0m62-12h0m38-11h0m15 9h0m5 6h0m60-10h0m11 15h0m44 3h0m-77 19h0m-59-12h0m-81 12h0m-71-4h0m-9-14h0m-8 11h0m-29-5h0m190 21h0m129 13h0m7 2h0m-26 22h0m-213 5h0m-20-7h0m-24-1h0m-2-6h0m-26-4h0m-17 0h0m16 38h0m269 2h0m33 0h0m8-10h0m33-8h0m20 31h0m-5 6h0m-24-11h0m-59 11h0m-28 5h0m-6-16h0m-100 11h0m-17 5h0m-33-18h0m-30 11h0m-22 5h0m-22-10h0m34 30h0m16 1h0m8-12h0m37 17h0m59-17h0m56 14h0m24 6h0m9-4h0m97 18h0m-43 9h0m-164-19h0m-35-1h0m-21 14h0m-31-2h0m-6-8h0m-22 8h0m19 17h0m3 5h0m52 11h0m20-6h0m29 6h0m48-9h0m23 6h0m17-13h0m21 5h0m78 5h0m19 28h0m-175-9h0m-25 10h0m-18 4h0m73 18h0m52-17h0m1 17h0m111 3h0m2-4h0m-66 7h0"/><path stroke="#bebfda" d="M1507 2415h0m16 1h0m92-12h0m44 15h0m0-15h0m18 19h0m51-10h0m-50 25h0m-5 1h0m-16-4h0m-21-1h0m-57 4h0m-133 27h0m36 5h0m27-7h0m91 6h0m116-5h0m18-3h0m56-3h0m-47 24h0m-16-7h0m-15 1h0m-45 16h0m-2-20h0m-104 14h0m-41 4h0m-34-3h0m-39 18h0m16 10h0m16-9h0m91 12h0m56-18h0m45 6h0m6-7h0m32 13h0m4 2h0m49-11h0m47 32h0m-12 8h0m-2-13h0m-17 9h0m-15-15h0m-15 3h0m-95 2h0m-4 2h0m-9-8h0m-21-3h0m-39 20h0m-14-19h0m-30 8h0m-13-9h0m-22 9h0m-36 3h0m-14 0h0m32 24h0m21 4h0m48-11h0m13 7h0m15 3h0m19 4h0m60-2h0m28 0h0m67-13h0m66 1h0m-51 27h0m-82-3h0m-11 8h0m-16-4h0m-7-6h0m-9 7h0m-31 11h0m-8-21h0m-12 22h0m-3-7h0m-32-3h0m-17 4h0m-15-1h0m-46 4h0m104 25h0m18-3h0m18 0h0m61-7h0m42-3h0m27-5h0m0 20h0m14-18h0m9 19h0m11-23h0m31 15h0m-18 9h0m-61 16h0m-10 1h0m-35-16h0m-7 19h0m-44-14h0m-8 5h0m-37 5h0m-13-13h0m-1 8h0m-8-8h0m-7 3h0m-32 20h0m19 10h0m50-9h0m9-3h0m10 19h0m76-10h0m22-9h0m50 0h0m17 4h0m20 33h0m-34 0h0m-165-5h0m-5-3h0m118 34h0m55-2h0m49-9h0m3 15h0m-5 50h0m27-10h0m-17 24h0m-12 1h0"/><path stroke="#b2b1d1" d="M1645 2392h0m-15-4h0m-28 6h0m-5 0h0m-2 4h0m-11-12h0m-30 21h0m70 16h0m9-21h0m6 7h0m11 14h0m27-13h0m91 31h0m-43 2h0m-2-18h0m-33 19h0m-15-9h0m-3-10h0m-107 7h0m-25-6h0m-3 5h0m-18 31h0m51-4h0m15 7h0m60-6h0m18 2h0m41 8h0m95 21h0m-31 0h0m-27-16h0m-4 18h0m-10-13h0m-37 0h0m0 8h0m-47-13h0m-8 16h0m-26 0h0m-14 0h0m-24-17h0m-72 3h0m-47 6h0m-3 4h0m30 30h0m29-17h0m11 13h0m4-4h0m11 9h0m5-21h0m38 12h0m6-5h0m15-5h0m4 14h0m43-5h0m15-2h0m17 13h0m22-15h0m19-5h0m7 7h0m27 7h0m-9 22h0m-1-13h0m-3 14h0m-37-3h0m-146-7h0m-13 11h0m-31-13h0m-5 16h0m-52-8h0m-8-5h0m57 23h0m32 18h0m74-21h0m24-2h0m51 8h0m4-2h0m19-4h0m33 10h0m71-12h0m7 42h0m-73 2h0m-15-19h0m-21 21h0m-3-13h0m-1 6h0m-19-3h0m-15 10h0m-8-19h0m-1-3h0m-50 10h0m-8 11h0m-18-16h0m-4 5h0m-52 6h0m-17 5h0m-6-10h0m-19-9h0m17 37h0m35 5h0m11-13h0m24-7h0m37 16h0m38-5h0m10-11h0m20 0h0m64 23h0m113 6h0m-23 17h0m-36-1h0m0-5h0m-5-7h0m-37 9h0m-3 3h0m-11-15h0m-89-3h0m-78 14h0m-30-4h0m-22-2h0m-3 13h0m27 13h0m25 7h0m2-5h0m14 1h0m30-11h0m9 5h0m6 5h0m11 2h0m4-7h0m4 3h0m36-1h0m3-10h0m34 0h0m41 13h0m104 20h0m-159 10h0m0-16h0m-26 1h0m-40 2h0m-4 3h0m-6-9h0m-10 6h0m-10 14h0m29 6h0m8-1h0m47 20h0m78-21h0m46 22h0m-111 0h0m108 24h0m-6 35h0"/><path stroke="#a4a2c8" d="M1683 2395h0m-164 24h0m12-15h0m18 1h0m29-1h0m42-2h0m8 15h0m3-3h0m56 7h0m44 1h0m5 21h0m-70 1h0m-28-3h0m-35 2h0m0-17h0m-10 15h0m-4 0h0m0 4h0m-23-17h0m-62 16h0m-6-20h0m16 29h0m31-4h0m5 3h0m17 15h0m42-10h0m9-6h0m36 15h0m4-4h0m27-1h0m56 6h0m31 1h0m9 13h0m-14-3h0m-65 2h0m-2-7h0m-2 8h0m-46 2h0m-4 6h0m-37-8h0m-11 11h0m-85-14h0m-7-6h0m-2 8h0m-47 1h0m-18 1h0m31 14h0m29 4h0m17-2h0m5-1h0m3 13h0m21 0h0m42 0h0m87-6h0m11 15h0m9-1h0m5-19h0m12 19h0m35-2h0m1-16h0m46 19h0m16 12h0m-40-10h0m0 9h0m-11 3h0m-104 3h0m-26 1h0m-34 1h0m-21-18h0m-23 3h0m-80 17h0m-6 0h0m-14-1h0m-3-4h0m9 16h0m53-6h0m113 3h0m7 4h0m5 5h0m64 5h0m32-12h0m16 16h0m3 8h0m-24 6h0m-5 1h0m-31-5h0m-6 9h0m-95-10h0m-26 0h0m-45 6h0m-56-10h0m80 24h0m7 10h0m10 6h0m19-3h0m33 7h0m74-19h0m163 16h0m-5 24h0m-113-20h0m-14 0h0m-10 1h0m-17 22h0m-10-2h0m-32-17h0m-5 8h0m-10 6h0m-11-9h0m-16 4h0m-11-8h0m-41-1h0m-23 5h0m-18 20h0m13 7h0m66 7h0m5-2h0m69-7h0m127 4h0m77 17h0m-53 9h0m-25-12h0m-13-1h0m-47 9h0m-14-10h0m-13 10h0m-14-1h0m-3 10h0m-53-9h0m-36 4h0m79 12h0m39-1h0m36 12h0m33-12h0m66 5h0m12-5h0m-32 69h0"/><path stroke="#9895c0" d="M1559 2412h0m31-12h0m63 16h0m100 10h0m-58 11h0m-28-2h0m-22 4h0m-51 6h0m-13-20h0m-21 2h0m-2 19h0m-47-3h0m-41 21h0m63-4h0m12 8h0m28-15h0m4 1h0m19 17h0m59-15h0m20 7h0m38-7h0m25 2h0m23-5h0m32 42h0m-4-10h0m-17-6h0m0-4h0m-41 6h0m-8-4h0m-28 18h0m-12-16h0m-52 11h0m-17 4h0m-16-20h0m-18 11h0m-12 4h0m-7-8h0m-28-7h0m-12 7h0m-4-6h0m-23 10h0m-6-5h0m-5 2h0m0 13h0m-5-23h0m-8 19h0m-9-4h0m-16 26h0m9-7h0m4 4h0m36-1h0m8-3h0m8 3h0m4 6h0m15-6h0m14 6h0m37 3h0m23-21h0m10 6h0m20 4h0m16 0h0m61-3h0m20 11h0m83 3h0m-75 2h0m-62 8h0m-55 9h0m-14-6h0m-18-4h0m-10-3h0m-9 0h0m-37 14h0m-10 1h0m-2-4h0m-9 0h0m-3-2h0m-1-13h0m-28 14h0m-13-7h0m-19 12h0m-1-9h0m-1 4h0m39 25h0m2-15h0m10 5h0m22-3h0m11 1h0m1 3h0m1 11h0m3-3h0m6-10h0m19 2h0m4 12h0m42 0h0m31-10h0m2 9h0m3 4h0m14-14h0m14 3h0m2-8h0m6 0h0m32 14h0m18-11h0m22 8h0m20-8h0m13 35h0m-7-4h0m-76 10h0m-10-22h0m-14 8h0m-79 14h0m-128-22h0m21 28h0m46 4h0m25-1h0m7 12h0m119 2h0m132-15h0m-112 39h0m-16-1h0m-9-13h0m-10 16h0m-19-16h0m-35-5h0m-8 4h0m-9-6h0m-2 8h0m-16 8h0m0 4h0m-11-1h0m-5-3h0m-11 7h0m0-4h0m-11-14h0m-17 9h0m-4 6h0m-16-1h0m-3-3h0m19 10h0m33 15h0m28-7h0m55-6h0m45 11h0m14 5h0m4-19h0m26 22h0m4-22h0m2 5h0m73 3h0m6-5h0m16 41h0m-17-11h0m-10-3h0m-18 5h0m-47 6h0m-118-18h0m-10 16h0m-19-4h0m255 49h0m-28 2h0m10 47h0m-14-7h0"/><path stroke="#8b88b9" d="M1620 2391h0m-34-9h0m-5 10h0m94 9h0m4 5h0m28-2h0m-89 21h0m-35 4h0m-34 18h0m-8-14h0m-5-8h0m-7 17h0m-81 28h0m4-3h0m36 0h0m62 3h0m16-20h0m7 16h0m60-15h0m39-1h0m7 1h0m79 6h0m0 13h0m-101 13h0m-28-5h0m-43 14h0m-41-1h0m-1-8h0m-2 3h0m-42 8h0m-30-20h0m-5 9h0m-7 8h0m-3 3h0m-6-14h0m-10 14h0m-2 10h0m31 15h0m87-17h0m9-6h0m49 15h0m140-8h0m9 12h0m25-13h0m20 29h0m-20 3h0m-28 6h0m-23-17h0m-7-3h0m-34 22h0m-3-16h0m-7 13h0m-23-17h0m-19 4h0m-9 8h0m-4-8h0m-55 5h0m-52-4h0m-24 11h0m-9-10h0m-1 7h0m-2-5h0m-16-2h0m-14 29h0m17-6h0m5-6h0m14 4h0m13 16h0m1-21h0m2 14h0m0-7h0m158 7h0m48-7h0m40 14h0m21-7h0m57 16h0m-1 5h0m-73-7h0m-49-3h0m-5 20h0m-79-1h0m-9-17h0m-13 14h0m-53-4h0m-23-10h0m-44 25h0m34 19h0m30-14h0m24-4h0m44 10h0m10 5h0m71-14h0m0 5h0m0-9h0m38 4h0m81 3h0m12-6h0m-13 43h0m-6-17h0m0 17h0m-34-15h0m-33 9h0m-61-14h0m-14 14h0m-13 2h0m-39-4h0m-36-8h0m-60 15h0m-3-3h0m-14-10h0m56 25h0m12 4h0m7-3h0m1 9h0m2-19h0m13 2h0m0 6h0m7 8h0m9-7h0m1 3h0m51-2h0m34 3h0m6-9h0m56 15h0m96-4h0m-97 19h0m-82 13h0m-45-11h0m-7 3h0m27 15h0m170-4h0m22 1h0m24 21h0m-29 46h0m20-15h0"/><path stroke="#7f7cb2" d="M1746 2425h0m-47 21h0m-47-3h0m-150-14h0m-43 33h0m4 2h0m5-4h0m27 7h0m28-17h0m104 15h0m92-7h0m14 10h0m38-8h0m-72 33h0m-5-16h0m-35 9h0m-11-3h0m-136-8h0m-59 27h0m45-3h0m12-3h0m87 22h0m13-1h0m153-17h0m9 16h0m-93 21h0m-96-3h0m-11 8h0m-24-21h0m-33 6h0m-32 1h0m-24 2h0m60 37h0m8-9h0m61-13h0m18-1h0m16 17h0m50-4h0m88-9h0m53 16h0m-34 7h0m-17 8h0m-2 12h0m-49-13h0m-59 12h0m-22-2h0m-27-10h0m-58 11h0m-10-2h0m-54 4h0m103 11h0m11 11h0m2-3h0m117 3h0m-1 13h0m-22 3h0m-43-13h0m-3 20h0m-10 3h0m-32-15h0m-16 2h0m-10-8h0m-8 1h0m-5 6h0m-58-5h0m51 33h0m16-13h0m8 9h0m0 6h0m15-2h0m14 8h0m26-3h0m14-12h0m7 14h0m54 2h0m10-11h0m-41 36h0m-13-4h0m-15-2h0m-2-16h0m-66 7h0m79 27h0m173 26h0m-27 11h0"/><path stroke="#7569a8" d="M1595 2388h0m-1 16h0m110 12h0m-18 9h0m-16 21h0m-203 22h0m3-14h0m11 3h0m31-1h0m209-2h0m57 4h0m17 19h0m-268 9h0m-11 8h0m-29 25h0m1-21h0m266 27h0m-115 11h0m-144-12h0m-22 0h0m-13 14h0m231 9h0m2 15h0m22 26h0m-2-15h0m-46 0h0m-102 12h0m-2-14h0m-79 16h0m-2-14h0m244 29h0m22 3h0m41 7h0m-117 18h0m-110-14h0m-15 20h0m-10 19h0m18-10h0m15 13h0m29-8h0m23-3h0m209 33h0m-31-3h0m-94 4h0m-49-13h0m-33 15h0m219 20h0m-24 29h0"/><path stroke="#6b579e" d="M1633 2437h0m-34 10h0m-41-15h0m-52 19h0m12-3h0m16 6h0m-63 57h0m16-2h0m74-8h0m13-4h0m126 15h0m45-15h0m-141 40h0m-119-13h0m-19 29h0m82 12h0m144 24h0m-158 2h0m-21 7h0m51 7h0m58 9h0m14-3h0m-16 28h0m-84-20h0m-18 25h0m79 2h0m-7 22h0m110 28h0m155 10h0m-119 6h0m-30 1h0"/><path stroke="#614594" d="M1713 2413h0m-201 25h0m-29 24h0m6 13h0m-15-2h0m-28 22h0m-2-8h0m9 25h0m17-8h0m30 13h0m4-6h0m8-6h0m-57 30h0m3 26h0m3-17h0m99 32h0m-19-5h0m-23 28h0m68-4h0m236 30h0m-235 14h0m-11-11h0m-53-10h0m17 24h0"/><path stroke="#58348b" d="M1509 2408h0m18 61h0m-44 34h0m11 1h0m11 13h0m24-15h0m-35 51h0"/><path stroke="#4e2382" d="M1503 2468h0m72 84h0"/></g><rect x="706.5" y="1179.9" width="243.6" height="226.6" fill="none" stroke="#3a3a3a" stroke-width="1.3"/><rect x="952.5" y="1179.9" width="7.6" height="226.6" fill="url(#gP)" stroke="#3a3a3a" stroke-width="1"/><text x="967.1" y="1227.8" font-size="15.5">3</text><text x="967.1" y="1278.3" font-size="15.5">2</text><text x="967.1" y="1328.5" font-size="15.5">1</text><text x="967.1" y="1377.9" font-size="15.5">0</text><path d="M960.1 1222h4M960.1 1272.5h4M960.1 1322.7h4M960.1 1372.1h4" stroke="#222" stroke-width="1"/><text x="828.3" y="1173" font-size="15" text-anchor="middle">MAF</text><text x="828.3" y="1422.9" font-size="15" text-anchor="middle">UMAP1</text><text transform="translate(698.3 1293.2) rotate(-90)" text-anchor="middle" font-size="15">UMAP2</text><use href="#cA" transform="translate(1029.4 1179.9) scale(.5)" fill="none" stroke="#f8f7fb" stroke-width="6.6" stroke-linecap="round"/><g transform="scale(.5)" fill="none" stroke-width="6.6" stroke-linecap="round"><path stroke="#f1f0f6" d="M2153 2415h0m5 23h0m-1 5h0m19 20h0m115-4h0m78 18h0m-115 13h0m-172 14h0m340 20h0m-105 2h0m-216 5h0m48 36h0m173 14h0m-162-6h0m-5-6h0m22 34h0m101 24h0m-92 15h0m191 28h0m-75-5h0"/><path stroke="#eae8f1" d="M2129 2453h0m0 29h0m-28 12h0m39 15h0m32 1h0m123 21h0m-169 3h0m123 25h0m112-8h0m-205 59h0m87-9h0"/><path stroke="#e1e1ed" d="M2341 2437h0m-250 58h0m13 15h0m71-1h0m62 85h0m30 3h0m6 66h0m-14 2h0m-23 3h0"/><path stroke="#d7d7e8" d="M2179 2435h0m-6 51h0m254 26h0m-153 30h0m-156-18h0m9 43h0m60-19h0m-27 46h0m98 21h0m44 11h0m-79-8h0m85 24h0m4 8h0m59 2h0m-103 27h0m-6 7h0m-32-14h0m149 38h0"/><path stroke="#cbcce1" d="M2208 2412h0m31-2h0m-125 50h0m35 8h0m-44 13h0m35 23h0m119-1h0m79 23h0m-79 1h0m-70 9h0m-83 2h0m-12 1h0m24 18h0m3 4h0m36-16h0m54 46h0m-58-18h0m171 38h0m25 8h0m-19 17h0m-9 1h0m-35-15h0m-59-3h0m31 21h0m52 38h0m-47-8h0"/><path stroke="#bebfda" d="M2199 2431h0m-48 7h0m28 22h0m107-3h0m82 11h0m-152 5h0m-59 2h0m-5 5h0m-32-7h0m-20 2h0m-13 7h0m29 29h0m44 0h0m25 1h0m37-4h0m25 11h0m128 12h0m-269-8h0m7 23h0m82 13h0m-25 40h0m95 10h0m101 9h0m-148 17h0m-44-5h0m0 11h0m57 21h0m31-3h0m6-12h0m31 6h0"/><path stroke="#b2b1d1" d="M2192 2415h0m22 27h0m-77 22h0m65-2h0m84-14h0m16 23h0m-219 30h0m42 5h0m0 10h0m192-5h0m38 1h0m39-7h0m-53 37h0m-113-8h0m-31 2h0m-57-12h0m-20 27h0m9 12h0m21-3h0m215-16h0m50 32h0m-67 32h0m9-3h0m20 11h0m-77 18h0m-97-3h0m-4 25h0m28-1h0m15-2h0m32 3h0m61-8h0m-15 29h0m60 29h0"/><path stroke="#a4a2c8" d="M2265 2391h0m-173 74h0m6 2h0m11-3h0m6 18h0m54 20h0m207 13h0m-219 12h0m-16 15h0m-50-8h0m16 31h0m252-21h0m-219 53h0m13 1h0m72 10h0m48-14h0m108 4h0m64 34h0m-174-14h0m-25 21h0m-11-8h0m-14-3h0m-70 4h0m70 23h0m11-10h0m7 3h0m14 28h0m231 28h0"/><path stroke="#9895c0" d="M2180 2445h0m203 47h0m-82 0h0m-132-17h0m-8 3h0m-52 14h0m-10 20h0m34-3h0m9 9h0m27 9h0m-51 13h0m-23-5h0m215 36h0m-47 11h0m-83 29h0m52-16h0m22 20h0m92 19h0m-154 22h0m0-11h0m12 4h0m11 9h0m146-12h0m63 21h0m-146 12h0m177 102h0"/><path stroke="#8b88b9" d="M2264 2443h0m-168 16h0m29-9h0m53 0h0m181 21h0m-216 28h0m8 18h0m24-15h0m76 16h0m-158 8h0m36 30h0m44-4h0m154 32h0m-196-3h0m266 51h0m-185 0h0m-19 4h0m151 24h0m-11 13h0m-45 2h0"/><path stroke="#7f7cb2" d="M2321 2401h0m-184 40h0m-9 29h0m127-13h0m-142 45h0m282-2h0m-266 28h0m-13 52h0m123 55h0m-2-7h0m-87-11h0m20 31h0m79-5h0m91 2h0"/><path stroke="#7569a8" d="M2123 2500h0m335 6h0m-165 62h0m-96 13h0m107 35h0m-77 51h0"/><path stroke="#6b579e" d="M2109 2515h0m22 9h0m156 21h0m-164 38h0m129 83h0"/><path stroke="#614594" d="M2243 2646h0m93 19h0"/><path stroke="#58348b" d="M2295 2460h0m23 185h0m65 17h0"/><path stroke="#4e2382" d="M2177 2550h0"/></g><rect x="1029.4" y="1179.9" width="243.6" height="226.6" fill="none" stroke="#3a3a3a" stroke-width="1.3"/><rect x="1275.4" y="1179.9" width="7.6" height="226.6" fill="url(#gP)" stroke="#3a3a3a" stroke-width="1"/><text x="1290" y="1228.8" font-size="15.5">6</text><text x="1290" y="1286.8" font-size="15.5">4</text><text x="1290" y="1345.8" font-size="15.5">2</text><text x="1290" y="1403.8" font-size="15.5">0</text><path d="M1283 1223h4M1283 1281h4M1283 1340h4M1283 1398h4" stroke="#222" stroke-width="1"/><text x="1151.2" y="1173" font-size="15" text-anchor="middle">SHISA6</text><text x="1151.2" y="1422.9" font-size="15" text-anchor="middle">UMAP1</text><text transform="translate(1021.2 1293.2) rotate(-90)" text-anchor="middle" font-size="15">UMAP2</text><use href="#cA" transform="translate(60.7 1463.1) scale(.5)" fill="none" stroke="#f8f7fb" stroke-width="6.6" stroke-linecap="round"/><g transform="scale(.5)" fill="none" stroke-width="6.6" stroke-linecap="round"><path stroke="#f1f0f6" d="M225 3050h0m-70 22h0m27 3h0"/><path stroke="#eae8f1" d="M220 3041h0"/><path stroke="#e1e1ed" d="M200 3056h0m80 87h0m-81 8h0"/><path stroke="#d7d7e8" d="M239 2976h0m87 33h0"/><path stroke="#cbcce1" d="M339 2962h0m-72-4h0m8 21h0m-33 22h0m-60 19h0m9 16h0m40 32h0m-39 1h0m-12 54h0"/><path stroke="#bebfda" d="M243 3011h0m-71 11h0m-2 22h0m44 3h0m-42 41h0m109-16h0m-104 63h0m62 34h0m58 28h0"/><path stroke="#b2b1d1" d="M212 3010h0m-33 20h0m18 16h0m72-8h0m12-5h0m-124 19h0m70 61h0m45 24h0m-15 55h0"/><path stroke="#a4a2c8" d="M249 3036h0m-82 12h0m8 46h0m-1 25h0m-6-23h0m47 77h0m43-2h0m47 6h0"/><path stroke="#9895c0" d="M359 2958h0m-151 85h0m47-17h0m-47 34h0m-47 8h0m18 27h0m40 16h0m-24 0h0m-4 11h0m40 51h0"/><path stroke="#8b88b9" d="M280 2971h0m-102 49h0m40 42h0m11 90h0m74 20h0"/><path stroke="#7f7cb2" d="M325 2986h0m28 13h0m-153 31h0m91 39h0m-97-16h0m-15 18h0m37 16h0m37 93h0m43-2h0m-48 17h0"/><path stroke="#7569a8" d="M284 2958h0m-68 108h0m22 10h0m6 38h0"/><path stroke="#6b579e" d="M259 3001h0m-93 56h0m30 28h0m-27 20h0m81 52h0m-6 9h0m0-13h0m-13 32h0m23 2h0m4-12h0m5 11h0m-49 12h0"/><path stroke="#614594" d="M154 3100h0m134 74h0m0 14h0"/><path stroke="#58348b" d="M235 2992h0m-21 25h0m-49 95h0m91 55h0"/><path stroke="#4e2382" d="M224 3045h0m-14 27h0m82 73h0"/><path stroke="#44137a" d="M245 3185h0m9 11h0"/></g><rect x="60.7" y="1463.1" width="243.6" height="226.6" fill="none" stroke="#3a3a3a" stroke-width="1.3"/><rect x="306.7" y="1463.1" width="7.6" height="226.6" fill="url(#gP)" stroke="#3a3a3a" stroke-width="1"/><text x="321.3" y="1468.9" font-size="15.5">10</text><text x="321.3" y="1513" font-size="15.5">8</text><text x="321.3" y="1557.8" font-size="15.5">6</text><text x="321.3" y="1602.4" font-size="15.5">4</text><text x="321.3" y="1647" font-size="15.5">2</text><text x="321.3" y="1691.7" font-size="15.5">0</text><path d="M314.3 1463.1h4M314.3 1507.2h4M314.3 1552h4M314.3 1596.6h4M314.3 1641.2h4M314.3 1685.9h4" stroke="#222" stroke-width="1"/><text x="182.5" y="1456.2" font-size="15" text-anchor="middle">TACR3</text><text x="182.5" y="1706.1" font-size="15" text-anchor="middle">UMAP1</text><text transform="translate(52.5 1576.4) rotate(-90)" text-anchor="middle" font-size="15">UMAP2</text><use href="#cA" transform="translate(383.6 1463.1) scale(.5)" fill="none" stroke="#f8f7fb" stroke-width="6.6" stroke-linecap="round"/><g transform="scale(.5)" fill="none" stroke-width="6.6" stroke-linecap="round"><path stroke="#f1f0f6" d="M913 3012h0m221 40h0m-256 34h0m74-14h0m51 2h0m60 4h0m4 3h0m29 7h0m-10 15h0m-56-4h0m-187 38h0m216-12h0m-125 63h0m188-6h0m40 34h0"/><path stroke="#eae8f1" d="M980 3008h0m41 50h0m-122 6h0m198 12h0m-195 56h0m145-4h0m-1 28h0m-165 15h0m17 9h0m24-3h0m49-4h0"/><path stroke="#e1e1ed" d="M861 2982h0m127 9h0m82 15h0m8 37h0m88 12h0m-326-2h0m-41 27h0m13-4h0m54 13h0m156-10h0m-52 39h0m-56-2h0m-36-4h0m-27 4h0m70 20h0m144 8h0m-91 32h0m72 33h0m-3 5h0m-63 24h0m73 5h0m-2 39h0"/><path stroke="#d7d7e8" d="M1069 3011h0m-172 11h0m-62 20h0m0-18h0m2 4h0m44 7h0m49 12h0m69-21h0m121 24h0m-142 7h0m-124 3h0m-56 5h0m50 10h0m18-3h0m67 23h0m15-3h0m25-13h0m10 2h0m-122 24h0m2 31h0m29-9h0m294 19h0m-98 15h0m-57-5h0m-42-6h0m-165-4h0m27 24h0m9 17h0m175-19h0m109 4h0m-244 24h0m-35 0h0m354 76h0"/><path stroke="#cbcce1" d="M1031 2977h0m52 3h0m-224 25h0m-52 28h0m6-5h0m16-4h0m33 15h0m46 3h0m186 5h0m3 2h0m-249 21h0m-50 15h0m27-8h0m12 18h0m27-19h0m6 17h0m57-21h0m135 16h0m12-13h0m58 37h0m-19-6h0m-260-1h0m-6-5h0m-13 16h0m-22 11h0m11 8h0m25 6h0m47-4h0m39-11h0m53 12h0m9-6h0m30-4h0m69 9h0m-104 26h0m-33 4h0m-33-9h0m-93-9h0m33 21h0m10 9h0m109 1h0m73-6h0m59 4h0m-81 31h0m-44-16h0m-10 6h0m-18 40h0m45-2h0m20 7h0m23 25h0m139 34h0"/><path stroke="#bebfda" d="M954 2947h0m20 10h0m103 35h0m-53 21h0m-57-10h0m-64 10h0m-19 7h0m-20-20h0m-40 41h0m18-7h0m18 13h0m8-11h0m67-2h0m8-2h0m88 14h0m120-9h0m-66 22h0m-41-5h0m-54 3h0m-50 2h0m-44 0h0m-19 4h0m-35 2h0m-5-3h0m0-14h0m-3 15h0m-5-15h0m-4 23h0m-1-14h0m-24 5h0m-5-14h0m-3 19h0m-1 4h0m50 4h0m209 9h0m123 0h0m-172 30h0m-40-16h0m-55 4h0m-24 17h0m-66-9h0m21 12h0m37 12h0m23-3h0m5 12h0m23-4h0m63-5h0m26-3h0m22-5h0m137 26h0m-122 9h0m-129-16h0m-19 12h0m-1 10h0m-7-16h0m58 40h0m176-2h0m-6 11h0m-37 1h0m-17 2h0m-120-5h0m136 39h0m-19 15h0m-38 1h0m31 20h0m87-3h0m37 21h0"/><path stroke="#b2b1d1" d="M865 2982h0m18 15h0m123 13h0m-14-3h0m-164 32h0m76-3h0m63-1h0m41-3h0m6 13h0m75 3h0m-17 17h0m-104-4h0m0-10h0m-10 13h0m-8-8h0m-34 11h0m-44-3h0m-7-7h0m-34 10h0m-10 1h0m-12-7h0m-2 7h0m11 20h0m21 3h0m16-8h0m22-9h0m14 0h0m10 2h0m4 6h0m38-6h0m24 17h0m20-20h0m153 18h0m20 26h0m-117-12h0m-68-2h0m-11 15h0m-29-12h0m-92-5h0m-5 29h0m2-4h0m35 13h0m33-7h0m10 5h0m0 5h0m10-8h0m11-5h0m14 0h0m0 9h0m30 1h0m31 4h0m11-5h0m2-14h0m82 7h0m81 2h0m-76 25h0m-75-7h0m-57 9h0m-74-7h0m-76-9h0m216 28h0m13 12h0m5-12h0m15-3h0m43 38h0m-122-8h0m64 37h0m113-18h0m-12 22h0m59 45h0m-24 39h0"/><path stroke="#a4a2c8" d="M1035 2969h0m-172 5h0m72 17h0m135 8h0m10 19h0m-120-11h0m-60 8h0m-28-1h0m-7-5h0m-64 23h0m1 5h0m55-2h0m44-9h0m116 2h0m17 13h0m65-3h0m-64 20h0m0-4h0m-50 10h0m-40 5h0m-12-13h0m-10 0h0m-26 12h0m-27-18h0m0 10h0m-13-9h0m-66-1h0m19 38h0m21 1h0m13-9h0m14-3h0m7 17h0m12-1h0m20-18h0m48 7h0m17-8h0m71 4h0m146 27h0m-62-2h0m-14 2h0m-64 1h0m-74-9h0m-80 19h0m-10-15h0m-48 6h0m-8-9h0m-5 7h0m-8 0h0m0-7h0m9 33h0m43-5h0m5-1h0m87 18h0m66-23h0m5 19h0m41 21h0m-39 3h0m-39-15h0m-122 17h0m0-20h0m55 38h0m28 0h0m31-3h0m61 10h0m18-7h0m42 5h0m79-1h0m-7 18h0m-247-13h0m-28 17h0m65 13h0m68 11h0m13-1h0m51 1h0m41 23h0m-148-7h0m-31-3h0"/><path stroke="#9895c0" d="M945 2966h0m-55 26h0m118 24h0m-122 0h0m-52 0h0m-10 4h0m-2 7h0m3-3h0m34 5h0m7 12h0m22 0h0m17-11h0m176 16h0m-92 22h0m-127-2h0m-24 3h0m-23-15h0m-12-2h0m11 38h0m7 4h0m4 1h0m3-20h0m6-3h0m10 22h0m29-15h0m25 2h0m4 6h0m80-1h0m22 5h0m109 4h0m-85 10h0m-40-4h0m-5 7h0m-9 6h0m-10-1h0m-109-17h0m-14 1h0m-21 22h0m-7-23h0m-13 4h0m61 31h0m7 10h0m265-3h0m54 2h0m7 3h0m-140 13h0m-149-9h0m-14-1h0m-52 2h0m151 30h0m72-9h0m32 14h0m-63 29h0m-79-17h0m-17 12h0m-14-9h0m-61 0h0m281 32h0m84 11h0m-86 2h0"/><path stroke="#8b88b9" d="M864 2991h0m-58 38h0m2 12h0m24-3h0m31-8h0m28 13h0m197-15h0m10-2h0m61 28h0m-85 16h0m-57-9h0m-129-2h0m-6 2h0m-12-6h0m-24-6h0m-29 9h0m-5-1h0m-6-8h0m12 33h0m15 1h0m29 4h0m22-11h0m22 14h0m30-11h0m11-7h0m17 17h0m127-17h0m2 4h0m57 14h0m-273 15h0m-13 13h0m-1-18h0m-2 10h0m-49 7h0m-10-21h0m9 28h0m89-1h0m76 16h0m15-15h0m26 10h0m150-4h0m-51 16h0m-80-1h0m-69 0h0m-31 20h0m-71-18h0m-27 6h0m214 62h0m-95-6h0m-85 1h0m35 13h0m20 4h0m272 33h0m-35-3h0m-79 5h0m-107-13h0m40 17h0m141 8h0m43 8h0m-34 9h0m14 30h0"/><path stroke="#7f7cb2" d="M1034 2973h0m-168 31h0m-28 16h0m-45 23h0m5-8h0m19-4h0m8-1h0m12 6h0m17 7h0m21 4h0m181 0h0m-3 12h0m-172-7h0m-26 14h0m-63 18h0m49 1h0m8 5h0m7-18h0m4 11h0m8-2h0m85 11h0m124 4h0m-52 7h0m-144-6h0m-34 19h0m-14-4h0m-5 5h0m-8-11h0m-9 6h0m25 27h0m40-15h0m6 13h0m124-12h0m74 0h0m25 23h0m-208 13h0m-39 22h0m32 2h0m179 27h0m-183-20h0m-4 4h0m-4-3h0"/><path stroke="#7569a8" d="M967 2976h0m19 12h0m110-4h0m-253 62h0m31 6h0m-47 11h0m31 30h0m11-16h0m-10 22h0m-1 17h0m-9-8h0m-40-7h0m8 36h0m51-12h0m71 11h0m160 13h0m-86 33h0m176 23h0m-241-3h0m-47 0h0m-1 9h0m-16 1h0m-2-5h0m-4-4h0m-10 5h0m33 14h0m102 3h0"/><path stroke="#6b579e" d="M860 2977h0m40 5h0m190 37h0m-69 4h0m-58 0h0m-65-17h0m-76 80h0m5 4h0m23-5h0m48 17h0m-68 25h0m128 17h0m160 48h0m-219 8h0m-20 8h0m2 11h0"/><path stroke="#614594" d="M909 2960h0m-88 75h0m171 17h0m-173-2h0m-11 23h0m72 3h0m47 130h0m-39 3h0m-20 3h0"/><path stroke="#58348b" d="M852 3065h0m165 48h0m-112 94h0m-30-1h0"/><path stroke="#4e2382" d="M878 3215h0m9 3h0"/></g><rect x="383.6" y="1463.1" width="243.6" height="226.6" fill="none" stroke="#3a3a3a" stroke-width="1.3"/><rect x="629.6" y="1463.1" width="7.6" height="226.6" fill="url(#gP)" stroke="#3a3a3a" stroke-width="1"/><text x="644.2" y="1492.2" font-size="15.5">5</text><text x="644.2" y="1528.8" font-size="15.5">4</text><text x="644.2" y="1565.7" font-size="15.5">3</text><text x="644.2" y="1602.3" font-size="15.5">2</text><text x="644.2" y="1639" font-size="15.5">1</text><text x="644.2" y="1675.6" font-size="15.5">0</text><path d="M637.2 1486.4h4M637.2 1523h4M637.2 1559.9h4M637.2 1596.5h4M637.2 1633.2h4M637.2 1669.8h4" stroke="#222" stroke-width="1"/><text x="505.4" y="1456.2" font-size="15" text-anchor="middle">COL19A1</text><text x="505.4" y="1706.1" font-size="15" text-anchor="middle">UMAP1</text><text transform="translate(375.4 1576.4) rotate(-90)" text-anchor="middle" font-size="15">UMAP2</text><clipPath id="q0"><rect x="1362.5" y="15.7" width="284.5" height="255.3"/></clipPath><g clip-path="url(#q0)"><rect x="1362.5" y="15.7" width="284.5" height="255.3" fill="#f9f8f5"/><g transform="translate(1362.5 15.7)"><g transform="translate(51 2) scale(1.13 0.92)"><path d="M14 262 C16 225 22 185 34 148 C44 118 62 86 86 59 C106 36 130 20 150 10 C170 0 200 -6 300 -6 L300 262 Z" fill="#f3efe4" stroke="#bdb49a" stroke-width=".7"/><path d="M37 262 C35 230 37 190 45 148 C52 120 66 92 90 64 C110 42 135 26 160 18 C190 10 230 10 300 10 L300 262 Z" fill="#f6f1e0"/></g><g transform="translate(51 2) scale(1.13 0.92)"><path d="M74 180 C70 160 70 130 77 105 C83 85 98 62 116 50 C136 38 162 34 182 36 C190 38 190 43 184 46 C172 54 156 64 146 76 C138 88 136 100 136 114 C133 122 128 125 122 119 C114 120 104 128 96 142 C88 156 82 170 78 184 Z" fill="#fbfaf6"/><path d="M86 178 C78 192 62 198 53 190 C49 170 53 135 60 112 C66 88 80 64 100 48 C122 32 150 22 178 22 C196 23 206 30 203 40 C199 49 188 55 176 62 C164 70 154 80 150 92 C148 100 148 106 149 112" fill="none" stroke="#ebd276" stroke-width="20" stroke-linecap="round" stroke-linejoin="round"/><path d="M86 178 C78 192 62 198 53 190 C49 170 53 135 60 112 C66 88 80 64 100 48 C122 32 150 22 178 22 C196 23 206 30 203 40 C199 49 188 55 176 62 C164 70 154 80 150 92 C148 100 148 106 149 112" fill="none" stroke="#efda8e" stroke-width="6.5" stroke-linecap="round" opacity=".8"/></g><path d="M168 112 C190 100 230 96 290 100 L290 262 L150 262 C160 230 168 200 170 170 Z" fill="#f0e3ae"/><path d="M40 206 C70 212 120 206 160 196 L175 262 L30 262 Z" fill="#f3e8c6"/><path d="M62 258 C70 242 92 236 106 248 M118 262 C120 246 134 244 138 262 M150 262 C152 250 162 248 168 262" fill="none" stroke="#eed683" stroke-width="6"/><g transform="translate(62 -8) scale(1.0 1.0)"><path d="M80 194 C82 172 90 152 102 140 C110 130 118 126 124 131 C130 138 133 158 133 176 C133 192 118 200 98 200 Z" fill="#edd688"/><ellipse cx="145.5" cy="160" rx="13.5" ry="34" fill="#e8c458"/></g></g><ellipse cx="1470.5" cy="185.7" rx="30" ry="24" fill="url(#gSt)" opacity="0.4"/><ellipse cx="1470.5" cy="185.7" rx="30" ry="24" fill="url(#pSp)" mask="url(#mSp)" opacity="0.4"/><ellipse cx="1562.5" cy="175.7" rx="10" ry="26" fill="url(#gSt)" opacity="0.2"/><ellipse cx="1562.5" cy="175.7" rx="10" ry="26" fill="url(#pSp)" mask="url(#mSp)" opacity="0.2"/><ellipse cx="1578.5" cy="195.7" rx="7" ry="12" fill="url(#gSt)" opacity="0.25"/><ellipse cx="1578.5" cy="195.7" rx="7" ry="12" fill="url(#pSp)" mask="url(#mSp)" opacity="0.25"/><ellipse cx="1578.5" cy="195.7" rx="7.5" ry="14" fill="none" stroke="#3f9b3f" stroke-width="1.1" stroke-dasharray="1.6 1.2"/><text x="1365.5" y="23.7" font-size="6.3" font-weight="bold" fill="#222">Specimen Age: E15.5</text><text x="1366.5" y="30.7" font-size="3.6" fill="#555">Symbol: Etv1</text><text x="1366.5" y="37.2" font-size="3.6" fill="#555">Name:&#160;&#160;&#160; ets variant 1</text><path d="M1363.5 263h26" stroke="#666" stroke-width=".8"/></g><clipPath id="q1"><rect x="1647" y="15.7" width="263" height="255.3"/></clipPath><g clip-path="url(#q1)"><rect x="1647" y="15.7" width="263" height="255.3" fill="#f9f8f5"/><g transform="translate(1647 15.7)"><g transform="translate(0 0) scale(1.0 1.0)"><path d="M14 262 C16 225 22 185 34 148 C44 118 62 86 86 59 C106 36 130 20 150 10 C170 0 200 -6 300 -6 L300 262 Z" fill="#f3efe4" stroke="#bdb49a" stroke-width=".7"/><path d="M37 262 C35 230 37 190 45 148 C52 120 66 92 90 64 C110 42 135 26 160 18 C190 10 230 10 300 10 L300 262 Z" fill="#f6f1e0"/></g><g transform="translate(0 0) scale(1.0 1.0)"><path d="M74 180 C70 160 70 130 77 105 C83 85 98 62 116 50 C136 38 162 34 182 36 C190 38 190 43 184 46 C172 54 156 64 146 76 C138 88 136 100 136 114 C133 122 128 125 122 119 C114 120 104 128 96 142 C88 156 82 170 78 184 Z" fill="#fbfaf6"/><path d="M86 178 C78 192 62 198 53 190 C49 170 53 135 60 112 C66 88 80 64 100 48 C122 32 150 22 178 22 C196 23 206 30 203 40 C199 49 188 55 176 62 C164 70 154 80 150 92 C148 100 148 106 149 112" fill="none" stroke="#ebd276" stroke-width="20" stroke-linecap="round" stroke-linejoin="round"/><path d="M86 178 C78 192 62 198 53 190 C49 170 53 135 60 112 C66 88 80 64 100 48 C122 32 150 22 178 22 C196 23 206 30 203 40 C199 49 188 55 176 62 C164 70 154 80 150 92 C148 100 148 106 149 112" fill="none" stroke="#efda8e" stroke-width="6.5" stroke-linecap="round" opacity=".8"/></g><path d="M168 112 C190 100 230 96 290 100 L290 262 L150 262 C160 230 168 200 170 170 Z" fill="#f0e3ae"/><path d="M40 206 C70 212 120 206 160 196 L175 262 L30 262 Z" fill="#f3e8c6"/><path d="M62 258 C70 242 92 236 106 248 M118 262 C120 246 134 244 138 262 M150 262 C152 250 162 248 168 262" fill="none" stroke="#eed683" stroke-width="6"/><g transform="translate(0 0) scale(1.0 1.0)"><path d="M80 194 C82 172 90 152 102 140 C110 130 118 126 124 131 C130 138 133 158 133 176 C133 192 118 200 98 200 Z" fill="#edd688"/><ellipse cx="145.5" cy="160" rx="13.5" ry="34" fill="#e8c458"/></g></g><ellipse cx="1782" cy="220.7" rx="13" ry="19" fill="url(#gSt)" opacity="1.0"/><ellipse cx="1782" cy="220.7" rx="13" ry="19" fill="url(#pSp)" mask="url(#mSp)" opacity="1.0"/><ellipse cx="1804" cy="194.7" rx="7.5" ry="14" fill="none" stroke="#3f9b3f" stroke-width="1.1" stroke-dasharray="1.6 1.2"/><text x="1650" y="23.7" font-size="6.3" font-weight="bold" fill="#222">Specimen Age: E15.5</text><text x="1651" y="30.7" font-size="3.6" fill="#555">Symbol: Gbx1</text><text x="1651" y="37.2" font-size="3.6" fill="#555">Name:&#160;&#160;&#160; gastrulation brain homeobox 1</text><path d="M1648 263h26" stroke="#666" stroke-width=".8"/></g><clipPath id="q2"><rect x="1362.5" y="271" width="284.5" height="252.3"/></clipPath><g clip-path="url(#q2)"><rect x="1362.5" y="271" width="284.5" height="252.3" fill="#f9f8f5"/><g transform="translate(1362.5 271)"><g transform="translate(2 0) scale(1.17 1.0)"><path d="M14 262 C16 225 22 185 34 148 C44 118 62 86 86 59 C106 36 130 20 150 10 C170 0 200 -6 300 -6 L300 262 Z" fill="#f3efe4" stroke="#bdb49a" stroke-width=".7"/><path d="M37 262 C35 230 37 190 45 148 C52 120 66 92 90 64 C110 42 135 26 160 18 C190 10 230 10 300 10 L300 262 Z" fill="#f6f1e0"/></g><path d="M95 44 C135 18 190 5 285 2 L285 80 C268 62 252 46 235 36 C210 24 172 21 142 27 C124 31 108 37 95 44 Z" fill="#e8e6e4"/><path d="M4 205 C12 150 38 95 82 58 C122 28 185 9 285 3" fill="none" stroke="#8a8480" stroke-width="1"/><g transform="translate(2 0) scale(1.17 1.0)"><path d="M74 180 C70 160 70 130 77 105 C83 85 98 62 116 50 C136 38 162 34 182 36 C190 38 190 43 184 46 C172 54 156 64 146 76 C138 88 136 100 136 114 C133 122 128 125 122 119 C114 120 104 128 96 142 C88 156 82 170 78 184 Z" fill="#fbfaf6"/><path d="M86 178 C78 192 62 198 53 190 C49 170 53 135 60 112 C66 88 80 64 100 48 C122 32 150 22 178 22 C196 23 206 30 203 40 C199 49 188 55 176 62 C164 70 154 80 150 92 C148 100 148 106 149 112" fill="none" stroke="#ebd276" stroke-width="20" stroke-linecap="round" stroke-linejoin="round"/><path d="M86 178 C78 192 62 198 53 190 C49 170 53 135 60 112 C66 88 80 64 100 48 C122 32 150 22 178 22 C196 23 206 30 203 40 C199 49 188 55 176 62 C164 70 154 80 150 92 C148 100 148 106 149 112" fill="none" stroke="#efda8e" stroke-width="6.5" stroke-linecap="round" opacity=".8"/></g><path d="M168 112 C190 100 230 96 290 100 L290 262 L150 262 C160 230 168 200 170 170 Z" fill="#f0e3ae"/><path d="M40 206 C70 212 120 206 160 196 L175 262 L30 262 Z" fill="#f3e8c6"/><path d="M62 258 C70 242 92 236 106 248 M118 262 C120 246 134 244 138 262 M150 262 C152 250 162 248 168 262" fill="none" stroke="#eed683" stroke-width="6"/><g transform="translate(2 0) scale(1.15 1.0)"><path d="M80 194 C82 172 90 152 102 140 C110 130 118 126 124 131 C130 138 133 158 133 176 C133 192 118 200 98 200 Z" fill="#edd688"/><ellipse cx="145.5" cy="160" rx="13.5" ry="34" fill="#e8c458"/></g></g><ellipse cx="1510.5" cy="492" rx="22" ry="19" fill="url(#gSt)" opacity="0.9"/><ellipse cx="1510.5" cy="492" rx="22" ry="19" fill="url(#pSp)" mask="url(#mSp)" opacity="0.9"/><ellipse cx="1538.5" cy="431" rx="10" ry="26" fill="url(#gSt)" opacity="0.6"/><ellipse cx="1538.5" cy="431" rx="10" ry="26" fill="url(#pSp)" mask="url(#mSp)" opacity="0.6"/><ellipse cx="1538.5" cy="444" rx="7.5" ry="14" fill="none" stroke="#3f9b3f" stroke-width="1.1" stroke-dasharray="1.6 1.2"/><text x="1365.5" y="279" font-size="6.3" font-weight="bold" fill="#222">Specimen Age: E15.5</text><text x="1366.5" y="286" font-size="3.6" fill="#555">Symbol: Lhx6</text><text x="1366.5" y="292.5" font-size="3.6" fill="#555">Name:&#160;&#160;&#160; LIM homeobox protein 6</text><path d="M1363.5 515.3h26" stroke="#666" stroke-width=".8"/></g><clipPath id="q3"><rect x="1647" y="271" width="263" height="252.3"/></clipPath><g clip-path="url(#q3)"><rect x="1647" y="271" width="263" height="252.3" fill="#f9f8f5"/><g transform="translate(1647 271)"><path d="M-5 170 C10 130 40 95 75 70 C110 47 160 30 210 26 C240 24 265 26 300 28 L300 262 L-5 262 Z" fill="#f3efe4" stroke="#bdb49a" stroke-width=".7"/><path d="M5 188 C20 148 50 112 85 88 C120 64 170 46 215 42 C245 40 270 42 300 44 L300 262 L5 262 Z" fill="#f6f1e0"/><g transform="translate(3 34) scale(1.23 0.66)"><path d="M74 180 C70 160 70 130 77 105 C83 85 98 62 116 50 C136 38 162 34 182 36 C190 38 190 43 184 46 C172 54 156 64 146 76 C138 88 136 100 136 114 C133 122 128 125 122 119 C114 120 104 128 96 142 C88 156 82 170 78 184 Z" fill="#fbfaf6"/><path d="M86 178 C78 192 62 198 53 190 C49 170 53 135 60 112 C66 88 80 64 100 48 C122 32 150 22 178 22 C196 23 206 30 203 40 C199 49 188 55 176 62 C164 70 154 80 150 92 C148 100 148 106 149 112" fill="none" stroke="#ebd276" stroke-width="20" stroke-linecap="round" stroke-linejoin="round"/><path d="M86 178 C78 192 62 198 53 190 C49 170 53 135 60 112 C66 88 80 64 100 48 C122 32 150 22 178 22 C196 23 206 30 203 40 C199 49 188 55 176 62 C164 70 154 80 150 92 C148 100 148 106 149 112" fill="none" stroke="#efda8e" stroke-width="6.5" stroke-linecap="round" opacity=".8"/></g><path d="M168 112 C190 100 230 96 290 100 L290 262 L150 262 C160 230 168 200 170 170 Z" fill="#f0e3ae"/><path d="M40 206 C70 212 120 206 160 196 L175 262 L30 262 Z" fill="#f3e8c6"/><path d="M62 258 C70 242 92 236 106 248 M118 262 C120 246 134 244 138 262 M150 262 C152 250 162 248 168 262" fill="none" stroke="#eed683" stroke-width="6"/><g transform="translate(2 -10) scale(1.12 0.95)"><path d="M80 194 C82 172 90 152 102 140 C110 130 118 126 124 131 C130 138 133 158 133 176 C133 192 118 200 98 200 Z" fill="#edd688"/><ellipse cx="145.5" cy="160" rx="13.5" ry="34" fill="#e8c458"/></g></g><ellipse cx="1787" cy="463" rx="36" ry="38" fill="url(#gSt)" opacity="1.0"/><ellipse cx="1787" cy="463" rx="36" ry="38" fill="url(#pSp)" mask="url(#mSp)" opacity="1.0"/><ellipse cx="1772" cy="471" rx="25" ry="22" fill="url(#gSt)" opacity="0.8"/><ellipse cx="1772" cy="471" rx="25" ry="22" fill="url(#pSp)" mask="url(#mSp)" opacity="0.8"/><ellipse cx="1817" cy="421" rx="8" ry="22" fill="url(#gSt)" opacity="0.7"/><ellipse cx="1817" cy="421" rx="8" ry="22" fill="url(#pSp)" mask="url(#mSp)" opacity="0.7"/><ellipse cx="1824" cy="464" rx="7.5" ry="14" fill="none" stroke="#3f9b3f" stroke-width="1.1" stroke-dasharray="1.6 1.2"/><text x="1650" y="279" font-size="6.3" font-weight="bold" fill="#222">Specimen Age: E15.5</text><text x="1651" y="286" font-size="3.6" fill="#555">Symbol: Lhx8</text><text x="1651" y="292.5" font-size="3.6" fill="#555">Name:&#160;&#160;&#160; LIM homeobox protein 8</text><path d="M1648 515.3h26" stroke="#666" stroke-width=".8"/></g><text x="1500.8" y="13.9" font-size="16.3" text-anchor="middle">Etv1</text><text x="1770" y="13.9" font-size="16.3" text-anchor="middle">Gbx1</text><text x="1491.8" y="544" font-size="16.3" text-anchor="middle">Lhx6</text><text x="1780.7" y="544" font-size="16.3" text-anchor="middle">Lhx8</text><path fill="#000" d="M1369.4 92.9 C1369.3 90.5 1370.5 88 1373.5 86.6 L1382.6 78.2 C1386 76.6 1392 77.8 1396.5 76.9 C1401.5 75.6 1404.3 70 1404 64.3 C1409 62 1414 61 1419 61.2 C1428 61.6 1434.5 68 1435.2 76.5 C1435.6 82.5 1434 88.5 1428.6 93.1 Z"/><ellipse cx="1393.2" cy="67" rx="8.6" ry="8.2" fill="#000" stroke="#fff" stroke-width="1.7"/><path d="M1429 92 C1438 89 1446 78 1441.5 65 C1438.5 57 1432.5 53 1432.8 45.5" fill="none" stroke="#fff" stroke-width="5.6"/><path d="M1429 92.6 C1438 89 1446 78 1441.5 65 C1438.5 57 1432.5 53 1432.8 45.3" fill="none" stroke="#000" stroke-width="3.2" stroke-linecap="round"/><path fill="#000" d="M1424 93.1 L1430 93.1 L1433 89 L1428 88 Z"/><circle cx="1383.8" cy="84" r="2.4" fill="#fff"/><path d="M1417.2 671.9V1064.8M1459 671.9V1064.8M1500.7 671.9V1064.8M1542.5 671.9V1064.8M1584.2 671.9V1064.8M1626 671.9V1064.8M1667.7 671.9V1064.8M1709.5 671.9V1064.8M1751.2 671.9V1064.8M1400.2 689.4H1767.8M1400.2 737.9H1767.8M1400.2 786.3H1767.8M1400.2 834.8H1767.8M1400.2 883.2H1767.8M1400.2 931.6H1767.8M1400.2 980.1H1767.8M1400.2 1028.5H1767.8" stroke="#d4d4d4" stroke-width="1.3" fill="none"/><path d="M1400.2 671.9V1064.8H1767.8" stroke="#cfcfcf" stroke-width="1.5" fill="none"/><g fill="#4c72b0" stroke="#fff" stroke-width=".7"><circle cx="1562.8" cy="706.7" r="2.5"/><circle cx="1573.9" cy="730.2" r="2.5"/><circle cx="1542.6" cy="758.2" r="2.5"/><circle cx="1556.2" cy="762.6" r="2.5"/><circle cx="1569.1" cy="761.9" r="2.5"/><circle cx="1582" cy="761.1" r="2.5"/><circle cx="1584.9" cy="755.3" r="3.2"/><circle cx="1594.1" cy="764.5" r="4.1"/><circle cx="1587.8" cy="772.2" r="2.5"/><circle cx="1593" cy="775.9" r="3.2"/><circle cx="1608.8" cy="771.8" r="3.2"/><circle cx="1542.6" cy="800.5" r="2.5"/><circle cx="1561" cy="795" r="2.5"/><circle cx="1571.3" cy="792.4" r="2.5"/><circle cx="1576.8" cy="786.5" r="2.5"/><circle cx="1583.8" cy="789.5" r="2.5"/><circle cx="1602.6" cy="789.5" r="2.5"/><circle cx="1609.6" cy="791.3" r="3.2"/><circle cx="1633.8" cy="795.7" r="2.5"/><circle cx="1640.1" cy="804.2" r="2.5"/><circle cx="1673.9" cy="816" r="2.5"/><circle cx="1669.5" cy="824.8" r="2.5"/><circle cx="1643.8" cy="817.1" r="2.5"/><circle cx="1655.2" cy="819.6" r="2.5"/><circle cx="1642.3" cy="825.2" r="3.2"/><circle cx="1648.6" cy="851.7" r="2.5"/><circle cx="1648.6" cy="862.7" r="2.5"/><circle cx="1640.8" cy="887" r="2.5"/><circle cx="1653.3" cy="886.2" r="2.5"/><circle cx="1676.1" cy="885.1" r="2.5"/><circle cx="1647.4" cy="987" r="2.5"/><circle cx="1537.1" cy="974.2" r="3.2"/><circle cx="1423.4" cy="826.6" r="2.5"/><circle cx="1419.3" cy="838.4" r="2.5"/><circle cx="1416.8" cy="853.9" r="2.5"/><circle cx="1416.8" cy="861.2" r="2.5"/><circle cx="1416.8" cy="888.8" r="2.5"/><circle cx="1416.8" cy="911.6" r="2.5"/><circle cx="1437.7" cy="910.2" r="2.5"/><circle cx="1450.2" cy="911.6" r="2.5"/><circle cx="1448.4" cy="829.2" r="2.5"/><circle cx="1453.6" cy="875.2" r="2.5"/><circle cx="1499.5" cy="894.3" r="2.5"/><circle cx="1489.2" cy="855.7" r="2.5"/><circle cx="1525.3" cy="849.4" r="2.5"/><circle cx="1520.5" cy="866.7" r="2.5"/><circle cx="1529.7" cy="872.3" r="2.5"/><circle cx="1550.7" cy="845.8" r="2.5"/><circle cx="1549.2" cy="821.9" r="2.5"/><circle cx="1583.8" cy="913.8" r="2.5"/><circle cx="1595.9" cy="896.9" r="2.5"/><circle cx="1601.8" cy="893.2" r="3.2"/><circle cx="1571.7" cy="820" r="4.1"/><circle cx="1581.2" cy="809.7" r="2.5"/><circle cx="1592.3" cy="806" r="2.5"/><circle cx="1599.6" cy="813.4" r="2.5"/><circle cx="1588.6" cy="820.8" r="3.2"/><circle cx="1577.5" cy="828.1" r="2.5"/><circle cx="1559.1" cy="829.9" r="2.5"/><circle cx="1564.7" cy="839.1" r="2.5"/><circle cx="1573.9" cy="839.1" r="3.2"/><circle cx="1584.9" cy="835.5" r="2.5"/><circle cx="1594.1" cy="841" r="3.2"/><circle cx="1603.3" cy="831.8" r="2.5"/><circle cx="1614.3" cy="839.1" r="2.5"/><circle cx="1621.7" cy="831.8" r="2.5"/><circle cx="1627.2" cy="841" r="2.5"/><circle cx="1618" cy="846.5" r="2.5"/><circle cx="1607" cy="857.5" r="3.2"/><circle cx="1597.8" cy="850.2" r="4.1"/><circle cx="1588.6" cy="853.9" r="2.5"/><circle cx="1577.5" cy="850.2" r="2.5"/><circle cx="1568.3" cy="857.5" r="2.5"/><circle cx="1559.1" cy="853.9" r="2.5"/><circle cx="1553.6" cy="861.2" r="2.5"/><circle cx="1562.8" cy="866.7" r="3.2"/><circle cx="1573.9" cy="864.9" r="2.5"/><circle cx="1582" cy="870.4" r="3.2"/><circle cx="1592.3" cy="867.8" r="2.5"/><circle cx="1599.6" cy="872.3" r="2.5"/><circle cx="1587.8" cy="879.6" r="2.5"/><circle cx="1577.5" cy="883.3" r="2.5"/><circle cx="1570.2" cy="890.7" r="2.5"/><circle cx="1582" cy="887" r="2.5"/><circle cx="1555.5" cy="813.4" r="2.5"/><circle cx="1562.8" cy="807.9" r="2.5"/><circle cx="1549.9" cy="839.1" r="2.5"/><circle cx="1544.4" cy="850.2" r="2.5"/><circle cx="1610.7" cy="879.6" r="2.5"/><circle cx="1619.9" cy="870.4" r="2.5"/><circle cx="1625.4" cy="861.2" r="2.5"/><circle cx="1629.1" cy="820.8" r="2.5"/><circle cx="1634.6" cy="829.9" r="2.5"/><circle cx="1559.1" cy="820.8" r="2.5"/><circle cx="1566.5" cy="826.3" r="2.5"/><circle cx="1575.7" cy="817.1" r="2.5"/><circle cx="1586.7" cy="813.4" r="2.5"/><circle cx="1597.8" cy="822.6" r="2.5"/><circle cx="1605.1" cy="826.3" r="2.5"/><circle cx="1579.4" cy="842.8" r="2.5"/><circle cx="1570.2" cy="846.5" r="2.5"/><circle cx="1597.8" cy="861.2" r="2.5"/><circle cx="1603.3" cy="844.7" r="2.5"/><circle cx="1590.4" cy="828.1" r="2.5"/><circle cx="1583.1" cy="859.4" r="2.5"/><circle cx="1564.7" cy="874.1" r="2.5"/><circle cx="1557.3" cy="879.6" r="2.5"/><circle cx="1573.9" cy="875.9" r="2.5"/><circle cx="1588.6" cy="874.1" r="2.5"/><circle cx="1594.1" cy="890.7" r="2.5"/><circle cx="1583.1" cy="894.3" r="2.5"/><circle cx="1575.7" cy="896.2" r="2.5"/><circle cx="1555.5" cy="870.4" r="2.5"/><circle cx="1548.1" cy="864.9" r="2.5"/><circle cx="1595.9" cy="818.7" r="2.5"/><circle cx="1543.5" cy="854.9" r="2.5"/><circle cx="1575.8" cy="866.9" r="2.5"/><circle cx="1559.5" cy="832.1" r="2.5"/><circle cx="1587.2" cy="861.8" r="3.2"/><circle cx="1553" cy="864" r="2.5"/><circle cx="1583.3" cy="857" r="2.5"/><circle cx="1554" cy="832.7" r="2.5"/><circle cx="1566.6" cy="834.2" r="2.5"/><circle cx="1578" cy="836.7" r="2.5"/><circle cx="1625.6" cy="823.9" r="3.2"/><circle cx="1607.8" cy="850.5" r="2.5"/><circle cx="1561.5" cy="854.5" r="2.5"/><circle cx="1538.9" cy="865.4" r="2.5"/><circle cx="1565.8" cy="789" r="2.5"/><circle cx="1583.3" cy="824.4" r="2.5"/><circle cx="1554.1" cy="856.2" r="3.2"/><circle cx="1592.2" cy="854" r="3.2"/><circle cx="1629.6" cy="833.4" r="2.5"/><circle cx="1560.2" cy="842.8" r="2.5"/><circle cx="1565.3" cy="834.5" r="2.5"/><circle cx="1617" cy="847.4" r="2.5"/><circle cx="1595.4" cy="846" r="2.5"/><circle cx="1578.5" cy="824.4" r="2.5"/><circle cx="1592.1" cy="832" r="2.5"/><circle cx="1620.4" cy="833.8" r="2.5"/><circle cx="1618.9" cy="833.4" r="2.5"/><circle cx="1575" cy="839.4" r="3.2"/><circle cx="1608" cy="803.3" r="2.5"/><circle cx="1574.4" cy="826.6" r="2.5"/><circle cx="1555.3" cy="866" r="2.5"/><circle cx="1579.6" cy="860.9" r="2.5"/><circle cx="1571.6" cy="806.8" r="2.5"/><circle cx="1546.2" cy="827.4" r="2.5"/><circle cx="1626.3" cy="843.2" r="3.2"/><circle cx="1562.1" cy="859.1" r="2.5"/><circle cx="1574.2" cy="868.3" r="2.5"/><circle cx="1574.7" cy="835.2" r="2.5"/><circle cx="1617.7" cy="803.5" r="2.5"/><circle cx="1577.3" cy="776.3" r="2.5"/><circle cx="1543.4" cy="838.5" r="2.5"/><circle cx="1592" cy="842.8" r="3.2"/><circle cx="1584.2" cy="848.2" r="2.5"/><circle cx="1585" cy="817.4" r="2.5"/><circle cx="1618.8" cy="841.9" r="2.5"/></g><g fill="#dd8452" stroke="#fff" stroke-width=".7"><circle cx="1703.7" cy="691.2" r="2.5"/><circle cx="1645.6" cy="699.3" r="4.1"/><circle cx="1678.7" cy="704.1" r="4.1"/><circle cx="1689" cy="715.9" r="3.2"/><circle cx="1608.8" cy="715.9" r="3.2"/><circle cx="1654.1" cy="725.1" r="2.5"/><circle cx="1635.3" cy="734.3" r="4.1"/><circle cx="1630.9" cy="735.4" r="3.2"/><circle cx="1697.1" cy="755.3" r="3.2"/><circle cx="1687.2" cy="764.5" r="3.2"/><circle cx="1750.5" cy="790.6" r="2.5"/><circle cx="1697.9" cy="795.7" r="3.2"/><circle cx="1561.7" cy="790.2" r="4.1"/><circle cx="1653.7" cy="801.6" r="2.5"/><circle cx="1633.8" cy="803.5" r="2.5"/><circle cx="1709.3" cy="808.2" r="2.5"/><circle cx="1540.8" cy="818.2" r="3.2"/><circle cx="1607" cy="820" r="3.2"/><circle cx="1616.9" cy="817.8" r="3.2"/><circle cx="1622.4" cy="819.6" r="2.5"/><circle cx="1632.7" cy="821.9" r="2.5"/><circle cx="1710.7" cy="822.2" r="4.1"/><circle cx="1703.7" cy="827" r="2.5"/><circle cx="1613.2" cy="827" r="3.2"/><circle cx="1605.9" cy="834.7" r="3.2"/><circle cx="1751.2" cy="836.2" r="2.5"/><circle cx="1699.7" cy="837.3" r="2.5"/><circle cx="1644.9" cy="837.3" r="2.5"/><circle cx="1643.8" cy="843.9" r="2.5"/><circle cx="1448" cy="808.6" r="2.5"/><circle cx="1458" cy="817.1" r="2.5"/><circle cx="1469" cy="785.1" r="2.5"/><circle cx="1416.8" cy="831.1" r="2.5"/><circle cx="1456.1" cy="837.3" r="2.5"/><circle cx="1502.9" cy="826.6" r="2.5"/><circle cx="1453.2" cy="855.7" r="2.5"/><circle cx="1471.6" cy="867.5" r="2.5"/><circle cx="1504" cy="856.4" r="2.5"/><circle cx="1528.6" cy="866.7" r="2.5"/><circle cx="1541.1" cy="866.4" r="3.2"/><circle cx="1618" cy="862.3" r="3.2"/><circle cx="1621.7" cy="853.9" r="2.5"/><circle cx="1626.5" cy="850.2" r="2.5"/><circle cx="1658.5" cy="862.3" r="2.5"/><circle cx="1634.6" cy="869.7" r="2.5"/><circle cx="1548.1" cy="875.2" r="2.5"/><circle cx="1554.4" cy="882.6" r="3.2"/><circle cx="1468.3" cy="889.9" r="3.2"/><circle cx="1530.8" cy="895.4" r="2.5"/><circle cx="1512.1" cy="909.8" r="4.1"/><circle cx="1476.4" cy="928.6" r="2.5"/><circle cx="1537.8" cy="923.8" r="2.5"/><circle cx="1543.3" cy="986.3" r="3.2"/><circle cx="1416.8" cy="996.2" r="2.5"/><circle cx="1629.1" cy="1047.4" r="4.1"/><circle cx="1579.4" cy="874.1" r="2.5"/></g><text x="1704.5" y="692.7" font-size="12.5">MEF2C</text><text x="1631.6" y="735.4" font-size="12.5">SETBP1</text><text x="1687.9" y="764.5" font-size="12.5">ARX</text><text x="1751.2" y="791.3" font-size="12.5">MAF</text><text x="1654" y="802.7" font-size="12.5">MYC</text><text x="1453.2" y="856.4" font-size="12.5">ETV6</text><text x="1472" y="868.2" font-size="12.5">NR3C1</text><text x="1565.8" y="874.1" font-size="12.5">MAX</text><text x="1554.4" y="883.3" font-size="12.5">JUN</text><text x="1468.3" y="889.9" font-size="12.5">ZEB1</text><text x="1531.5" y="896.2" font-size="12.5">NR2F6</text><text x="1512.8" y="910.2" font-size="12.5">NFIB</text><text x="1477.1" y="928.5" font-size="12.5">JUNB</text><text x="1544.4" y="986.3" font-size="12.5">NFIX</text><text x="1417.2" y="1088.8" font-size="14" text-anchor="middle" fill="#262626">−1.00</text><text x="1459" y="1088.8" font-size="14" text-anchor="middle" fill="#262626">−0.75</text><text x="1500.7" y="1088.8" font-size="14" text-anchor="middle" fill="#262626">−0.50</text><text x="1542.5" y="1088.8" font-size="14" text-anchor="middle" fill="#262626">−0.25</text><text x="1584.2" y="1088.8" font-size="14" text-anchor="middle" fill="#262626">0.00</text><text x="1626" y="1088.8" font-size="14" text-anchor="middle" fill="#262626">0.25</text><text x="1667.7" y="1088.8" font-size="14" text-anchor="middle" fill="#262626">0.50</text><text x="1709.5" y="1088.8" font-size="14" text-anchor="middle" fill="#262626">0.75</text><text x="1751.2" y="1088.8" font-size="14" text-anchor="middle" fill="#262626">1.00</text><text x="1388.5" y="694.5" font-size="14" text-anchor="end" fill="#262626">0.75</text><text x="1388.5" y="743" font-size="14" text-anchor="end" fill="#262626">0.50</text><text x="1388.5" y="791.4" font-size="14" text-anchor="end" fill="#262626">0.25</text><text x="1388.5" y="839.9" font-size="14" text-anchor="end" fill="#262626">0.00</text><text x="1388.5" y="888.3" font-size="14" text-anchor="end" fill="#262626">−0.25</text><text x="1388.5" y="936.8" font-size="14" text-anchor="end" fill="#262626">−0.50</text><text x="1388.5" y="985.2" font-size="14" text-anchor="end" fill="#262626">−0.75</text><text x="1388.5" y="1033.6" font-size="14" text-anchor="end" fill="#262626">−1.00</text><text x="1585" y="1109" font-size="14.6" text-anchor="middle" fill="#262626">(MAF / TAC ) Log2FC</text><text transform="translate(1347.3 846.5) rotate(-90)" text-anchor="middle" font-size="17.3" fill="#262626">(MAF/TAC) SCENIC Logistic Reg. Coef</text><circle cx="1801.8" cy="738.5" r="8.3" fill="#4c72b0"/><circle cx="1801.8" cy="780.4" r="8.1" fill="#dd8452"/><text x="1812.4" y="746" font-size="21.5" fill="#111">N.S.</text><text x="1813.5" y="787.8" font-size="21.5" fill="#111">Sig.</text><text x="1767.4" y="824.3" font-size="22.3" fill="#111">% cells express</text><circle cx="1805" cy="856.7" r="5" fill="#333"/><text x="1819.5" y="863.1" font-size="22.3" fill="#111">0.0</text><circle cx="1805" cy="891" r="7.2" fill="#333"/><text x="1819.5" y="897.4" font-size="22.3" fill="#111">0.4</text><circle cx="1805" cy="925.5" r="8.5" fill="#333"/><text x="1819.5" y="931.9" font-size="22.3" fill="#111">0.8</text><g transform="scale(.5)" fill="none" stroke-width="7.2" stroke-linecap="round"><path stroke="#d322df" d="M1851 3226h0"/><path stroke="#2188f0" d="M1735 2968h0m-11 5h0m-9-9h0m-23 9h0m-4-3h0m-7-7h0m-3 11h0m-6-6h0m-32 2h0m-3-4h0m-29-6h0m-16 15h0m-75 23h0m104 0h0m32-16h0m11 4h0m3 13h0m5-1h0m6-6h0m8 0h0m12-10h0m40-2h0m10 4h0m7 12h0m-10 6h0m-1 4h0m-1 6h0m-17-6h0m-2 6h0m-7-12h0m-7 23h0m-13-10h0m-18-4h0m-7 14h0m-16-15h0m-10 13h0m-14-21h0m-51 19h0m-37 2h0m-30 4h0m87 3h0m28 6h0m17 5h0m18-12h0m17-1h0m8 20h0m13-9h0m4-12h0m8 0h0m8 3h0m34-3h0m24 20h0m15 5h0m-11 10h0m0 4h0m-39-13h0m-8 9h0m-16 1h0m-24-3h0m-12 2h0m0 9h0m-5-16h0m-14 13h0m-1-5h0m-32-5h0m-104 5h0m-63 8h0m-13 16h0m7-12h0m92 14h0m50 4h0m52-10h0m36-5h0m11 0h0m4 2h0m44 12h0m2-18h0m4 2h0m9 9h0m9 1h0m20-9h0m2 18h0m-11 14h0m-20 4h0m-16 1h0m-8-12h0m-28 18h0m-7-1h0m-13-15h0m-30 14h0m-15-18h0m-26 19h0m-87-13h0m-25 10h0m-1-15h0m11 30h0m15 11h0m2-20h0m84 6h0m42 16h0m39 0h0m25-21h0m0 8h0m15 4h0m24-3h0m82 26h0m-291-6h0m-20-3h0m46 25h0m53 13h0m158 16h0m-8 0h0m-279-4h0m260 30h0m-104 25h0m-7 29h0"/><path stroke="#e9812e" d="M1570 2937h0m26-4h0m45 70h0m-95-1h0m196 22h0m64 35h0m-128-3h0m-49 85h0m124-18h0m-6 63h0m-180 29h0m-30-4h0m43 27h0m32-8h0m12 0h0m9 2h0m84 14h0m-21 16h0m-15 16h0"/><path stroke="#ad4516" d="M1577 2941h0m121 21h0m-21 3h0m-168 29h0m31 1h0m61 51h0m161-11h0m41 1h0m7 21h0m-164 10h0m79 22h0m9-8h0m77-7h0m-36 23h0m-260 18h0m3 8h0m73 11h0m19-13h0m129 21h0m5-20h0m11 16h0m38-4h0m5-3h0m36-8h0m-181 33h0m-17 6h0m-80-17h0m-7 15h0m-54 13h0m21-1h0m13 9h0m41 5h0m55-11h0m-52 39h0m-14-9h0m-3-7h0m-78 10h0m34 13h0m13-3h0m9 9h0m4-9h0m19 2h0m256 170h0"/><path stroke="#cfe5c8" d="M1645 2951h0m8 2h0m-78 23h0m39 15h0m-193 34h0m17 4h0m129-2h0m151 24h0m-22 20h0m-2-23h0m-72 20h0m-181-9h0m-26-9h0m-9 13h0m5 13h0m2 8h0m18-11h0m1 9h0m41-8h0m10 6h0m101-8h0m39 14h0m47 5h0m32 2h0m-106 9h0m-45 11h0m-27-9h0m-44 2h0m-31 1h0m-22 16h0m9 0h0m4 0h0m12-2h0m24 4h0m9 10h0m61-2h0m-34 16h0m-9 1h0m-8 3h0m-30-2h0m-25 2h0m245 22h0m116 5h0m24 31h0m-73 0h0m-13-5h0m-97 3h0m-55-15h0m-69 32h0m104-3h0m33 6h0m27 8h0m18-4h0m3-7h0m16 10h0m20-1h0m8-1h0m16-13h0m45 18h0m40-10h0m13 34h0m-50 0h0m-26-11h0m-4 7h0m0-5h0m-6 7h0m-7 0h0m-4 2h0m-19-1h0m-21-8h0m-21-13h0m-5 0h0m-18 12h0m-41 6h0m-3-13h0m-5 13h0m-4-1h0m-14 2h0m-33-11h0m23 33h0m6-4h0m10 4h0m18-14h0m6 10h0m6 5h0m15-12h0m5 14h0m12-19h0m0 16h0m9-12h0m0 10h0m3 7h0m19-19h0m11-3h0m6 21h0m24-2h0m14-1h0m30-17h0m39 2h0m31 9h0m-17 31h0m-15-17h0m-3 3h0m-1 16h0m-48 0h0m-1-5h0m-40-16h0m0 12h0m-2-5h0m-10 4h0m-24 6h0m-3-2h0m-10-3h0m-1 9h0m-14-4h0m-6-8h0m-16-7h0m-4 1h0m144 27h0m51 3h0m27-4h0m-45 54h0"/><path stroke="#9c32e8" d="M1656 2963h0m-120 60h0m-8 0h0m-68-7h0m70 11h0m26 5h0m8 16h0m-56 20h0m-24 17h0m342 58h0m5 4h0m-101 11h0m87 41h0m-206 1h0m173 20h0m10 4h0m37 9h0"/><path stroke="#2a2a2a" d="M1765 2993h0m39 56h0m-86 5h0m44 105h0m-279 56h0m175 42h0"/><path stroke="#4a66e6" d="M1582 2941h0m217 79h0m-32-6h0m34 51h0m-4-4h0m-42 6h0m-146-17h0m157 38h0m40-8h0m15-5h0m9 40h0m-15 3h0m-10-6h0m-27-9h0m-29-6h0m-16-1h0m-116 1h0m-13 25h0m173 18h0m61-13h0m2 14h0m5 8h0m-14 12h0m-6 2h0m-4-10h0m-7 14h0m-122-12h0m-208 30h0m239 6h0m79-21h0m8 21h0m2-20h0m0 17h0m17 2h0m6-6h0m4-8h0m-7 17h0m-39 35h0m6-10h0m45 12h0m13 4h0m11-4h0m5 26h0m-27-16h0m-34 19h0m-35-8h0m-9 5h0m53 22h0m1 6h0m33-10h0m25 24h0m-30 4h0m-51-8h0m-20-4h0m53 42h0m1-16h0m18 26h0m-3 7h0"/><path stroke="#8a3513" d="M1622 2973h0m160 49h0m-64-7h0m9 21h0m-65 27h0m-255-14h0m120 46h0m122-8h0m132 14h0m-317 27h0m9 5h0m18 4h0m13-5h0m163-1h0m-173 27h0m-7 3h0m129 19h0m140-7h0m10 37h0m-204-3h0m-45 9h0m70 15h0m1 24h0"/><path stroke="#000000" d="M1405 3044h0m184-13h0m16 9h0m17 35h0"/><path stroke="#f09c34" d="M1504 2976h0m135 10h0m103-8h0m6 14h0m-71 86h0m108 0h0m-186 18h0m-88 24h0m177 23h0m3-5h0m13-9h0m64-3h0m4 32h0m84 41h0m-233 5h0m72 17h0m138 7h0m37 95h0"/><path stroke="#5e5e5e" d="M1568 2932h0m30 18h0m83 8h0m-75 11h0m102 33h0m-152 39h0m184 22h0m-2-15h0m-147 6h0m-57-4h0m-17 6h0m-31 14h0m-17 0h0m-50-10h0m1 17h0m37 7h0m7-7h0m134-2h0m10 11h0m135 18h0m-77 9h0m-135 5h0m-41 11h0m142-8h0m197 17h0m-32 8h0m-286 18h0m-21-20h0m164 32h0m58-3h0m98 5h0m-154 14h0m-5 5h0m-12 20h0m-26 48h0m36 3h0m231 0h0"/><path stroke="#8c8c8c" d="M1527 2947h0m19-3h0m12 6h0m27-13h0m8 6h0m26 4h0m6 3h0m3-7h0m20 4h0m46 7h0m-17 6h0m-24 10h0m-1-10h0m-6-6h0m-21 16h0m-7 1h0m-3-4h0m-4-14h0m-3 2h0m-2 18h0m-12-20h0m-13 8h0m-5-3h0m-9-2h0m-3 12h0m-4-8h0m-4 7h0m-6 2h0m-6-6h0m-6-7h0m-3 19h0m-4-23h0m-3 6h0m-9 0h0m0 15h0m-1-8h0m0-11h0m-3 16h0m-3 3h0m-2-10h0m-7-2h0m-4 12h0m-8-5h0m-6 5h0m1 5h0m8 15h0m4-9h0m0-6h0m2 13h0m27-10h0m3 9h0m1-5h0m0 11h0m6-4h0m13-8h0m14-8h0m22 3h0m10 11h0m7 6h0m1-9h0m28-6h0m4 0h0m1 18h0m8-19h0m9 18h0m21-10h0m6 7h0m15-19h0m8 6h0m3-3h0m3 9h0m16-4h0m1-8h0m14 7h0m33 39h0m-16-7h0m-3-2h0m-19 1h0m-5-7h0m-42 9h0m-6-5h0m-24 4h0m-18-4h0m-6 0h0m-21-1h0m-8-1h0m-5 1h0m-25 5h0m-2-15h0m-46 7h0m-15 4h0m-25 5h0m-5-4h0m-16 8h0m-11-10h0m-30 22h0m1-7h0m4 14h0m7 1h0m11-10h0m9 1h0m18-3h0m43 9h0m11-2h0m10-7h0m1 13h0m9 3h0m21 3h0m17-6h0m7-14h0m11 7h0m3-8h0m6 0h0m7 20h0m4-3h0m4 2h0m28-13h0m16 1h0m6-3h0m29-3h0m4 14h0m6 4h0m45-15h0m22 6h0m4 1h0m2-7h0m3 6h0m13 6h0m9 12h0m-15 0h0m-2-3h0m-13 3h0m-1 15h0m-5-4h0m-51-13h0m-21-3h0m-42 22h0m-6-14h0m-25-6h0m-19-2h0m-20 2h0m-4 16h0m-2-3h0m-4-10h0m-19 13h0m-1-16h0m-27-2h0m-21 1h0m-2 15h0m-19-9h0m-4 5h0m0-4h0m-2 13h0m-17-2h0m-15-10h0m-11 0h0m-8 5h0m-1 5h0m-6-19h0m-29 9h0m24 22h0m6-6h0m13 0h0m32-2h0m6 5h0m48 5h0m1-10h0m24 3h0m4 9h0m14-12h0m37 13h0m12-4h0m4-3h0m1 10h0m14 5h0m3-20h0m21 14h0m3-10h0m2 15h0m11-9h0m14 12h0m25-12h0m91 9h0m7-10h0m-25 18h0m-16 7h0m-16-6h0m-25-5h0m-9 17h0m-6-16h0m-7 3h0m0 6h0m-56 5h0m-6-2h0m-14-11h0m-8 2h0m-24 4h0m-8-6h0m-22 6h0m-32-7h0m-6 22h0m-2-17h0m-20 3h0m-18 2h0m-15-9h0m-27-2h0m-1 7h0m-12-7h0m-6 1h0m-25 15h0m60 22h0m35 6h0m0-13h0m4 13h0m8 0h0m24-18h0m6 16h0m9-3h0m9 6h0m5-3h0m21-14h0m54 0h0m7 10h0m7-8h0m4-2h0m7 1h0m30 16h0m2-11h0m110 2h0m0 15h0m-27 17h0m-19-16h0m-11 18h0m-12-3h0m-23 2h0m-6 2h0m-36-16h0m-18-6h0m-24 6h0m-19 6h0m-23-2h0m-20-5h0m-13 10h0m-4-2h0m-21 8h0m-12-3h0m-22-13h0m-2-4h0m-36 17h0m1 18h0m10-9h0m15 19h0m19-3h0m3-9h0m19 1h0m32 0h0m24-5h0m31 15h0m9-22h0m1 9h0m16 12h0m16-11h0m44 9h0m14-10h0m119-4h0m4-5h0m19 38h0m-20-10h0m-44 13h0m-16-12h0m-41-4h0m-36 2h0m-21 7h0m-51-6h0m-40 19h0m-5-3h0m-46 3h0m-3-8h0m-2-13h0m-4 12h0m-2-8h0m-10-5h0m-26 20h0m-7-6h0m-6-7h0m-11 16h0m13 5h0m75 17h0m8-19h0m5 5h0m1 12h0m15-19h0m9 9h0m19 7h0m70-12h0m72 14h0m14-6h0m77 18h0m-42 5h0m-159-5h0m-59 5h0m-4-1h0m-14 12h0m-14-9h0m-4-10h0m-13 0h0m-26-2h0m-4 2h0m74 22h0m24 8h0m11 2h0m1-10h0m6 19h0m11-2h0m4 2h0m15-10h0m45-3h0m29 3h0m7-8h0m69 19h0m-4 20h0m-99-11h0m-24 6h0m137 14h0m48 22h0m-58 55h0"/><path stroke="#f3dc8c" d="M1417 3044h0m33 96h0m106 23h0m-85-12h0m104 44h0"/><path stroke="#eec977" d="M1665 2966h0m13 97h0m-47-3h0m-136-11h0m-34 19h0m11 19h0m-13 40h0m9 31h0m21 21h0m157 10h0m-120 22h0m-34 19h0m86 23h0m23 12h0"/><path stroke="#c9581a" d="M1662 2946h0m48 22h0m-198-13h0m183 51h0m-16 13h0m-133 93h0m180 26h0m99 11h0m-87 11h0m-63-4h0m-16 3h0m-11 11h0m36 19h0m22-9h0m-20 14h0m-17 10h0m-13 6h0m-131 20h0m54-14h0m22 1h0m24 17h0m28-11h0m49 14h0m18-6h0m3-9h0m106 4h0m9 3h0m35 8h0m0 14h0m-8-2h0m-74 38h0m40-6h0m2 6h0m4 0h0m11-7h0m21-12h0m15 40h0m-15-11h0m-6 13h0m-1-6h0m-8 7h0m-8-20h0m-3 12h0m-38-6h0m-9 10h0m20 10h0m17 6h0m34 22h0m-12 2h0m-3 5h0m-6 4h0m0-15h0m-5-3h0m-3 1h0m-1 9h0m-5 1h0m-3-5h0m-3-6h0m-5 14h0m-2-6h0m-3 23h0m6-5h0m13 1h0m-4 22h0m-14 0h0m-1 10h0"/><path stroke="#eab04a" d="M1611 2937h0m202 123h0m-349 1h0m295 73h0m11 33h0m-222-21h0m242 41h0m-20 27h0m-10-7h0m-44-15h0m-137 14h0m95 45h0m-152-10h0m262 40h0"/><path stroke="#de6b24" d="M1509 3005h0m163 63h0m-95 27h0m235 14h0m-72 27h0m55-14h0m-30 32h0m-74 7h0m-68-10h0m-1 9h0m-48-7h0m20 36h0m28-18h0m110 4h0m8 11h0m-75 13h0m-18 16h0m-22 6h0m50 10h0"/><path stroke="#6c52e8" d="M1667 3007h0m41 57h0m-45 27h0m86-11h0m34 42h0m55 36h0m-29-1h0m-24-6h0m-10 2h0m-73 52h0"/><path stroke="#f01cf0" d="M1802 3137h0m-283 14h0"/><path stroke="#cfe5c8" d="M1637 2942h0m-90 24h0m156 46h0m-47 11h0m-235 14h0m17-2h0m66 1h0m22 5h0m156-5h0m13-9h0m-120 24h0m-21 2h0m-125 10h0m0 6h0m-14-10h0m35 32h0m6-2h0m19 1h0m13-2h0m70-5h0m8-6h0m242 18h0m8 16h0m-62 6h0m-102-5h0m-129 4h0m-1-6h0m-16 0h0m-63 5h0m-10-2h0m-5-10h0m-1 26h0m38 5h0m14 5h0m21 4h0m34-17h0m64 10h0m197 8h0m-210 2h0m-52 21h0m-1-15h0m-4-1h0m-10 10h0m-19-12h0m-22 2h0m-34-3h0m37 34h0m24 3h0m50-8h0m28 5h0m226 6h0m-26 16h0m-86 0h0m-18 7h0m-6-11h0m-34 11h0m-36-17h0m-90 12h0m-5 6h0m-19-20h0m87 39h0m29 5h0m19 2h0m5-2h0m3-8h0m25 10h0m3-9h0m10-3h0m20 6h0m10-12h0m11 15h0m79-17h0m28 7h0m64 33h0m-20-8h0m-73-7h0m-28 5h0m-9 8h0m-6-4h0m-34 2h0m-1-5h0m-2-6h0m-4 11h0m-13-10h0m-50 6h0m-4 13h0m-15-6h0m-17 0h0m-27 11h0m2-3h0m66 0h0m12 6h0m9-6h0m5 6h0m3-6h0m4 21h0m7 1h0m10-17h0m24-3h0m12-1h0m6 13h0m20-9h0m0 14h0m4-6h0m20-2h0m28-3h0m5 1h0m9-5h0m17 14h0m15 3h0m17-9h0m-22 19h0m-64-1h0m-31 0h0m0-6h0m-20 19h0m-10-6h0m-25 7h0m-1-14h0m-19-5h0m-4 11h0m-18-7h0m-3 2h0m-15-7h0m53 25h0m8 6h0m109-2h0m53 24h0"/><path stroke="#2a2a2a" d="M1411 3062h0m213 75h0"/><path stroke="#f01cf0" d="M1685 3056h0m-77 115h0"/><path stroke="#000000" d="M1568 2960h0m-39 184h0m74 78h0"/><path stroke="#9c32e8" d="M1501 2966h0m15 17h0m102 25h0m-135 25h0m25 4h0m11 32h0m104 74h0m-23 8h0m51 55h0m178 31h0m13-20h0m-31 168h0"/><path stroke="#8c8c8c" d="M1508 2951h0m49-12h0m8-6h0m11 17h0m5-1h0m6-4h0m3 6h0m9-5h0m7-13h0m1 5h0m1 8h0m2-13h0m3 13h0m15-9h0m109 34h0m-7-2h0m-16 1h0m-8-8h0m-13 2h0m-38 11h0m-17-13h0m-10 6h0m-2-11h0m-3 8h0m-5-2h0m-2-9h0m-1 7h0m-15 4h0m-1 4h0m-7 0h0m-9 4h0m-12-4h0m-3 4h0m-26-20h0m-4 10h0m-11 8h0m-5-11h0m-18 11h0m-18-3h0m-5 3h0m-8 26h0m18-17h0m9 19h0m14-23h0m14 11h0m12 0h0m8 9h0m6-15h0m3-3h0m4 10h0m6 2h0m24-9h0m8 3h0m12 4h0m7 1h0m4 1h0m19 2h0m7-10h0m2 13h0m45-8h0m21 0h0m0 7h0m23 2h0m3-8h0m16 1h0m17 27h0m-72-8h0m-5 10h0m-39-17h0m-13 2h0m-32-3h0m-15 5h0m-16 4h0m-12 5h0m-10 2h0m-8 1h0m-4 5h0m-5-12h0m-4-6h0m-11 9h0m-5 9h0m-6-13h0m-1-6h0m-23 2h0m-2 9h0m-9-8h0m0 9h0m-8 4h0m-11-14h0m-33 13h0m16 20h0m13-14h0m4 19h0m33-9h0m6 10h0m8-16h0m1 15h0m7-15h0m25 2h0m5 4h0m12-9h0m20 9h0m24 11h0m21-7h0m6-1h0m8-7h0m57 10h0m15-3h0m17 8h0m9-15h0m14-1h0m61 27h0m-2-8h0m-36 11h0m-25-5h0m-17 4h0m-27 12h0m0-18h0m-11 11h0m-25 2h0m-36-1h0m-8 5h0m-1-20h0m-6 15h0m-7 0h0m-10-11h0m-18 15h0m-13-9h0m-12-3h0m-5-8h0m-1 10h0m-2 6h0m-7-4h0m-13 7h0m-5-12h0m-3 3h0m-15-3h0m-3 16h0m-12-6h0m-2-12h0m-6-3h0m-15 11h0m-52 12h0m1 10h0m37-6h0m15 1h0m43 12h0m12-14h0m16 9h0m25 6h0m9-7h0m1 6h0m18-16h0m0 18h0m6-5h0m6-11h0m3-4h0m20 22h0m19-3h0m11-18h0m55 11h0m2 4h0m8-9h0m0-7h0m15 6h0m3-3h0m12 18h0m3-6h0m17-10h0m14 16h0m29-10h0m13 27h0m-7 6h0m-30-2h0m-38-5h0m-44-9h0m-22 8h0m-2 4h0m-14-9h0m-32 13h0m-5 2h0m-1-4h0m-14-5h0m-10 1h0m-6-11h0m-4 5h0m-10-8h0m-8 3h0m-12 16h0m-20-13h0m-33 15h0m-12-12h0m-41 1h0m-49 0h0m24 22h0m74-4h0m43-3h0m8 15h0m8-10h0m8-2h0m1 15h0m32 1h0m12-7h0m2-3h0m6 13h0m9-10h0m8 5h0m19 2h0m42-8h0m18 11h0m3-12h0m11-4h0m40 10h0m40-9h0m4 5h0m1 34h0m-1-14h0m-13-2h0m-5 11h0m-35-4h0m-8 1h0m-20-9h0m-33 1h0m-11 15h0m-1-4h0m-7-14h0m-39 5h0m-6-7h0m-2 7h0m-16 7h0m-12-13h0m-18 12h0m0-15h0m-8 16h0m-42-4h0m-31 4h0m-1-14h0m-4 0h0m0 8h0m-56 23h0m17 13h0m27-15h0m5 11h0m5-4h0m11-3h0m11-8h0m7 12h0m17-9h0m8 2h0m6 10h0m2-12h0m5 13h0m12-18h0m15 13h0m8-9h0m42 9h0m1-14h0m4 18h0m19-6h0m12 5h0m24 0h0m17-2h0m15-10h0m9 17h0m4-3h0m32-9h0m45 3h0m6 7h0m10-6h0m-79 33h0m-59-15h0m-59-6h0m-44 2h0m-13 3h0m-48 8h0m-22-15h0m-6 14h0m-5-5h0m-43-4h0m6 28h0m12 2h0m11 11h0m8-17h0m14 0h0m5 1h0m4 11h0m5 0h0m7-7h0m15 6h0m1 6h0m4 1h0m7-19h0m10 14h0m2-14h0m9 14h0m10 4h0m29-15h0m42-3h0m6 3h0m60 16h0m11-11h0m18 9h0m65-13h0m-2 20h0m-156 5h0m-18-5h0m-4-4h0m-12 4h0m-3 16h0m-8-10h0m-8-3h0m-13 10h0m-3-4h0m-15-4h0m0-4h0m-1 10h0m-11-8h0m-2-6h0m-19 9h0m-7 2h0m49 12h0m32 15h0m26-3h0m196-5h0m-52 40h0m-27-14h0m-59 1h0m-25 2h0m-34-10h0m-17-1h0"/><path stroke="#4a66e6" d="M1475 2993h0m219 6h0m-271 42h0m394 22h0m-41 2h0m-274 3h0m302 8h0m7 27h0m-8-6h0m-2 13h0m-53 9h0m65 10h0m24 34h0m-20-4h0m-11-14h0m-10 10h0m-17-9h0m-21 5h0m-4 5h0m-13 17h0m30 7h0m3 5h0m30-1h0m20 4h0m4-9h0m1 7h0m25-5h0m5 6h0m-49 13h0m-9-6h0m-8-2h0m-9 18h0m-234-12h0m181 18h0m55 12h0m28 3h0m32-8h0m17-3h0m-7 25h0m-7 16h0m-8-19h0m-107 18h0m32 14h0m38 5h0m30 0h0m33 27h0m-56-4h0m-40-8h0"/><path stroke="#c9581a" d="M1534 3027h0m210 10h0m-195 13h0m106 64h0m60 10h0m-47 25h0m-31 4h0m-31 10h0m-133 14h0m140-5h0m228 40h0m-112-9h0m-17-3h0m-5-2h0m-46 12h0m-2-10h0m-16 4h0m-19-8h0m12 32h0m205 28h0m-21 5h0m-29-7h0m4 31h0m70-2h0m15 9h0m0 13h0m-4-11h0m-4-3h0m-15 14h0m-3-5h0m-10-6h0m-4 14h0m-4-3h0m-53-13h0m24 27h0m9 10h0m11-6h0m18 2h0m9 6h0m3-3h0m5 1h0m2 4h0m4-16h0m2-5h0m3 14h0m4 5h0m-5 7h0m-12 15h0m-18 1h0m-9 5h0m-1-3h0m-7 1h0m-5-17h0m3 31h0m4 7h0m15 2h0m10-15h0m3-5h0"/><path stroke="#5e5e5e" d="M1708 2958h0m-17 2h0m-58 26h0m80-9h0m48 32h0m-56 9h0m-64 5h0m-95-5h0m-47 5h0m-29 14h0m7-3h0m142 0h0m66-7h0m122 8h0m-297 16h0m-29 0h0m34 35h0m192-12h0m-34 42h0m-24 0h0m-201-16h0m5 42h0m240-13h0m83-9h0m-50 28h0m-183 0h0m-25 16h0m-41-6h0m-12 20h0m254-1h0m41-3h0m65 10h0m17-15h0m-334 35h0m85 24h0m39-8h0m-38 50h0m283 42h0m-36 52h0"/><path stroke="#2188f0" d="M1599 2930h0m36 20h0m6-11h0m46 11h0m22 23h0m-14-14h0m-26 15h0m-65-8h0m-9-8h0m58 35h0m14-13h0m16 5h0m8 5h0m7 1h0m11-6h0m10 11h0m4-16h0m16 11h0m6 1h0m24 29h0m-7-5h0m0-14h0m-13 14h0m-21 7h0m-52-3h0m-4-14h0m-1 3h0m-18 9h0m-3-7h0m-2-11h0m-54 19h0m-169 18h0m35 6h0m141-3h0m22-8h0m40 10h0m9-4h0m4 5h0m26 0h0m28-10h0m19 9h0m8 5h0m13 4h0m-23 15h0m-4-1h0m-3-9h0m-14 3h0m-13-1h0m-4 3h0m-53-4h0m-1-4h0m-3 9h0m-127 0h0m-113 30h0m65-5h0m3-5h0m36-1h0m56-9h0m27 11h0m9-3h0m26 1h0m49 11h0m2-15h0m13 3h0m23 12h0m49-4h0m6-2h0m3-7h0m1-6h0m8 44h0m-52-5h0m-3-8h0m-17-8h0m-3 15h0m-6-11h0m-32 6h0m-9-8h0m-8 20h0m-7-14h0m-75 8h0m-37-6h0m0 9h0m-49-4h0m-6 7h0m-10-14h0m-30 16h0m39 23h0m12-8h0m189-10h0m9 9h0m36-10h0m3 13h0m3-16h0m37 2h0m2 3h0m7 7h0m18-11h0m-11 22h0m-48 6h0m-39 2h0m-12 14h0m-81-18h0m-119 0h0m-15-1h0m47 36h0m31 4h0m224 3h0m12-7h0m15 8h0m-108 20h0m-104-17h0m-28 19h0m297 14h0m-126 55h0"/><path stroke="#eec977" d="M1477 2975h0m-30 105h0m17 9h0m223 15h0m-115-3h0m-157-1h0m173 21h0m18 8h0m-80 60h0m-25 42h0m251 49h0"/><path stroke="#8a3513" d="M1612 2982h0m-186 38h0m6 73h0m27-13h0m13 14h0m115 22h0m-96-16h0m-13 18h0m-41 13h0m43-4h0m305 1h0m49 4h0m-148 14h0m-203 4h0m122 28h0m-91 51h0m61-12h0"/><path stroke="#ad4516" d="M1787 3009h0m-23 11h0m-30 27h0m67-14h0m5-2h0m11 40h0m-20-17h0m-6-5h0m-186 21h0m-24-9h0m-61 1h0m192 33h0m57-21h0m13 2h0m27 13h0m10-2h0m-11 21h0m-30 3h0m-102-15h0m-53 1h0m-29 11h0m-78-1h0m-2-10h0m-51 23h0m251 16h0m88-7h0m2 32h0m-218-1h0m-12 7h0m-6-23h0m-58 35h0m26 10h0m218 0h0m22-7h0m-167 22h0m-91-6h0m-18-1h0m39 29h0m52 11h0m109 48h0"/><path stroke="#f3dc8c" d="M1620 2952h0m16 64h0m-210 71h0m13 32h0m2 17h0m9 0h0m24 53h0m24-12h0m1 5h0m146-8h0m-123 32h0m-18 30h0m324 9h0m-160 3h0m-15 10h0m-79-9h0m187 38h0"/><path stroke="#eab04a" d="M1599 2942h0m74 19h0m-9-5h0m-46 47h0m-126 40h0m94-18h0m6 19h0m199 1h0m-372 45h0m270 27h0m187 136h0m-261-13h0"/><path stroke="#d322df" d="M1783 3008h0m-310-5h0m197 27h0m-234 74h0m314 86h0"/><path stroke="#f09c34" d="M1603 2944h0m28 32h0m-40 46h0m-43 17h0m248 97h0m-166 13h0m65 20h0m20 10h0m-81 33h0m-85 8h0"/><path stroke="#e9812e" d="M1526 3036h0m49 7h0m148 7h0m-62 19h0m-238-8h0m219 22h0m199 52h0m-193 22h0m-167 3h0m178 14h0m175-3h0m-216 33h0m-69-1h0m322 43h0m-107-2h0"/><path stroke="#de6b24" d="M1499 3017h0m81 12h0m145 2h0m3 10h0m12 28h0m-228 12h0m122-6h0m-68 22h0m107 26h0m147 40h0m-88 1h0m-6-7h0m-1-4h0m-46 1h0m-25-4h0m-38-6h0m-68 38h0m10 4h0m19 3h0m57 0h0m36-10h0m19 2h0m43-12h0m-7 33h0m-35 8h0m0-16h0m-85 10h0m-101-3h0m161 17h0m7 10h0m-80 35h0"/><path stroke="#6c52e8" d="M1756 3148h0m24 38h0m36-5h0m4 3h0m-71 30h0m-237 21h0m100-12h0m129 4h0"/><path stroke="#eab04a" d="M1574 2981h0m-36 77h0m259 26h0m-320 28h0m248 22h0m19 10h0m-62 57h0m-41-7h0m131 57h0"/><path stroke="#f09c34" d="M1682 2950h0m-22 32h0m41 20h0m-54 45h0m-156 13h0m-9 29h0m136 1h0m-51 41h0m238 35h0m-274 5h0m33 13h0m31-1h0m75-11h0m22 16h0m54-14h0m9 9h0m-22 9h0m109 43h0m-51 15h0m-65 20h0m51 0h0m-109 26h0m152 26h0"/><path stroke="#e9812e" d="M1562 2949h0m106 103h0m-162 33h0m176-5h0m132-4h0m-110 35h0m-44 16h0m20 40h0m-43 36h0m-58 7h0"/><path stroke="#9c32e8" d="M1556 3012h0m-46 8h0m-25 17h0m52 7h0m7 2h0m-21 19h0m-12-4h0m-36-7h0m173 54h0m65 52h0m-213 32h0"/><path stroke="#2a2a2a" d="M1617 3015h0m-128 34h0m150 131h0m210 155h0"/><path stroke="#d322df" d="M1699 3110h0"/><path stroke="#4a66e6" d="M1672 2947h0m-120 18h0m232 78h0m13 23h0m-269 18h0m111 1h0m68 1h0m21-4h0m76 22h0m-5 10h0m-35-8h0m-3 7h0m-17 2h0m-113-12h0m112 37h0m61-15h0m14 13h0m24 20h0m-2 8h0m-3-19h0m-2 7h0m-126-3h0m-184 25h0m270 6h0m1-14h0m23 4h0m18 19h0m7 14h0m-10 1h0m-14 1h0m-11 3h0m-5 4h0m-24-20h0m-1 17h0m-283-3h0m313 9h0m14 10h0m14-9h0m27 35h0m-29 3h0m-8 4h0m-23-12h0m-20 19h0m66 4h0m8 10h0m12 6h0m-35 11h0m-11-9h0m-13 18h0m1 23h0m28 0h0m-9 48h0"/><path stroke="#5e5e5e" d="M1651 2946h0m15 3h0m-17 23h0m-160-12h0m-1 36h0m136-16h0m126 32h0m-9 6h0m-90-11h0m-13-2h0m-68 4h0m-48 28h0m120 6h0m154 2h0m5 16h0m-161-13h0m-38 15h0m-12 8h0m-52-7h0m-19 19h0m71 2h0m28-11h0m58 13h0m38-15h0m46 3h0m28-1h0m-60 33h0m-39 21h0m88 2h0m-69 30h0m-49-12h0m-82-4h0m-104 26h0m324 39h0m-22-4h0m-98-5h0m-82-1h0m-85 18h0m166 37h0m-32-10h0m-117 2h0m114 27h0m110 16h0m-14-1h0m-49 14h0m141 57h0"/><path stroke="#f3dc8c" d="M1580 2934h0m-13 64h0m151-21h0m-23 45h0m-169-21h0m137 31h0m79-2h0m-167 35h0m-154-10h0m4 20h0m275 91h0m-234-1h0m-15-19h0m57 47h0m70 64h0m-38-17h0m-7 3h0m54 30h0m39 8h0"/><path stroke="#2188f0" d="M1632 2973h0m-65-9h0m139 35h0m66-4h0m0 4h0m-5 8h0m-14 10h0m-22-2h0m-22-7h0m-29-3h0m-18 2h0m-153 8h0m11 28h0m40-7h0m51 0h0m0 6h0m6 1h0m17-2h0m21 3h0m12-20h0m11 16h0m2 7h0m2-4h0m2-10h0m11 11h0m4-16h0m4 4h0m16-3h0m15-5h0m4 0h0m9 23h0m19-11h0m36-9h0m-11 42h0m-33-4h0m-1-5h0m-56-7h0m-1-5h0m-2 18h0m-21-6h0m-4-5h0m0 6h0m-44 2h0m-12-8h0m-22 8h0m-1-6h0m-14-6h0m-59 3h0m-62 10h0m-51 10h0m67 6h0m63 5h0m13-7h0m66 6h0m24-8h0m10 7h0m2-6h0m14 17h0m26-13h0m0 5h0m3 6h0m8-10h0m8 7h0m24 5h0m0-20h0m4 14h0m5 2h0m68-3h0m11 0h0m-13 30h0m-5 1h0m-36-20h0m-21 9h0m-1-6h0m-25 15h0m-15-8h0m-4-7h0m-8 6h0m-2 10h0m-2-3h0m-23-3h0m-16-13h0m-8 21h0m-57-22h0m-53 2h0m-22 3h0m-67 41h0m10-21h0m200 20h0m41-12h0m52 5h0m9-8h0m-78 17h0m-2 18h0m-9 3h0m-55-11h0m-82-6h0m1 38h0m59-1h0m113-9h0m26 11h0m16-7h0m-37 24h0m-130 25h0m155 0h0m-100 11h0m2 34h0"/><path stroke="#ad4516" d="M1608 2982h0m171 30h0m-277 14h0m286 21h0m10-21h0m-18 35h0m-358 4h0m43 18h0m328 6h0m0-5h0m28 19h0m-1 7h0m-45-3h0m-153 6h0m-32-13h0m-88 1h0m270 42h0m17-7h0m17 0h0m19-3h0m24 27h0m-40-8h0m-220-4h0m-52 16h0m-3-3h0m-10-7h0m-38 2h0m-11 27h0m128-2h0m70 3h0m38-16h0m147 37h0m-16-4h0m-351 12h0m-9-10h0m111 20h0m228-7h0m-31 88h0"/><path stroke="#cfe5c8" d="M1468 2997h0m111-15h0m-98 62h0m155-12h0m186 37h0m-47 1h0m-321 0h0m-46-2h0m38 23h0m52-5h0m47 9h0m77-4h0m36-14h0m-20 33h0m-33 7h0m-78-3h0m0 5h0m-38-15h0m-26 5h0m-10-1h0m-11-2h0m-16 4h0m4 10h0m3 18h0m12 1h0m45-15h0m39 8h0m16 5h0m18-9h0m2 21h0m-37 9h0m-82 3h0m44 22h0m66-11h0m44 1h0m184 13h0m9 29h0m-59-7h0m-9 2h0m-180-17h0m-52 4h0m158 35h0m13-5h0m17 6h0m7-16h0m36 12h0m5 7h0m101 13h0m-44 7h0m-31-6h0m-19-6h0m-16 10h0m-3-2h0m-4-12h0m-29 20h0m-9-20h0m-3 16h0m-4 1h0m-16-3h0m-1-14h0m-38 10h0m-18-3h0m18 34h0m19-13h0m1 8h0m4 8h0m23-18h0m14 16h0m2-8h0m9 0h0m14 0h0m4-6h0m4 17h0m40-4h0m3-11h0m28-5h0m9 5h0m32 5h0m34 5h0m9 16h0m-67-6h0m-15 11h0m-14 6h0m-2-12h0m-33 16h0m-5-18h0m-12 17h0m-5-12h0m-13-8h0m-9 9h0m-24-1h0m-30-9h0m70 23h0m86 0h0m17 15h0m7-3h0m15 4h0m-13 54h0"/><path stroke="#6c52e8" d="M1444 3013h0m265 79h0m110 23h0m-66-3h0m-113 16h0m127 8h0m31 3h0m-31 25h0m2 28h0m-88 25h0m-26 69h0m204 72h0"/><path stroke="#8a3513" d="M1611 2979h0m1 39h0m-173 5h0m57 2h0m173 35h0m-144 8h0m5 23h0m-43 23h0m-53-6h0m50 16h0m4-3h0m63 43h0m213 15h0m102 33h0m-363 8h0"/><path stroke="#f01cf0" d="M1614 2994h0m137 11h0m-120 160h0"/><path stroke="#8c8c8c" d="M1533 2944h0m2 6h0m6-2h0m6-8h0m16 5h0m4 0h0m1 5h0m3-3h0m1-16h0m2 13h0m1-7h0m13-7h0m48 7h0m3 11h0m82 19h0m-1 4h0m-21-13h0m-13 5h0m-17-5h0m-12-2h0m-21 14h0m-6-17h0m0 6h0m-15 16h0m-6-11h0m-6-2h0m-6 11h0m-7 0h0m-18 1h0m-16-2h0m-1-13h0m-6-4h0m-8 3h0m-4 13h0m-3-5h0m-1-10h0m-5 7h0m-6 5h0m-24-7h0m-3-5h0m-2 4h0m-20 28h0m5 8h0m1-18h0m4 18h0m1-6h0m3-4h0m14-4h0m13 14h0m0-9h0m6-4h0m4 13h0m19-12h0m15 6h0m6 9h0m6-15h0m8 7h0m3-2h0m3-4h0m10 1h0m8 4h0m2-7h0m5 9h0m12-13h0m18-3h0m13 13h0m17-2h0m54 0h0m6 4h0m47 13h0m-31 15h0m-4-10h0m-17 13h0m-14-10h0m-7 9h0m-18-1h0m-42-13h0m-6 14h0m-9-13h0m-1 13h0m-15 2h0m-5-2h0m-4-1h0m-9-6h0m-2-9h0m-5 15h0m-2-8h0m-10-1h0m-3 7h0m-3-16h0m-12 4h0m-10-1h0m-9 12h0m-4-9h0m0-5h0m-9 6h0m-20-9h0m-2 11h0m-18-9h0m-5 18h0m-19-12h0m-47 33h0m3-13h0m5 18h0m24-20h0m21 1h0m10 15h0m5-18h0m3 17h0m11-2h0m5-6h0m5-4h0m7 5h0m53 9h0m6-19h0m2 3h0m6 12h0m53 7h0m4-7h0m11 4h0m37-4h0m5-13h0m2 15h0m44-7h0m12-1h0m55 10h0m-10 22h0m-14-13h0m-6-3h0m-7 16h0m-3 3h0m-10-9h0m-4-1h0m-23 7h0m-66-14h0m-16 19h0m-7-1h0m0-4h0m-8-15h0m-11 9h0m-12 8h0m-1-10h0m-40 1h0m-5 11h0m-5-3h0m-14-3h0m-53-6h0m-6 9h0m-2-10h0m-11-2h0m-4-3h0m0 4h0m-11-2h0m-26-3h0m-3 20h0m-4 1h0m-8 0h0m-4-13h0m30 30h0m15 6h0m7-3h0m7 0h0m24-15h0m1 19h0m16-1h0m2-20h0m6-1h0m30 4h0m1 15h0m20-10h0m6-1h0m22 5h0m16 7h0m36-13h0m9 13h0m16-12h0m9-6h0m5 15h0m14-5h0m30 8h0m1-8h0m4 5h0m16-3h0m7-6h0m66 30h0m-9-5h0m-29 7h0m-44-4h0m-31 5h0m-34-12h0m-45 10h0m-9-8h0m-11 12h0m-7-4h0m-7-1h0m-5 5h0m-10-6h0m-18 4h0m-3-10h0m-7-6h0m-94 19h0m-4 2h0m-2-9h0m-4-11h0m14 44h0m14-9h0m24-11h0m14 19h0m4-11h0m19 9h0m14-16h0m3 9h0m3 9h0m27-4h0m4-15h0m11 15h0m17-6h0m5-4h0m8 7h0m19-4h0m10 0h0m15-10h0m9 16h0m11 1h0m98 2h0m16-18h0m20 4h0m-27 24h0m-70 6h0m-15-10h0m-8 11h0m-82-3h0m-4 9h0m-8-2h0m-22-11h0m-4-6h0m-3 11h0m-13-5h0m-7 6h0m-60 5h0m-33 2h0m-18 2h0m-3-13h0m-1 14h0m14 5h0m1 4h0m36-5h0m16 0h0m3 0h0m24 18h0m9-19h0m7 11h0m4-10h0m11 9h0m7 4h0m2-8h0m25 10h0m7-15h0m4 13h0m43-1h0m11-6h0m2 10h0m101-9h0m19 12h0m60 5h0m-2 16h0m-8-6h0m-21 1h0m-13 5h0m-22 1h0m-23-6h0m-4-3h0m-54 11h0m-10-20h0m-71 3h0m-2-4h0m-8 23h0m-6-23h0m-1 15h0m-30-5h0m-18-7h0m-7-3h0m0 21h0m-19-3h0m-9-13h0m-11 16h0m-2-6h0m-3-13h0m-24 8h0m-6 3h0m0 12h0m9 3h0m5 2h0m52 12h0m5 4h0m5-17h0m0 10h0m2-5h0m8 5h0m15-13h0m6 14h0m5-3h0m20 5h0m42-11h0m11-5h0m17 12h0m4-5h0m3 2h0m19 3h0m108-7h0m-6 29h0m-124 6h0m-4-8h0m-24 6h0m-4-11h0m-25 8h0m-6-13h0m-9 8h0m-1-4h0m-9 6h0m-3-6h0m-6 15h0m-5 4h0m-12-6h0m-17-15h0m-5 6h0m-13-7h0m-11 4h0m-15 3h0m51 18h0m28 8h0m14-6h0m3-3h0m12 14h0m34 5h0m16 12h0m-43-6h0m196 38h0m3 24h0m-17-15h0m1 46h0"/><path stroke="#000000" d="M1738 3116h0"/><path stroke="#eec977" d="M1553 2962h0m-64 44h0m-3 23h0m325 10h0m-387 52h0m361-1h0m-316 20h0m18 63h0m-2 38h0m15 6h0m345 2h0m24 2h0m-266 56h0"/><path stroke="#c9581a" d="M1508 2966h0m203 33h0m23-1h0m-173 3h0m-111 22h0m265 8h0m25 5h0m-160 29h0m28 71h0m173 22h0m-33 1h0m-95 7h0m0-5h0m-71 5h0m-103-11h0m160 17h0m27 19h0m28-14h0m27-4h0m4-2h0m31 32h0m-50 10h0m-27-7h0m-35 7h0m-16-12h0m-29 10h0m-126 1h0m174 7h0m105 7h0m53 2h0m53-7h0m20 19h0m-63 0h0m27 31h0m3-5h0m16 1h0m2 8h0m3-9h0m6 35h0m-1 6h0m-7-14h0m-37 12h0m-2-13h0m-1 6h0m-2 3h0m-3-4h0m-11-5h0m3 43h0m11-22h0m32 7h0m5 15h0m2-21h0m21 1h0m-23 31h0m-34 0h0m-1-4h0m6 41h0m6-22h0m1 8h0m0 4h0"/><path stroke="#de6b24" d="M1544 2977h0m105 55h0m-21 67h0m111 65h0m-207-8h0m141 19h0m8-1h0m4 9h0m61-15h0m95 22h0m-143 8h0m-58 1h0m-14 25h0m225 8h0m-141 47h0"/></g><rect x="690.3" y="1453.5" width="266.8" height="258.5" fill="none" stroke="#3a3a3a" stroke-width="1.3"/><text x="823.7" y="1446.3" font-size="15" text-anchor="middle">region</text><text x="823.7" y="1729.2" font-size="15" text-anchor="middle">UMAP1</text><text transform="translate(682.1 1582.8) rotate(-90)" text-anchor="middle" font-size="15">UMAP2</text><text x="985.1" y="1486.7" font-size="15">Amygdala</text><text x="985.1" y="1509.2" font-size="15">CGE</text><text x="985.1" y="1531.6" font-size="15">CGE+LGE</text><text x="985.1" y="1554" font-size="15">Hippocampus</text><text x="985.1" y="1576.5" font-size="15">Insula</text><text x="985.1" y="1599" font-size="15">LGE</text><text x="985.1" y="1621.4" font-size="15">MGE</text><text x="985.1" y="1643.9" font-size="15">MGE+CGE+LGE</text><text x="985.1" y="1666.3" font-size="15">Motor</text><text x="985.1" y="1688.8" font-size="15">PFC</text><text x="1152.1" y="1486.7" font-size="15">POH+POA</text><text x="1152.1" y="1509.2" font-size="15">Parietal</text><text x="1152.1" y="1531.6" font-size="15">Septum</text><text x="1152.1" y="1554" font-size="15">Septum+NAc</text><text x="1152.1" y="1576.5" font-size="15">Septum+Putamen</text><text x="1152.1" y="1599" font-size="15">Striatum</text><text x="1152.1" y="1621.4" font-size="15">Striatum+Claustrum</text><text x="1152.1" y="1643.9" font-size="15">Temporal</text><text x="1152.1" y="1666.3" font-size="15">V1</text><text x="1152.1" y="1688.8" font-size="15">xLGE</text><circle cx="974.4" cy="1481.8" r="4" fill="#f3dc8c"/><circle cx="974.4" cy="1504.2" r="4" fill="#eec977"/><circle cx="974.4" cy="1526.7" r="4" fill="#eab04a"/><circle cx="974.4" cy="1549.1" r="4" fill="#f09c34"/><circle cx="974.4" cy="1571.6" r="4" fill="#e9812e"/><circle cx="974.4" cy="1594" r="4" fill="#de6b24"/><circle cx="974.4" cy="1616.5" r="4" fill="#c9581a"/><circle cx="974.4" cy="1639" r="4" fill="#ad4516"/><circle cx="974.4" cy="1661.4" r="4" fill="#8a3513"/><circle cx="974.4" cy="1683.8" r="4" fill="#f01cf0"/><circle cx="1141.4" cy="1481.8" r="4" fill="#d322df"/><circle cx="1141.4" cy="1504.2" r="4" fill="#9c32e8"/><circle cx="1141.4" cy="1526.7" r="4" fill="#6c52e8"/><circle cx="1141.4" cy="1549.1" r="4" fill="#4a66e6"/><circle cx="1141.4" cy="1571.6" r="4" fill="#2188f0"/><circle cx="1141.4" cy="1594" r="4" fill="#8c8c8c"/><circle cx="1141.4" cy="1616.5" r="4" fill="#5e5e5e"/><circle cx="1141.4" cy="1639" r="4" fill="#2a2a2a"/><circle cx="1141.4" cy="1661.4" r="4" fill="#000000"/><circle cx="1141.4" cy="1683.8" r="4" fill="#cfe5c8"/><g transform="scale(.5)" fill="none" stroke-width="7.8" stroke-linecap="round"><path stroke="#ee1ff0" d="M2798 2897h0m18-2h0m16 8h0m4-6h0m7 0h0m10-8h0m3 5h0m1-11h0m8 2h0m2 14h0m9-9h0m2 6h0m9-12h0m9 16h0m8-5h0m12 4h0m21 3h0m11-5h0m59 26h0m-13-5h0m-11-11h0m-16 8h0m-2-8h0m0 17h0m-7-5h0m-13-4h0m-5 4h0m-13 0h0m-3-7h0m-5 1h0m-11-6h0m-7 8h0m-2-7h0m-7 12h0m-2-5h0m-3-10h0m0 20h0m-8-17h0m-8 19h0m-6-18h0m-5 9h0m-1-7h0m-6 7h0m-5-6h0m-1 8h0m-2 5h0m0-17h0m-14 15h0m-9-12h0m-7 12h0m-10-19h0m-4 23h0m-8-22h0m-6 18h0m0-6h0m-13-9h0m-4 13h0m-7-10h0m-3 6h0m-19 13h0m1 5h0m1 6h0m10-5h0m6-8h0m5 23h0m0-5h0m25-9h0m2 13h0m7-1h0m2-11h0m19 10h0m8 3h0m2-9h0m3-12h0m9 1h0m7 9h0m18 6h0m10 1h0m2-12h0m12 1h0m5-3h0m9-3h0m5 21h0m3-18h0m1 11h0m14 2h0m1-11h0m1-6h0m58-1h0m3 7h0m13 5h0m43 14h0m-46 10h0m-49 7h0m-6-11h0m-7-8h0m-2 20h0m-3-18h0m-4 4h0m-4 8h0m-19 5h0m-6-2h0m-2-15h0m-2 20h0m-1-8h0m-1-7h0m-8-5h0m-7 15h0m-8-16h0m-2 14h0m-4 8h0m-3-8h0m-3 6h0m-1-20h0m-2 16h0m-20-9h0m-5 10h0m-5-10h0m-8 12h0m-2-7h0m-7-10h0m-1 10h0m-5-4h0m0 10h0m-10-10h0m-8 0h0m-8-7h0m-12 5h0m-6 3h0m-4-6h0m-4-4h0m-9 0h0m-11 2h0m-50 44h0m70-13h0m4 4h0m36-4h0m12 14h0m4-7h0m5 6h0m3-9h0m9-3h0m3 10h0m12-7h0m3 6h0m2-9h0m13 10h0m1-16h0m1 5h0m12 2h0m0 5h0m4-12h0m9 13h0m4-17h0m8 18h0m9 1h0m11-3h0m6-8h0m4 12h0m3-4h0m11-16h0m11 9h0m23-1h0m4 4h0m6-9h0m9 13h0m9-1h0m15-14h0m93 29h0m-28-1h0m-65 0h0m-38-3h0m-15 21h0m-4-19h0m-13-3h0m-6 15h0m-22-1h0m-1-14h0m-1 21h0m-15-20h0m-14 21h0m-3-22h0m-5 12h0m-3 8h0m-3-11h0m-5-4h0m-6 3h0m-3-6h0m0 14h0m-6-6h0m-17-1h0m-10-5h0m-9-5h0m0 21h0m-17-9h0m-13-7h0m-3-5h0m-4 21h0m-47-3h0m-3-5h0m-7-1h0m-42 0h0m36 21h0m51-5h0m5 17h0m3-8h0m2-8h0m12-5h0m3 21h0m12-21h0m2 8h0m0 14h0m8-7h0m0 8h0m3-15h0m15 2h0m13 13h0m5-4h0m20-19h0m7 1h0m9 15h0m4-15h0m10 7h0m23 15h0m2-8h0m3 5h0m2-11h0m12 13h0m3-18h0m8-3h0m11 7h0m5 13h0m1-21h0m4 12h0m7-11h0m12 11h0m3-10h0m10 8h0m6-8h0m104 5h0m-143 36h0m-4-6h0m-19-8h0m0-5h0m-7 9h0m-6-6h0m-6-2h0m-3 20h0m-6 2h0m-4-19h0m-4-4h0m-3 7h0m-1 15h0m-4-22h0m-10 12h0m-2-7h0m-7-1h0m-5 6h0m-4 10h0m0-6h0m-5-10h0m-10 9h0m-12 1h0m-5-6h0m-15 4h0m-7-9h0m-7 11h0m-9 7h0m-1-11h0m-22 2h0m-9-6h0m-6 0h0m-4-3h0m-21 4h0m18 32h0m35 4h0m15-16h0m8 9h0m1-6h0m1 14h0m4-10h0m12-5h0m26 8h0m18 2h0m15 5h0m5-17h0m1 20h0m17-6h0m0 5h0m11 0h0m1-12h0m2-5h0m15 7h0m4-11h0m6 12h0m6 5h0m7 0h0m7-11h0m16 9h0m34-13h0m-12 38h0m-9-10h0m-11 5h0m-23-11h0m-16 5h0m-15 5h0m-3-4h0m-2 8h0m-5 1h0m-7-13h0m-3 12h0m0 5h0m-6-4h0m-6-14h0m0 18h0m-3-9h0m-2 11h0m-5-9h0m-22 2h0m0-8h0m-13 7h0m-14 2h0m-5-11h0m-26 16h0m-21-17h0m17 34h0m11-9h0m5 17h0m8-18h0m7 12h0m20-8h0m6-1h0m4-6h0m5 18h0m0-13h0m5 3h0m8 11h0m5-4h0m1-13h0m18 15h0m8 0h0m27-4h0m20-5h0m6-9h0m32 0h0m28 4h0m0 17h0m69-11h0m19 28h0m-66 1h0m-38 0h0m-8-9h0m-14-5h0m-5 14h0m-20-12h0m-18 1h0m-12-4h0m-15 16h0m0 6h0m-20-17h0m-4 17h0m-7-1h0m-5-4h0m-5-4h0m-4-13h0m-1 14h0m-10-14h0m-7 12h0m-5-9h0m-3 9h0m-11-1h0m-10-9h0m-1 13h0m-10-8h0m-36 8h0m-12 5h0m42 9h0m11 5h0m10-6h0m1 12h0m13-14h0m5 10h0m33-7h0m27 10h0m10 6h0m4-10h0m31 2h0m53-7h0m128 13h0m-67 25h0m-11-1h0m-26 3h0m-69-6h0m-64-16h0m-24 7h0m12 20h0m29 15h0m49-9h0m27 7h0m30-12h0m8 1h0m4 15h0m13 3h0m66-1h0m41-7h0m8 28h0m-108-13h0m-6 13h0m-15-4h0m-7 7h0m-5-14h0m-18 4h0m-3 6h0m-12-10h0m0 9h0m-17 5h0m-30-9h0m0 10h0m-23-7h0m-25-14h0m71 45h0m3-4h0m12 3h0m7-22h0m39 4h0m3 7h0m5 3h0m29 3h0m9-6h0m93 31h0m-3-5h0m-93-4h0m-27-4h0m-16-5h0m-58 15h0m-2-8h0m189 31h0"/><path stroke="#420c7e" d="M2780 2903h0m43-14h0m25-5h0m55 4h0m20 6h0m13-1h0m39 26h0m-17-7h0m-4 4h0m-20 4h0m0-7h0m-5-5h0m-106-2h0m-43 16h0m-2-6h0m-26 9h0m-8-2h0m35 7h0m32 1h0m13 8h0m126 7h0m4 5h0m7-15h0m4-6h0m5 7h0m14 10h0m6-1h0m7-18h0m1 13h0m13-3h0m4 5h0m12-7h0m1 11h0m0-5h0m53 29h0m-16-4h0m-14 0h0m-3-7h0m-2 11h0m-26-17h0m-3 12h0m-5 2h0m-17-13h0m-7 9h0m-24-5h0m-74 11h0m-98 1h0m-39-2h0m-7-9h0m-7 10h0m-4-6h0m-15 7h0m-8 4h0m-7-2h0m-30 22h0m10-12h0m0 8h0m6-12h0m9 19h0m7-11h0m7 7h0m2-10h0m10 1h0m5 6h0m6-5h0m9 0h0m15 7h0m15 4h0m193-6h0m8 6h0m12-1h0m22-5h0m5 6h0m3-7h0m9-8h0m9 10h0m23-11h0m12 4h0m8 3h0m7 3h0m8-11h0m11 18h0m0-6h0m11 27h0m-28-19h0m0 9h0m-1 6h0m-6 4h0m-5-19h0m-1 6h0m-10 8h0m-2-5h0m-3 4h0m-7 7h0m-2-7h0m-21-13h0m-6 12h0m-3-12h0m-10 2h0m-3 4h0m-1 7h0m-5 2h0m-12-13h0m-1 7h0m-6 1h0m-4 6h0m-159-2h0m-54-13h0m-3 22h0m-5-15h0m-2 15h0m-24-15h0m-10-4h0m-6-3h0m-15 9h0m-11-10h0m-5 3h0m-2 15h0m-15-11h0m-6-1h0m7 34h0m10 0h0m12-10h0m8 2h0m3 6h0m5-8h0m5 4h0m2 11h0m9-12h0m6 12h0m14-6h0m11-3h0m6-8h0m6 11h0m4-4h0m11 12h0m0-7h0m16-10h0m4 14h0m22-18h0m53 18h0m115-17h0m5 15h0m3-4h0m16 0h0m5 5h0m9 2h0m2-19h0m9-1h0m1 21h0m4-18h0m2 13h0m5-3h0m12 2h0m4-15h0m7 6h0m5-5h0m0 16h0m3-9h0m5 10h0m0-16h0m10 5h0m5 11h0m3-9h0m1 12h0m16-9h0m-1 19h0m-15 5h0m-5-4h0m-8 1h0m-13 13h0m-1-9h0m-4-10h0m-3 10h0m-3-7h0m-5-7h0m-18 23h0m-1-23h0m-3 11h0m-7 0h0m-10-6h0m-11 9h0m-6-8h0m-3 11h0m-14-11h0m-1 8h0m-10 3h0m-3-9h0m-3-7h0m-14 6h0m-12 12h0m-25-13h0m-76 13h0m-9-17h0m-19 6h0m-6-2h0m-26-4h0m-19 13h0m-13-13h0m-17 18h0m-6-1h0m-10 1h0m-6 3h0m-1-16h0m-2 11h0m-3-17h0m-3 7h0m-12 8h0m0-10h0m-7-5h0m-2 21h0m-3-17h0m-5 2h0m-7-6h0m-2 12h0m13 29h0m4-14h0m4 13h0m3-17h0m1 13h0m7 0h0m14-5h0m18 6h0m4-4h0m5 9h0m8-12h0m11 3h0m6-2h0m3-6h0m5 13h0m3-11h0m9 17h0m0-15h0m18-4h0m8 8h0m15-8h0m0 19h0m22-9h0m5-12h0m0 22h0m21-17h0m66 9h0m3 5h0m5 3h0m38-5h0m27 2h0m1-7h0m7 10h0m15-9h0m8 4h0m6-16h0m5 8h0m4 4h0m0-12h0m2 17h0m1-11h0m7 8h0m8 4h0m7-6h0m4-10h0m4 17h0m0-7h0m4-12h0m10 15h0m19-15h0m6 21h0m8 21h0m-6-15h0m-2 13h0m-7-13h0m-9 6h0m-11 7h0m-13-12h0m-4-4h0m-6 5h0m-13 7h0m-2-13h0m-5 3h0m-6-3h0m-4 8h0m-9 0h0m-8 4h0m-11 9h0m-20-17h0m-10-2h0m-6 5h0m-1 10h0m-4-13h0m-26 15h0m-5-14h0m-9 17h0m-71-9h0m-31-11h0m-26 21h0m-9-19h0m-54 8h0m-1-6h0m-6 16h0m-8-2h0m-3-6h0m-4-10h0m-1 13h0m-7-3h0m-2-5h0m-12-3h0m-6-1h0m-6 13h0m-6-6h0m12 23h0m18 12h0m7-4h0m6 0h0m4 4h0m0-18h0m5 6h0m5 11h0m16-12h0m2 7h0m9-1h0m1-12h0m2 18h0m12 1h0m1-19h0m6 3h0m18 2h0m25 10h0m7-16h0m9 17h0m24-3h0m17-7h0m12 9h0m18-13h0m57 14h0m7-11h0m8 10h0m6-15h0m1 8h0m8 2h0m9 9h0m10-6h0m29-17h0m5 17h0m2-13h0m10 17h0m22-16h0m3 10h0m7-14h0m11 9h0m5-1h0m4 7h0m3-13h0m1 18h0m7-1h0m2-9h0m3-7h0m13 43h0m-1-14h0m-5 10h0m-7-11h0m-4-6h0m-1 12h0m-5 4h0m-7 2h0m-14-6h0m-2-8h0m-1 15h0m-3-20h0m-10 0h0m-8 0h0m0 15h0m-9 1h0m-13-6h0m-5 11h0m-6-11h0m-8-5h0m-2-5h0m-4 14h0m-6-5h0m-1-10h0m-12 4h0m-19 5h0m-19 14h0m-6-8h0m-2 5h0m-8-8h0m-4 4h0m-8 0h0m-14-7h0m-3 5h0m-25 4h0m-3-4h0m-31-5h0m-11-3h0m-12-3h0m-24 4h0m-2 13h0m-14 3h0m-1-12h0m-16-1h0m-5-4h0m-14 2h0m-6-2h0m-8-5h0m-5 13h0m-5 8h0m-7-13h0m-12-2h0m-8 0h0m-8-4h0m-13-3h0m25 39h0m6 1h0m5 2h0m7-1h0m4-10h0m7-3h0m4 14h0m9-6h0m12-2h0m7-6h0m0 9h0m11 0h0m0-13h0m24 3h0m10 8h0m7-5h0m13 0h0m5 2h0m18 13h0m11 0h0m9-12h0m43-8h0m9 16h0m2-16h0m2 12h0m24-3h0m11 12h0m5-21h0m6 7h0m18 8h0m10 6h0m8-6h0m2 5h0m5-6h0m7-14h0m1 16h0m8 4h0m3-8h0m12-3h0m2 9h0m3-19h0m3 15h0m5-4h0m10-8h0m23 9h0m3-6h0m13 7h0m17-3h0m3 6h0m6 14h0m-19 3h0m-18-7h0m-19 0h0m-17 12h0m0-13h0m-8 13h0m-1-8h0m-10 17h0m-14-12h0m-4-11h0m-10 1h0m-1 16h0m-9-9h0m-5 8h0m-5 3h0m-5-4h0m-20-8h0m-3 5h0m-26-11h0m-4 8h0m-8 6h0m-1-15h0m-7 1h0m-8 21h0m-13-1h0m-5-13h0m-11 9h0m-1 5h0m-12-3h0m-3-6h0m-11 0h0m-7 7h0m-22-5h0m-15 1h0m-5-3h0m-26-9h0m-2 10h0m-15-7h0m-7 8h0m-1 5h0m-3-9h0m-10 5h0m-8-7h0m-2-9h0m-1 14h0m-13-14h0m-4 10h0m-8-2h0m-1-6h0m-5 0h0m24 25h0m17 2h0m14 7h0m28-6h0m4 4h0m6-2h0m9-4h0m1 5h0m6 4h0m7-2h0m7 6h0m5 5h0m9-5h0m2-6h0m7-1h0m6-10h0m6 18h0m6 5h0m5-21h0m3 7h0m0 8h0m4-16h0m13 13h0m14 1h0m0-7h0m30 13h0m3-10h0m12-9h0m31-2h0m9 19h0m17 4h0m8-19h0m7 13h0m9-6h0m54 9h0m15-15h0m33-5h0m4 8h0m7-6h0m-44 30h0m-5-4h0m-14 15h0m-1-19h0m-5 3h0m-13 11h0m-11-4h0m-10-7h0m-15 10h0m-25 3h0m-21-12h0m-30 3h0m-10 3h0m-11 10h0m-14-20h0m-2 18h0m-6-12h0m0 10h0m-2 7h0m-9-20h0m-1 8h0m-8 3h0m-7 4h0m0-7h0m-19-7h0m-4 8h0m-14-2h0m-3-9h0m0 14h0m-11 2h0m20 9h0m11-2h0m7 7h0m22 4h0m4-3h0m18 4h0m12-2h0m3-9h0m19 2h0m2 5h0m19 2h0m10 10h0m1-7h0m19-10h0m14 15h0m21 0h0m19-18h0m6 4h0m1 6h0m78-1h0m-11 33h0m-46-15h0m-3 7h0m-20 0h0m-17-2h0m-39-3h0m-7 2h0m-14-3h0m-36 7h0m-11-11h0m-8 0h0m186 27h0m-4 37h0m5 10h0"/><path stroke="#80ee24" d="M3130 3205h0m22 25h0m12-7h0m21 40h0m-17-8h0m-11-3h0m-18 1h0m-6 2h0m-39 7h0m-5 20h0m38-8h0m18-2h0m0 11h0m2-18h0m2 12h0m11-4h0m8-3h0m18 41h0m-17-9h0m-7-13h0m-2 10h0m-14-1h0m-5 6h0m-5 1h0m-11 0h0m-22 1h0m35 7h0m2 12h0m4 7h0m8-3h0m9-1h0m2-12h0m6-1h0m7-1h0m7 6h0m-22 16h0m-21 9h0m-5-2h0"/><path stroke="#1e3a4c" d="M2816 2953h0m297 252h0"/><path stroke="#161330" d="M2980 2929h0m-66 114h0m-66 115h0m334 53h0m-32-6h0m-39 28h0m41 2h0m32 19h0m-80 45h0m16 22h0m7 35h0m-5-17h0m-2 18h0m0 7h0m7 17h0m4-5h0"/><path stroke="#ee1ff0" d="M2807 2899h0m15-2h0m7-6h0m9 11h0m1-19h0m5 6h0m10 14h0m7-10h0m8-12h0m0 13h0m6 9h0m6-20h0m9 16h0m4-7h0m7 9h0m24-2h0m8-1h0m40 14h0m-16-8h0m-9 3h0m-8 1h0m0 19h0m-20-2h0m-3-20h0m-1 16h0m-3-8h0m-13 12h0m-22-3h0m-6-14h0m-8 13h0m-10 6h0m-16-15h0m-2 6h0m-4-8h0m-3 6h0m-3 10h0m-5-6h0m-5-13h0m-3 5h0m-3 7h0m-8 2h0m-14-11h0m-6-1h0m-9 17h0m-4-14h0m-10 10h0m-12 23h0m1-11h0m7 14h0m17-16h0m6 8h0m8-8h0m9 2h0m2 8h0m9-7h0m0 8h0m9-4h0m2-6h0m9 0h0m9 2h0m5 9h0m2 6h0m5-17h0m5 11h0m4-11h0m2 10h0m1-14h0m3 7h0m8 4h0m2-7h0m9 6h0m3-4h0m10 15h0m2-10h0m12 1h0m10-5h0m0 10h0m10-6h0m11 4h0m14-6h0m10 13h0m11-10h0m21 5h0m12-16h0m11 2h0m21 1h0m14 12h0m2 7h0m-24 19h0m-45-2h0m-13-10h0m-4 6h0m-5 5h0m-6-9h0m0 12h0m-8-18h0m-7 12h0m-8-8h0m-13-4h0m-6 16h0m-6 4h0m-1-11h0m-2-7h0m-6 6h0m-12-4h0m-10 2h0m-15-7h0m-11 11h0m-3 9h0m0-20h0m-7 21h0m-1-7h0m-4 7h0m-16-10h0m-13 7h0m-4-20h0m-8 4h0m-8 1h0m-3 12h0m-6 6h0m-3-11h0m-31 7h0m-13-12h0m-5 9h0m-2 11h0m22 19h0m2-21h0m8 21h0m14-19h0m2 13h0m0-7h0m5-1h0m9-6h0m2 16h0m13-10h0m2-5h0m9 3h0m15 6h0m1-9h0m7 19h0m11-7h0m3-11h0m0 16h0m14-13h0m11 13h0m5-18h0m2 6h0m7 1h0m4-5h0m6 7h0m6-8h0m2 6h0m8-4h0m5-4h0m14 21h0m3-5h0m0-7h0m7-3h0m7 10h0m4 6h0m5-13h0m2 8h0m4-18h0m10 0h0m2 6h0m7 5h0m22-1h0m25 2h0m16 2h0m21-11h0m34 31h0m-104-2h0m-7 7h0m-20-15h0m-3 7h0m-12 9h0m-4-5h0m-6 10h0m-4-10h0m-3 12h0m-8-17h0m-6 3h0m-14 7h0m-4 6h0m-2-20h0m0 12h0m-5 7h0m-1-10h0m-6-5h0m-5 7h0m-4 4h0m-1-7h0m-4-3h0m-14 12h0m-14 0h0m-1-18h0m-3 10h0m-5 7h0m-1-13h0m0 7h0m-8 8h0m-21-11h0m-8-5h0m-11 11h0m-7-3h0m-33 5h0m-54-13h0m-38 8h0m35 31h0m22 4h0m20-18h0m32-5h0m16 8h0m6 3h0m16 6h0m12 2h0m9-4h0m5-12h0m6-3h0m5 13h0m1-8h0m9 17h0m0-21h0m3 8h0m9 1h0m6 2h0m8 11h0m2-18h0m4 4h0m8 9h0m0-6h0m3 11h0m14-16h0m17-7h0m5 14h0m6-1h0m13 6h0m0-11h0m33 9h0m13-9h0m9-3h0m10 3h0m34 26h0m-10 9h0m-27-13h0m-4 13h0m-15-5h0m-11-9h0m-1 9h0m-17-12h0m-6 12h0m-3-13h0m-19 20h0m-3-10h0m-1 5h0m-7-4h0m-7 6h0m-5 2h0m-1-6h0m-17 4h0m-7 4h0m-6-3h0m-18-17h0m-4 5h0m-9-1h0m-15 12h0m-8 1h0m-29-14h0m-5 2h0m-36 10h0m-6 3h0m12 24h0m19-5h0m9-5h0m7 3h0m7 4h0m3 6h0m16-8h0m6 8h0m1-11h0m3-12h0m1 19h0m6-15h0m11 3h0m2 9h0m6 7h0m6-7h0m1-8h0m12-1h0m3-6h0m1 10h0m7-8h0m6 12h0m1-6h0m7 4h0m16-1h0m22-12h0m7 6h0m11 2h0m14 8h0m6-14h0m39 2h0m23 6h0m58 13h0m-37 23h0m-92-8h0m-10 3h0m-1-12h0m-8-5h0m-21 8h0m-6 4h0m-9-5h0m-6 0h0m-12 11h0m-3-14h0m-3 12h0m-7-16h0m-2 20h0m-2-15h0m-14 2h0m0-5h0m-5 7h0m-2 11h0m-7 3h0m-14-3h0m-12-15h0m-5 7h0m-1-7h0m-8 13h0m-15 0h0m-5 6h0m9 1h0m6 4h0m1 12h0m7 1h0m37-9h0m9-7h0m1 16h0m40-7h0m7-5h0m16-6h0m1 13h0m4-10h0m2 15h0m8-5h0m7-10h0m9 18h0m4-13h0m7-6h0m52 5h0m100 16h0m26-9h0m-41 23h0m-33-3h0m-20 5h0m-66-7h0m-45 12h0m-6-8h0m-8-7h0m-4 16h0m-21-9h0m-3-12h0m-13 20h0m-13-7h0m-5 8h0m-4-4h0m-11-5h0m-2-8h0m-8 18h0m-11-10h0m-10-10h0m-2 13h0m-6-13h0m-1 14h0m-65-1h0m55 30h0m12-17h0m32 8h0m20 7h0m18-5h0m5-5h0m1-9h0m5 12h0m16-10h0m4 16h0m20 5h0m4-14h0m5 4h0m1 7h0m17-19h0m14 4h0m10 0h0m118 25h0m-31-4h0m-16 19h0m-114-7h0m-11-10h0m-56 15h0m-83 11h0m43 10h0m116 3h0m9-2h0m12-14h0m5 18h0m7-7h0m15 9h0m2-15h0m35 5h0m137 18h0m-8 2h0m-82-8h0m-36 20h0m-41-13h0m0-8h0m-6 13h0m-17 2h0m-8 0h0m-74 5h0m-12-3h0m33 9h0m10 2h0m16 12h0m19 0h0m16-7h0m12 11h0m12-15h0m5 15h0m4-14h0m4 7h0m2-6h0m2 11h0m28-13h0m115 13h0m-63 23h0m-47-15h0m-43 6h0m-10 0h0m-5 3h0m0-10h0m-19 10h0m-13-4h0m138 28h0m38 31h0"/><path stroke="#420c7e" d="M2858 2899h0m57-11h0m112 38h0m-11-4h0m-2 5h0m-13-5h0m-13-13h0m-6 14h0m-8-17h0m-3 20h0m-165-11h0m-9 1h0m-2-5h0m-30 10h0m-14-1h0m-12 26h0m7-17h0m15 10h0m8 10h0m0-6h0m12 4h0m156-13h0m8-2h0m29 16h0m3-12h0m14 4h0m9-4h0m8 11h0m9-9h0m4 9h0m10-17h0m2 14h0m13 1h0m30 22h0m-6-9h0m-5 16h0m0-13h0m-7 11h0m0-5h0m-2-7h0m-18 3h0m-3-8h0m-8 2h0m-4 6h0m-4 8h0m-12-18h0m-19 4h0m-10 5h0m-1-8h0m-51 17h0m-130 3h0m-20-4h0m-3-12h0m-10 14h0m-69 22h0m4-12h0m1 10h0m2-14h0m20 13h0m5 4h0m14-15h0m5 12h0m16-8h0m60-5h0m1 16h0m162-2h0m10-7h0m0-7h0m7 18h0m1-13h0m13 2h0m4-3h0m7 12h0m11-17h0m10 6h0m3 15h0m2-17h0m10 17h0m4-6h0m2-5h0m3 10h0m6-4h0m4-12h0m13 15h0m1-7h0m14 24h0m-4 5h0m-3-17h0m-6 16h0m-16-5h0m-8 0h0m-12-8h0m-2 18h0m-11-15h0m-2 12h0m-1-20h0m-3 15h0m-11-5h0m-6 7h0m-5 0h0m0-7h0m-16 10h0m-5-2h0m-12 1h0m-55-2h0m-136-15h0m-16 9h0m-6 5h0m-1-12h0m-5 8h0m-23 6h0m-2-9h0m0-7h0m-32 13h0m-4 5h0m-8-4h0m-5-4h0m-2-6h0m-11-1h0m-3 14h0m-2-8h0m-14 12h0m4 4h0m8 5h0m1-7h0m10 8h0m4-9h0m8 1h0m1 12h0m8-11h0m14 14h0m11-12h0m1 6h0m9 11h0m0-10h0m8 12h0m14-11h0m0 11h0m39-10h0m39-3h0m114 4h0m29 9h0m4-16h0m26 13h0m11-8h0m4-5h0m21 1h0m6 13h0m0-17h0m4 6h0m1 8h0m11 3h0m24-7h0m2 7h0m5-8h0m10-6h0m4 12h0m6-16h0m4 17h0m-7 9h0m-1 9h0m-8 5h0m-1-13h0m-14 13h0m-6 1h0m-5-14h0m-8 17h0m-7-1h0m-5-17h0m0 7h0m-5 1h0m-16-8h0m-8-4h0m-3 16h0m-4-7h0m0 13h0m-9-2h0m-15-12h0m-38 12h0m-8-1h0m-48-7h0m-18 2h0m-17-1h0m-3-5h0m-4 12h0m-8-11h0m-3 9h0m-56-3h0m-11 2h0m-8 4h0m-2-8h0m-4 5h0m-7 2h0m-2-13h0m-7-1h0m-3 7h0m-7 2h0m-5-3h0m-14-9h0m-7 9h0m-11 0h0m-5 4h0m-7-15h0m-14 13h0m-6 6h0m-4-9h0m-2-6h0m-7 3h0m0 9h0m-5-17h0m12 31h0m4-5h0m0 12h0m9-5h0m8-4h0m6 17h0m0-23h0m1 7h0m7 13h0m5-3h0m9-15h0m5 5h0m2 13h0m6-17h0m9 5h0m6 8h0m9-16h0m21 23h0m18-21h0m49 16h0m29 4h0m12-3h0m25-16h0m33 4h0m23-2h0m23-1h0m6 3h0m8 3h0m6-4h0m8 10h0m10-6h0m5-4h0m4 17h0m13-11h0m4 4h0m14-8h0m10 2h0m2 13h0m18-15h0m1 9h0m10-8h0m4 5h0m7-8h0m5 11h0m1 24h0m-6 5h0m-9-21h0m-1 7h0m0 5h0m-5-2h0m-7 5h0m-8 3h0m-9-4h0m-9 5h0m-2-14h0m-7 9h0m-2-5h0m-7 8h0m-6 4h0m-11 1h0m-2-18h0m-9 4h0m-3 7h0m-7-8h0m-2-7h0m-2 9h0m-2 6h0m-2-16h0m-4 17h0m-2-7h0m-2 12h0m-19-10h0m-10-5h0m-22 9h0m-13-14h0m-84 7h0m-19 3h0m-18-1h0m-8 9h0m-18-9h0m-1 5h0m-9-1h0m-5 1h0m0-8h0m-1-6h0m-6 15h0m0-15h0m-4 4h0m-12 14h0m-7-17h0m-4 8h0m-5-9h0m-9 8h0m-5 11h0m-4-3h0m0-16h0m-4 11h0m-5 0h0m-2 5h0m-14-13h0m-6-3h0m11 29h0m2-7h0m5 5h0m6 1h0m0 12h0m4-6h0m1-9h0m6 12h0m6-1h0m21-10h0m4 9h0m1-9h0m26 5h0m3-7h0m1 18h0m4-11h0m7 13h0m9-7h0m16-6h0m10 7h0m14-5h0m18-2h0m9 6h0m50-8h0m12 2h0m9-3h0m12 14h0m7-19h0m21 6h0m5 16h0m6-1h0m5-11h0m6 6h0m7-8h0m0 14h0m15-9h0m6-12h0m3 6h0m12 7h0m5-8h0m1 15h0m2-20h0m4 13h0m24-13h0m1 19h0m4-6h0m3-9h0m5-5h0m7-1h0m3 6h0m5 11h0m14 0h0m3-16h0m8 14h0m3-9h0m25 37h0m-12-17h0m-4 11h0m-12-7h0m-6-5h0m-6 21h0m-2-7h0m-18-7h0m-5 13h0m-1-15h0m-1 8h0m-4-5h0m-8-5h0m-8 15h0m-6-17h0m-5 4h0m-5-6h0m-2 6h0m-9 13h0m-6-9h0m-13 7h0m0-11h0m-13 16h0m-11-7h0m-12 5h0m0-17h0m-28-2h0m-12 20h0m0-15h0m-3 6h0m-29-11h0m0 12h0m-1-6h0m-16-4h0m-7 6h0m-9-1h0m-31 9h0m-14-9h0m-32-2h0m-3-4h0m0 12h0m-7 4h0m-23-6h0m-3 9h0m-12-12h0m-5-5h0m-11-1h0m-3 18h0m-3-5h0m-5-4h0m-6 1h0m6 31h0m4-17h0m6 7h0m5-4h0m28 15h0m5-3h0m3-16h0m16 6h0m8-1h0m1 12h0m11 1h0m2-6h0m11-12h0m26-2h0m0 23h0m8-20h0m5 9h0m7-10h0m23 20h0m2-6h0m11-15h0m21 0h0m25 7h0m0 10h0m13-7h0m4 9h0m6-2h0m6-2h0m7-7h0m9-9h0m8 22h0m4-21h0m18 7h0m35 11h0m35-6h0m3-6h0m1 13h0m1-19h0m5 10h0m3-6h0m11 6h0m3 7h0m1-14h0m15 6h0m9-7h0m13 34h0m-10 1h0m-2-5h0m-4 6h0m-6 6h0m-2-20h0m-9-1h0m-1 7h0m-5 12h0m-1-8h0m-11-6h0m-23 2h0m-2 14h0m-6-13h0m-20 6h0m-17-9h0m-29 1h0m-5 15h0m-3-11h0m-5 7h0m-5 6h0m-10-1h0m-8-14h0m0 8h0m-1-16h0m-6 8h0m-13 14h0m-4-19h0m-4 5h0m-10-2h0m-11 13h0m-4-8h0m-12-11h0m0 18h0m-19-8h0m-9-4h0m-4 11h0m-9-4h0m-5-12h0m-9 7h0m-2 8h0m-4 7h0m-7-21h0m-7 0h0m-7-2h0m-4 4h0m0 16h0m-3-10h0m-3 10h0m-2-9h0m-7-7h0m0 8h0m-1 7h0m-5 3h0m-1-13h0m-8 2h0m-3 5h0m-6-15h0m-2 21h0m-2-7h0m-7-10h0m-4 11h0m-4-4h0m-1 11h0m-7 0h0m-12-16h0m-5 6h0m-2-6h0m33 18h0m1 5h0m13-2h0m12-2h0m12 17h0m0-15h0m3 10h0m15 4h0m5 5h0m14-17h0m5 8h0m15 5h0m18-2h0m12 5h0m0-7h0m5-11h0m18 0h0m9 4h0m4-3h0m7 6h0m5 11h0m3-16h0m5-3h0m6 15h0m13 3h0m5-17h0m23 16h0m40-8h0m9 5h0m5-6h0m9 11h0m4-12h0m3 4h0m1-14h0m6 6h0m1 9h0m12-14h0m8 7h0m33-5h0m31 6h0m-28 16h0m-2 13h0m-8-9h0m-17 9h0m-18-2h0m-6-5h0m-8-1h0m-3 10h0m-42-11h0m-18 12h0m-2-5h0m-7-12h0m-11 22h0m-11-18h0m-1 8h0m-18-4h0m-6 11h0m-6-14h0m-5 9h0m-3-5h0m-20-9h0m-16 9h0m-14-2h0m-1 6h0m-22-9h0m0 17h0m-9 2h0m-7-13h0m-4-4h0m-8 4h0m-8-4h0m-5-6h0m-10 3h0m73 22h0m3 9h0m7-3h0m2-6h0m8 15h0m9-6h0m7 8h0m4-11h0m17 2h0m24-7h0m34 16h0m10-8h0m2 8h0m10-17h0m27 1h0m6-2h0m29 12h0m4-6h0m19-2h0m54 26h0m-32 10h0m-54-12h0m-17-4h0m-32 3h0m-56 14h0m130 10h0m49 13h0m-3 11h0m-18 5h0m-35 36h0m28-10h0m-23 18h0"/><path stroke="#80ee24" d="M3107 3239h0m53-8h0m3 11h0m0 18h0m0-12h0m-16 4h0m-7 10h0m-15 0h0m-19-5h0m-3 11h0m16 17h0m13-2h0m18 3h0m2-5h0m6-13h0m1 16h0m2-5h0m27-5h0m4 8h0m-2 6h0m-10 3h0m-8 4h0m-24 12h0m-12-16h0m-3 18h0m-3-21h0m0 12h0m-8-2h0m-4 4h0m2 12h0m17 4h0m18 2h0m13 0h0m7 1h0m-12 21h0m-6 12h0m-11-15h0m-13-3h0"/><path stroke="#1e3a4c" d="M2881 3171h0m199 54h0"/><path stroke="#161330" d="M2908 2918h0m5 41h0m58 180h0m-25 48h0m178 18h0m-20 27h0m40 0h0m-60 25h0m25 30h0m30-17h0m-49 20h0m18 29h0m16 7h0m4 6h0m1 9h0m-1 6h0m-18 24h0m3 8h0m4-4h0m12-8h0m7 4h0m0-7h0m4-4h0m-25 26h0m-2 7h0m-4-7h0"/></g><circle cx="1644.8" cy="1534.4" r="4.8" fill="#1e3a4c"/><text x="1657" y="1540" font-size="17.8">G1-phase_SLC1A3/ATP1A1</text><circle cx="1644.8" cy="1560.9" r="4.8" fill="#161330"/><text x="1657" y="1566.5" font-size="17.8">G2-M_UBE2C/ASPM</text><circle cx="1644.8" cy="1587.4" r="4.8" fill="#420c7e"/><text x="1657" y="1593" font-size="17.8">MGE_CRABP1/MAF</text><circle cx="1644.8" cy="1613.9" r="4.8" fill="#ee1ff0"/><text x="1657" y="1619.5" font-size="17.8">MGE_CRABP1/TAC3</text><circle cx="1644.8" cy="1640.4" r="4.8" fill="#80ee24"/><text x="1657" y="1646" font-size="17.8">S-phase_MCM4/H43C</text><g transform="scale(.5)" fill="none" stroke-width="14" stroke-linecap="round"><path stroke="#fb9a99" d="M366 3570h0m291 1h0m-145 40h0m219 94h0m32 10h0m-27 18h0m-68 7h0m-78-9h0m-74 27h0m151 4h0m63-8h0m17 12h0m30 18h0m-32-1h0m-46-13h0m-16 15h0m-93-1h0m182 18h0m12 0h0m23 2h0m21-4h0m15 0h0m35 8h0m-42 12h0m-252 2h0m-21 16h0m-38 1h0m-107 6h0m154 14h0m65-9h0m53-8h0m44-1h0m70 35h0m-20-6h0m-9 17h0m-4-20h0m-31-3h0m-17 0h0m-45 5h0m-31 18h0m0-11h0m-28 11h0m-131-6h0m-254 12h0m220-2h0m163 17h0m88-14h0m13 12h0m28-12h0m70 24h0m-73-6h0m-17 19h0m-13-12h0m-41 15h0m-118-16h0m54 34h0m24 6h0m29-22h0m113 18h0m19 5h0m6 11h0m-43-5h0m-107 7h0m-19 0h0m-84 24h0m122 2h0m13 4h0m259 12h0m-148 10h0m-129-9h0m-44-2h0m28 40h0m58 23h0"/><path stroke="#33a02c" d="M584 3524h0m-86 38h0m-28 100h0m264 12h0m-393 138h0m54 13h0m-46 2h0m-104 28h0m273 4h0m-75 28h0m-16-19h0m-33-3h0m-45 20h0m-19-12h0m-70 8h0m21 15h0m105 3h0m59 11h0m27 10h0m-26 15h0m-22-16h0m-19 11h0m-20-7h0m-19 9h0m-34-19h0m-49 13h0m6 16h0m73 3h0m15 0h0m17-4h0m155 6h0m164-10h0m-254 45h0m-36-2h0m-33-4h0m-12-8h0m-36 5h0m-47-3h0m-44 5h0m45 28h0m7-13h0m73 6h0m21 10h0m9-7h0m51-1h0m148 6h0m-63 26h0m-126-15h0m-19 3h0m-20 4h0m-13-13h0m-61 14h0m-18 7h0m-38-22h0m16 39h0m27 3h0m22 4h0m0-18h0m24 15h0m34 4h0m29-10h0m25 6h0m5-15h0m23 18h0m22-18h0m26 6h0m26-8h0m-23 43h0m-28 1h0m-21-6h0m-93-5h0m-59 5h0m-25-16h0m32 35h0m47 2h0m13-8h0m40 7h0m28-7h0m17 3h0m32-3h0m-16 23h0"/><path stroke="#fdbf6f" d="M584 3601h0m-219 198h0m164 9h0m-57 30h0m-154-19h0m163 24h0m-48 50h0m38 1h0m54 5h0m61-6h0m55 38h0m-33-7h0m-77-5h0m-34-4h0m6 31h0m50-9h0m45 27h0m-13-1h0m-36 12h0m-67-9h0m-14 6h0m23 33h0m18-14h0m21 2h0m61-4h0m87-2h0m3 36h0m-74-3h0m-25-7h0m-139 23h0m77 11h0m18-2h0m122 3h0m13-15h0m178 43h0m-358-6h0m-90 11h0m22 16h0"/><path stroke="#ffff99" d="M575 3767h0m97 7h0m-213 10h0m241 10h0m-147 69h0m-10 52h0m-87 6h0m310 59h0m-172-3h0m-80 25h0"/><path stroke="#ff7f00" d="M477 3539h0m103 29h0m183-15h0m71-1h0m39 11h0m-37 45h0m54 11h0m-5 25h0m-30-18h0m31 54h0m-10 9h0m-22 5h0m-16 23h0m26-8h0m11 6h0m56 1h0m2 22h0m-14-15h0m-24 13h0m12 25h0m9-11h0m57 8h0m11 28h0m-54 1h0m-13-9h0m3 36h0m100 3h0m-53 21h0m-58-2h0m-64 6h0m21 4h0m21 10h0m28 19h0m-341 16h0m324 44h0m-39 20h0m36-6h0m64 9h0"/><path stroke="#b2df8a" d="M602 3522h0m12-7h0m50 7h0m70 5h0m-69 14h0m-20-4h0m-17 0h0m-18 7h0m-13-5h0m-148 7h0m-34-5h0m-22 9h0m249 5h0m28 14h0m22-13h0m12-2h0m15 10h0m133-10h0m-73 39h0m-49-16h0m-13 13h0m-9-9h0m-15 18h0m-13-14h0m-29 4h0m-45 6h0m-26-7h0m-14 3h0m-16-1h0m-41-6h0m-68 38h0m9-20h0m9 12h0m106-11h0m28 17h0m47-2h0m37 3h0m15-4h0m19 1h0m26-3h0m17-14h0m141 5h0m1 31h0m-158-1h0m-17-2h0m-68 10h0m-64-11h0m-77-5h0m-6 41h0m27-5h0m58-12h0m45-3h0m5 15h0m59-2h0m16 4h0m36 4h0m24-20h0m128 32h0m-70-1h0m-38 14h0m-29-11h0m-31 2h0m-12-9h0m-44 0h0m-17 10h0m-15-10h0m-38 6h0m-14-10h0m-11 21h0m-7-9h0m-38 0h0m-31 9h0m-51-14h0m21 39h0m55-15h0m40-1h0m33 15h0m20-7h0m29-11h0m39 15h0m9-9h0m144 19h0m-55 6h0m-10 9h0m-31-1h0m-105-6h0m-26-9h0m-100-4h0m34 25h0m29-1h0m10 16h0m88-14h0m182 9h0m81 6h0m-97 20h0m-61 0h0m-297 7h0m-43 9h0m115-3h0m37 9h0m145-6h0m-112 26h0m-122 7h0m306 37h0m-125 190h0"/><path stroke="#cab2d6" d="M274 3734h0m497 330h0m-104 20h0m43 13h0m77-6h0m-46 13h0"/><path stroke="#1f78b4" d="M772 3661h0m158 34h0m13 96h0m-734 7h0m550 10h0m139-4h0m45 2h0m73-4h0m-149 32h0m-103 5h0m-304-9h0m-46-14h0m406 40h0m20-3h0m88 6h0m19-13h0m45 4h0m53 4h0m-17 10h0m-34 14h0m-4-12h0m-9 6h0m-34 11h0m-110-18h0m-39-1h0m-41 14h0m-33 13h0m127 19h0m98-16h0m3 15h0m54-7h0m7-8h0m2 22h0m-14 10h0m-39-6h0m-31 7h0m-92-6h0m-13 5h0m-49-8h0m-10 11h0m-31 29h0m68-8h0m13 8h0m44-16h0m68 12h0m80-9h0m39 14h0m24 2h0m0 11h0m-76-4h0m-2 14h0m-35-2h0m-102-11h0m-28 2h0m-45 0h0m-57 12h0m-25-8h0m-14 3h0m83 13h0m8 14h0m23 1h0m19-9h0m18-11h0m29 10h0m41-12h0m16 8h0m19 4h0m20-1h0m39 4h0m34-5h0m27 1h0m-10 16h0m-11 9h0m-57-3h0m-14-9h0m-28 22h0m-25-11h0m-17 0h0m-9 8h0m-80-16h0m-30 20h0m-26-11h0m-65 0h0m-50-5h0m-1 15h0m14 4h0m68 11h0m27-1h0m20 2h0m13 8h0m26-17h0m37 8h0m12-4h0m12 6h0m2-12h0m24 9h0m43 4h0m12 0h0m2 11h0m-27-2h0m-6 20h0m-8-19h0m-38 0h0m-29 7h0m-9-6h0m-13 4h0m-170 5h0m125 29h0m19-17h0m3 14h0m21-13h0"/><path stroke="#a6cee3" d="M457 3525h0m178-3h0m-116 22h0m-50-14h0m-22 4h0m-11 11h0m-32-4h0m-20-4h0m-15 11h0m-29 1h0m-16 9h0m28 4h0m27-5h0m7 15h0m45 2h0m18-12h0m391 12h0m-377 6h0m-46 4h0m-20 9h0m-36 1h0m-17 2h0m-6-10h0m-13 3h0m-10-6h0m-22 16h0m-29 9h0m24 3h0m65-8h0m15-1h0m61-1h0m0 11h0m49-6h0m2 16h0m17 10h0m-24-1h0m-14 3h0m-55 10h0m-38-9h0m-21 12h0m-28-8h0m-50 7h0m-43-12h0m65 30h0m24-9h0m17 2h0m11 8h0m10 5h0m28-3h0m113-2h0m78 3h0m-77 15h0m-16 0h0m-79 8h0m-7-18h0m-48 8h0m-28-6h0m-39 6h0m-22 4h0m-13 8h0m-41 1h0m13 2h0m30 21h0m36-21h0m5 17h0m125-10h0m547 21h0m-378-3h0m-126 3h0m-19 5h0m-46 5h0m-96-2h0m-31 9h0m-90 14h0m26 6h0m2-13h0m14 0h0m37 16h0m44-19h0m53 9h0m14 1h0m129 3h0m41-4h0m223 1h0m-144 23h0m-173-7h0m-31 1h0m-38 11h0m-60 4h0m-29 4h0m-37-11h0m-78-6h0m33 36h0m12 0h0m15 1h0m29-12h0m47 2h0m25-9h0m6 17h0m21-17h0m25 6h0m19-3h0m87 1h0m514 6h0m-198 19h0m-197-5h0m-39 2h0m-201-2h0m-103 1h0m-36 15h0m-6-12h0m-44-3h0m-15 13h0m12 11h0m6 14h0m18-7h0m32-5h0m41 20h0m95-17h0m89 16h0m497 10h0m-530 9h0m-102-13h0m-35 4h0m-31 7h0m-3-10h0m10 26h0m12 14h0m0 13h0m171 36h0m160-22h0m-333 27h0m3 23h0m558 50h0m-115 20h0"/><path stroke="#b15928" d="M696 3688h0m-74 108h0m235 59h0m-241 173h0"/><path stroke="#6a3d9a" d="M488 3612h0m33 25h0m-91-5h0m28 21h0m447 11h0m-365 77h0m-81-7h0m-53 17h0m236 245h0m218 70h0m-19 15h0"/><path stroke="#a6cee3" d="M467 3545h0m-111 30h0m42-14h0m7 12h0m13-16h0m28 18h0m41-10h0m13 10h0m16-17h0m-85 32h0m-60-9h0m-67-4h0m-9 9h0m-29 11h0m-36 22h0m83-12h0m40 6h0m29-11h0m17 10h0m345 33h0m-184-6h0m-138 5h0m-21-17h0m-10 6h0m-39-4h0m-23-5h0m-102 47h0m6-12h0m43-5h0m19-6h0m66 2h0m32 5h0m53 3h0m34 12h0m362-7h0m-429 20h0m-61 3h0m-23-7h0m-129 26h0m10 12h0m39-17h0m49 6h0m4 11h0m16-16h0m40 7h0m20-9h0m62 15h0m169 24h0m-101-13h0m-14 13h0m-94-10h0m-51-7h0m-30 7h0m-95 10h0m-4-15h0m-16 12h0m-23-10h0m4 28h0m58 0h0m27 1h0m45-7h0m16 20h0m47-8h0m55-10h0m41 16h0m42 7h0m-45 8h0m-83-3h0m-70-8h0m-40 6h0m-13-5h0m-56 12h0m-39 2h0m-16 31h0m7-14h0m63-7h0m14 4h0m7 14h0m46-1h0m48-12h0m67 2h0m14-2h0m86 16h0m-60 2h0m-15 0h0m-65 8h0m-73 2h0m-18-10h0m-9 22h0m-88-12h0m39 29h0m96-1h0m56 4h0m21-7h0m107 11h0m-124 10h0m-56 11h0m-102-7h0m7 13h0m5 17h0m27 4h0m93-9h0m128 5h0m-68 43h0m-90 13h0m134 143h0"/><path stroke="#ffff99" d="M532 3589h0m-13 105h0m-89 139h0m206 89h0"/><path stroke="#fb9a99" d="M692 3580h0m-86 51h0m215 35h0m-193 28h0m294 9h0m-99 29h0m-50-1h0m37 15h0m-36 27h0m-42-5h0m-93 32h0m26 4h0m12 1h0m16 2h0m119-13h0m217 44h0m-177-4h0m-80-9h0m-13 1h0m-91-7h0m-48 4h0m-107 19h0m70 3h0m27 3h0m12-5h0m31 13h0m10-8h0m12-8h0m77 0h0m-95 44h0m-48-4h0m0-14h0m-14 2h0m-15 9h0m-68 7h0m36 13h0m24 7h0m29-3h0m27 1h0m9 9h0m46-23h0m22 19h0m64-7h0m15 3h0m8-14h0m46-1h0m-185 36h0m-59-9h0m-77-1h0m17 27h0m144 15h0m10-7h0m8 7h0m182-17h0m-202 28h0m-55 11h0m-11-12h0m-6 16h0m-297 25h0m436-12h0m-2 18h0m-333 25h0m229 4h0"/><path stroke="#6a3d9a" d="M548 3536h0m-50 81h0m53 97h0m3-10h0m147 131h0m-267 43h0m-151 123h0"/><path stroke="#fdbf6f" d="M177 3746h0m330 7h0m63 48h0m-31 17h0m-109 40h0m18-9h0m33 6h0m54 3h0m17-12h0m362 0h0m130 21h0m-416 3h0m-98 2h0m6 28h0m7 30h0m-154 23h0m62-8h0m30 3h0m41 7h0m68-4h0m42-12h0m211 13h0m-271 10h0m-73 14h0m-2-16h0m-25 0h0m-38 37h0m38-11h0m358 28h0m-240 8h0m-31-2h0m-66 6h0m-34 16h0m97-7h0m25 8h0m16 5h0m19-5h0m121 10h0m-186 4h0m-21 3h0m-10 5h0m-88-5h0m-39-2h0"/><path stroke="#33a02c" d="M802 3668h0m-349 93h0m332 6h0m-381 16h0m-99 27h0m327-18h0m-230 43h0m167 43h0m-226-3h0m-44 4h0m8 23h0m53-12h0m11 13h0m28-1h0m9-8h0m90 10h0m30-16h0m-98 42h0m-35-9h0m-26-7h0m-51 14h0m-11-6h0m-6 9h0m-32 8h0m24 13h0m30-10h0m29 12h0m13 2h0m55-20h0m1 12h0m38 7h0m33-18h0m262 40h0m-297-7h0m-15 8h0m-86-14h0m-40 14h0m-11-9h0m-45 11h0m20 8h0m42 19h0m10-18h0m16 9h0m3-13h0m12 0h0m28 2h0m177 19h0m125-9h0m-190 25h0m-53-11h0m-10 13h0m-39 4h0m-53-14h0m-18 4h0m-11 4h0m-62-13h0m-10 23h0m3 10h0m84-5h0m28 0h0m72 10h0m136-11h0m399 9h0m-474 15h0m-122 8h0m-15 10h0m-9-8h0m-8-9h0m-76 1h0m70 22h0m30 17h0m25-10h0m30-7h0m-32 40h0m-4-18h0m26 23h0"/><path stroke="#ff7f00" d="M543 3570h0m309-3h0m35 5h0m-23 14h0m-37 3h0m-20 12h0m8 49h0m16 8h0m22 13h0m43-21h0m23 19h0m14 9h0m-71 10h0m-67-7h0m108 18h0m67 39h0m-11 4h0m-71-20h0m-10 16h0m-8-7h0m-23 7h0m-594-14h0m568 28h0m61 7h0m106 10h0m-34 2h0m-28-1h0m-21 11h0m-29 3h0m-9 4h0m-9-20h0m98 40h0m10-6h0m-37 26h0m-28-7h0m-38-3h0m-200 14h0m367 49h0m-14-12h0m-85 5h0m-50 7h0m-19-12h0m43 21h0m18-2h0m-7 28h0m-44 12h0m-157 27h0m237-5h0m82-4h0"/><path stroke="#1f78b4" d="M480 3553h0m223 50h0m125 114h0m63 68h0m-57 4h0m-18 26h0m59-19h0m157 17h0m11 23h0m-27-5h0m-24 5h0m-108-1h0m-90 2h0m-49-18h0m-33 22h0m90 8h0m66 10h0m62-19h0m75 11h0m17-3h0m-168 34h0m-26-11h0m-13 29h0m22 1h0m23 2h0m11-9h0m57 12h0m49 5h0m56-5h0m25 19h0m-30 10h0m-49-3h0m-48-16h0m-76 16h0m-12 2h0m-32-1h0m-48-14h0m-61 16h0m-452-6h0m456 18h0m20 1h0m241-10h0m95 43h0m-19-8h0m-20 5h0m-4-15h0m-44 9h0m-35-12h0m-39 3h0m-12-3h0m-4 17h0m-17-5h0m-23-2h0m-42 9h0m-81-11h0m-155 24h0m56 9h0m90 3h0m72-13h0m13 0h0m14-5h0m28 19h0m18-6h0m11-14h0m48 14h0m102-7h0m16 17h0m-9 15h0m-13-9h0m-13 2h0m-15 12h0m-14-6h0m-11-6h0m-3 13h0m-71-12h0m-23 10h0m-44-1h0m-88-17h0m-56 36h0m25-5h0m66-9h0m146 3h0m-23 24h0m-2 19h0m-86-10h0m-50-9h0m-15 7h0m-52 5h0m4 16h0m-266 37h0"/><path stroke="#b15928" d="M707 3875h0m-203 18h0m184 32h0m-122 5h0m11 17h0"/><path stroke="#cab2d6" d="M245 3604h0m23 25h0m-19 15h0m41 39h0m468 98h0m-46 287h0m-47-7h0m67 26h0m34 2h0m-8 17h0"/><path stroke="#b2df8a" d="M553 3522h0m96 3h0m45-6h0m39 30h0m-16-8h0m-33 7h0m-66-12h0m-42 4h0m-10-9h0m-9 16h0m-49-7h0m-8 7h0m-5-14h0m29 38h0m3-12h0m92 1h0m20 10h0m58-5h0m53-13h0m4 10h0m52 13h0m47 23h0m-51-9h0m-16-13h0m-35 4h0m-111 11h0m-24 3h0m-6-12h0m-14-4h0m-30 1h0m-74 13h0m32 17h0m99-1h0m39-7h0m1 21h0m38 1h0m24-17h0m50 6h0m9 8h0m8-9h0m21 6h0m53-7h0m4 12h0m11-22h0m-8 41h0m-29-15h0m-20 8h0m-22 3h0m-32-10h0m-99 19h0m-21-16h0m-32 16h0m-90-17h0m-154 18h0m133 6h0m15 15h0m11-20h0m95 21h0m28-6h0m35-13h0m17 2h0m70 19h0m16-14h0m63 1h0m13 3h0m49 30h0m-52-18h0m-44 7h0m-116 6h0m-12-9h0m-56 17h0m-54-21h0m-55 15h0m-182 14h0m112 11h0m14-11h0m18 0h0m156 13h0m18-10h0m16 7h0m72-13h0m20-1h0m10 8h0m22 0h0m13-1h0m11 0h0m-45 18h0m-61 6h0m-31-2h0m-15-2h0m-112 18h0m-62-1h0m-62 17h0m21-11h0m168 12h0m56 1h0m27-2h0m28-10h0m53 6h0m38-9h0m-13 24h0m-148 19h0m-24-8h0m-70 9h0m-65-1h0m25 10h0m35 15h0m157 14h0m-139 27h0m104-3h0m17 15h0m97 99h0m-392 2h0m-15 7h0m163 93h0"/></g><rect x="54.2" y="1741.7" width="507.5" height="340.3" fill="none" stroke="#3a3a3a" stroke-width="1.3"/><text x="307.9" y="1732.7" font-size="19.5" text-anchor="middle">leiden</text><text x="307.9" y="2103" font-size="19.5" text-anchor="middle">UMAP1</text><text transform="translate(43.7 1911.9) rotate(-90)" text-anchor="middle" font-size="19.5">UMAP2</text><circle cx="584" cy="1768.8" r="5.3" fill="#a6cee3"/><text x="596.7" y="1775.8" font-size="19.5">0</text><circle cx="584" cy="1797.2" r="5.3" fill="#1f78b4"/><text x="596.7" y="1804.2" font-size="19.5">1</text><circle cx="584" cy="1825.7" r="5.3" fill="#b2df8a"/><text x="596.7" y="1832.7" font-size="19.5">2</text><circle cx="584" cy="1854.1" r="5.3" fill="#33a02c"/><text x="596.7" y="1861.1" font-size="19.5">3</text><circle cx="584" cy="1882.6" r="5.3" fill="#fb9a99"/><text x="596.7" y="1889.6" font-size="19.5">4</text><circle cx="584" cy="1911" r="5.3" fill="#fdbf6f"/><text x="596.7" y="1918" font-size="19.5">5</text><circle cx="584" cy="1939.5" r="5.3" fill="#ff7f00"/><text x="596.7" y="1946.5" font-size="19.5">6</text><circle cx="584" cy="1968" r="5.3" fill="#cab2d6"/><text x="596.7" y="1975" font-size="19.5">7</text><circle cx="584" cy="1996.4" r="5.3" fill="#6a3d9a"/><text x="596.7" y="2003.4" font-size="19.5">8</text><circle cx="584" cy="2024.9" r="5.3" fill="#ffff99"/><text x="596.7" y="2031.9" font-size="19.5">9</text><circle cx="584" cy="2053.3" r="5.3" fill="#b15928"/><text x="596.7" y="2060.3" font-size="19.5">10</text><g transform="scale(.5)" fill="none" stroke-width="14" stroke-linecap="round"><path stroke="#1ce6ff" d="M717 4369h0m70 35h0m-323 4h0m-196 49h0m-19 15h0m18 2h0m51-7h0m13 18h0m361-7h0m162 20h0m21 44h0m-102 16h0m-152-6h0m109 29h0m216 7h0m-172 12h0m-397 25h0m185-4h0m110-5h0m272 17h0m-214 22h0m-191-10h0m-125-1h0m276 25h0m354 25h0m-113 7h0m-127 2h0m-64-12h0m-222-5h0m-85 34h0m214-6h0m168 13h0m56-6h0m78 0h0m-18 22h0m-168 3h0m-287-12h0m-129-5h0m30 43h0m17-4h0m155 6h0m28 0h0m191-18h0m58-3h0m103 28h0m-251 2h0m-88-5h0m-234 13h0m-105 11h0m370 2h0m67 1h0m78 2h0m38-1h0m35 7h0m30-1h0m95 9h0m30-12h0m60 29h0m-54 6h0m-83-18h0m-31 19h0m-28-19h0m-18 6h0m-27 5h0m-72 3h0m-10-4h0m-108-8h0m-3 12h0m-64 21h0m85-5h0m151-5h0m27 3h0m8 9h0m45-2h0m40 1h0m58 10h0m-19 3h0m-25 9h0m-36 2h0m-43-14h0m-2 19h0m-62-11h0m-12 11h0m-20-5h0m-15 7h0m-44-9h0m-32-9h0m-122-3h0m259 34h0m24 1h0m30-4h0m37 2h0m32-1h0m-497 47h0"/><path stroke="#ba0900" d="M344 4423h0m17-2h0m81 28h0m-96 25h0m112 33h0m-45 3h0m61 19h0m60 2h0m144 21h0m-218-12h0m-60 15h0m33 22h0m310-1h0m-56 12h0m-171 11h0m-57 12h0m54 6h0m135-9h0m159 23h0m149 4h0m-140 7h0m-57 11h0m-14-7h0m-52-12h0m-15-2h0m-10 15h0m-94-5h0m-143 3h0m-35 7h0m-151-12h0m-73 4h0m300 21h0m38-8h0m128 20h0m25-17h0m-213 29h0m-33 19h0m17-3h0m223 6h0m67 7h0m33-13h0m35 11h0m46-1h0m67 2h0m-304 11h0m-129 19h0m169 11h0m214 1h0m-98 33h0m-208 10h0m46 2h0m331 15h0m-6 27h0m-338-6h0m-220 24h0m389 7h0m32-14h0m243-6h0m-533 46h0m239 17h0m109-7h0"/><path stroke="#6b7900" d="M398 4388h0m129-2h0m148 281h0m341 29h0m-179 32h0m42 38h0m185 56h0m-353 101h0"/><path stroke="#63ffac" d="M530 4699h0"/><path stroke="#b79762" d="M432 4418h0m27 24h0m446 67h0m-549 411h0"/><path stroke="#61615a" d="M241 4520h0m666 68h0m13 53h0m43 106h0m-364 16h0m-210 17h0"/><path stroke="#ffaa92" d="M698 4393h0m-205 117h0m-142-13h0m-142 129h0m158-15h0m508 12h0m-3 132h0m-176 28h0m75 35h0"/><path stroke="#ffff00" d="M614 4343h0m121 12h0m-86-3h0m-4 13h0m-16 0h0m-11-2h0m-34-11h0m-18 6h0m-226 18h0m13 13h0m26-5h0m14-7h0m25 7h0m31 6h0m0-17h0m67 12h0m42-11h0m18-6h0m66 15h0m42-7h0m9 7h0m26 8h0m35-2h0m9-9h0m72 0h0m52 19h0m-23 14h0m-12-19h0m-159 14h0m-82 2h0m-31-14h0m-14 10h0m-23-9h0m-18 2h0m-25 4h0m-69-2h0m-45-1h0m-20-3h0m-10 5h0m-18 11h0m-12 3h0m42 14h0m61-2h0m21 2h0m62 8h0m105-16h0m7 14h0m27-20h0m11 13h0m31-3h0m24-9h0m110 0h0m54 11h0m10 19h0m-21 3h0m-95-10h0m-64 5h0m-10 5h0m-38-1h0m-13 9h0m-43 0h0m-18 3h0m-77-6h0m-15 5h0m-17-11h0m-20 12h0m-86 14h0m19 7h0m53 4h0m61-6h0m15-15h0m149 8h0m67-9h0m7 9h0m32 4h0m25-12h0m13 13h0m58-10h0m60 37h0m-14-9h0m-13-5h0m-19 17h0m-20-7h0m-33 7h0m-11-1h0m-20-12h0m-8 14h0m-28 2h0m-51-18h0m-21 11h0m-15 0h0m-24-14h0m-46 20h0m-104-13h0m-14-4h0m-14 18h0m-160 18h0m35-15h0m25 12h0m20-8h0m95 11h0m37-13h0m10-3h0m14 18h0m20-1h0m65-8h0m18 5h0m6-12h0m3 17h0m130-10h0m34 10h0m46-15h0m46 14h0m9-9h0m1 21h0m-12 7h0m-81-6h0m-54 6h0m-136-8h0m-22-4h0m-20 7h0m-16 13h0m-69-11h0m-206 27h0m30 8h0m41-21h0m223 4h0m72 8h0m70-7h0m2 16h0m29-14h0m27 6h0m11 5h0m138-10h0m11-3h0m-16 32h0m-72-12h0m-24 9h0m-38 2h0m-35-3h0m-38 0h0m-15 1h0m-18-9h0m-271 0h0m-112 8h0m-66 3h0m60 22h0m213 7h0m95-7h0m32 12h0m80-21h0m14-2h0m69 19h0m71 4h0m68-2h0m30 0h0m20 0h0m15 11h0m-12 4h0m-261-9h0m-253 7h0m-200-5h0m-48 7h0m103 29h0m303 2h0m101-9h0m38 10h0m50-15h0m56 2h0m6 10h0m78 4h0m12 1h0m38-15h0m-114 23h0m-14 16h0m-237-6h0m-348 4h0m-13 12h0m459 2h0m105-5h0m113-4h0m39 28h0m-27-4h0m-288 4h0m-5 13h0m-141-15h0m-116 17h0m-86-7h0m-52 14h0m388 19h0m20 1h0m283-3h0m49-20h0m15 36h0m-1 11h0m-53-9h0m-23 5h0m-21 4h0m-74-9h0m-212-14h0m-250 9h0m-144 12h0m-34 10h0m55-2h0m26-5h0m61 2h0m39 2h0m104 18h0m497-22h0m-30 41h0m-10-15h0m-321 3h0m-77 2h0m-114 0h0m-34-6h0m-23-1h0m-28 2h0m-9 7h0m0 12h0m-49-20h0m0 16h0m-18 4h0m-47-17h0m30 35h0m64-15h0m31 17h0m51 4h0m15-6h0m19-10h0m7 15h0m26-8h0m155-10h0m177 18h0m86-11h0m13 0h0m-4 28h0m-241 9h0m-115-19h0m-77 17h0m0-18h0m-86 0h0m-61 21h0m-3-13h0m-9 12h0m-25-16h0m-73-4h0m40 25h0m32 12h0m14-14h0m20 15h0m21 6h0m19 0h0m11-8h0m17 1h0m38-6h0m28-1h0m-78 20h0m-59 4h0m22 23h0"/><path stroke="#1aae90" d="M508 4368h0m103 4h0m-346 64h0m132-15h0m101 23h0m-145-3h0m-120 45h0m415 18h0m-115-12h0m-190 17h0m-54-17h0m-13 16h0m-76 13h0m13 3h0m36 3h0m100 2h0m9 6h0m545-9h0m54 25h0m-449 1h0m-206-8h0m-10 15h0m-8-19h0m-31 11h0m-43-7h0m-40 39h0m7-10h0m22 2h0m44 5h0m27 1h0m4-20h0m185 0h0m35 4h0m46 3h0m107-8h0m217 22h0m110 3h0m-301 16h0m-97-7h0m-188 11h0m-70-9h0m-122-8h0m-26 23h0m40-2h0m28 16h0m40-7h0m61 8h0m12-7h0m14 7h0m335-5h0m177-10h0m-41 36h0m-506-11h0m-152 18h0m-21 3h0m37 18h0m196 4h0m40-19h0m51 10h0m44-4h0m58 6h0m151-4h0m282-10h0m-35 41h0m-161-16h0m-225 12h0m-23-9h0m-37-1h0m-54-3h0m-108 18h0m-92-1h0m-15-9h0m-20 6h0m-29-13h0m-42-1h0m59 38h0m15-14h0m12 2h0m99 9h0m83-3h0m45-6h0m24 3h0m17 4h0m154 0h0m22 6h0m149-12h0m69 6h0m5 18h0m-68-3h0m-117 9h0m-106-2h0m-20-2h0m-232 15h0m-78-21h0m-80 5h0m56 19h0m83 6h0m64-2h0m17 5h0m96-5h0m89 9h0m29-3h0m12-2h0m225 1h0m-94 15h0m-4 20h0m-151 1h0m-242-21h0m-102 19h0m-2 21h0m60-6h0m28 3h0m108-11h0m68 15h0m76 5h0m381-18h0m-122 41h0m-259-4h0m-75-10h0m-54-4h0m-257 8h0m-10-2h0m0 24h0m72-9h0m80 22h0m143-15h0m74 14h0m-65 14h0m-20 3h0m-44 25h0m201 2h0"/><path stroke="#ff34ff" d="M449 4676h0m518-11h0m-522 72h0m281 21h0"/><path stroke="#0000a6" d="M677 4448h0m152 350h0m-114-17h0m-130 8h0"/><path stroke="#004d43" d="M663 4842h0"/><path stroke="#61615a" d="M694 4346h0m-379 64h0m612 187h0m-90 95h0m178 51h0"/><path stroke="#0000a6" d="M670 4397h0m-30 48h0m-394 237h0m391 187h0"/><path stroke="#ba0900" d="M636 4350h0m-275 128h0m43-7h0m18 1h0m-80 20h0m-44 41h0m111-3h0m110-8h0m59-9h0m-144 43h0m-191-11h0m-58 35h0m108-8h0m211-2h0m330 3h0m-363 34h0m-35-9h0m-31 1h0m-1 11h0m2 18h0m76-5h0m89 5h0m263-12h0m-36 32h0m-26 4h0m-325-8h0m-86-1h0m-70-4h0m169 19h0m236 21h0m5-17h0m11 6h0m134 1h0m21 4h0m-27 7h0m-24 14h0m-18-3h0m-14 6h0m-13-3h0m-48-3h0m-16 11h0m-60 1h0m-94-13h0m-159 2h0m-79 3h0m-2-13h0m37 30h0m37 14h0m21-5h0m63 0h0m148-7h0m197 31h0m-111-11h0m-69 15h0m-368 0h0m153 26h0m268-23h0m154 9h0m19 8h0m-16 28h0m-238-18h0m-125 14h0m-15 6h0m-103-16h0m420 34h0m-482 33h0m398 18h0m-423 15h0"/><path stroke="#63ffac" d="M430 4459h0m-51 36h0m554 70h0m-417 21h0m-3 83h0m264 76h0"/><path stroke="#b79762" d="M382 4429h0m466 123h0m-548 154h0m-31 107h0m-19 56h0"/><path stroke="#004d43" d="M844 4453h0m-337 127h0m59-10h0m18 1h0m-95 14h0m89 32h0m289 44h0m-516 151h0m512 43h0m-105 77h0"/><path stroke="#ffff00" d="M597 4367h0m-43-17h0m-5 14h0m-54-4h0m-17 7h0m-21-15h0m-10 10h0m-122 23h0m45-10h0m34-7h0m32 5h0m31 0h0m14 8h0m17 8h0m2-14h0m20-4h0m99 17h0m46-19h0m39 12h0m29-4h0m120 4h0m20 9h0m-33 11h0m-34 2h0m-55 5h0m-21-4h0m-22 5h0m-51-10h0m-17-1h0m-44 8h0m-86 5h0m-22-19h0m-41 11h0m-76 6h0m-76 5h0m-49 18h0m154 7h0m79-6h0m9 6h0m4-20h0m33 18h0m7-20h0m19 0h0m14 14h0m15-15h0m4 12h0m22-5h0m34-5h0m63 12h0m23 4h0m29-6h0m24-8h0m14 18h0m9-22h0m5 12h0m29 7h0m30 2h0m29-3h0m-40 19h0m-30 8h0m-12-17h0m-29 4h0m-14 7h0m-33-12h0m-16 19h0m-29-18h0m-99 3h0m-120 12h0m-107 4h0m-14-7h0m-122-9h0m228 34h0m102-14h0m31 12h0m27-6h0m18 4h0m72 2h0m86 5h0m38 1h0m25 0h0m29-14h0m10-6h0m0 12h0m-54 13h0m-21 3h0m-42 5h0m-7-9h0m-20 9h0m-17 3h0m-11 3h0m-23-15h0m-60 2h0m-13 5h0m-32 4h0m-26-5h0m-90 2h0m-10-8h0m-78 12h0m-63 5h0m-75 7h0m331 8h0m43 0h0m69-6h0m7 18h0m3-19h0m25 18h0m4-19h0m48 20h0m35-1h0m43-17h0m57 3h0m-31 31h0m-18 9h0m-6-22h0m-36 8h0m-35 15h0m-29-16h0m-40 13h0m-29-14h0m-13-3h0m-104 9h0m-26-6h0m-100 9h0m-12-10h0m-90 7h0m-168 4h0m224 26h0m58-3h0m66 7h0m138-15h0m68-7h0m59 22h0m29-22h0m54 5h0m17-2h0m22 14h0m1 29h0m-251-17h0m-36-2h0m-157 5h0m16 24h0m109 15h0m85-19h0m88 17h0m5-18h0m36 10h0m30 6h0m5-19h0m19 7h0m38-7h0m25 6h0m55-1h0m-56 42h0m-636-1h0m-18-10h0m128 18h0m15 10h0m135 1h0m241-9h0m90-2h0m108 1h0m31 12h0m6-10h0m16 16h0m-16 10h0m-38 2h0m-44 6h0m-59-16h0m-20 3h0m-11-4h0m-29 16h0m-174-15h0m-26 14h0m-198-12h0m-174 37h0m25 1h0m255 4h0m210-7h0m267 1h0m17-13h0m-53 30h0m-126-2h0m-11 12h0m-187 3h0m-99-6h0m-11-3h0m-26-2h0m-19-9h0m-247 25h0m39 13h0m11-11h0m23 11h0m38 2h0m341-9h0m108-2h0m169-1h0m22-6h0m26 9h0m21 23h0m-154-9h0m-27 23h0m-236-14h0m-34 6h0m-75-9h0m-50 5h0m-16 9h0m-40-1h0m-39 0h0m-46 21h0m44 7h0m47-16h0m86 11h0m95-9h0m340 14h0m75-4h0m18 1h0m-430 27h0m-157-9h0m-127-5h0m-16 1h0m-21 23h0m144 5h0m10-11h0m3 12h0m60-15h0m68 15h0m265 23h0m-112-14h0m-59 15h0m-170 0h0m-43-6h0m-20 6h0m-8-9h0m-30 7h0m-53 3h0m-29-8h0m-22-3h0m19 40h0m49-12h0m45 3h0m51 6h0m213-4h0m18-13h0m93 27h0m-308 11h0m-19-3h0m-67 1h0"/><path stroke="#1aae90" d="M469 4357h0m281 22h0m-333 33h0m-12-12h0m-92 35h0m40-5h0m213-12h0m-341 44h0m88 20h0m340-10h0m217 16h0m-348 7h0m-207 7h0m-87-4h0m-28 34h0m79-8h0m230-3h0m245 6h0m100-6h0m-161 33h0m-373 1h0m-100-5h0m-16 12h0m8 13h0m13-10h0m36 3h0m99 14h0m487-17h0m141 31h0m-394-9h0m-141 1h0m-75-2h0m-99 17h0m-30-12h0m-8 16h0m-78-6h0m-2 27h0m63-7h0m28 5h0m47 2h0m8-14h0m315 9h0m17 4h0m262 21h0m-23-13h0m-15 10h0m-230 5h0m-13 0h0m-36-1h0m-22-4h0m-32-10h0m-164 18h0m-17 2h0m-8-16h0m-23 7h0m-95-7h0m-7 8h0m-8-10h0m-12 0h0m-42 5h0m15 26h0m53-9h0m3 11h0m41-3h0m297-2h0m47 10h0m12-5h0m130-3h0m178 0h0m17 6h0m-85 23h0m-149-2h0m-103-1h0m-19-11h0m-94 8h0m-70 5h0m-211 9h0m6 13h0m303 9h0m23-2h0m32-20h0m7 16h0m22-13h0m338 3h0m6 26h0m-168-6h0m-156-1h0m-21 22h0m-209-22h0m-4 19h0m-63-8h0m-63-4h0m0 30h0m136-9h0m47 15h0m29 3h0m11-11h0m11 9h0m31-5h0m32-11h0m291 39h0m-134-1h0m-92 4h0m-21-6h0m-113-6h0m-38-5h0m-107-1h0m-35 9h0m-24-11h0m-27 11h0m265 30h0m61-4h0m367-10h0m103 1h0m-503 40h0m-143-6h0m-120-11h0m39 34h0m66-9h0m180 15h0m9-21h0m123 34h0m-60 12h0m-88 0h0m-110 4h0m-45 57h0"/><path stroke="#ff34ff" d="M391 4461h0m384 64h0m-355 101h0m367-18h0m-333 110h0m51 2h0m-251 18h0m318 51h0m130 13h0"/><path stroke="#6b7900" d="M528 4456h0m-81 168h0m337 5h0m-215 76h0m200 22h0m-272 15h0m-73 4h0m-144 69h0m192-2h0m414-10h0m74 41h0"/><path stroke="#1ce6ff" d="M664 4349h0m-62 0h0m-186 20h0m264 43h0m-376-8h0m-38 21h0m22 14h0m5-12h0m136 12h0m424-13h0m-452 29h0m-72-4h0m-53 30h0m19-6h0m239 1h0m51 24h0m-295 10h0m517 24h0m-327 13h0m76 25h0m144 26h0m-91 7h0m-214 17h0m196-11h0m153 13h0m147-12h0m52 7h0m-342 24h0m-232 43h0m205 32h0m-43 28h0m-224 3h0m113 14h0m134 1h0m159 0h0m218-10h0m36 11h0m67 8h0m-75 12h0m-7-8h0m-12 10h0m-51-1h0m-30-4h0m-16-3h0m-26 6h0m-7 8h0m-17-7h0m-9 12h0m-10-18h0m-38 5h0m-60 9h0m2 20h0m49-4h0m16 12h0m11-19h0m44 15h0m14-5h0m57 10h0m40-12h0m134 36h0m-8-12h0m-49 9h0m-14-10h0m-31 7h0m-111 0h0m-9-17h0m-19 9h0m-23-1h0m-22 15h0m-44-16h0m-20-7h0m-24 1h0m-305 11h0m252 19h0m40 6h0m17-1h0m94-1h0m42 5h0m84-10h0m3 17h0m76-21h0m14 6h0m-47 19h0m-27 9h0m-37 1h0m-5-11h0m-10 19h0m-36-3h0m-22 5h0m-32-22h0m-32 6h0m-63-6h0m-28 7h0m-382 9h0m440 13h0m61 14h0m21 1h0m13 4h0m-58 10h0"/><path stroke="#ffaa92" d="M384 4364h0m-41 338h0m573 41h0m-322-1h0m-223-12h0m19 73h0m69 6h0m233 38h0"/></g><rect x="54.3" y="2155.5" width="507.5" height="339.8" fill="none" stroke="#3a3a3a" stroke-width="1.3"/><text x="308.1" y="2146.5" font-size="19.5" text-anchor="middle">Sample</text><text x="308.1" y="2516.3" font-size="19.5" text-anchor="middle">UMAP1</text><text transform="translate(43.8 2325.4) rotate(-90)" text-anchor="middle" font-size="19.5">UMAP2</text><circle cx="584.5" cy="2165" r="5.3" fill="#ffff00"/><text x="596.2" y="2172" font-size="19.5">H9_128d_org1</text><circle cx="584.5" cy="2193.9" r="5.3" fill="#1ce6ff"/><text x="596.2" y="2200.9" font-size="19.5">H9_60d_org1</text><circle cx="584.5" cy="2222.7" r="5.3" fill="#ff34ff"/><text x="596.2" y="2229.7" font-size="19.5">H9_67d_org1</text><circle cx="584.5" cy="2251.6" r="5.3" fill="#0000a6"/><text x="596.2" y="2258.6" font-size="19.5">h409B2_120d_org1</text><circle cx="584.5" cy="2280.5" r="5.3" fill="#63ffac"/><text x="596.2" y="2287.5" font-size="19.5">h409B2_128d_org1</text><circle cx="584.5" cy="2309.3" r="5.3" fill="#b79762"/><text x="596.2" y="2316.3" font-size="19.5">h409B2_60d_org1</text><circle cx="584.5" cy="2338.2" r="5.3" fill="#004d43"/><text x="596.2" y="2345.2" font-size="19.5">h409B2_67d_org1</text><circle cx="584.5" cy="2367.1" r="5.3" fill="#61615a"/><text x="596.2" y="2374.1" font-size="19.5">sojd_HipSci_1</text><circle cx="584.5" cy="2396" r="5.3" fill="#ba0900"/><text x="596.2" y="2403" font-size="19.5">sojd_HipSci_2</text><circle cx="584.5" cy="2424.8" r="5.3" fill="#6b7900"/><text x="596.2" y="2431.8" font-size="19.5">sojd_HipSci_3</text><circle cx="584.5" cy="2453.7" r="5.3" fill="#1aae90"/><text x="596.2" y="2460.7" font-size="19.5">wibj_64d_org1</text><circle cx="584.5" cy="2482.6" r="5.3" fill="#ffaa92"/><text x="596.2" y="2489.6" font-size="19.5">wibj_64d_org2</text><g stroke="#6a5a5a" stroke-width=".9"><circle cx="931.4" cy="1911.6" r="1" fill="#dcdcdc"/><circle cx="975.3" cy="1911.6" r="8.9" fill="#fcc4ad"/><circle cx="1019.1" cy="1911.6" r="9.5" fill="#fcab8f"/><circle cx="1062.9" cy="1911.6" r="11.9" fill="#fcab8f"/><circle cx="1106.8" cy="1911.6" r="3.5" fill="#fc8a6a"/><circle cx="1150.6" cy="1911.6" r="4" fill="#fedfd0"/><circle cx="1194.4" cy="1911.6" r="1" fill="#dcdcdc"/><circle cx="1238.2" cy="1911.6" r="8.3" fill="#fcab8f"/><circle cx="1282.1" cy="1911.6" r="1" fill="#ffebe2"/><circle cx="1325.9" cy="1911.6" r="2.5" fill="#ffebe2"/><circle cx="1369.7" cy="1911.6" r="2.8" fill="#ffebe2"/><circle cx="1457.4" cy="1911.6" r="6" fill="#f6583e"/><circle cx="1501.2" cy="1911.6" r="8.2" fill="#fb7353"/><circle cx="1545" cy="1911.6" r="1" fill="#dcdcdc"/><circle cx="931.4" cy="1954.6" r="0.8" fill="#dcdcdc"/><circle cx="975.3" cy="1954.6" r="13.7" fill="#f6583e"/><circle cx="1019.1" cy="1954.6" r="10.1" fill="#fcab8f"/><circle cx="1062.9" cy="1954.6" r="6.9" fill="#fedfd0"/><circle cx="1106.8" cy="1954.6" r="1" fill="#dcdcdc"/><circle cx="1150.6" cy="1954.6" r="11.9" fill="#f34c37"/><circle cx="1194.4" cy="1954.6" r="4" fill="#fcab8f"/><circle cx="1238.2" cy="1954.6" r="8.3" fill="#fcab8f"/><circle cx="1282.1" cy="1954.6" r="1.9" fill="#dcdcdc"/><circle cx="1325.9" cy="1954.6" r="4.4" fill="#fcab8f"/><circle cx="1369.7" cy="1954.6" r="6.9" fill="#fc8a6a"/><circle cx="1413.6" cy="1954.6" r="7.2" fill="#ce1a1e"/><circle cx="1457.4" cy="1954.6" r="1.2" fill="#dcdcdc"/><circle cx="1501.2" cy="1954.6" r="2.5" fill="#ffebe2"/><circle cx="1545" cy="1954.6" r="1.9" fill="#dcdcdc"/><circle cx="975.3" cy="1997.7" r="14.1" fill="#fb7353"/><circle cx="1019.1" cy="1997.7" r="10.7" fill="#fc8a6a"/><circle cx="1062.9" cy="1997.7" r="15.8" fill="#f6583e"/><circle cx="1106.8" cy="1997.7" r="1.8" fill="#dcdcdc"/><circle cx="1150.6" cy="1997.7" r="8.3" fill="#fcab8f"/><circle cx="1194.4" cy="1997.7" r="5.3" fill="#fc8a6a"/><circle cx="1238.2" cy="1997.7" r="9.5" fill="#fcab8f"/><circle cx="1325.9" cy="1997.7" r="6.2" fill="#fcab8f"/><circle cx="1369.7" cy="1997.7" r="8.2" fill="#fcab8f"/><circle cx="1413.6" cy="1997.7" r="1.9" fill="#ffebe2"/><circle cx="1457.4" cy="1997.7" r="1" fill="#dcdcdc"/><circle cx="1501.2" cy="1997.7" r="5" fill="#fcc4ad"/><circle cx="1545" cy="1997.7" r="1" fill="#dcdcdc"/><circle cx="931.4" cy="2040.7" r="1" fill="#dcdcdc"/><circle cx="975.3" cy="2040.7" r="10.1" fill="#fedfd0"/><circle cx="1019.1" cy="2040.7" r="10.9" fill="#fc8a6a"/><circle cx="1062.9" cy="2040.7" r="14.1" fill="#fb7353"/><circle cx="1106.8" cy="2040.7" r="3.4" fill="#fc8a6a"/><circle cx="1150.6" cy="2040.7" r="7.4" fill="#fcab8f"/><circle cx="1194.4" cy="2040.7" r="2.4" fill="#ffebe2"/><circle cx="1238.2" cy="2040.7" r="7.8" fill="#fcab8f"/><circle cx="1325.9" cy="2040.7" r="5" fill="#fcab8f"/><circle cx="1369.7" cy="2040.7" r="6.5" fill="#fcab8f"/><circle cx="1413.6" cy="2040.7" r="1.2" fill="#dcdcdc"/><circle cx="1457.4" cy="2040.7" r="1.9" fill="#ffebe2"/><circle cx="1501.2" cy="2040.7" r="6.2" fill="#fc8a6a"/><circle cx="931.4" cy="2083.8" r="1" fill="#dcdcdc"/><circle cx="975.3" cy="2083.8" r="8.1" fill="#fcc4ad"/><circle cx="1019.1" cy="2083.8" r="8.9" fill="#fc8a6a"/><circle cx="1062.9" cy="2083.8" r="8" fill="#fedfd0"/><circle cx="1106.8" cy="2083.8" r="1" fill="#dcdcdc"/><circle cx="1150.6" cy="2083.8" r="2.6" fill="#ffebe2"/><circle cx="1194.4" cy="2083.8" r="2.4" fill="#ffebe2"/><circle cx="1238.2" cy="2083.8" r="9.5" fill="#fb7353"/><circle cx="1325.9" cy="2083.8" r="3.1" fill="#ffebe2"/><circle cx="1369.7" cy="2083.8" r="3.1" fill="#ffebe2"/><circle cx="1413.6" cy="2083.8" r="1.1" fill="#dcdcdc"/><circle cx="1457.4" cy="2083.8" r="1.1" fill="#dcdcdc"/><circle cx="1501.2" cy="2083.8" r="4" fill="#fcc4ad"/><circle cx="975.3" cy="2126.8" r="9.5" fill="#fcab8f"/><circle cx="1019.1" cy="2126.8" r="8.3" fill="#fcab8f"/><circle cx="1062.9" cy="2126.8" r="8.3" fill="#fedfd0"/><circle cx="1150.6" cy="2126.8" r="2.6" fill="#ffebe2"/><circle cx="1194.4" cy="2126.8" r="1.2" fill="#dcdcdc"/><circle cx="1238.2" cy="2126.8" r="7.2" fill="#fcc4ad"/><circle cx="1282.1" cy="2126.8" r="1.5" fill="#dcdcdc"/><circle cx="1325.9" cy="2126.8" r="1.9" fill="#ffebe2"/><circle cx="1369.7" cy="2126.8" r="1.9" fill="#ffebe2"/><circle cx="1457.4" cy="2126.8" r="3.8" fill="#fc8a6a"/><circle cx="1501.2" cy="2126.8" r="6.5" fill="#fb7353"/><circle cx="975.3" cy="2169.8" r="12.5" fill="#fb7353"/><circle cx="1019.1" cy="2169.8" r="9.3" fill="#fcc4ad"/><circle cx="1062.9" cy="2169.8" r="14.3" fill="#fb7353"/><circle cx="1106.8" cy="2169.8" r="5.7" fill="#f6583e"/><circle cx="1150.6" cy="2169.8" r="12.5" fill="#f6583e"/><circle cx="1194.4" cy="2169.8" r="10.5" fill="#ce1a1e"/><circle cx="1238.2" cy="2169.8" r="11.9" fill="#fb7353"/><circle cx="1282.1" cy="2169.8" r="1.2" fill="#dcdcdc"/><circle cx="1325.9" cy="2169.8" r="15.2" fill="#67000d"/><circle cx="1369.7" cy="2169.8" r="16" fill="#a10e15"/><circle cx="1413.6" cy="2169.8" r="5" fill="#fcab8f"/><circle cx="1457.4" cy="2169.8" r="1.5" fill="#dcdcdc"/><circle cx="1501.2" cy="2169.8" r="3.5" fill="#ffebe2"/><circle cx="975.3" cy="2212.9" r="3.4" fill="#ffebe2"/><circle cx="1019.1" cy="2212.9" r="7.4" fill="#fcc4ad"/><circle cx="1062.9" cy="2212.9" r="12.5" fill="#fcc4ad"/><circle cx="1106.8" cy="2212.9" r="3.4" fill="#fc8a6a"/><circle cx="1150.6" cy="2212.9" r="10.1" fill="#fb7353"/><circle cx="1194.4" cy="2212.9" r="4.2" fill="#fcab8f"/><circle cx="1238.2" cy="2212.9" r="11.3" fill="#f6583e"/><circle cx="1282.1" cy="2212.9" r="3.1" fill="#ce1a1e"/><circle cx="1325.9" cy="2212.9" r="9.4" fill="#fb7353"/><circle cx="1369.7" cy="2212.9" r="7.5" fill="#fcc4ad"/><circle cx="1457.4" cy="2212.9" r="5.7" fill="#fc8a6a"/><circle cx="1501.2" cy="2212.9" r="2.2" fill="#ffebe2"/><circle cx="1545" cy="2212.9" r="4.4" fill="#ce1a1e"/><circle cx="975.3" cy="2255.9" r="8.9" fill="#fcc4ad"/><circle cx="1019.1" cy="2255.9" r="10.5" fill="#fc8a6a"/><circle cx="1062.9" cy="2255.9" r="13.7" fill="#f6583e"/><circle cx="1106.8" cy="2255.9" r="2.4" fill="#fc8a6a"/><circle cx="1150.6" cy="2255.9" r="7.2" fill="#fcab8f"/><circle cx="1194.4" cy="2255.9" r="8.1" fill="#f34c37"/><circle cx="1238.2" cy="2255.9" r="5.3" fill="#fcc4ad"/><circle cx="1325.9" cy="2255.9" r="5.7" fill="#fcab8f"/><circle cx="1369.7" cy="2255.9" r="4.4" fill="#fedfd0"/><circle cx="1457.4" cy="2255.9" r="2.5" fill="#fc8a6a"/><circle cx="1501.2" cy="2255.9" r="5.7" fill="#fcab8f"/><circle cx="975.3" cy="2299" r="10.7" fill="#fcab8f"/><circle cx="1019.1" cy="2299" r="10.7" fill="#fcab8f"/><circle cx="1062.9" cy="2299" r="9.5" fill="#fcc4ad"/><circle cx="1106.8" cy="2299" r="4" fill="#fb7353"/><circle cx="1150.6" cy="2299" r="8.3" fill="#fcab8f"/><circle cx="1238.2" cy="2299" r="4.2" fill="#fedfd0"/><circle cx="1282.1" cy="2299" r="2.5" fill="#f6583e"/><circle cx="1457.4" cy="2299" r="7.2" fill="#f34c37"/><circle cx="1501.2" cy="2299" r="4.4" fill="#fcc4ad"/><circle cx="975.3" cy="2342" r="9.5" fill="#fcab8f"/><circle cx="1019.1" cy="2342" r="9.5" fill="#fc8a6a"/><circle cx="1062.9" cy="2342" r="12.5" fill="#f6583e"/><circle cx="1238.2" cy="2342" r="5.3" fill="#fedfd0"/><circle cx="1325.9" cy="2342" r="5.7" fill="#fcab8f"/><circle cx="1369.7" cy="2342" r="5.7" fill="#fcab8f"/><circle cx="1457.4" cy="2342" r="5.7" fill="#f6583e"/></g><rect x="852.6" y="1868.7" width="815.8" height="515.4" fill="none" stroke="#111" stroke-width="1.4"/><text x="836.7" y="1918.9" font-size="19.5" text-anchor="end">0</text><text x="836.7" y="1961.9" font-size="19.5" text-anchor="end">1</text><text x="836.7" y="2005" font-size="19.5" text-anchor="end">2</text><text x="836.7" y="2048" font-size="19.5" text-anchor="end">3</text><text x="836.7" y="2091.1" font-size="19.5" text-anchor="end">4</text><text x="836.7" y="2134.1" font-size="19.5" text-anchor="end">5</text><text x="836.7" y="2177.1" font-size="19.5" text-anchor="end">6</text><text x="836.7" y="2220.2" font-size="19.5" text-anchor="end">7</text><text x="836.7" y="2263.2" font-size="19.5" text-anchor="end">8</text><text x="836.7" y="2306.3" font-size="19.5" text-anchor="end">9</text><text x="836.7" y="2349.3" font-size="19.5" text-anchor="end">10</text><text transform="translate(893.3 2401.6) rotate(-90)" text-anchor="end" font-size="19.5">SLC17A6</text><text transform="translate(937.1 2401.6) rotate(-90)" text-anchor="end" font-size="19.5">SLC17A7</text><text transform="translate(981 2401.6) rotate(-90)" text-anchor="end" font-size="19.5">GAD2</text><text transform="translate(1024.8 2401.6) rotate(-90)" text-anchor="end" font-size="19.5">FOXG1</text><text transform="translate(1068.6 2401.6) rotate(-90)" text-anchor="end" font-size="19.5">ERBB4</text><text transform="translate(1112.5 2401.6) rotate(-90)" text-anchor="end" font-size="19.5">RBFOX3</text><text transform="translate(1156.3 2401.6) rotate(-90)" text-anchor="end" font-size="19.5">NKX2-1</text><text transform="translate(1200.1 2401.6) rotate(-90)" text-anchor="end" font-size="19.5">ETV1</text><text transform="translate(1243.9 2401.6) rotate(-90)" text-anchor="end" font-size="19.5">LHX6</text><text transform="translate(1287.8 2401.6) rotate(-90)" text-anchor="end" font-size="19.5">LHX8</text><text transform="translate(1331.6 2401.6) rotate(-90)" text-anchor="end" font-size="19.5">CRABP1</text><text transform="translate(1375.4 2401.6) rotate(-90)" text-anchor="end" font-size="19.5">ANGPT2</text><text transform="translate(1419.3 2401.6) rotate(-90)" text-anchor="end" font-size="19.5">TAC3</text><text transform="translate(1463.1 2401.6) rotate(-90)" text-anchor="end" font-size="19.5">STXBP6</text><text transform="translate(1506.9 2401.6) rotate(-90)" text-anchor="end" font-size="19.5">MAF</text><text transform="translate(1550.8 2401.6) rotate(-90)" text-anchor="end" font-size="19.5">ZIC1</text><text transform="translate(1594.6 2401.6) rotate(-90)" text-anchor="end" font-size="19.5">GBX1</text><text transform="translate(1638.4 2401.6) rotate(-90)" text-anchor="end" font-size="19.5">GBX2</text><path d="M852.6 1911.6h-8M852.6 1954.6h-8M852.6 1997.7h-8M852.6 2040.7h-8M852.6 2083.8h-8M852.6 2126.8h-8M852.6 2169.8h-8M852.6 2212.9h-8M852.6 2255.9h-8M852.6 2299h-8M852.6 2342h-8M887.6 2384.1v8M931.4 2384.1v8M975.3 2384.1v8M1019.1 2384.1v8M1062.9 2384.1v8M1106.8 2384.1v8M1150.6 2384.1v8M1194.4 2384.1v8M1238.2 2384.1v8M1282.1 2384.1v8M1325.9 2384.1v8M1369.7 2384.1v8M1413.6 2384.1v8M1457.4 2384.1v8M1501.2 2384.1v8M1545 2384.1v8M1588.9 2384.1v8M1632.7 2384.1v8" stroke="#111" stroke-width="1.5"/><rect x="817.5" y="2151.2" width="880" height="43.2" fill="none" stroke="#ec1cec" stroke-width="2.8"/><text x="1803.4" y="2142" font-size="19" text-anchor="middle">Fraction of cells</text><text x="1803.4" y="2164" font-size="19" text-anchor="middle">in group (%)</text><circle cx="1725" cy="2195" r="6" fill="#828282" stroke="#707070" stroke-width=".8"/><path d="M1725 2217.6v8.4" stroke="#111" stroke-width="1.5"/><text x="1725" y="2249.2" font-size="19" text-anchor="middle">20</text><circle cx="1771.8" cy="2195" r="9.9" fill="#828282" stroke="#707070" stroke-width=".8"/><path d="M1771.8 2217.6v8.4" stroke="#111" stroke-width="1.5"/><text x="1771.8" y="2249.2" font-size="19" text-anchor="middle">40</text><circle cx="1818.2" cy="2195" r="13.2" fill="#828282" stroke="#707070" stroke-width=".8"/><path d="M1818.2 2217.6v8.4" stroke="#111" stroke-width="1.5"/><text x="1818.2" y="2249.2" font-size="19" text-anchor="middle">60</text><circle cx="1864.6" cy="2195" r="16.3" fill="#828282" stroke="#707070" stroke-width=".8"/><path d="M1864.6 2217.6v8.4" stroke="#111" stroke-width="1.5"/><text x="1864.6" y="2249.2" font-size="19" text-anchor="middle">80</text><text x="1803.4" y="2325.3" font-size="19" text-anchor="middle">Mean expression</text><text x="1803.4" y="2347.3" font-size="19" text-anchor="middle">in group</text><rect x="1711.5" y="2361" width="183.1" height="23" fill="url(#gR)" stroke="#111" stroke-width="1.2"/><path d="M1760 2384v8" stroke="#111" stroke-width="1.5"/><text x="1760" y="2417" font-size="19" text-anchor="middle">0</text><path d="M1825.9 2384v8" stroke="#111" stroke-width="1.5"/><text x="1825.9" y="2417" font-size="19" text-anchor="middle">1</text><path d="M1891.8 2384v8" stroke="#111" stroke-width="1.5"/><text x="1891.8" y="2417" font-size="19" text-anchor="middle">2</text><text x="0.5" y="60.4" font-size="40" font-weight="bold">a</text><text x="1326.5" y="56.5" font-size="40" font-weight="bold">b</text><text x="1335" y="654" font-size="40" font-weight="bold">c</text><text x="655.5" y="1452" font-size="40" font-weight="bold">d</text><text x="1310.5" y="1456" font-size="40" font-weight="bold">e</text><text x="1.5" y="1743.5" font-size="40" font-weight="bold">f</text><text x="1.5" y="2150" font-size="40" font-weight="bold">g</text><text x="783" y="1809" font-size="40" font-weight="bold">h</text></svg></body></html>
